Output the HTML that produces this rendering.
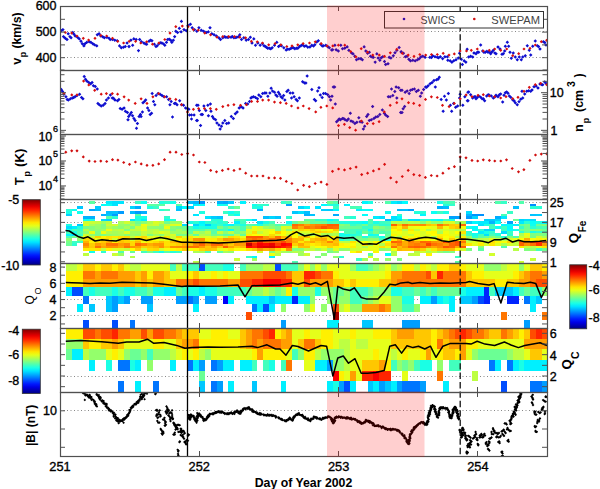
<!DOCTYPE html>
<html><head><meta charset="utf-8"><style>html,body{margin:0;padding:0;background:#fff;overflow:hidden}svg{display:block}</style></head>
<body><svg width="600" height="489" viewBox="0 0 600 489"><defs>
<clipPath id="c0"><rect x="60" y="6" width="487" height="64"/></clipPath>
<clipPath id="c1"><rect x="60" y="70" width="487" height="64"/></clipPath>
<clipPath id="c2"><rect x="60" y="134" width="487" height="65"/></clipPath>
<clipPath id="c3"><rect x="60" y="199" width="487" height="64"/></clipPath>
<clipPath id="c4"><rect x="60" y="263" width="487" height="65"/></clipPath>
<clipPath id="c5"><rect x="60" y="328" width="487" height="64"/></clipPath>
<clipPath id="c6"><rect x="60" y="392" width="487" height="64"/></clipPath>
<linearGradient id="jetg" x1="0" y1="0" x2="0" y2="1"><stop offset="0.00" stop-color="#800000"/><stop offset="0.05" stop-color="#b30000"/><stop offset="0.10" stop-color="#e50000"/><stop offset="0.15" stop-color="#ff1a00"/><stop offset="0.20" stop-color="#ff4c00"/><stop offset="0.25" stop-color="#ff8000"/><stop offset="0.30" stop-color="#ffb300"/><stop offset="0.35" stop-color="#ffe500"/><stop offset="0.40" stop-color="#e5ff1a"/><stop offset="0.45" stop-color="#b3ff4c"/><stop offset="0.50" stop-color="#80ff80"/><stop offset="0.55" stop-color="#4cffb3"/><stop offset="0.60" stop-color="#1affe5"/><stop offset="0.65" stop-color="#00e5ff"/><stop offset="0.70" stop-color="#00b3ff"/><stop offset="0.75" stop-color="#0080ff"/><stop offset="0.80" stop-color="#004cff"/><stop offset="0.85" stop-color="#001aff"/><stop offset="0.90" stop-color="#0000e5"/><stop offset="0.95" stop-color="#0000b3"/><stop offset="1.00" stop-color="#000080"/></linearGradient>
</defs>
<rect x="0" y="0" width="600" height="489" fill="#fff"/>
<line x1="60" y1="31.5" x2="547" y2="31.5" stroke="#888" stroke-width="1" stroke-dasharray="1 2.5"/>
<line x1="60" y1="57.5" x2="547" y2="57.5" stroke="#888" stroke-width="1" stroke-dasharray="1 2.5"/>
<line x1="60" y1="202.5" x2="547" y2="202.5" stroke="#888" stroke-width="1" stroke-dasharray="1 2.5"/>
<line x1="60" y1="222.5" x2="547" y2="222.5" stroke="#888" stroke-width="1" stroke-dasharray="1 2.5"/>
<line x1="60" y1="242.5" x2="547" y2="242.5" stroke="#888" stroke-width="1" stroke-dasharray="1 2.5"/>
<line x1="60" y1="267.5" x2="547" y2="267.5" stroke="#888" stroke-width="1" stroke-dasharray="1 2.5"/>
<line x1="60" y1="283.5" x2="547" y2="283.5" stroke="#888" stroke-width="1" stroke-dasharray="1 2.5"/>
<line x1="60" y1="299.5" x2="547" y2="299.5" stroke="#888" stroke-width="1" stroke-dasharray="1 2.5"/>
<line x1="60" y1="315.5" x2="547" y2="315.5" stroke="#888" stroke-width="1" stroke-dasharray="1 2.5"/>
<line x1="60" y1="333.5" x2="547" y2="333.5" stroke="#888" stroke-width="1" stroke-dasharray="1 2.5"/>
<line x1="60" y1="354.5" x2="547" y2="354.5" stroke="#888" stroke-width="1" stroke-dasharray="1 2.5"/>
<line x1="60" y1="376.5" x2="547" y2="376.5" stroke="#888" stroke-width="1" stroke-dasharray="1 2.5"/>
<line x1="60" y1="410.5" x2="547" y2="410.5" stroke="#888" stroke-width="1" stroke-dasharray="1 2.5"/>
<g shape-rendering="crispEdges">
<rect x="65.80" y="223.62" width="5.85" height="2.51" fill="#1cffe3"/>
<rect x="65.80" y="233.46" width="5.85" height="2.51" fill="#00f6ff"/>
<rect x="65.80" y="231.00" width="5.85" height="2.51" fill="#3fffc0"/>
<rect x="65.80" y="228.54" width="5.85" height="2.51" fill="#1affe5"/>
<rect x="65.80" y="226.08" width="5.85" height="2.51" fill="#00dcff"/>
<rect x="65.80" y="240.85" width="5.85" height="2.51" fill="#76ff89"/>
<rect x="65.80" y="238.38" width="5.85" height="2.51" fill="#8fff70"/>
<rect x="65.80" y="235.92" width="5.85" height="2.51" fill="#4affb5"/>
<rect x="65.80" y="243.31" width="5.85" height="2.51" fill="#6bff94"/>
<rect x="65.80" y="213.77" width="5.85" height="2.51" fill="#00d1ff"/>
<rect x="65.80" y="211.31" width="5.85" height="2.51" fill="#18ffe7"/>
<rect x="65.80" y="208.85" width="5.85" height="2.51" fill="#2affd5"/>
<rect x="71.60" y="233.46" width="5.85" height="2.51" fill="#00dfff"/>
<rect x="71.60" y="231.00" width="5.85" height="2.51" fill="#19ffe6"/>
<rect x="71.60" y="228.54" width="5.85" height="2.51" fill="#51ffae"/>
<rect x="71.60" y="226.08" width="5.85" height="2.51" fill="#00eeff"/>
<rect x="71.60" y="240.85" width="5.85" height="2.51" fill="#3dffc2"/>
<rect x="71.60" y="235.92" width="5.85" height="2.51" fill="#71ff8e"/>
<rect x="71.60" y="243.31" width="5.85" height="2.51" fill="#2cffd3"/>
<rect x="71.60" y="208.85" width="5.85" height="2.51" fill="#0cfff3"/>
<rect x="77.41" y="223.62" width="5.85" height="2.51" fill="#00cbff"/>
<rect x="77.41" y="233.46" width="5.85" height="2.51" fill="#3cffc3"/>
<rect x="77.41" y="231.00" width="5.85" height="2.51" fill="#53ffac"/>
<rect x="77.41" y="228.54" width="5.85" height="2.51" fill="#39ffc6"/>
<rect x="77.41" y="226.08" width="5.85" height="2.51" fill="#23ffdc"/>
<rect x="77.41" y="240.85" width="5.85" height="2.51" fill="#3dffc2"/>
<rect x="77.41" y="238.38" width="5.85" height="2.51" fill="#93ff6c"/>
<rect x="77.41" y="235.92" width="5.85" height="2.51" fill="#9fff60"/>
<rect x="77.41" y="211.31" width="5.85" height="2.51" fill="#11ffee"/>
<rect x="77.41" y="206.38" width="5.85" height="2.51" fill="#00c7ff"/>
<rect x="83.21" y="221.15" width="5.85" height="2.51" fill="#cfff30"/>
<rect x="83.21" y="233.46" width="5.85" height="2.51" fill="#d1ff2e"/>
<rect x="83.21" y="231.00" width="5.85" height="2.51" fill="#94ff6b"/>
<rect x="83.21" y="228.54" width="5.85" height="2.51" fill="#b6ff49"/>
<rect x="83.21" y="226.08" width="5.85" height="2.51" fill="#79ff86"/>
<rect x="83.21" y="223.62" width="5.85" height="2.51" fill="#dcff23"/>
<rect x="83.21" y="238.38" width="5.85" height="2.51" fill="#ffd500"/>
<rect x="83.21" y="235.92" width="5.85" height="2.51" fill="#f1ff0e"/>
<rect x="83.21" y="240.85" width="5.85" height="2.51" fill="#ffb100"/>
<rect x="83.21" y="245.77" width="5.85" height="2.51" fill="#ffa400"/>
<rect x="83.21" y="243.31" width="5.85" height="2.51" fill="#ff8700"/>
<rect x="83.21" y="248.23" width="5.85" height="2.51" fill="#ffed00"/>
<rect x="83.21" y="253.15" width="5.85" height="2.51" fill="#beff41"/>
<rect x="83.21" y="218.69" width="5.85" height="2.51" fill="#0efff1"/>
<rect x="83.21" y="216.23" width="5.85" height="2.51" fill="#00b3ff"/>
<rect x="89.02" y="221.15" width="5.85" height="2.51" fill="#c9ff36"/>
<rect x="89.02" y="233.46" width="5.85" height="2.51" fill="#95ff6a"/>
<rect x="89.02" y="231.00" width="5.85" height="2.51" fill="#ebff14"/>
<rect x="89.02" y="228.54" width="5.85" height="2.51" fill="#86ff79"/>
<rect x="89.02" y="226.08" width="5.85" height="2.51" fill="#81ff7e"/>
<rect x="89.02" y="223.62" width="5.85" height="2.51" fill="#acff53"/>
<rect x="89.02" y="238.38" width="5.85" height="2.51" fill="#ffd700"/>
<rect x="89.02" y="235.92" width="5.85" height="2.51" fill="#ccff33"/>
<rect x="89.02" y="240.85" width="5.85" height="2.51" fill="#fff100"/>
<rect x="89.02" y="245.77" width="5.85" height="2.51" fill="#ffcb00"/>
<rect x="89.02" y="243.31" width="5.85" height="2.51" fill="#ffcf00"/>
<rect x="89.02" y="248.23" width="5.85" height="2.51" fill="#ffea00"/>
<rect x="89.02" y="250.69" width="5.85" height="2.51" fill="#15ffea"/>
<rect x="89.02" y="218.69" width="5.85" height="2.51" fill="#22ffdd"/>
<rect x="89.02" y="216.23" width="5.85" height="2.51" fill="#00b0ff"/>
<rect x="89.02" y="208.85" width="5.85" height="2.51" fill="#00a4ff"/>
<rect x="89.02" y="201.46" width="5.85" height="2.51" fill="#5effa1"/>
<rect x="94.82" y="221.15" width="5.85" height="2.51" fill="#c0ff3f"/>
<rect x="94.82" y="233.46" width="5.85" height="2.51" fill="#76ff89"/>
<rect x="94.82" y="231.00" width="5.85" height="2.51" fill="#7dff82"/>
<rect x="94.82" y="228.54" width="5.85" height="2.51" fill="#8bff74"/>
<rect x="94.82" y="226.08" width="5.85" height="2.51" fill="#94ff6b"/>
<rect x="94.82" y="223.62" width="5.85" height="2.51" fill="#9cff63"/>
<rect x="94.82" y="238.38" width="5.85" height="2.51" fill="#ecff13"/>
<rect x="94.82" y="235.92" width="5.85" height="2.51" fill="#ffd300"/>
<rect x="94.82" y="240.85" width="5.85" height="2.51" fill="#ffdb00"/>
<rect x="94.82" y="245.77" width="5.85" height="2.51" fill="#ff7100"/>
<rect x="94.82" y="243.31" width="5.85" height="2.51" fill="#ff9c00"/>
<rect x="94.82" y="248.23" width="5.85" height="2.51" fill="#ffe700"/>
<rect x="94.82" y="208.85" width="5.85" height="2.51" fill="#00bbff"/>
<rect x="94.82" y="206.38" width="5.85" height="2.51" fill="#00cbff"/>
<rect x="100.62" y="221.15" width="5.85" height="2.51" fill="#a1ff5e"/>
<rect x="100.62" y="233.46" width="5.85" height="2.51" fill="#7dff82"/>
<rect x="100.62" y="231.00" width="5.85" height="2.51" fill="#edff12"/>
<rect x="100.62" y="228.54" width="5.85" height="2.51" fill="#9cff63"/>
<rect x="100.62" y="226.08" width="5.85" height="2.51" fill="#82ff7d"/>
<rect x="100.62" y="223.62" width="5.85" height="2.51" fill="#7eff81"/>
<rect x="100.62" y="238.38" width="5.85" height="2.51" fill="#ffe400"/>
<rect x="100.62" y="235.92" width="5.85" height="2.51" fill="#fff500"/>
<rect x="100.62" y="240.85" width="5.85" height="2.51" fill="#ffca00"/>
<rect x="100.62" y="245.77" width="5.85" height="2.51" fill="#ffa600"/>
<rect x="100.62" y="243.31" width="5.85" height="2.51" fill="#ffb400"/>
<rect x="100.62" y="248.23" width="5.85" height="2.51" fill="#c3ff3c"/>
<rect x="100.62" y="250.69" width="5.85" height="2.51" fill="#2effd1"/>
<rect x="100.62" y="218.69" width="5.85" height="2.51" fill="#00d8ff"/>
<rect x="100.62" y="213.77" width="5.85" height="2.51" fill="#00b2ff"/>
<rect x="100.62" y="203.92" width="5.85" height="2.51" fill="#05fffa"/>
<rect x="106.43" y="221.15" width="5.85" height="2.51" fill="#b9ff46"/>
<rect x="106.43" y="233.46" width="5.85" height="2.51" fill="#92ff6d"/>
<rect x="106.43" y="231.00" width="5.85" height="2.51" fill="#b1ff4e"/>
<rect x="106.43" y="228.54" width="5.85" height="2.51" fill="#ebff14"/>
<rect x="106.43" y="226.08" width="5.85" height="2.51" fill="#b0ff4f"/>
<rect x="106.43" y="223.62" width="5.85" height="2.51" fill="#cdff32"/>
<rect x="106.43" y="238.38" width="5.85" height="2.51" fill="#ffe200"/>
<rect x="106.43" y="235.92" width="5.85" height="2.51" fill="#ffe400"/>
<rect x="106.43" y="240.85" width="5.85" height="2.51" fill="#ffaf00"/>
<rect x="106.43" y="245.77" width="5.85" height="2.51" fill="#ff9200"/>
<rect x="106.43" y="243.31" width="5.85" height="2.51" fill="#ff7500"/>
<rect x="106.43" y="248.23" width="5.85" height="2.51" fill="#fff600"/>
<rect x="106.43" y="218.69" width="5.85" height="2.51" fill="#00d0ff"/>
<rect x="106.43" y="216.23" width="5.85" height="2.51" fill="#59ffa6"/>
<rect x="106.43" y="213.77" width="5.85" height="2.51" fill="#00c7ff"/>
<rect x="106.43" y="211.31" width="5.85" height="2.51" fill="#00beff"/>
<rect x="106.43" y="203.92" width="5.85" height="2.51" fill="#0bfff4"/>
<rect x="106.43" y="201.46" width="5.85" height="2.51" fill="#00eeff"/>
<rect x="112.23" y="233.46" width="5.85" height="2.51" fill="#9cff63"/>
<rect x="112.23" y="231.00" width="5.85" height="2.51" fill="#a5ff5a"/>
<rect x="112.23" y="228.54" width="5.85" height="2.51" fill="#b9ff46"/>
<rect x="112.23" y="226.08" width="5.85" height="2.51" fill="#9aff65"/>
<rect x="112.23" y="223.62" width="5.85" height="2.51" fill="#d0ff2f"/>
<rect x="112.23" y="238.38" width="5.85" height="2.51" fill="#caff35"/>
<rect x="112.23" y="235.92" width="5.85" height="2.51" fill="#ffeb00"/>
<rect x="112.23" y="240.85" width="5.85" height="2.51" fill="#ffef00"/>
<rect x="112.23" y="245.77" width="5.85" height="2.51" fill="#ff9200"/>
<rect x="112.23" y="243.31" width="5.85" height="2.51" fill="#ff7100"/>
<rect x="112.23" y="248.23" width="5.85" height="2.51" fill="#dcff23"/>
<rect x="112.23" y="253.15" width="5.85" height="2.51" fill="#c9ff36"/>
<rect x="112.23" y="216.23" width="5.85" height="2.51" fill="#2dffd2"/>
<rect x="112.23" y="213.77" width="5.85" height="2.51" fill="#009bff"/>
<rect x="112.23" y="211.31" width="5.85" height="2.51" fill="#00c0ff"/>
<rect x="112.23" y="203.92" width="5.85" height="2.51" fill="#00e5ff"/>
<rect x="112.23" y="201.46" width="5.85" height="2.51" fill="#00e1ff"/>
<rect x="118.04" y="221.15" width="5.85" height="2.51" fill="#aaff55"/>
<rect x="118.04" y="233.46" width="5.85" height="2.51" fill="#a4ff5b"/>
<rect x="118.04" y="231.00" width="5.85" height="2.51" fill="#aeff51"/>
<rect x="118.04" y="228.54" width="5.85" height="2.51" fill="#c1ff3e"/>
<rect x="118.04" y="226.08" width="5.85" height="2.51" fill="#8bff74"/>
<rect x="118.04" y="223.62" width="5.85" height="2.51" fill="#97ff68"/>
<rect x="118.04" y="238.38" width="5.85" height="2.51" fill="#ffcc00"/>
<rect x="118.04" y="235.92" width="5.85" height="2.51" fill="#ffde00"/>
<rect x="118.04" y="240.85" width="5.85" height="2.51" fill="#ffc200"/>
<rect x="118.04" y="245.77" width="5.85" height="2.51" fill="#ffa800"/>
<rect x="118.04" y="243.31" width="5.85" height="2.51" fill="#ff9b00"/>
<rect x="118.04" y="248.23" width="5.85" height="2.51" fill="#daff25"/>
<rect x="118.04" y="250.69" width="5.85" height="2.51" fill="#52ffad"/>
<rect x="118.04" y="253.15" width="5.85" height="2.51" fill="#9bff64"/>
<rect x="118.04" y="211.31" width="5.85" height="2.51" fill="#009cff"/>
<rect x="118.04" y="201.46" width="5.85" height="2.51" fill="#00e4ff"/>
<rect x="123.84" y="221.15" width="5.85" height="2.51" fill="#ceff31"/>
<rect x="123.84" y="233.46" width="5.85" height="2.51" fill="#86ff79"/>
<rect x="123.84" y="231.00" width="5.85" height="2.51" fill="#daff25"/>
<rect x="123.84" y="228.54" width="5.85" height="2.51" fill="#7bff84"/>
<rect x="123.84" y="226.08" width="5.85" height="2.51" fill="#a7ff58"/>
<rect x="123.84" y="223.62" width="5.85" height="2.51" fill="#91ff6e"/>
<rect x="123.84" y="238.38" width="5.85" height="2.51" fill="#ffda00"/>
<rect x="123.84" y="235.92" width="5.85" height="2.51" fill="#ffd500"/>
<rect x="123.84" y="240.85" width="5.85" height="2.51" fill="#ffd100"/>
<rect x="123.84" y="245.77" width="5.85" height="2.51" fill="#ff7700"/>
<rect x="123.84" y="243.31" width="5.85" height="2.51" fill="#ff8900"/>
<rect x="123.84" y="248.23" width="5.85" height="2.51" fill="#c4ff3b"/>
<rect x="129.64" y="221.15" width="5.85" height="2.51" fill="#9bff64"/>
<rect x="129.64" y="233.46" width="5.85" height="2.51" fill="#9fff60"/>
<rect x="129.64" y="231.00" width="5.85" height="2.51" fill="#a1ff5e"/>
<rect x="129.64" y="228.54" width="5.85" height="2.51" fill="#c2ff3d"/>
<rect x="129.64" y="226.08" width="5.85" height="2.51" fill="#7eff81"/>
<rect x="129.64" y="223.62" width="5.85" height="2.51" fill="#b4ff4b"/>
<rect x="129.64" y="238.38" width="5.85" height="2.51" fill="#d4ff2b"/>
<rect x="129.64" y="235.92" width="5.85" height="2.51" fill="#c4ff3b"/>
<rect x="129.64" y="240.85" width="5.85" height="2.51" fill="#ffdc00"/>
<rect x="129.64" y="245.77" width="5.85" height="2.51" fill="#ff9600"/>
<rect x="129.64" y="243.31" width="5.85" height="2.51" fill="#ffd900"/>
<rect x="129.64" y="248.23" width="5.85" height="2.51" fill="#ffff00"/>
<rect x="129.64" y="250.69" width="5.85" height="2.51" fill="#64ff9b"/>
<rect x="129.64" y="218.69" width="5.85" height="2.51" fill="#00e9ff"/>
<rect x="129.64" y="211.31" width="5.85" height="2.51" fill="#00b9ff"/>
<rect x="129.64" y="206.38" width="5.85" height="2.51" fill="#00d3ff"/>
<rect x="129.64" y="255.62" width="5.85" height="2.51" fill="#b6ff49"/>
<rect x="135.45" y="221.15" width="5.85" height="2.51" fill="#6aff95"/>
<rect x="135.45" y="233.46" width="5.85" height="2.51" fill="#8fff70"/>
<rect x="135.45" y="231.00" width="5.85" height="2.51" fill="#a0ff5f"/>
<rect x="135.45" y="228.54" width="5.85" height="2.51" fill="#c2ff3d"/>
<rect x="135.45" y="226.08" width="5.85" height="2.51" fill="#ccff33"/>
<rect x="135.45" y="223.62" width="5.85" height="2.51" fill="#89ff76"/>
<rect x="135.45" y="238.38" width="5.85" height="2.51" fill="#ffdf00"/>
<rect x="135.45" y="235.92" width="5.85" height="2.51" fill="#ffee00"/>
<rect x="135.45" y="240.85" width="5.85" height="2.51" fill="#ffb900"/>
<rect x="135.45" y="245.77" width="5.85" height="2.51" fill="#ffa400"/>
<rect x="135.45" y="243.31" width="5.85" height="2.51" fill="#ff6f00"/>
<rect x="135.45" y="248.23" width="5.85" height="2.51" fill="#ffce00"/>
<rect x="135.45" y="218.69" width="5.85" height="2.51" fill="#1fffe0"/>
<rect x="135.45" y="216.23" width="5.85" height="2.51" fill="#20ffdf"/>
<rect x="135.45" y="213.77" width="5.85" height="2.51" fill="#59ffa6"/>
<rect x="135.45" y="211.31" width="5.85" height="2.51" fill="#0099ff"/>
<rect x="135.45" y="206.38" width="5.85" height="2.51" fill="#00adff"/>
<rect x="135.45" y="201.46" width="5.85" height="2.51" fill="#35ffca"/>
<rect x="141.25" y="221.15" width="5.85" height="2.51" fill="#8cff73"/>
<rect x="141.25" y="233.46" width="5.85" height="2.51" fill="#c0ff3f"/>
<rect x="141.25" y="231.00" width="5.85" height="2.51" fill="#c4ff3b"/>
<rect x="141.25" y="228.54" width="5.85" height="2.51" fill="#e7ff18"/>
<rect x="141.25" y="226.08" width="5.85" height="2.51" fill="#e1ff1e"/>
<rect x="141.25" y="223.62" width="5.85" height="2.51" fill="#efff10"/>
<rect x="141.25" y="238.38" width="5.85" height="2.51" fill="#ffe200"/>
<rect x="141.25" y="235.92" width="5.85" height="2.51" fill="#ffd500"/>
<rect x="141.25" y="240.85" width="5.85" height="2.51" fill="#f0ff0f"/>
<rect x="141.25" y="245.77" width="5.85" height="2.51" fill="#ffd000"/>
<rect x="141.25" y="243.31" width="5.85" height="2.51" fill="#ff8200"/>
<rect x="141.25" y="248.23" width="5.85" height="2.51" fill="#cdff32"/>
<rect x="141.25" y="250.69" width="5.85" height="2.51" fill="#43ffbc"/>
<rect x="141.25" y="218.69" width="5.85" height="2.51" fill="#00f0ff"/>
<rect x="141.25" y="216.23" width="5.85" height="2.51" fill="#17ffe8"/>
<rect x="141.25" y="211.31" width="5.85" height="2.51" fill="#00b1ff"/>
<rect x="141.25" y="201.46" width="5.85" height="2.51" fill="#0cfff3"/>
<rect x="147.06" y="221.15" width="5.85" height="2.51" fill="#b2ff4d"/>
<rect x="147.06" y="233.46" width="5.85" height="2.51" fill="#82ff7d"/>
<rect x="147.06" y="231.00" width="5.85" height="2.51" fill="#b5ff4a"/>
<rect x="147.06" y="228.54" width="5.85" height="2.51" fill="#b4ff4b"/>
<rect x="147.06" y="226.08" width="5.85" height="2.51" fill="#93ff6c"/>
<rect x="147.06" y="223.62" width="5.85" height="2.51" fill="#c4ff3b"/>
<rect x="147.06" y="238.38" width="5.85" height="2.51" fill="#ffe500"/>
<rect x="147.06" y="235.92" width="5.85" height="2.51" fill="#dcff23"/>
<rect x="147.06" y="240.85" width="5.85" height="2.51" fill="#ffea00"/>
<rect x="147.06" y="245.77" width="5.85" height="2.51" fill="#ffc500"/>
<rect x="147.06" y="243.31" width="5.85" height="2.51" fill="#ffad00"/>
<rect x="147.06" y="248.23" width="5.85" height="2.51" fill="#ffdd00"/>
<rect x="147.06" y="250.69" width="5.85" height="2.51" fill="#72ff8d"/>
<rect x="147.06" y="206.38" width="5.85" height="2.51" fill="#20ffdf"/>
<rect x="147.06" y="203.92" width="5.85" height="2.51" fill="#61ff9e"/>
<rect x="152.86" y="221.15" width="5.85" height="2.51" fill="#daff25"/>
<rect x="152.86" y="233.46" width="5.85" height="2.51" fill="#a5ff5a"/>
<rect x="152.86" y="231.00" width="5.85" height="2.51" fill="#c7ff38"/>
<rect x="152.86" y="228.54" width="5.85" height="2.51" fill="#bcff43"/>
<rect x="152.86" y="226.08" width="5.85" height="2.51" fill="#8dff72"/>
<rect x="152.86" y="223.62" width="5.85" height="2.51" fill="#cfff30"/>
<rect x="152.86" y="238.38" width="5.85" height="2.51" fill="#f8ff07"/>
<rect x="152.86" y="235.92" width="5.85" height="2.51" fill="#eaff15"/>
<rect x="152.86" y="240.85" width="5.85" height="2.51" fill="#ffdb00"/>
<rect x="152.86" y="245.77" width="5.85" height="2.51" fill="#ffb600"/>
<rect x="152.86" y="243.31" width="5.85" height="2.51" fill="#ff9c00"/>
<rect x="152.86" y="248.23" width="5.85" height="2.51" fill="#ffd700"/>
<rect x="152.86" y="250.69" width="5.85" height="2.51" fill="#3dffc2"/>
<rect x="152.86" y="206.38" width="5.85" height="2.51" fill="#39ffc6"/>
<rect x="152.86" y="203.92" width="5.85" height="2.51" fill="#5affa5"/>
<rect x="158.66" y="221.15" width="5.85" height="2.51" fill="#c2ff3d"/>
<rect x="158.66" y="233.46" width="5.85" height="2.51" fill="#8eff71"/>
<rect x="158.66" y="231.00" width="5.85" height="2.51" fill="#e2ff1d"/>
<rect x="158.66" y="228.54" width="5.85" height="2.51" fill="#9bff64"/>
<rect x="158.66" y="226.08" width="5.85" height="2.51" fill="#87ff78"/>
<rect x="158.66" y="223.62" width="5.85" height="2.51" fill="#96ff69"/>
<rect x="158.66" y="238.38" width="5.85" height="2.51" fill="#e1ff1e"/>
<rect x="158.66" y="235.92" width="5.85" height="2.51" fill="#d6ff29"/>
<rect x="158.66" y="240.85" width="5.85" height="2.51" fill="#ffc100"/>
<rect x="158.66" y="245.77" width="5.85" height="2.51" fill="#ff9100"/>
<rect x="158.66" y="243.31" width="5.85" height="2.51" fill="#ff9600"/>
<rect x="158.66" y="248.23" width="5.85" height="2.51" fill="#d4ff2b"/>
<rect x="158.66" y="250.69" width="5.85" height="2.51" fill="#16ffe9"/>
<rect x="158.66" y="208.85" width="5.85" height="2.51" fill="#2affd5"/>
<rect x="158.66" y="203.92" width="5.85" height="2.51" fill="#5fffa0"/>
<rect x="158.66" y="201.46" width="5.85" height="2.51" fill="#1effe1"/>
<rect x="164.47" y="221.15" width="5.85" height="2.51" fill="#70ff8f"/>
<rect x="164.47" y="233.46" width="5.85" height="2.51" fill="#c5ff3a"/>
<rect x="164.47" y="231.00" width="5.85" height="2.51" fill="#ceff31"/>
<rect x="164.47" y="228.54" width="5.85" height="2.51" fill="#acff53"/>
<rect x="164.47" y="226.08" width="5.85" height="2.51" fill="#ebff14"/>
<rect x="164.47" y="223.62" width="5.85" height="2.51" fill="#c3ff3c"/>
<rect x="164.47" y="238.38" width="5.85" height="2.51" fill="#e9ff16"/>
<rect x="164.47" y="235.92" width="5.85" height="2.51" fill="#ffe500"/>
<rect x="164.47" y="240.85" width="5.85" height="2.51" fill="#ffe100"/>
<rect x="164.47" y="245.77" width="5.85" height="2.51" fill="#ffca00"/>
<rect x="164.47" y="243.31" width="5.85" height="2.51" fill="#ffe300"/>
<rect x="164.47" y="248.23" width="5.85" height="2.51" fill="#f4ff0b"/>
<rect x="164.47" y="250.69" width="5.85" height="2.51" fill="#57ffa8"/>
<rect x="164.47" y="218.69" width="5.85" height="2.51" fill="#0ffff0"/>
<rect x="164.47" y="216.23" width="5.85" height="2.51" fill="#32ffcd"/>
<rect x="164.47" y="208.85" width="5.85" height="2.51" fill="#49ffb6"/>
<rect x="164.47" y="201.46" width="5.85" height="2.51" fill="#2bffd4"/>
<rect x="170.27" y="221.15" width="5.85" height="2.51" fill="#9dff62"/>
<rect x="170.27" y="233.46" width="5.85" height="2.51" fill="#d7ff28"/>
<rect x="170.27" y="231.00" width="5.85" height="2.51" fill="#9dff62"/>
<rect x="170.27" y="228.54" width="5.85" height="2.51" fill="#7bff84"/>
<rect x="170.27" y="226.08" width="5.85" height="2.51" fill="#88ff77"/>
<rect x="170.27" y="223.62" width="5.85" height="2.51" fill="#ddff22"/>
<rect x="170.27" y="238.38" width="5.85" height="2.51" fill="#caff35"/>
<rect x="170.27" y="235.92" width="5.85" height="2.51" fill="#cbff34"/>
<rect x="170.27" y="240.85" width="5.85" height="2.51" fill="#ffbb00"/>
<rect x="170.27" y="245.77" width="5.85" height="2.51" fill="#ff9000"/>
<rect x="170.27" y="243.31" width="5.85" height="2.51" fill="#ffdb00"/>
<rect x="170.27" y="248.23" width="5.85" height="2.51" fill="#fff800"/>
<rect x="170.27" y="250.69" width="5.85" height="2.51" fill="#28ffd7"/>
<rect x="170.27" y="218.69" width="5.85" height="2.51" fill="#23ffdc"/>
<rect x="170.27" y="201.46" width="5.85" height="2.51" fill="#14ffeb"/>
<rect x="176.08" y="221.15" width="5.85" height="2.51" fill="#a1ff5e"/>
<rect x="176.08" y="233.46" width="5.85" height="2.51" fill="#76ff89"/>
<rect x="176.08" y="231.00" width="5.85" height="2.51" fill="#9cff63"/>
<rect x="176.08" y="228.54" width="5.85" height="2.51" fill="#a1ff5e"/>
<rect x="176.08" y="226.08" width="5.85" height="2.51" fill="#7aff85"/>
<rect x="176.08" y="223.62" width="5.85" height="2.51" fill="#e2ff1d"/>
<rect x="176.08" y="238.38" width="5.85" height="2.51" fill="#fffa00"/>
<rect x="176.08" y="235.92" width="5.85" height="2.51" fill="#ffd000"/>
<rect x="176.08" y="240.85" width="5.85" height="2.51" fill="#ffa200"/>
<rect x="176.08" y="245.77" width="5.85" height="2.51" fill="#ff8d00"/>
<rect x="176.08" y="243.31" width="5.85" height="2.51" fill="#ffd100"/>
<rect x="176.08" y="248.23" width="5.85" height="2.51" fill="#fff000"/>
<rect x="176.08" y="250.69" width="5.85" height="2.51" fill="#3fffc0"/>
<rect x="176.08" y="208.85" width="5.85" height="2.51" fill="#00c1ff"/>
<rect x="176.08" y="206.38" width="5.85" height="2.51" fill="#00d4ff"/>
<rect x="176.08" y="203.92" width="5.85" height="2.51" fill="#56ffa9"/>
<rect x="181.88" y="223.62" width="5.85" height="2.51" fill="#00deff"/>
<rect x="181.88" y="228.54" width="5.85" height="2.51" fill="#7cff83"/>
<rect x="181.88" y="226.08" width="5.85" height="2.51" fill="#72ff8d"/>
<rect x="181.88" y="233.46" width="5.85" height="2.51" fill="#77ff88"/>
<rect x="181.88" y="231.00" width="5.85" height="2.51" fill="#a8ff57"/>
<rect x="181.88" y="235.92" width="5.85" height="2.51" fill="#d5ff2a"/>
<rect x="181.88" y="240.85" width="5.85" height="2.51" fill="#ffe800"/>
<rect x="181.88" y="238.38" width="5.85" height="2.51" fill="#ffe500"/>
<rect x="181.88" y="245.77" width="5.85" height="2.51" fill="#ff9000"/>
<rect x="181.88" y="243.31" width="5.85" height="2.51" fill="#ffb100"/>
<rect x="181.88" y="248.23" width="5.85" height="2.51" fill="#ffc900"/>
<rect x="181.88" y="206.38" width="5.85" height="2.51" fill="#00fdff"/>
<rect x="187.68" y="221.15" width="5.85" height="2.51" fill="#18ffe7"/>
<rect x="187.68" y="228.54" width="5.85" height="2.51" fill="#4cffb3"/>
<rect x="187.68" y="226.08" width="5.85" height="2.51" fill="#46ffb9"/>
<rect x="187.68" y="233.46" width="5.85" height="2.51" fill="#a1ff5e"/>
<rect x="187.68" y="231.00" width="5.85" height="2.51" fill="#5dffa2"/>
<rect x="187.68" y="235.92" width="5.85" height="2.51" fill="#ffe600"/>
<rect x="187.68" y="240.85" width="5.85" height="2.51" fill="#ffee00"/>
<rect x="187.68" y="238.38" width="5.85" height="2.51" fill="#ffd600"/>
<rect x="187.68" y="245.77" width="5.85" height="2.51" fill="#ff7100"/>
<rect x="187.68" y="243.31" width="5.85" height="2.51" fill="#ffbf00"/>
<rect x="187.68" y="248.23" width="5.85" height="2.51" fill="#f5ff0a"/>
<rect x="187.68" y="206.38" width="5.85" height="2.51" fill="#00d5ff"/>
<rect x="187.68" y="201.46" width="5.85" height="2.51" fill="#00c3ff"/>
<rect x="193.49" y="221.15" width="5.85" height="2.51" fill="#2affd5"/>
<rect x="193.49" y="223.62" width="5.85" height="2.51" fill="#00d5ff"/>
<rect x="193.49" y="228.54" width="5.85" height="2.51" fill="#54ffab"/>
<rect x="193.49" y="226.08" width="5.85" height="2.51" fill="#11ffee"/>
<rect x="193.49" y="233.46" width="5.85" height="2.51" fill="#5cffa3"/>
<rect x="193.49" y="231.00" width="5.85" height="2.51" fill="#b9ff46"/>
<rect x="193.49" y="235.92" width="5.85" height="2.51" fill="#e4ff1b"/>
<rect x="193.49" y="240.85" width="5.85" height="2.51" fill="#ffe300"/>
<rect x="193.49" y="238.38" width="5.85" height="2.51" fill="#ff9400"/>
<rect x="193.49" y="245.77" width="5.85" height="2.51" fill="#ff7300"/>
<rect x="193.49" y="243.31" width="5.85" height="2.51" fill="#ff8b00"/>
<rect x="193.49" y="248.23" width="5.85" height="2.51" fill="#fff800"/>
<rect x="193.49" y="250.69" width="5.85" height="2.51" fill="#a9ff56"/>
<rect x="193.49" y="213.77" width="5.85" height="2.51" fill="#00e8ff"/>
<rect x="193.49" y="203.92" width="5.85" height="2.51" fill="#00f3ff"/>
<rect x="193.49" y="201.46" width="5.85" height="2.51" fill="#00b7ff"/>
<rect x="193.49" y="260.54" width="5.85" height="2.51" fill="#bcff43"/>
<rect x="199.29" y="221.15" width="5.85" height="2.51" fill="#00f9ff"/>
<rect x="199.29" y="223.62" width="5.85" height="2.51" fill="#03fffc"/>
<rect x="199.29" y="228.54" width="5.85" height="2.51" fill="#51ffae"/>
<rect x="199.29" y="226.08" width="5.85" height="2.51" fill="#23ffdc"/>
<rect x="199.29" y="233.46" width="5.85" height="2.51" fill="#b5ff4a"/>
<rect x="199.29" y="231.00" width="5.85" height="2.51" fill="#9dff62"/>
<rect x="199.29" y="235.92" width="5.85" height="2.51" fill="#d3ff2c"/>
<rect x="199.29" y="240.85" width="5.85" height="2.51" fill="#ffc000"/>
<rect x="199.29" y="238.38" width="5.85" height="2.51" fill="#ff9100"/>
<rect x="199.29" y="245.77" width="5.85" height="2.51" fill="#ff9c00"/>
<rect x="199.29" y="243.31" width="5.85" height="2.51" fill="#ff6400"/>
<rect x="199.29" y="248.23" width="5.85" height="2.51" fill="#ffd400"/>
<rect x="199.29" y="250.69" width="5.85" height="2.51" fill="#a9ff56"/>
<rect x="199.29" y="211.31" width="5.85" height="2.51" fill="#1dffe2"/>
<rect x="199.29" y="203.92" width="5.85" height="2.51" fill="#05fffa"/>
<rect x="199.29" y="201.46" width="5.85" height="2.51" fill="#0095ff"/>
<rect x="205.10" y="221.15" width="5.85" height="2.51" fill="#2dffd2"/>
<rect x="205.10" y="223.62" width="5.85" height="2.51" fill="#00caff"/>
<rect x="205.10" y="228.54" width="5.85" height="2.51" fill="#7dff82"/>
<rect x="205.10" y="226.08" width="5.85" height="2.51" fill="#13ffec"/>
<rect x="205.10" y="233.46" width="5.85" height="2.51" fill="#a7ff58"/>
<rect x="205.10" y="231.00" width="5.85" height="2.51" fill="#beff41"/>
<rect x="205.10" y="235.92" width="5.85" height="2.51" fill="#e2ff1d"/>
<rect x="205.10" y="240.85" width="5.85" height="2.51" fill="#fffb00"/>
<rect x="205.10" y="238.38" width="5.85" height="2.51" fill="#ffee00"/>
<rect x="205.10" y="245.77" width="5.85" height="2.51" fill="#ffc800"/>
<rect x="205.10" y="243.31" width="5.85" height="2.51" fill="#ffa000"/>
<rect x="205.10" y="248.23" width="5.85" height="2.51" fill="#ffc300"/>
<rect x="205.10" y="250.69" width="5.85" height="2.51" fill="#4fffb0"/>
<rect x="205.10" y="216.23" width="5.85" height="2.51" fill="#00e5ff"/>
<rect x="210.90" y="221.15" width="5.85" height="2.51" fill="#36ffc9"/>
<rect x="210.90" y="223.62" width="5.85" height="2.51" fill="#14ffeb"/>
<rect x="210.90" y="228.54" width="5.85" height="2.51" fill="#5dffa2"/>
<rect x="210.90" y="226.08" width="5.85" height="2.51" fill="#1cffe3"/>
<rect x="210.90" y="233.46" width="5.85" height="2.51" fill="#73ff8c"/>
<rect x="210.90" y="231.00" width="5.85" height="2.51" fill="#59ffa6"/>
<rect x="210.90" y="235.92" width="5.85" height="2.51" fill="#cbff34"/>
<rect x="210.90" y="240.85" width="5.85" height="2.51" fill="#ffd300"/>
<rect x="210.90" y="238.38" width="5.85" height="2.51" fill="#ffec00"/>
<rect x="210.90" y="245.77" width="5.85" height="2.51" fill="#ffa000"/>
<rect x="210.90" y="243.31" width="5.85" height="2.51" fill="#ff6c00"/>
<rect x="210.90" y="248.23" width="5.85" height="2.51" fill="#ffcc00"/>
<rect x="210.90" y="218.69" width="5.85" height="2.51" fill="#26ffd9"/>
<rect x="210.90" y="216.23" width="5.85" height="2.51" fill="#00cdff"/>
<rect x="216.70" y="221.15" width="5.85" height="2.51" fill="#24ffdb"/>
<rect x="216.70" y="223.62" width="5.85" height="2.51" fill="#38ffc7"/>
<rect x="216.70" y="228.54" width="5.85" height="2.51" fill="#39ffc6"/>
<rect x="216.70" y="226.08" width="5.85" height="2.51" fill="#7dff82"/>
<rect x="216.70" y="233.46" width="5.85" height="2.51" fill="#78ff87"/>
<rect x="216.70" y="231.00" width="5.85" height="2.51" fill="#c4ff3b"/>
<rect x="216.70" y="235.92" width="5.85" height="2.51" fill="#eeff11"/>
<rect x="216.70" y="240.85" width="5.85" height="2.51" fill="#ffd500"/>
<rect x="216.70" y="238.38" width="5.85" height="2.51" fill="#ffcb00"/>
<rect x="216.70" y="245.77" width="5.85" height="2.51" fill="#ffc700"/>
<rect x="216.70" y="243.31" width="5.85" height="2.51" fill="#ff6d00"/>
<rect x="216.70" y="248.23" width="5.85" height="2.51" fill="#e7ff18"/>
<rect x="216.70" y="250.69" width="5.85" height="2.51" fill="#59ffa6"/>
<rect x="216.70" y="218.69" width="5.85" height="2.51" fill="#2dffd2"/>
<rect x="216.70" y="216.23" width="5.85" height="2.51" fill="#00c3ff"/>
<rect x="216.70" y="203.92" width="5.85" height="2.51" fill="#0dfff2"/>
<rect x="216.70" y="201.46" width="5.85" height="2.51" fill="#00b1ff"/>
<rect x="222.51" y="221.15" width="5.85" height="2.51" fill="#3dffc2"/>
<rect x="222.51" y="223.62" width="5.85" height="2.51" fill="#0efff1"/>
<rect x="222.51" y="228.54" width="5.85" height="2.51" fill="#44ffbb"/>
<rect x="222.51" y="226.08" width="5.85" height="2.51" fill="#51ffae"/>
<rect x="222.51" y="233.46" width="5.85" height="2.51" fill="#5affa5"/>
<rect x="222.51" y="231.00" width="5.85" height="2.51" fill="#8cff73"/>
<rect x="222.51" y="235.92" width="5.85" height="2.51" fill="#bdff42"/>
<rect x="222.51" y="240.85" width="5.85" height="2.51" fill="#ffd500"/>
<rect x="222.51" y="238.38" width="5.85" height="2.51" fill="#ff9500"/>
<rect x="222.51" y="245.77" width="5.85" height="2.51" fill="#ff5a00"/>
<rect x="222.51" y="243.31" width="5.85" height="2.51" fill="#ffa700"/>
<rect x="222.51" y="248.23" width="5.85" height="2.51" fill="#f0ff0f"/>
<rect x="222.51" y="250.69" width="5.85" height="2.51" fill="#a4ff5b"/>
<rect x="222.51" y="211.31" width="5.85" height="2.51" fill="#39ffc6"/>
<rect x="222.51" y="203.92" width="5.85" height="2.51" fill="#14ffeb"/>
<rect x="222.51" y="201.46" width="5.85" height="2.51" fill="#00a8ff"/>
<rect x="228.31" y="223.62" width="5.85" height="2.51" fill="#00f7ff"/>
<rect x="228.31" y="228.54" width="5.85" height="2.51" fill="#05fffa"/>
<rect x="228.31" y="226.08" width="5.85" height="2.51" fill="#7dff82"/>
<rect x="228.31" y="233.46" width="5.85" height="2.51" fill="#5fffa0"/>
<rect x="228.31" y="231.00" width="5.85" height="2.51" fill="#bcff43"/>
<rect x="228.31" y="235.92" width="5.85" height="2.51" fill="#ffdc00"/>
<rect x="228.31" y="240.85" width="5.85" height="2.51" fill="#ffca00"/>
<rect x="228.31" y="238.38" width="5.85" height="2.51" fill="#ff9e00"/>
<rect x="228.31" y="245.77" width="5.85" height="2.51" fill="#ffa400"/>
<rect x="228.31" y="243.31" width="5.85" height="2.51" fill="#ffcb00"/>
<rect x="228.31" y="248.23" width="5.85" height="2.51" fill="#ffe800"/>
<rect x="228.31" y="250.69" width="5.85" height="2.51" fill="#94ff6b"/>
<rect x="228.31" y="213.77" width="5.85" height="2.51" fill="#3cffc3"/>
<rect x="228.31" y="211.31" width="5.85" height="2.51" fill="#0efff1"/>
<rect x="228.31" y="206.38" width="5.85" height="2.51" fill="#3cffc3"/>
<rect x="228.31" y="201.46" width="5.85" height="2.51" fill="#00c8ff"/>
<rect x="234.12" y="221.15" width="5.85" height="2.51" fill="#00f3ff"/>
<rect x="234.12" y="223.62" width="5.85" height="2.51" fill="#32ffcd"/>
<rect x="234.12" y="228.54" width="5.85" height="2.51" fill="#70ff8f"/>
<rect x="234.12" y="226.08" width="5.85" height="2.51" fill="#70ff8f"/>
<rect x="234.12" y="233.46" width="5.85" height="2.51" fill="#b7ff48"/>
<rect x="234.12" y="231.00" width="5.85" height="2.51" fill="#76ff89"/>
<rect x="234.12" y="235.92" width="5.85" height="2.51" fill="#ffe500"/>
<rect x="234.12" y="240.85" width="5.85" height="2.51" fill="#ffbb00"/>
<rect x="234.12" y="238.38" width="5.85" height="2.51" fill="#ffc100"/>
<rect x="234.12" y="245.77" width="5.85" height="2.51" fill="#ffcb00"/>
<rect x="234.12" y="243.31" width="5.85" height="2.51" fill="#ff9900"/>
<rect x="234.12" y="248.23" width="5.85" height="2.51" fill="#fbff04"/>
<rect x="234.12" y="218.69" width="5.85" height="2.51" fill="#46ffb9"/>
<rect x="234.12" y="213.77" width="5.85" height="2.51" fill="#08fff7"/>
<rect x="234.12" y="211.31" width="5.85" height="2.51" fill="#31ffce"/>
<rect x="234.12" y="206.38" width="5.85" height="2.51" fill="#6cff93"/>
<rect x="234.12" y="258.08" width="5.85" height="2.51" fill="#cbff34"/>
<rect x="239.92" y="221.15" width="5.85" height="2.51" fill="#3effc1"/>
<rect x="239.92" y="223.62" width="5.85" height="2.51" fill="#1cffe3"/>
<rect x="239.92" y="228.54" width="5.85" height="2.51" fill="#46ffb9"/>
<rect x="239.92" y="226.08" width="5.85" height="2.51" fill="#48ffb7"/>
<rect x="239.92" y="233.46" width="5.85" height="2.51" fill="#65ff9a"/>
<rect x="239.92" y="231.00" width="5.85" height="2.51" fill="#94ff6b"/>
<rect x="239.92" y="235.92" width="5.85" height="2.51" fill="#e7ff18"/>
<rect x="239.92" y="240.85" width="5.85" height="2.51" fill="#ff9600"/>
<rect x="239.92" y="238.38" width="5.85" height="2.51" fill="#ffdf00"/>
<rect x="239.92" y="245.77" width="5.85" height="2.51" fill="#ffba00"/>
<rect x="239.92" y="243.31" width="5.85" height="2.51" fill="#ff9900"/>
<rect x="239.92" y="248.23" width="5.85" height="2.51" fill="#fdff02"/>
<rect x="239.92" y="218.69" width="5.85" height="2.51" fill="#4bffb4"/>
<rect x="239.92" y="201.46" width="5.85" height="2.51" fill="#00f2ff"/>
<rect x="245.72" y="223.62" width="5.85" height="2.51" fill="#54ffab"/>
<rect x="245.72" y="228.54" width="5.85" height="2.51" fill="#e6ff19"/>
<rect x="245.72" y="226.08" width="5.85" height="2.51" fill="#96ff69"/>
<rect x="245.72" y="233.46" width="5.85" height="2.51" fill="#fff300"/>
<rect x="245.72" y="231.00" width="5.85" height="2.51" fill="#d9ff26"/>
<rect x="245.72" y="238.38" width="5.85" height="2.51" fill="#ff7b00"/>
<rect x="245.72" y="235.92" width="5.85" height="2.51" fill="#ff5800"/>
<rect x="245.72" y="240.85" width="5.85" height="2.51" fill="#ff4600"/>
<rect x="245.72" y="245.77" width="5.85" height="2.51" fill="#ff0400"/>
<rect x="245.72" y="243.31" width="5.85" height="2.51" fill="#c80000"/>
<rect x="245.72" y="248.23" width="5.85" height="2.51" fill="#ffdf00"/>
<rect x="245.72" y="255.62" width="5.85" height="2.51" fill="#35ffca"/>
<rect x="245.72" y="218.69" width="5.85" height="2.51" fill="#17ffe8"/>
<rect x="251.53" y="223.62" width="5.85" height="2.51" fill="#47ffb8"/>
<rect x="251.53" y="228.54" width="5.85" height="2.51" fill="#ecff13"/>
<rect x="251.53" y="226.08" width="5.85" height="2.51" fill="#efff10"/>
<rect x="251.53" y="233.46" width="5.85" height="2.51" fill="#fcff03"/>
<rect x="251.53" y="231.00" width="5.85" height="2.51" fill="#ffdf00"/>
<rect x="251.53" y="238.38" width="5.85" height="2.51" fill="#ff6500"/>
<rect x="251.53" y="235.92" width="5.85" height="2.51" fill="#ff5700"/>
<rect x="251.53" y="240.85" width="5.85" height="2.51" fill="#ff6b00"/>
<rect x="251.53" y="245.77" width="5.85" height="2.51" fill="#ff1e00"/>
<rect x="251.53" y="243.31" width="5.85" height="2.51" fill="#ff2c00"/>
<rect x="251.53" y="248.23" width="5.85" height="2.51" fill="#ffc600"/>
<rect x="251.53" y="255.62" width="5.85" height="2.51" fill="#00f9ff"/>
<rect x="251.53" y="218.69" width="5.85" height="2.51" fill="#00ddff"/>
<rect x="251.53" y="206.38" width="5.85" height="2.51" fill="#25ffda"/>
<rect x="251.53" y="203.92" width="5.85" height="2.51" fill="#11ffee"/>
<rect x="251.53" y="258.08" width="5.85" height="2.51" fill="#a5ff5a"/>
<rect x="257.33" y="221.15" width="5.85" height="2.51" fill="#00e6ff"/>
<rect x="257.33" y="223.62" width="5.85" height="2.51" fill="#23ffdc"/>
<rect x="257.33" y="228.54" width="5.85" height="2.51" fill="#e7ff18"/>
<rect x="257.33" y="226.08" width="5.85" height="2.51" fill="#d5ff2a"/>
<rect x="257.33" y="233.46" width="5.85" height="2.51" fill="#f9ff06"/>
<rect x="257.33" y="231.00" width="5.85" height="2.51" fill="#c2ff3d"/>
<rect x="257.33" y="238.38" width="5.85" height="2.51" fill="#ff7a00"/>
<rect x="257.33" y="235.92" width="5.85" height="2.51" fill="#ff5600"/>
<rect x="257.33" y="240.85" width="5.85" height="2.51" fill="#ff2900"/>
<rect x="257.33" y="245.77" width="5.85" height="2.51" fill="#ec0000"/>
<rect x="257.33" y="243.31" width="5.85" height="2.51" fill="#f80000"/>
<rect x="257.33" y="248.23" width="5.85" height="2.51" fill="#ff9300"/>
<rect x="257.33" y="250.69" width="5.85" height="2.51" fill="#d8ff27"/>
<rect x="257.33" y="208.85" width="5.85" height="2.51" fill="#00adff"/>
<rect x="257.33" y="206.38" width="5.85" height="2.51" fill="#14ffeb"/>
<rect x="257.33" y="203.92" width="5.85" height="2.51" fill="#34ffcb"/>
<rect x="263.14" y="221.15" width="5.85" height="2.51" fill="#1cffe3"/>
<rect x="263.14" y="223.62" width="5.85" height="2.51" fill="#59ffa6"/>
<rect x="263.14" y="228.54" width="5.85" height="2.51" fill="#e1ff1e"/>
<rect x="263.14" y="226.08" width="5.85" height="2.51" fill="#a3ff5c"/>
<rect x="263.14" y="233.46" width="5.85" height="2.51" fill="#e1ff1e"/>
<rect x="263.14" y="231.00" width="5.85" height="2.51" fill="#e4ff1b"/>
<rect x="263.14" y="238.38" width="5.85" height="2.51" fill="#ff8f00"/>
<rect x="263.14" y="235.92" width="5.85" height="2.51" fill="#ff9600"/>
<rect x="263.14" y="240.85" width="5.85" height="2.51" fill="#ff6d00"/>
<rect x="263.14" y="245.77" width="5.85" height="2.51" fill="#de0000"/>
<rect x="263.14" y="243.31" width="5.85" height="2.51" fill="#ff0700"/>
<rect x="263.14" y="248.23" width="5.85" height="2.51" fill="#ffb400"/>
<rect x="263.14" y="216.23" width="5.85" height="2.51" fill="#00c0ff"/>
<rect x="263.14" y="203.92" width="5.85" height="2.51" fill="#33ffcc"/>
<rect x="268.94" y="221.15" width="5.85" height="2.51" fill="#41ffbe"/>
<rect x="268.94" y="223.62" width="5.85" height="2.51" fill="#74ff8b"/>
<rect x="268.94" y="228.54" width="5.85" height="2.51" fill="#e9ff16"/>
<rect x="268.94" y="226.08" width="5.85" height="2.51" fill="#8eff71"/>
<rect x="268.94" y="233.46" width="5.85" height="2.51" fill="#ffda00"/>
<rect x="268.94" y="231.00" width="5.85" height="2.51" fill="#faff05"/>
<rect x="268.94" y="238.38" width="5.85" height="2.51" fill="#ff6f00"/>
<rect x="268.94" y="235.92" width="5.85" height="2.51" fill="#ffbe00"/>
<rect x="268.94" y="240.85" width="5.85" height="2.51" fill="#ff5c00"/>
<rect x="268.94" y="245.77" width="5.85" height="2.51" fill="#d80000"/>
<rect x="268.94" y="243.31" width="5.85" height="2.51" fill="#ee0000"/>
<rect x="268.94" y="248.23" width="5.85" height="2.51" fill="#ffa300"/>
<rect x="268.94" y="250.69" width="5.85" height="2.51" fill="#7eff81"/>
<rect x="268.94" y="253.15" width="5.85" height="2.51" fill="#eeff11"/>
<rect x="268.94" y="255.62" width="5.85" height="2.51" fill="#00eeff"/>
<rect x="268.94" y="216.23" width="5.85" height="2.51" fill="#00d6ff"/>
<rect x="274.74" y="223.62" width="5.85" height="2.51" fill="#4bffb4"/>
<rect x="274.74" y="228.54" width="5.85" height="2.51" fill="#80ff7f"/>
<rect x="274.74" y="226.08" width="5.85" height="2.51" fill="#7bff84"/>
<rect x="274.74" y="233.46" width="5.85" height="2.51" fill="#deff21"/>
<rect x="274.74" y="231.00" width="5.85" height="2.51" fill="#ffcd00"/>
<rect x="274.74" y="238.38" width="5.85" height="2.51" fill="#ff6b00"/>
<rect x="274.74" y="235.92" width="5.85" height="2.51" fill="#ff6d00"/>
<rect x="274.74" y="240.85" width="5.85" height="2.51" fill="#ff6500"/>
<rect x="274.74" y="245.77" width="5.85" height="2.51" fill="#ff0900"/>
<rect x="274.74" y="243.31" width="5.85" height="2.51" fill="#ff3a00"/>
<rect x="274.74" y="248.23" width="5.85" height="2.51" fill="#ffcf00"/>
<rect x="274.74" y="250.69" width="5.85" height="2.51" fill="#ccff33"/>
<rect x="274.74" y="253.15" width="5.85" height="2.51" fill="#baff45"/>
<rect x="274.74" y="216.23" width="5.85" height="2.51" fill="#00c6ff"/>
<rect x="280.55" y="223.62" width="5.85" height="2.51" fill="#55ffaa"/>
<rect x="280.55" y="228.54" width="5.85" height="2.51" fill="#d8ff27"/>
<rect x="280.55" y="226.08" width="5.85" height="2.51" fill="#dbff24"/>
<rect x="280.55" y="233.46" width="5.85" height="2.51" fill="#f7ff08"/>
<rect x="280.55" y="231.00" width="5.85" height="2.51" fill="#fffc00"/>
<rect x="280.55" y="238.38" width="5.85" height="2.51" fill="#ffc200"/>
<rect x="280.55" y="235.92" width="5.85" height="2.51" fill="#ffb500"/>
<rect x="280.55" y="240.85" width="5.85" height="2.51" fill="#ff4800"/>
<rect x="280.55" y="245.77" width="5.85" height="2.51" fill="#ff1d00"/>
<rect x="280.55" y="243.31" width="5.85" height="2.51" fill="#ff0300"/>
<rect x="280.55" y="248.23" width="5.85" height="2.51" fill="#fff900"/>
<rect x="280.55" y="250.69" width="5.85" height="2.51" fill="#a5ff5a"/>
<rect x="280.55" y="201.46" width="5.85" height="2.51" fill="#34ffcb"/>
<rect x="286.35" y="221.15" width="5.85" height="2.51" fill="#0afff5"/>
<rect x="286.35" y="223.62" width="5.85" height="2.51" fill="#57ffa8"/>
<rect x="286.35" y="228.54" width="5.85" height="2.51" fill="#8cff73"/>
<rect x="286.35" y="226.08" width="5.85" height="2.51" fill="#d0ff2f"/>
<rect x="286.35" y="233.46" width="5.85" height="2.51" fill="#c7ff38"/>
<rect x="286.35" y="231.00" width="5.85" height="2.51" fill="#e7ff18"/>
<rect x="286.35" y="238.38" width="5.85" height="2.51" fill="#ff8100"/>
<rect x="286.35" y="235.92" width="5.85" height="2.51" fill="#ffb100"/>
<rect x="286.35" y="240.85" width="5.85" height="2.51" fill="#ff7a00"/>
<rect x="286.35" y="245.77" width="5.85" height="2.51" fill="#ff3700"/>
<rect x="286.35" y="243.31" width="5.85" height="2.51" fill="#ff1200"/>
<rect x="286.35" y="248.23" width="5.85" height="2.51" fill="#ff9100"/>
<rect x="286.35" y="250.69" width="5.85" height="2.51" fill="#93ff6c"/>
<rect x="286.35" y="216.23" width="5.85" height="2.51" fill="#32ffcd"/>
<rect x="286.35" y="203.92" width="5.85" height="2.51" fill="#00a5ff"/>
<rect x="286.35" y="201.46" width="5.85" height="2.51" fill="#4fffb0"/>
<rect x="292.16" y="221.15" width="5.85" height="2.51" fill="#61ff9e"/>
<rect x="292.16" y="226.08" width="5.85" height="2.51" fill="#ff8100"/>
<rect x="292.16" y="223.62" width="5.85" height="2.51" fill="#ff6a00"/>
<rect x="292.16" y="231.00" width="5.85" height="2.51" fill="#ffdc00"/>
<rect x="292.16" y="228.54" width="5.85" height="2.51" fill="#d1ff2e"/>
<rect x="292.16" y="233.46" width="5.85" height="2.51" fill="#fffb00"/>
<rect x="292.16" y="238.38" width="5.85" height="2.51" fill="#ffb200"/>
<rect x="292.16" y="235.92" width="5.85" height="2.51" fill="#f9ff06"/>
<rect x="292.16" y="243.31" width="5.85" height="2.51" fill="#ffd000"/>
<rect x="292.16" y="240.85" width="5.85" height="2.51" fill="#ffab00"/>
<rect x="292.16" y="245.77" width="5.85" height="2.51" fill="#e2ff1d"/>
<rect x="292.16" y="248.23" width="5.85" height="2.51" fill="#81ff7e"/>
<rect x="292.16" y="250.69" width="5.85" height="2.51" fill="#b4ff4b"/>
<rect x="292.16" y="211.31" width="5.85" height="2.51" fill="#00c9ff"/>
<rect x="292.16" y="260.54" width="5.85" height="2.51" fill="#49ffb6"/>
<rect x="297.96" y="221.15" width="5.85" height="2.51" fill="#8bff74"/>
<rect x="297.96" y="226.08" width="5.85" height="2.51" fill="#ffac00"/>
<rect x="297.96" y="223.62" width="5.85" height="2.51" fill="#ff7e00"/>
<rect x="297.96" y="231.00" width="5.85" height="2.51" fill="#daff25"/>
<rect x="297.96" y="228.54" width="5.85" height="2.51" fill="#ffd400"/>
<rect x="297.96" y="233.46" width="5.85" height="2.51" fill="#a5ff5a"/>
<rect x="297.96" y="238.38" width="5.85" height="2.51" fill="#ffb600"/>
<rect x="297.96" y="235.92" width="5.85" height="2.51" fill="#ffc800"/>
<rect x="297.96" y="243.31" width="5.85" height="2.51" fill="#ffa700"/>
<rect x="297.96" y="240.85" width="5.85" height="2.51" fill="#ffe700"/>
<rect x="297.96" y="245.77" width="5.85" height="2.51" fill="#ffc300"/>
<rect x="297.96" y="248.23" width="5.85" height="2.51" fill="#88ff77"/>
<rect x="297.96" y="250.69" width="5.85" height="2.51" fill="#a9ff56"/>
<rect x="297.96" y="253.15" width="5.85" height="2.51" fill="#9fff60"/>
<rect x="297.96" y="211.31" width="5.85" height="2.51" fill="#00deff"/>
<rect x="297.96" y="206.38" width="5.85" height="2.51" fill="#00d9ff"/>
<rect x="303.76" y="218.69" width="5.85" height="2.51" fill="#64ff9b"/>
<rect x="303.76" y="221.15" width="5.85" height="2.51" fill="#8fff70"/>
<rect x="303.76" y="226.08" width="5.85" height="2.51" fill="#ff7600"/>
<rect x="303.76" y="223.62" width="5.85" height="2.51" fill="#ffa500"/>
<rect x="303.76" y="231.00" width="5.85" height="2.51" fill="#e0ff1f"/>
<rect x="303.76" y="228.54" width="5.85" height="2.51" fill="#ffe500"/>
<rect x="303.76" y="233.46" width="5.85" height="2.51" fill="#c0ff3f"/>
<rect x="303.76" y="238.38" width="5.85" height="2.51" fill="#e9ff16"/>
<rect x="303.76" y="235.92" width="5.85" height="2.51" fill="#ffbe00"/>
<rect x="303.76" y="243.31" width="5.85" height="2.51" fill="#ffda00"/>
<rect x="303.76" y="240.85" width="5.85" height="2.51" fill="#ffbe00"/>
<rect x="303.76" y="245.77" width="5.85" height="2.51" fill="#ffbf00"/>
<rect x="303.76" y="248.23" width="5.85" height="2.51" fill="#bbff44"/>
<rect x="303.76" y="253.15" width="5.85" height="2.51" fill="#ceff31"/>
<rect x="303.76" y="213.77" width="5.85" height="2.51" fill="#00afff"/>
<rect x="303.76" y="211.31" width="5.85" height="2.51" fill="#00bfff"/>
<rect x="303.76" y="206.38" width="5.85" height="2.51" fill="#00f6ff"/>
<rect x="309.57" y="218.69" width="5.85" height="2.51" fill="#66ff99"/>
<rect x="309.57" y="221.15" width="5.85" height="2.51" fill="#63ff9c"/>
<rect x="309.57" y="226.08" width="5.85" height="2.51" fill="#ff8600"/>
<rect x="309.57" y="223.62" width="5.85" height="2.51" fill="#ff9200"/>
<rect x="309.57" y="231.00" width="5.85" height="2.51" fill="#ffe600"/>
<rect x="309.57" y="228.54" width="5.85" height="2.51" fill="#ffcd00"/>
<rect x="309.57" y="233.46" width="5.85" height="2.51" fill="#a7ff58"/>
<rect x="309.57" y="238.38" width="5.85" height="2.51" fill="#ffc700"/>
<rect x="309.57" y="235.92" width="5.85" height="2.51" fill="#ffff00"/>
<rect x="309.57" y="243.31" width="5.85" height="2.51" fill="#ffef00"/>
<rect x="309.57" y="240.85" width="5.85" height="2.51" fill="#ffaa00"/>
<rect x="309.57" y="245.77" width="5.85" height="2.51" fill="#dcff23"/>
<rect x="309.57" y="248.23" width="5.85" height="2.51" fill="#caff35"/>
<rect x="309.57" y="213.77" width="5.85" height="2.51" fill="#00c4ff"/>
<rect x="315.37" y="218.69" width="5.85" height="2.51" fill="#33ffcc"/>
<rect x="315.37" y="221.15" width="5.85" height="2.51" fill="#6cff93"/>
<rect x="315.37" y="226.08" width="5.85" height="2.51" fill="#ff7000"/>
<rect x="315.37" y="223.62" width="5.85" height="2.51" fill="#ff8400"/>
<rect x="315.37" y="231.00" width="5.85" height="2.51" fill="#ffc800"/>
<rect x="315.37" y="228.54" width="5.85" height="2.51" fill="#ffe700"/>
<rect x="315.37" y="233.46" width="5.85" height="2.51" fill="#e6ff19"/>
<rect x="315.37" y="238.38" width="5.85" height="2.51" fill="#ffb500"/>
<rect x="315.37" y="235.92" width="5.85" height="2.51" fill="#ffdb00"/>
<rect x="315.37" y="243.31" width="5.85" height="2.51" fill="#ffe200"/>
<rect x="315.37" y="240.85" width="5.85" height="2.51" fill="#ffd200"/>
<rect x="315.37" y="245.77" width="5.85" height="2.51" fill="#feff01"/>
<rect x="315.37" y="248.23" width="5.85" height="2.51" fill="#9fff60"/>
<rect x="315.37" y="206.38" width="5.85" height="2.51" fill="#00e5ff"/>
<rect x="315.37" y="255.62" width="5.85" height="2.51" fill="#71ff8e"/>
<rect x="321.18" y="218.69" width="5.85" height="2.51" fill="#39ffc6"/>
<rect x="321.18" y="221.15" width="5.85" height="2.51" fill="#68ff97"/>
<rect x="321.18" y="226.08" width="5.85" height="2.51" fill="#ff5000"/>
<rect x="321.18" y="223.62" width="5.85" height="2.51" fill="#ff7c00"/>
<rect x="321.18" y="231.00" width="5.85" height="2.51" fill="#ffd800"/>
<rect x="321.18" y="228.54" width="5.85" height="2.51" fill="#e4ff1b"/>
<rect x="321.18" y="233.46" width="5.85" height="2.51" fill="#b0ff4f"/>
<rect x="321.18" y="238.38" width="5.85" height="2.51" fill="#ffa900"/>
<rect x="321.18" y="235.92" width="5.85" height="2.51" fill="#ffcf00"/>
<rect x="321.18" y="243.31" width="5.85" height="2.51" fill="#ffc700"/>
<rect x="321.18" y="240.85" width="5.85" height="2.51" fill="#ffbe00"/>
<rect x="321.18" y="245.77" width="5.85" height="2.51" fill="#f2ff0d"/>
<rect x="321.18" y="248.23" width="5.85" height="2.51" fill="#cdff32"/>
<rect x="321.18" y="253.15" width="5.85" height="2.51" fill="#8cff73"/>
<rect x="321.18" y="208.85" width="5.85" height="2.51" fill="#00ceff"/>
<rect x="321.18" y="203.92" width="5.85" height="2.51" fill="#00fbff"/>
<rect x="326.98" y="218.69" width="5.85" height="2.51" fill="#02fffd"/>
<rect x="326.98" y="221.15" width="5.85" height="2.51" fill="#44ffbb"/>
<rect x="326.98" y="226.08" width="5.85" height="2.51" fill="#ff6700"/>
<rect x="326.98" y="223.62" width="5.85" height="2.51" fill="#ff5c00"/>
<rect x="326.98" y="231.00" width="5.85" height="2.51" fill="#ffe400"/>
<rect x="326.98" y="228.54" width="5.85" height="2.51" fill="#fdff02"/>
<rect x="326.98" y="233.46" width="5.85" height="2.51" fill="#aaff55"/>
<rect x="326.98" y="238.38" width="5.85" height="2.51" fill="#ffe500"/>
<rect x="326.98" y="235.92" width="5.85" height="2.51" fill="#ffe500"/>
<rect x="326.98" y="243.31" width="5.85" height="2.51" fill="#ffca00"/>
<rect x="326.98" y="240.85" width="5.85" height="2.51" fill="#ff8500"/>
<rect x="326.98" y="245.77" width="5.85" height="2.51" fill="#ffd600"/>
<rect x="326.98" y="248.23" width="5.85" height="2.51" fill="#91ff6e"/>
<rect x="326.98" y="250.69" width="5.85" height="2.51" fill="#76ff89"/>
<rect x="326.98" y="208.85" width="5.85" height="2.51" fill="#00c9ff"/>
<rect x="326.98" y="203.92" width="5.85" height="2.51" fill="#21ffde"/>
<rect x="326.98" y="201.46" width="5.85" height="2.51" fill="#6fff90"/>
<rect x="332.78" y="218.69" width="5.85" height="2.51" fill="#1effe1"/>
<rect x="332.78" y="221.15" width="5.85" height="2.51" fill="#4dffb2"/>
<rect x="332.78" y="226.08" width="5.85" height="2.51" fill="#ff6f00"/>
<rect x="332.78" y="223.62" width="5.85" height="2.51" fill="#ff5f00"/>
<rect x="332.78" y="231.00" width="5.85" height="2.51" fill="#e0ff1f"/>
<rect x="332.78" y="228.54" width="5.85" height="2.51" fill="#ffc900"/>
<rect x="332.78" y="233.46" width="5.85" height="2.51" fill="#b1ff4e"/>
<rect x="332.78" y="238.38" width="5.85" height="2.51" fill="#ffb600"/>
<rect x="332.78" y="235.92" width="5.85" height="2.51" fill="#fff000"/>
<rect x="332.78" y="243.31" width="5.85" height="2.51" fill="#ffb900"/>
<rect x="332.78" y="240.85" width="5.85" height="2.51" fill="#ffc600"/>
<rect x="332.78" y="245.77" width="5.85" height="2.51" fill="#fff300"/>
<rect x="332.78" y="248.23" width="5.85" height="2.51" fill="#dbff24"/>
<rect x="332.78" y="250.69" width="5.85" height="2.51" fill="#90ff6f"/>
<rect x="332.78" y="213.77" width="5.85" height="2.51" fill="#00acff"/>
<rect x="332.78" y="208.85" width="5.85" height="2.51" fill="#00f9ff"/>
<rect x="332.78" y="206.38" width="5.85" height="2.51" fill="#40ffbf"/>
<rect x="332.78" y="203.92" width="5.85" height="2.51" fill="#1dffe2"/>
<rect x="332.78" y="201.46" width="5.85" height="2.51" fill="#52ffad"/>
<rect x="332.78" y="255.62" width="5.85" height="2.51" fill="#8cff73"/>
<rect x="338.59" y="221.15" width="5.85" height="2.51" fill="#23ffdc"/>
<rect x="338.59" y="226.08" width="5.85" height="2.51" fill="#73ff8c"/>
<rect x="338.59" y="223.62" width="5.85" height="2.51" fill="#8bff74"/>
<rect x="338.59" y="235.92" width="5.85" height="2.51" fill="#24ffdb"/>
<rect x="338.59" y="233.46" width="5.85" height="2.51" fill="#12ffed"/>
<rect x="338.59" y="228.54" width="5.85" height="2.51" fill="#4fffb0"/>
<rect x="338.59" y="238.38" width="5.85" height="2.51" fill="#26ffd9"/>
<rect x="338.59" y="245.77" width="5.85" height="2.51" fill="#fffc00"/>
<rect x="338.59" y="243.31" width="5.85" height="2.51" fill="#fff300"/>
<rect x="338.59" y="240.85" width="5.85" height="2.51" fill="#c4ff3b"/>
<rect x="338.59" y="248.23" width="5.85" height="2.51" fill="#91ff6e"/>
<rect x="338.59" y="255.62" width="5.85" height="2.51" fill="#29ffd6"/>
<rect x="344.39" y="221.15" width="5.85" height="2.51" fill="#1fffe0"/>
<rect x="344.39" y="226.08" width="5.85" height="2.51" fill="#70ff8f"/>
<rect x="344.39" y="223.62" width="5.85" height="2.51" fill="#7bff84"/>
<rect x="344.39" y="235.92" width="5.85" height="2.51" fill="#32ffcd"/>
<rect x="344.39" y="233.46" width="5.85" height="2.51" fill="#0ffff0"/>
<rect x="344.39" y="231.00" width="5.85" height="2.51" fill="#49ffb6"/>
<rect x="344.39" y="228.54" width="5.85" height="2.51" fill="#4fffb0"/>
<rect x="344.39" y="238.38" width="5.85" height="2.51" fill="#4affb5"/>
<rect x="344.39" y="245.77" width="5.85" height="2.51" fill="#fff900"/>
<rect x="344.39" y="243.31" width="5.85" height="2.51" fill="#f0ff0f"/>
<rect x="344.39" y="240.85" width="5.85" height="2.51" fill="#bbff44"/>
<rect x="344.39" y="248.23" width="5.85" height="2.51" fill="#97ff68"/>
<rect x="344.39" y="216.23" width="5.85" height="2.51" fill="#42ffbd"/>
<rect x="344.39" y="203.92" width="5.85" height="2.51" fill="#00f4ff"/>
<rect x="350.20" y="221.15" width="5.85" height="2.51" fill="#1dffe2"/>
<rect x="350.20" y="226.08" width="5.85" height="2.51" fill="#67ff98"/>
<rect x="350.20" y="223.62" width="5.85" height="2.51" fill="#3affc5"/>
<rect x="350.20" y="235.92" width="5.85" height="2.51" fill="#47ffb8"/>
<rect x="350.20" y="233.46" width="5.85" height="2.51" fill="#20ffdf"/>
<rect x="350.20" y="231.00" width="5.85" height="2.51" fill="#48ffb7"/>
<rect x="350.20" y="228.54" width="5.85" height="2.51" fill="#44ffbb"/>
<rect x="350.20" y="238.38" width="5.85" height="2.51" fill="#5fffa0"/>
<rect x="350.20" y="245.77" width="5.85" height="2.51" fill="#ffee00"/>
<rect x="350.20" y="243.31" width="5.85" height="2.51" fill="#fffc00"/>
<rect x="350.20" y="240.85" width="5.85" height="2.51" fill="#ffe300"/>
<rect x="350.20" y="248.23" width="5.85" height="2.51" fill="#cfff30"/>
<rect x="350.20" y="250.69" width="5.85" height="2.51" fill="#feff01"/>
<rect x="350.20" y="216.23" width="5.85" height="2.51" fill="#29ffd6"/>
<rect x="350.20" y="206.38" width="5.85" height="2.51" fill="#4affb5"/>
<rect x="356.00" y="221.15" width="5.85" height="2.51" fill="#15ffea"/>
<rect x="356.00" y="226.08" width="5.85" height="2.51" fill="#66ff99"/>
<rect x="356.00" y="223.62" width="5.85" height="2.51" fill="#50ffaf"/>
<rect x="356.00" y="235.92" width="5.85" height="2.51" fill="#70ff8f"/>
<rect x="356.00" y="233.46" width="5.85" height="2.51" fill="#30ffcf"/>
<rect x="356.00" y="231.00" width="5.85" height="2.51" fill="#29ffd6"/>
<rect x="356.00" y="228.54" width="5.85" height="2.51" fill="#3dffc2"/>
<rect x="356.00" y="238.38" width="5.85" height="2.51" fill="#79ff86"/>
<rect x="356.00" y="245.77" width="5.85" height="2.51" fill="#d5ff2a"/>
<rect x="356.00" y="243.31" width="5.85" height="2.51" fill="#c9ff36"/>
<rect x="356.00" y="240.85" width="5.85" height="2.51" fill="#e1ff1e"/>
<rect x="356.00" y="248.23" width="5.85" height="2.51" fill="#ccff33"/>
<rect x="356.00" y="250.69" width="5.85" height="2.51" fill="#ffdc00"/>
<rect x="356.00" y="208.85" width="5.85" height="2.51" fill="#00f4ff"/>
<rect x="356.00" y="206.38" width="5.85" height="2.51" fill="#48ffb7"/>
<rect x="356.00" y="258.08" width="5.85" height="2.51" fill="#36ffc9"/>
<rect x="361.80" y="221.15" width="5.85" height="2.51" fill="#02fffd"/>
<rect x="361.80" y="226.08" width="5.85" height="2.51" fill="#39ffc6"/>
<rect x="361.80" y="223.62" width="5.85" height="2.51" fill="#72ff8d"/>
<rect x="361.80" y="235.92" width="5.85" height="2.51" fill="#23ffdc"/>
<rect x="361.80" y="231.00" width="5.85" height="2.51" fill="#6fff90"/>
<rect x="361.80" y="228.54" width="5.85" height="2.51" fill="#50ffaf"/>
<rect x="361.80" y="238.38" width="5.85" height="2.51" fill="#74ff8b"/>
<rect x="361.80" y="245.77" width="5.85" height="2.51" fill="#aaff55"/>
<rect x="361.80" y="243.31" width="5.85" height="2.51" fill="#ffdf00"/>
<rect x="361.80" y="240.85" width="5.85" height="2.51" fill="#f3ff0c"/>
<rect x="361.80" y="248.23" width="5.85" height="2.51" fill="#ddff22"/>
<rect x="361.80" y="213.77" width="5.85" height="2.51" fill="#05fffa"/>
<rect x="361.80" y="208.85" width="5.85" height="2.51" fill="#09fff6"/>
<rect x="361.80" y="201.46" width="5.85" height="2.51" fill="#00f7ff"/>
<rect x="361.80" y="258.08" width="5.85" height="2.51" fill="#a4ff5b"/>
<rect x="367.61" y="221.15" width="5.85" height="2.51" fill="#51ffae"/>
<rect x="367.61" y="226.08" width="5.85" height="2.51" fill="#41ffbe"/>
<rect x="367.61" y="223.62" width="5.85" height="2.51" fill="#34ffcb"/>
<rect x="367.61" y="235.92" width="5.85" height="2.51" fill="#54ffab"/>
<rect x="367.61" y="233.46" width="5.85" height="2.51" fill="#07fff8"/>
<rect x="367.61" y="231.00" width="5.85" height="2.51" fill="#3effc1"/>
<rect x="367.61" y="228.54" width="5.85" height="2.51" fill="#07fff8"/>
<rect x="367.61" y="238.38" width="5.85" height="2.51" fill="#92ff6d"/>
<rect x="367.61" y="245.77" width="5.85" height="2.51" fill="#ebff14"/>
<rect x="367.61" y="243.31" width="5.85" height="2.51" fill="#acff53"/>
<rect x="367.61" y="240.85" width="5.85" height="2.51" fill="#d4ff2b"/>
<rect x="367.61" y="248.23" width="5.85" height="2.51" fill="#e4ff1b"/>
<rect x="367.61" y="253.15" width="5.85" height="2.51" fill="#5cffa3"/>
<rect x="367.61" y="218.69" width="5.85" height="2.51" fill="#4fffb0"/>
<rect x="367.61" y="208.85" width="5.85" height="2.51" fill="#03fffc"/>
<rect x="367.61" y="201.46" width="5.85" height="2.51" fill="#1affe5"/>
<rect x="367.61" y="255.62" width="5.85" height="2.51" fill="#dbff24"/>
<rect x="373.41" y="221.15" width="5.85" height="2.51" fill="#18ffe7"/>
<rect x="373.41" y="226.08" width="5.85" height="2.51" fill="#93ff6c"/>
<rect x="373.41" y="223.62" width="5.85" height="2.51" fill="#4cffb3"/>
<rect x="373.41" y="235.92" width="5.85" height="2.51" fill="#45ffba"/>
<rect x="373.41" y="233.46" width="5.85" height="2.51" fill="#17ffe8"/>
<rect x="373.41" y="231.00" width="5.85" height="2.51" fill="#78ff87"/>
<rect x="373.41" y="228.54" width="5.85" height="2.51" fill="#6cff93"/>
<rect x="373.41" y="238.38" width="5.85" height="2.51" fill="#8eff71"/>
<rect x="373.41" y="245.77" width="5.85" height="2.51" fill="#e2ff1d"/>
<rect x="373.41" y="243.31" width="5.85" height="2.51" fill="#faff05"/>
<rect x="373.41" y="240.85" width="5.85" height="2.51" fill="#fffa00"/>
<rect x="373.41" y="248.23" width="5.85" height="2.51" fill="#ebff14"/>
<rect x="373.41" y="250.69" width="5.85" height="2.51" fill="#fff900"/>
<rect x="373.41" y="216.23" width="5.85" height="2.51" fill="#00edff"/>
<rect x="373.41" y="258.08" width="5.85" height="2.51" fill="#b7ff48"/>
<rect x="379.22" y="221.15" width="5.85" height="2.51" fill="#39ffc6"/>
<rect x="379.22" y="226.08" width="5.85" height="2.51" fill="#81ff7e"/>
<rect x="379.22" y="223.62" width="5.85" height="2.51" fill="#2fffd0"/>
<rect x="379.22" y="235.92" width="5.85" height="2.51" fill="#14ffeb"/>
<rect x="379.22" y="231.00" width="5.85" height="2.51" fill="#4dffb2"/>
<rect x="379.22" y="228.54" width="5.85" height="2.51" fill="#68ff97"/>
<rect x="379.22" y="238.38" width="5.85" height="2.51" fill="#43ffbc"/>
<rect x="379.22" y="245.77" width="5.85" height="2.51" fill="#ffe000"/>
<rect x="379.22" y="243.31" width="5.85" height="2.51" fill="#afff50"/>
<rect x="379.22" y="240.85" width="5.85" height="2.51" fill="#faff05"/>
<rect x="379.22" y="248.23" width="5.85" height="2.51" fill="#8bff74"/>
<rect x="379.22" y="216.23" width="5.85" height="2.51" fill="#00e0ff"/>
<rect x="385.02" y="221.15" width="5.85" height="2.51" fill="#47ffb8"/>
<rect x="385.02" y="226.08" width="5.85" height="2.51" fill="#65ff9a"/>
<rect x="385.02" y="223.62" width="5.85" height="2.51" fill="#30ffcf"/>
<rect x="385.02" y="235.92" width="5.85" height="2.51" fill="#77ff88"/>
<rect x="385.02" y="233.46" width="5.85" height="2.51" fill="#67ff98"/>
<rect x="385.02" y="231.00" width="5.85" height="2.51" fill="#56ffa9"/>
<rect x="385.02" y="228.54" width="5.85" height="2.51" fill="#72ff8d"/>
<rect x="385.02" y="238.38" width="5.85" height="2.51" fill="#2cffd3"/>
<rect x="385.02" y="245.77" width="5.85" height="2.51" fill="#ebff14"/>
<rect x="385.02" y="243.31" width="5.85" height="2.51" fill="#ffe000"/>
<rect x="385.02" y="240.85" width="5.85" height="2.51" fill="#fff800"/>
<rect x="385.02" y="248.23" width="5.85" height="2.51" fill="#97ff68"/>
<rect x="385.02" y="253.15" width="5.85" height="2.51" fill="#00ffff"/>
<rect x="385.02" y="218.69" width="5.85" height="2.51" fill="#00bdff"/>
<rect x="385.02" y="211.31" width="5.85" height="2.51" fill="#0ffff0"/>
<rect x="385.02" y="201.46" width="5.85" height="2.51" fill="#51ffae"/>
<rect x="385.02" y="258.08" width="5.85" height="2.51" fill="#95ff6a"/>
<rect x="390.82" y="218.69" width="5.85" height="2.51" fill="#00e6ff"/>
<rect x="390.82" y="221.15" width="5.85" height="2.51" fill="#baff45"/>
<rect x="390.82" y="223.62" width="5.85" height="2.51" fill="#ff6400"/>
<rect x="390.82" y="226.08" width="5.85" height="2.51" fill="#ffde00"/>
<rect x="390.82" y="235.92" width="5.85" height="2.51" fill="#cdff32"/>
<rect x="390.82" y="233.46" width="5.85" height="2.51" fill="#fff500"/>
<rect x="390.82" y="231.00" width="5.85" height="2.51" fill="#ecff13"/>
<rect x="390.82" y="228.54" width="5.85" height="2.51" fill="#ffff00"/>
<rect x="390.82" y="238.38" width="5.85" height="2.51" fill="#ffdf00"/>
<rect x="390.82" y="243.31" width="5.85" height="2.51" fill="#ffac00"/>
<rect x="390.82" y="240.85" width="5.85" height="2.51" fill="#ff5d00"/>
<rect x="390.82" y="245.77" width="5.85" height="2.51" fill="#ff7300"/>
<rect x="390.82" y="248.23" width="5.85" height="2.51" fill="#f3ff0c"/>
<rect x="390.82" y="250.69" width="5.85" height="2.51" fill="#b0ff4f"/>
<rect x="390.82" y="253.15" width="5.85" height="2.51" fill="#bcff43"/>
<rect x="390.82" y="216.23" width="5.85" height="2.51" fill="#00e0ff"/>
<rect x="390.82" y="201.46" width="5.85" height="2.51" fill="#00eeff"/>
<rect x="396.63" y="218.69" width="5.85" height="2.51" fill="#00deff"/>
<rect x="396.63" y="221.15" width="5.85" height="2.51" fill="#b1ff4e"/>
<rect x="396.63" y="223.62" width="5.85" height="2.51" fill="#ffc100"/>
<rect x="396.63" y="226.08" width="5.85" height="2.51" fill="#fff400"/>
<rect x="396.63" y="235.92" width="5.85" height="2.51" fill="#aeff51"/>
<rect x="396.63" y="233.46" width="5.85" height="2.51" fill="#e3ff1c"/>
<rect x="396.63" y="231.00" width="5.85" height="2.51" fill="#f6ff09"/>
<rect x="396.63" y="228.54" width="5.85" height="2.51" fill="#ffe800"/>
<rect x="396.63" y="238.38" width="5.85" height="2.51" fill="#ff9f00"/>
<rect x="396.63" y="243.31" width="5.85" height="2.51" fill="#ff8400"/>
<rect x="396.63" y="240.85" width="5.85" height="2.51" fill="#ff6d00"/>
<rect x="396.63" y="245.77" width="5.85" height="2.51" fill="#ffbe00"/>
<rect x="396.63" y="248.23" width="5.85" height="2.51" fill="#ffb600"/>
<rect x="396.63" y="216.23" width="5.85" height="2.51" fill="#00faff"/>
<rect x="396.63" y="213.77" width="5.85" height="2.51" fill="#2dffd2"/>
<rect x="396.63" y="208.85" width="5.85" height="2.51" fill="#00b7ff"/>
<rect x="396.63" y="201.46" width="5.85" height="2.51" fill="#00dcff"/>
<rect x="396.63" y="258.08" width="5.85" height="2.51" fill="#7cff83"/>
<rect x="402.43" y="218.69" width="5.85" height="2.51" fill="#54ffab"/>
<rect x="402.43" y="221.15" width="5.85" height="2.51" fill="#a5ff5a"/>
<rect x="402.43" y="223.62" width="5.85" height="2.51" fill="#ff7100"/>
<rect x="402.43" y="226.08" width="5.85" height="2.51" fill="#ffb400"/>
<rect x="402.43" y="235.92" width="5.85" height="2.51" fill="#fff100"/>
<rect x="402.43" y="233.46" width="5.85" height="2.51" fill="#dbff24"/>
<rect x="402.43" y="231.00" width="5.85" height="2.51" fill="#d8ff27"/>
<rect x="402.43" y="228.54" width="5.85" height="2.51" fill="#b1ff4e"/>
<rect x="402.43" y="238.38" width="5.85" height="2.51" fill="#fff800"/>
<rect x="402.43" y="243.31" width="5.85" height="2.51" fill="#ffab00"/>
<rect x="402.43" y="240.85" width="5.85" height="2.51" fill="#ffad00"/>
<rect x="402.43" y="245.77" width="5.85" height="2.51" fill="#ff9b00"/>
<rect x="402.43" y="248.23" width="5.85" height="2.51" fill="#ffc300"/>
<rect x="402.43" y="208.85" width="5.85" height="2.51" fill="#00bdff"/>
<rect x="402.43" y="201.46" width="5.85" height="2.51" fill="#00fcff"/>
<rect x="408.24" y="218.69" width="5.85" height="2.51" fill="#00e2ff"/>
<rect x="408.24" y="221.15" width="5.85" height="2.51" fill="#baff45"/>
<rect x="408.24" y="223.62" width="5.85" height="2.51" fill="#ff9300"/>
<rect x="408.24" y="226.08" width="5.85" height="2.51" fill="#e6ff19"/>
<rect x="408.24" y="235.92" width="5.85" height="2.51" fill="#eeff11"/>
<rect x="408.24" y="233.46" width="5.85" height="2.51" fill="#c4ff3b"/>
<rect x="408.24" y="231.00" width="5.85" height="2.51" fill="#f7ff08"/>
<rect x="408.24" y="228.54" width="5.85" height="2.51" fill="#ffea00"/>
<rect x="408.24" y="238.38" width="5.85" height="2.51" fill="#ffb300"/>
<rect x="408.24" y="243.31" width="5.85" height="2.51" fill="#ff8700"/>
<rect x="408.24" y="240.85" width="5.85" height="2.51" fill="#ff8100"/>
<rect x="408.24" y="245.77" width="5.85" height="2.51" fill="#ff6600"/>
<rect x="408.24" y="248.23" width="5.85" height="2.51" fill="#ffc500"/>
<rect x="408.24" y="253.15" width="5.85" height="2.51" fill="#bbff44"/>
<rect x="408.24" y="208.85" width="5.85" height="2.51" fill="#00a1ff"/>
<rect x="414.04" y="218.69" width="5.85" height="2.51" fill="#00dfff"/>
<rect x="414.04" y="221.15" width="5.85" height="2.51" fill="#b2ff4d"/>
<rect x="414.04" y="223.62" width="5.85" height="2.51" fill="#ff8f00"/>
<rect x="414.04" y="226.08" width="5.85" height="2.51" fill="#f0ff0f"/>
<rect x="414.04" y="235.92" width="5.85" height="2.51" fill="#fff600"/>
<rect x="414.04" y="233.46" width="5.85" height="2.51" fill="#f9ff06"/>
<rect x="414.04" y="231.00" width="5.85" height="2.51" fill="#ebff14"/>
<rect x="414.04" y="228.54" width="5.85" height="2.51" fill="#beff41"/>
<rect x="414.04" y="238.38" width="5.85" height="2.51" fill="#ffe100"/>
<rect x="414.04" y="243.31" width="5.85" height="2.51" fill="#ff7a00"/>
<rect x="414.04" y="240.85" width="5.85" height="2.51" fill="#ff9700"/>
<rect x="414.04" y="245.77" width="5.85" height="2.51" fill="#ff5c00"/>
<rect x="414.04" y="248.23" width="5.85" height="2.51" fill="#ffb400"/>
<rect x="414.04" y="250.69" width="5.85" height="2.51" fill="#b3ff4c"/>
<rect x="414.04" y="253.15" width="5.85" height="2.51" fill="#c5ff3a"/>
<rect x="414.04" y="211.31" width="5.85" height="2.51" fill="#24ffdb"/>
<rect x="419.84" y="218.69" width="5.85" height="2.51" fill="#29ffd6"/>
<rect x="419.84" y="221.15" width="5.85" height="2.51" fill="#89ff76"/>
<rect x="419.84" y="223.62" width="5.85" height="2.51" fill="#ff8a00"/>
<rect x="419.84" y="226.08" width="5.85" height="2.51" fill="#fdff02"/>
<rect x="419.84" y="235.92" width="5.85" height="2.51" fill="#daff25"/>
<rect x="419.84" y="233.46" width="5.85" height="2.51" fill="#dbff24"/>
<rect x="419.84" y="231.00" width="5.85" height="2.51" fill="#d8ff27"/>
<rect x="419.84" y="228.54" width="5.85" height="2.51" fill="#f6ff09"/>
<rect x="419.84" y="238.38" width="5.85" height="2.51" fill="#fff000"/>
<rect x="419.84" y="243.31" width="5.85" height="2.51" fill="#ff8a00"/>
<rect x="419.84" y="240.85" width="5.85" height="2.51" fill="#ff6700"/>
<rect x="419.84" y="245.77" width="5.85" height="2.51" fill="#ff6700"/>
<rect x="419.84" y="248.23" width="5.85" height="2.51" fill="#ffcf00"/>
<rect x="419.84" y="250.69" width="5.85" height="2.51" fill="#d0ff2f"/>
<rect x="419.84" y="213.77" width="5.85" height="2.51" fill="#00f6ff"/>
<rect x="419.84" y="211.31" width="5.85" height="2.51" fill="#27ffd8"/>
<rect x="425.65" y="218.69" width="5.85" height="2.51" fill="#28ffd7"/>
<rect x="425.65" y="221.15" width="5.85" height="2.51" fill="#b7ff48"/>
<rect x="425.65" y="223.62" width="5.85" height="2.51" fill="#ffc100"/>
<rect x="425.65" y="226.08" width="5.85" height="2.51" fill="#f5ff0a"/>
<rect x="425.65" y="235.92" width="5.85" height="2.51" fill="#e6ff19"/>
<rect x="425.65" y="233.46" width="5.85" height="2.51" fill="#e3ff1c"/>
<rect x="425.65" y="231.00" width="5.85" height="2.51" fill="#fcff03"/>
<rect x="425.65" y="228.54" width="5.85" height="2.51" fill="#abff54"/>
<rect x="425.65" y="238.38" width="5.85" height="2.51" fill="#fff700"/>
<rect x="425.65" y="243.31" width="5.85" height="2.51" fill="#ff3f00"/>
<rect x="425.65" y="240.85" width="5.85" height="2.51" fill="#ff6b00"/>
<rect x="425.65" y="245.77" width="5.85" height="2.51" fill="#ff8a00"/>
<rect x="425.65" y="248.23" width="5.85" height="2.51" fill="#d7ff28"/>
<rect x="425.65" y="250.69" width="5.85" height="2.51" fill="#aeff51"/>
<rect x="425.65" y="253.15" width="5.85" height="2.51" fill="#fff500"/>
<rect x="431.45" y="218.69" width="5.85" height="2.51" fill="#0cfff3"/>
<rect x="431.45" y="221.15" width="5.85" height="2.51" fill="#94ff6b"/>
<rect x="431.45" y="223.62" width="5.85" height="2.51" fill="#ffd000"/>
<rect x="431.45" y="226.08" width="5.85" height="2.51" fill="#e8ff17"/>
<rect x="431.45" y="235.92" width="5.85" height="2.51" fill="#a9ff56"/>
<rect x="431.45" y="233.46" width="5.85" height="2.51" fill="#feff01"/>
<rect x="431.45" y="231.00" width="5.85" height="2.51" fill="#fffa00"/>
<rect x="431.45" y="228.54" width="5.85" height="2.51" fill="#deff21"/>
<rect x="431.45" y="238.38" width="5.85" height="2.51" fill="#ebff14"/>
<rect x="431.45" y="243.31" width="5.85" height="2.51" fill="#ff7100"/>
<rect x="431.45" y="240.85" width="5.85" height="2.51" fill="#ff8f00"/>
<rect x="431.45" y="245.77" width="5.85" height="2.51" fill="#ffa500"/>
<rect x="431.45" y="248.23" width="5.85" height="2.51" fill="#ffe600"/>
<rect x="431.45" y="250.69" width="5.85" height="2.51" fill="#c7ff38"/>
<rect x="431.45" y="211.31" width="5.85" height="2.51" fill="#0afff5"/>
<rect x="437.26" y="218.69" width="5.85" height="2.51" fill="#00fbff"/>
<rect x="437.26" y="221.15" width="5.85" height="2.51" fill="#91ff6e"/>
<rect x="437.26" y="223.62" width="5.85" height="2.51" fill="#ff7400"/>
<rect x="437.26" y="226.08" width="5.85" height="2.51" fill="#ffb700"/>
<rect x="437.26" y="235.92" width="5.85" height="2.51" fill="#ffe700"/>
<rect x="437.26" y="233.46" width="5.85" height="2.51" fill="#fff300"/>
<rect x="437.26" y="231.00" width="5.85" height="2.51" fill="#a9ff56"/>
<rect x="437.26" y="228.54" width="5.85" height="2.51" fill="#beff41"/>
<rect x="437.26" y="238.38" width="5.85" height="2.51" fill="#ffac00"/>
<rect x="437.26" y="243.31" width="5.85" height="2.51" fill="#ff8000"/>
<rect x="437.26" y="240.85" width="5.85" height="2.51" fill="#ff9900"/>
<rect x="437.26" y="245.77" width="5.85" height="2.51" fill="#ff8c00"/>
<rect x="437.26" y="248.23" width="5.85" height="2.51" fill="#ffc000"/>
<rect x="437.26" y="250.69" width="5.85" height="2.51" fill="#91ff6e"/>
<rect x="437.26" y="211.31" width="5.85" height="2.51" fill="#3affc5"/>
<rect x="437.26" y="206.38" width="5.85" height="2.51" fill="#00b0ff"/>
<rect x="437.26" y="201.46" width="5.85" height="2.51" fill="#19ffe6"/>
<rect x="443.06" y="218.69" width="5.85" height="2.51" fill="#46ffb9"/>
<rect x="443.06" y="221.15" width="5.85" height="2.51" fill="#d3ff2c"/>
<rect x="443.06" y="223.62" width="5.85" height="2.51" fill="#ff9c00"/>
<rect x="443.06" y="226.08" width="5.85" height="2.51" fill="#f2ff0d"/>
<rect x="443.06" y="235.92" width="5.85" height="2.51" fill="#fcff03"/>
<rect x="443.06" y="233.46" width="5.85" height="2.51" fill="#fff800"/>
<rect x="443.06" y="231.00" width="5.85" height="2.51" fill="#f4ff0b"/>
<rect x="443.06" y="228.54" width="5.85" height="2.51" fill="#ddff22"/>
<rect x="443.06" y="238.38" width="5.85" height="2.51" fill="#f0ff0f"/>
<rect x="443.06" y="243.31" width="5.85" height="2.51" fill="#ff9b00"/>
<rect x="443.06" y="240.85" width="5.85" height="2.51" fill="#ff4100"/>
<rect x="443.06" y="245.77" width="5.85" height="2.51" fill="#ff5300"/>
<rect x="443.06" y="248.23" width="5.85" height="2.51" fill="#ffb500"/>
<rect x="443.06" y="250.69" width="5.85" height="2.51" fill="#79ff86"/>
<rect x="443.06" y="211.31" width="5.85" height="2.51" fill="#1affe5"/>
<rect x="443.06" y="206.38" width="5.85" height="2.51" fill="#00bdff"/>
<rect x="443.06" y="203.92" width="5.85" height="2.51" fill="#25ffda"/>
<rect x="443.06" y="201.46" width="5.85" height="2.51" fill="#46ffb9"/>
<rect x="448.86" y="218.69" width="5.85" height="2.51" fill="#22ffdd"/>
<rect x="448.86" y="221.15" width="5.85" height="2.51" fill="#d8ff27"/>
<rect x="448.86" y="223.62" width="5.85" height="2.51" fill="#ffca00"/>
<rect x="448.86" y="226.08" width="5.85" height="2.51" fill="#ffd600"/>
<rect x="448.86" y="235.92" width="5.85" height="2.51" fill="#fff300"/>
<rect x="448.86" y="233.46" width="5.85" height="2.51" fill="#e6ff19"/>
<rect x="448.86" y="231.00" width="5.85" height="2.51" fill="#ddff22"/>
<rect x="448.86" y="228.54" width="5.85" height="2.51" fill="#c5ff3a"/>
<rect x="448.86" y="238.38" width="5.85" height="2.51" fill="#ffcb00"/>
<rect x="448.86" y="243.31" width="5.85" height="2.51" fill="#ff6400"/>
<rect x="448.86" y="240.85" width="5.85" height="2.51" fill="#ff6d00"/>
<rect x="448.86" y="245.77" width="5.85" height="2.51" fill="#ff6900"/>
<rect x="448.86" y="248.23" width="5.85" height="2.51" fill="#ffb900"/>
<rect x="448.86" y="250.69" width="5.85" height="2.51" fill="#84ff7b"/>
<rect x="448.86" y="216.23" width="5.85" height="2.51" fill="#00a1ff"/>
<rect x="448.86" y="203.92" width="5.85" height="2.51" fill="#32ffcd"/>
<rect x="448.86" y="201.46" width="5.85" height="2.51" fill="#4bffb4"/>
<rect x="454.67" y="221.15" width="5.85" height="2.51" fill="#8eff71"/>
<rect x="454.67" y="223.62" width="5.85" height="2.51" fill="#ffd200"/>
<rect x="454.67" y="226.08" width="5.85" height="2.51" fill="#ffc300"/>
<rect x="454.67" y="235.92" width="5.85" height="2.51" fill="#acff53"/>
<rect x="454.67" y="233.46" width="5.85" height="2.51" fill="#dfff20"/>
<rect x="454.67" y="231.00" width="5.85" height="2.51" fill="#fdff02"/>
<rect x="454.67" y="228.54" width="5.85" height="2.51" fill="#b3ff4c"/>
<rect x="454.67" y="238.38" width="5.85" height="2.51" fill="#f9ff06"/>
<rect x="454.67" y="243.31" width="5.85" height="2.51" fill="#ff5600"/>
<rect x="454.67" y="240.85" width="5.85" height="2.51" fill="#ff4f00"/>
<rect x="454.67" y="245.77" width="5.85" height="2.51" fill="#ffa800"/>
<rect x="454.67" y="248.23" width="5.85" height="2.51" fill="#fffd00"/>
<rect x="454.67" y="255.62" width="5.85" height="2.51" fill="#3affc5"/>
<rect x="454.67" y="216.23" width="5.85" height="2.51" fill="#00a1ff"/>
<rect x="454.67" y="260.54" width="5.85" height="2.51" fill="#5affa5"/>
<rect x="460.47" y="221.15" width="5.85" height="2.51" fill="#adff52"/>
<rect x="460.47" y="223.62" width="5.85" height="2.51" fill="#ff6b00"/>
<rect x="460.47" y="226.08" width="5.85" height="2.51" fill="#f0ff0f"/>
<rect x="460.47" y="235.92" width="5.85" height="2.51" fill="#fff100"/>
<rect x="460.47" y="233.46" width="5.85" height="2.51" fill="#b4ff4b"/>
<rect x="460.47" y="231.00" width="5.85" height="2.51" fill="#ffe500"/>
<rect x="460.47" y="228.54" width="5.85" height="2.51" fill="#b3ff4c"/>
<rect x="460.47" y="238.38" width="5.85" height="2.51" fill="#ffb100"/>
<rect x="460.47" y="243.31" width="5.85" height="2.51" fill="#ffae00"/>
<rect x="460.47" y="240.85" width="5.85" height="2.51" fill="#ff7300"/>
<rect x="460.47" y="245.77" width="5.85" height="2.51" fill="#ff5f00"/>
<rect x="460.47" y="248.23" width="5.85" height="2.51" fill="#d7ff28"/>
<rect x="466.28" y="221.15" width="5.85" height="2.51" fill="#00cdff"/>
<rect x="466.28" y="233.46" width="5.85" height="2.51" fill="#3cffc3"/>
<rect x="466.28" y="231.00" width="5.85" height="2.51" fill="#2fffd0"/>
<rect x="466.28" y="226.08" width="5.85" height="2.51" fill="#16ffe9"/>
<rect x="466.28" y="235.92" width="5.85" height="2.51" fill="#91ff6e"/>
<rect x="466.28" y="238.38" width="5.85" height="2.51" fill="#a3ff5c"/>
<rect x="466.28" y="240.85" width="5.85" height="2.51" fill="#ccff33"/>
<rect x="466.28" y="243.31" width="5.85" height="2.51" fill="#ffe500"/>
<rect x="466.28" y="248.23" width="5.85" height="2.51" fill="#7dff82"/>
<rect x="466.28" y="216.23" width="5.85" height="2.51" fill="#009cff"/>
<rect x="466.28" y="213.77" width="5.85" height="2.51" fill="#00b6ff"/>
<rect x="466.28" y="211.31" width="5.85" height="2.51" fill="#00dfff"/>
<rect x="472.08" y="221.15" width="5.85" height="2.51" fill="#00f9ff"/>
<rect x="472.08" y="233.46" width="5.85" height="2.51" fill="#14ffeb"/>
<rect x="472.08" y="228.54" width="5.85" height="2.51" fill="#00fbff"/>
<rect x="472.08" y="226.08" width="5.85" height="2.51" fill="#00feff"/>
<rect x="472.08" y="235.92" width="5.85" height="2.51" fill="#2dffd2"/>
<rect x="472.08" y="238.38" width="5.85" height="2.51" fill="#98ff67"/>
<rect x="472.08" y="240.85" width="5.85" height="2.51" fill="#e6ff19"/>
<rect x="472.08" y="243.31" width="5.85" height="2.51" fill="#e4ff1b"/>
<rect x="472.08" y="216.23" width="5.85" height="2.51" fill="#00d5ff"/>
<rect x="472.08" y="213.77" width="5.85" height="2.51" fill="#0094ff"/>
<rect x="477.88" y="221.15" width="5.85" height="2.51" fill="#00ebff"/>
<rect x="477.88" y="233.46" width="5.85" height="2.51" fill="#48ffb7"/>
<rect x="477.88" y="231.00" width="5.85" height="2.51" fill="#00efff"/>
<rect x="477.88" y="228.54" width="5.85" height="2.51" fill="#2cffd3"/>
<rect x="477.88" y="223.62" width="5.85" height="2.51" fill="#00e2ff"/>
<rect x="477.88" y="235.92" width="5.85" height="2.51" fill="#5affa5"/>
<rect x="477.88" y="238.38" width="5.85" height="2.51" fill="#b3ff4c"/>
<rect x="477.88" y="240.85" width="5.85" height="2.51" fill="#f9ff06"/>
<rect x="477.88" y="243.31" width="5.85" height="2.51" fill="#ffea00"/>
<rect x="477.88" y="245.77" width="5.85" height="2.51" fill="#89ff76"/>
<rect x="477.88" y="248.23" width="5.85" height="2.51" fill="#5dffa2"/>
<rect x="477.88" y="213.77" width="5.85" height="2.51" fill="#0091ff"/>
<rect x="483.69" y="221.15" width="5.85" height="2.51" fill="#00ecff"/>
<rect x="483.69" y="233.46" width="5.85" height="2.51" fill="#00e0ff"/>
<rect x="483.69" y="231.00" width="5.85" height="2.51" fill="#16ffe9"/>
<rect x="483.69" y="228.54" width="5.85" height="2.51" fill="#00d5ff"/>
<rect x="483.69" y="223.62" width="5.85" height="2.51" fill="#1dffe2"/>
<rect x="483.69" y="235.92" width="5.85" height="2.51" fill="#67ff98"/>
<rect x="483.69" y="238.38" width="5.85" height="2.51" fill="#bfff40"/>
<rect x="483.69" y="240.85" width="5.85" height="2.51" fill="#dbff24"/>
<rect x="483.69" y="243.31" width="5.85" height="2.51" fill="#d5ff2a"/>
<rect x="483.69" y="218.69" width="5.85" height="2.51" fill="#00ceff"/>
<rect x="489.49" y="221.15" width="5.85" height="2.51" fill="#00b5ff"/>
<rect x="489.49" y="233.46" width="5.85" height="2.51" fill="#4affb5"/>
<rect x="489.49" y="231.00" width="5.85" height="2.51" fill="#32ffcd"/>
<rect x="489.49" y="228.54" width="5.85" height="2.51" fill="#00d2ff"/>
<rect x="489.49" y="226.08" width="5.85" height="2.51" fill="#43ffbc"/>
<rect x="489.49" y="223.62" width="5.85" height="2.51" fill="#3effc1"/>
<rect x="489.49" y="235.92" width="5.85" height="2.51" fill="#86ff79"/>
<rect x="489.49" y="238.38" width="5.85" height="2.51" fill="#e3ff1c"/>
<rect x="489.49" y="240.85" width="5.85" height="2.51" fill="#ffdd00"/>
<rect x="489.49" y="243.31" width="5.85" height="2.51" fill="#ffe700"/>
<rect x="489.49" y="218.69" width="5.85" height="2.51" fill="#00caff"/>
<rect x="489.49" y="253.15" width="5.85" height="2.51" fill="#d2ff2d"/>
<rect x="495.30" y="221.15" width="5.85" height="2.51" fill="#05fffa"/>
<rect x="495.30" y="233.46" width="5.85" height="2.51" fill="#2affd5"/>
<rect x="495.30" y="226.08" width="5.85" height="2.51" fill="#0cfff3"/>
<rect x="495.30" y="235.92" width="5.85" height="2.51" fill="#6bff94"/>
<rect x="495.30" y="238.38" width="5.85" height="2.51" fill="#beff41"/>
<rect x="495.30" y="240.85" width="5.85" height="2.51" fill="#fffb00"/>
<rect x="495.30" y="243.31" width="5.85" height="2.51" fill="#dfff20"/>
<rect x="495.30" y="218.69" width="5.85" height="2.51" fill="#00d6ff"/>
<rect x="495.30" y="216.23" width="5.85" height="2.51" fill="#00aeff"/>
<rect x="495.30" y="201.46" width="5.85" height="2.51" fill="#51ffae"/>
<rect x="501.10" y="231.00" width="5.85" height="2.51" fill="#00dbff"/>
<rect x="501.10" y="228.54" width="5.85" height="2.51" fill="#3bffc4"/>
<rect x="501.10" y="226.08" width="5.85" height="2.51" fill="#42ffbd"/>
<rect x="501.10" y="223.62" width="5.85" height="2.51" fill="#00fbff"/>
<rect x="501.10" y="235.92" width="5.85" height="2.51" fill="#31ffce"/>
<rect x="501.10" y="238.38" width="5.85" height="2.51" fill="#b8ff47"/>
<rect x="501.10" y="240.85" width="5.85" height="2.51" fill="#f6ff09"/>
<rect x="501.10" y="243.31" width="5.85" height="2.51" fill="#b0ff4f"/>
<rect x="501.10" y="245.77" width="5.85" height="2.51" fill="#50ffaf"/>
<rect x="501.10" y="216.23" width="5.85" height="2.51" fill="#00e6ff"/>
<rect x="501.10" y="213.77" width="5.85" height="2.51" fill="#47ffb8"/>
<rect x="501.10" y="201.46" width="5.85" height="2.51" fill="#37ffc8"/>
<rect x="506.90" y="221.15" width="5.85" height="2.51" fill="#00a4ff"/>
<rect x="506.90" y="233.46" width="5.85" height="2.51" fill="#30ffcf"/>
<rect x="506.90" y="231.00" width="5.85" height="2.51" fill="#3dffc2"/>
<rect x="506.90" y="228.54" width="5.85" height="2.51" fill="#01fffe"/>
<rect x="506.90" y="226.08" width="5.85" height="2.51" fill="#00fdff"/>
<rect x="506.90" y="223.62" width="5.85" height="2.51" fill="#09fff6"/>
<rect x="506.90" y="235.92" width="5.85" height="2.51" fill="#82ff7d"/>
<rect x="506.90" y="238.38" width="5.85" height="2.51" fill="#d1ff2e"/>
<rect x="506.90" y="240.85" width="5.85" height="2.51" fill="#ffd300"/>
<rect x="506.90" y="243.31" width="5.85" height="2.51" fill="#d6ff29"/>
<rect x="506.90" y="211.31" width="5.85" height="2.51" fill="#39ffc6"/>
<rect x="512.71" y="228.54" width="5.85" height="2.51" fill="#11ffee"/>
<rect x="512.71" y="223.62" width="5.85" height="2.51" fill="#00eeff"/>
<rect x="512.71" y="235.92" width="5.85" height="2.51" fill="#52ffad"/>
<rect x="512.71" y="238.38" width="5.85" height="2.51" fill="#ebff14"/>
<rect x="512.71" y="240.85" width="5.85" height="2.51" fill="#c3ff3c"/>
<rect x="512.71" y="243.31" width="5.85" height="2.51" fill="#c5ff3a"/>
<rect x="512.71" y="248.23" width="5.85" height="2.51" fill="#b8ff47"/>
<rect x="512.71" y="218.69" width="5.85" height="2.51" fill="#6aff95"/>
<rect x="512.71" y="206.38" width="5.85" height="2.51" fill="#00bfff"/>
<rect x="518.51" y="221.15" width="5.85" height="2.51" fill="#00eaff"/>
<rect x="518.51" y="231.00" width="5.85" height="2.51" fill="#26ffd9"/>
<rect x="518.51" y="228.54" width="5.85" height="2.51" fill="#6bff94"/>
<rect x="518.51" y="226.08" width="5.85" height="2.51" fill="#36ffc9"/>
<rect x="518.51" y="223.62" width="5.85" height="2.51" fill="#69ff96"/>
<rect x="518.51" y="235.92" width="5.85" height="2.51" fill="#cbff34"/>
<rect x="518.51" y="233.46" width="5.85" height="2.51" fill="#adff52"/>
<rect x="518.51" y="238.38" width="5.85" height="2.51" fill="#feff01"/>
<rect x="518.51" y="243.31" width="5.85" height="2.51" fill="#ff6100"/>
<rect x="518.51" y="240.85" width="5.85" height="2.51" fill="#ff5e00"/>
<rect x="518.51" y="245.77" width="5.85" height="2.51" fill="#ffed00"/>
<rect x="518.51" y="218.69" width="5.85" height="2.51" fill="#00d3ff"/>
<rect x="518.51" y="201.46" width="5.85" height="2.51" fill="#51ffae"/>
<rect x="518.51" y="260.54" width="5.85" height="2.51" fill="#ceff31"/>
<rect x="524.32" y="221.15" width="5.85" height="2.51" fill="#2affd5"/>
<rect x="524.32" y="231.00" width="5.85" height="2.51" fill="#64ff9b"/>
<rect x="524.32" y="228.54" width="5.85" height="2.51" fill="#76ff89"/>
<rect x="524.32" y="226.08" width="5.85" height="2.51" fill="#70ff8f"/>
<rect x="524.32" y="223.62" width="5.85" height="2.51" fill="#77ff88"/>
<rect x="524.32" y="235.92" width="5.85" height="2.51" fill="#deff21"/>
<rect x="524.32" y="233.46" width="5.85" height="2.51" fill="#e9ff16"/>
<rect x="524.32" y="238.38" width="5.85" height="2.51" fill="#ffaa00"/>
<rect x="524.32" y="243.31" width="5.85" height="2.51" fill="#ff9200"/>
<rect x="524.32" y="240.85" width="5.85" height="2.51" fill="#ff7d00"/>
<rect x="524.32" y="245.77" width="5.85" height="2.51" fill="#c4ff3b"/>
<rect x="524.32" y="248.23" width="5.85" height="2.51" fill="#82ff7d"/>
<rect x="524.32" y="218.69" width="5.85" height="2.51" fill="#00ddff"/>
<rect x="530.12" y="221.15" width="5.85" height="2.51" fill="#06fff9"/>
<rect x="530.12" y="231.00" width="5.85" height="2.51" fill="#15ffea"/>
<rect x="530.12" y="228.54" width="5.85" height="2.51" fill="#87ff78"/>
<rect x="530.12" y="226.08" width="5.85" height="2.51" fill="#2cffd3"/>
<rect x="530.12" y="223.62" width="5.85" height="2.51" fill="#11ffee"/>
<rect x="530.12" y="235.92" width="5.85" height="2.51" fill="#78ff87"/>
<rect x="530.12" y="233.46" width="5.85" height="2.51" fill="#7eff81"/>
<rect x="530.12" y="238.38" width="5.85" height="2.51" fill="#f6ff09"/>
<rect x="530.12" y="243.31" width="5.85" height="2.51" fill="#ff7000"/>
<rect x="530.12" y="240.85" width="5.85" height="2.51" fill="#ff3a00"/>
<rect x="530.12" y="245.77" width="5.85" height="2.51" fill="#b9ff46"/>
<rect x="530.12" y="248.23" width="5.85" height="2.51" fill="#95ff6a"/>
<rect x="530.12" y="218.69" width="5.85" height="2.51" fill="#00ddff"/>
<rect x="530.12" y="213.77" width="5.85" height="2.51" fill="#00c3ff"/>
<rect x="530.12" y="206.38" width="5.85" height="2.51" fill="#29ffd6"/>
<rect x="530.12" y="203.92" width="5.85" height="2.51" fill="#008dff"/>
<rect x="530.12" y="258.08" width="5.85" height="2.51" fill="#c7ff38"/>
<rect x="535.92" y="221.15" width="5.85" height="2.51" fill="#19ffe6"/>
<rect x="535.92" y="231.00" width="5.85" height="2.51" fill="#2effd1"/>
<rect x="535.92" y="228.54" width="5.85" height="2.51" fill="#85ff7a"/>
<rect x="535.92" y="226.08" width="5.85" height="2.51" fill="#43ffbc"/>
<rect x="535.92" y="223.62" width="5.85" height="2.51" fill="#70ff8f"/>
<rect x="535.92" y="235.92" width="5.85" height="2.51" fill="#ccff33"/>
<rect x="535.92" y="233.46" width="5.85" height="2.51" fill="#85ff7a"/>
<rect x="535.92" y="238.38" width="5.85" height="2.51" fill="#fff500"/>
<rect x="535.92" y="243.31" width="5.85" height="2.51" fill="#ff3300"/>
<rect x="535.92" y="240.85" width="5.85" height="2.51" fill="#ff2e00"/>
<rect x="535.92" y="245.77" width="5.85" height="2.51" fill="#e6ff19"/>
<rect x="535.92" y="248.23" width="5.85" height="2.51" fill="#43ffbc"/>
<rect x="535.92" y="213.77" width="5.85" height="2.51" fill="#00caff"/>
<rect x="535.92" y="206.38" width="5.85" height="2.51" fill="#2bffd4"/>
<rect x="541.73" y="221.15" width="5.32" height="2.51" fill="#00ecff"/>
<rect x="541.73" y="231.00" width="5.32" height="2.51" fill="#4bffb4"/>
<rect x="541.73" y="228.54" width="5.32" height="2.51" fill="#6cff93"/>
<rect x="541.73" y="226.08" width="5.32" height="2.51" fill="#4affb5"/>
<rect x="541.73" y="223.62" width="5.32" height="2.51" fill="#88ff77"/>
<rect x="541.73" y="235.92" width="5.32" height="2.51" fill="#adff52"/>
<rect x="541.73" y="233.46" width="5.32" height="2.51" fill="#7aff85"/>
<rect x="541.73" y="238.38" width="5.32" height="2.51" fill="#f4ff0b"/>
<rect x="541.73" y="243.31" width="5.32" height="2.51" fill="#ff9b00"/>
<rect x="541.73" y="240.85" width="5.32" height="2.51" fill="#ff4000"/>
<rect x="541.73" y="245.77" width="5.32" height="2.51" fill="#ffe600"/>
<rect x="541.73" y="248.23" width="5.32" height="2.51" fill="#71ff8e"/>
</g>
<polyline points="65.5,230.5 69.3,231.0 74.0,234.0 78.7,236.8 83.3,238.2 88.0,236.8 95.0,241.0 102.0,239.8 109.0,240.5 116.0,241.0 123.0,238.7 130.0,239.1 139.3,238.7 146.3,240.5 153.3,239.1 160.3,237.5 167.3,238.7 174.3,240.5 181.3,242.2 188.3,242.2 195.3,242.6 206.7,242.5 218.3,243.0 230.0,242.5 241.7,241.8 253.3,241.1 265.0,240.7 276.7,240.2 284.8,239.5 290.7,234.8 296.5,231.8 304.7,236.0 314.0,234.1 321.0,236.5 328.0,235.5 333.8,239.5 337.0,237.2 344.0,238.3 353.3,237.6 362.7,244.2 369.7,243.7 376.7,244.2 383.7,240.2 390.7,237.2 400.0,238.3 409.3,240.7 418.7,238.3 425.7,237.2 435.0,238.3 442.0,240.7 449.0,241.8 456.0,240.2 460.0,239.0 467.5,239.3 475.0,240.2 482.5,241.2 488.5,242.7 494.5,239.7 500.5,239.7 505.7,238.2 512.5,242.0 518.5,240.2 524.5,241.7 532.0,241.7 539.5,241.2 546.2,240.5" fill="none" stroke="#000" stroke-width="1.5" stroke-linejoin="round"/>
<g shape-rendering="crispEdges">
<rect x="65.80" y="263.00" width="5.85" height="8.18" fill="#bdff42"/>
<rect x="65.80" y="271.12" width="5.85" height="8.18" fill="#fff000"/>
<rect x="65.80" y="279.25" width="5.85" height="8.18" fill="#fff000"/>
<rect x="65.80" y="287.38" width="5.85" height="8.18" fill="#00f0ff"/>
<rect x="71.60" y="263.00" width="5.85" height="8.18" fill="#bdff42"/>
<rect x="71.60" y="271.12" width="5.85" height="8.18" fill="#fff000"/>
<rect x="71.60" y="279.25" width="5.85" height="8.18" fill="#fff000"/>
<rect x="71.60" y="287.38" width="5.85" height="8.18" fill="#004dff"/>
<rect x="77.41" y="263.00" width="5.85" height="8.18" fill="#e5ff1a"/>
<rect x="77.41" y="271.12" width="5.85" height="8.18" fill="#fff000"/>
<rect x="77.41" y="279.25" width="5.85" height="8.18" fill="#fff000"/>
<rect x="77.41" y="287.38" width="5.85" height="8.18" fill="#004dff"/>
<rect x="77.41" y="303.62" width="5.85" height="8.18" fill="#00f0ff"/>
<rect x="83.21" y="263.00" width="5.85" height="8.18" fill="#ffc700"/>
<rect x="83.21" y="271.12" width="5.85" height="8.18" fill="#ff7500"/>
<rect x="83.21" y="279.25" width="5.85" height="8.18" fill="#ff9e00"/>
<rect x="83.21" y="287.38" width="5.85" height="8.18" fill="#42ffbd"/>
<rect x="83.21" y="295.50" width="5.85" height="8.18" fill="#0075ff"/>
<rect x="83.21" y="319.88" width="5.85" height="8.18" fill="#004dff"/>
<rect x="89.02" y="263.00" width="5.85" height="8.18" fill="#ffc700"/>
<rect x="89.02" y="271.12" width="5.85" height="8.18" fill="#ff7500"/>
<rect x="89.02" y="279.25" width="5.85" height="8.18" fill="#ff9e00"/>
<rect x="89.02" y="287.38" width="5.85" height="8.18" fill="#1affe5"/>
<rect x="89.02" y="303.62" width="5.85" height="8.18" fill="#00c7ff"/>
<rect x="94.82" y="263.00" width="5.85" height="8.18" fill="#fff000"/>
<rect x="94.82" y="271.12" width="5.85" height="8.18" fill="#ff9e00"/>
<rect x="94.82" y="279.25" width="5.85" height="8.18" fill="#ff9e00"/>
<rect x="94.82" y="287.38" width="5.85" height="8.18" fill="#42ffbd"/>
<rect x="100.62" y="263.00" width="5.85" height="8.18" fill="#ffc700"/>
<rect x="100.62" y="271.12" width="5.85" height="8.18" fill="#ff7500"/>
<rect x="100.62" y="279.25" width="5.85" height="8.18" fill="#ff9e00"/>
<rect x="100.62" y="287.38" width="5.85" height="8.18" fill="#42ffbd"/>
<rect x="106.43" y="263.00" width="5.85" height="8.18" fill="#ffc700"/>
<rect x="106.43" y="271.12" width="5.85" height="8.18" fill="#ff7500"/>
<rect x="106.43" y="279.25" width="5.85" height="8.18" fill="#ff9e00"/>
<rect x="106.43" y="287.38" width="5.85" height="8.18" fill="#42ffbd"/>
<rect x="106.43" y="295.50" width="5.85" height="8.18" fill="#00c7ff"/>
<rect x="106.43" y="303.62" width="5.85" height="8.18" fill="#00c7ff"/>
<rect x="112.23" y="263.00" width="5.85" height="8.18" fill="#fff000"/>
<rect x="112.23" y="271.12" width="5.85" height="8.18" fill="#ff7500"/>
<rect x="112.23" y="279.25" width="5.85" height="8.18" fill="#ff9e00"/>
<rect x="112.23" y="287.38" width="5.85" height="8.18" fill="#1affe5"/>
<rect x="112.23" y="295.50" width="5.85" height="8.18" fill="#009eff"/>
<rect x="112.23" y="303.62" width="5.85" height="8.18" fill="#009eff"/>
<rect x="112.23" y="319.88" width="5.85" height="8.18" fill="#004dff"/>
<rect x="118.04" y="263.00" width="5.85" height="8.18" fill="#ffc700"/>
<rect x="118.04" y="271.12" width="5.85" height="8.18" fill="#ff9e00"/>
<rect x="118.04" y="279.25" width="5.85" height="8.18" fill="#ff9e00"/>
<rect x="118.04" y="287.38" width="5.85" height="8.18" fill="#42ffbd"/>
<rect x="118.04" y="295.50" width="5.85" height="8.18" fill="#00c7ff"/>
<rect x="123.84" y="263.00" width="5.85" height="8.18" fill="#e5ff1a"/>
<rect x="123.84" y="271.12" width="5.85" height="8.18" fill="#ff9e00"/>
<rect x="123.84" y="279.25" width="5.85" height="8.18" fill="#ff9e00"/>
<rect x="123.84" y="287.38" width="5.85" height="8.18" fill="#1affe5"/>
<rect x="123.84" y="295.50" width="5.85" height="8.18" fill="#009eff"/>
<rect x="129.64" y="263.00" width="5.85" height="8.18" fill="#bdff42"/>
<rect x="129.64" y="271.12" width="5.85" height="8.18" fill="#ff9e00"/>
<rect x="129.64" y="279.25" width="5.85" height="8.18" fill="#ff9e00"/>
<rect x="129.64" y="287.38" width="5.85" height="8.18" fill="#1affe5"/>
<rect x="129.64" y="319.88" width="5.85" height="8.18" fill="#0075ff"/>
<rect x="135.45" y="263.00" width="5.85" height="8.18" fill="#bdff42"/>
<rect x="135.45" y="271.12" width="5.85" height="8.18" fill="#ffc700"/>
<rect x="135.45" y="279.25" width="5.85" height="8.18" fill="#ffc700"/>
<rect x="135.45" y="287.38" width="5.85" height="8.18" fill="#42ffbd"/>
<rect x="141.25" y="263.00" width="5.85" height="8.18" fill="#e5ff1a"/>
<rect x="141.25" y="271.12" width="5.85" height="8.18" fill="#ff9e00"/>
<rect x="141.25" y="279.25" width="5.85" height="8.18" fill="#ff9e00"/>
<rect x="141.25" y="287.38" width="5.85" height="8.18" fill="#42ffbd"/>
<rect x="141.25" y="295.50" width="5.85" height="8.18" fill="#009eff"/>
<rect x="147.06" y="263.00" width="5.85" height="8.18" fill="#e5ff1a"/>
<rect x="147.06" y="271.12" width="5.85" height="8.18" fill="#fff000"/>
<rect x="147.06" y="279.25" width="5.85" height="8.18" fill="#ffc700"/>
<rect x="147.06" y="287.38" width="5.85" height="8.18" fill="#6bff94"/>
<rect x="147.06" y="295.50" width="5.85" height="8.18" fill="#009eff"/>
<rect x="147.06" y="303.62" width="5.85" height="8.18" fill="#00c7ff"/>
<rect x="152.86" y="263.00" width="5.85" height="8.18" fill="#e5ff1a"/>
<rect x="152.86" y="271.12" width="5.85" height="8.18" fill="#ff9e00"/>
<rect x="152.86" y="279.25" width="5.85" height="8.18" fill="#ff9e00"/>
<rect x="152.86" y="287.38" width="5.85" height="8.18" fill="#1affe5"/>
<rect x="158.66" y="263.00" width="5.85" height="8.18" fill="#e5ff1a"/>
<rect x="158.66" y="271.12" width="5.85" height="8.18" fill="#ff9e00"/>
<rect x="158.66" y="279.25" width="5.85" height="8.18" fill="#ff9e00"/>
<rect x="158.66" y="287.38" width="5.85" height="8.18" fill="#1affe5"/>
<rect x="164.47" y="263.00" width="5.85" height="8.18" fill="#e5ff1a"/>
<rect x="164.47" y="271.12" width="5.85" height="8.18" fill="#ffc700"/>
<rect x="164.47" y="279.25" width="5.85" height="8.18" fill="#ffc700"/>
<rect x="164.47" y="287.38" width="5.85" height="8.18" fill="#00f0ff"/>
<rect x="170.27" y="263.00" width="5.85" height="8.18" fill="#42ffbd"/>
<rect x="170.27" y="271.12" width="5.85" height="8.18" fill="#e5ff1a"/>
<rect x="170.27" y="279.25" width="5.85" height="8.18" fill="#ffc700"/>
<rect x="170.27" y="287.38" width="5.85" height="8.18" fill="#00f0ff"/>
<rect x="176.08" y="263.00" width="5.85" height="8.18" fill="#bdff42"/>
<rect x="176.08" y="271.12" width="5.85" height="8.18" fill="#e5ff1a"/>
<rect x="176.08" y="279.25" width="5.85" height="8.18" fill="#ff7500"/>
<rect x="176.08" y="287.38" width="5.85" height="8.18" fill="#6bff94"/>
<rect x="176.08" y="295.50" width="5.85" height="8.18" fill="#009eff"/>
<rect x="181.88" y="263.00" width="5.85" height="8.18" fill="#42ffbd"/>
<rect x="181.88" y="271.12" width="5.85" height="8.18" fill="#e5ff1a"/>
<rect x="181.88" y="279.25" width="5.85" height="8.18" fill="#ff7500"/>
<rect x="181.88" y="287.38" width="5.85" height="8.18" fill="#42ffbd"/>
<rect x="181.88" y="295.50" width="5.85" height="8.18" fill="#009eff"/>
<rect x="187.68" y="263.00" width="5.85" height="8.18" fill="#42ffbd"/>
<rect x="187.68" y="271.12" width="5.85" height="8.18" fill="#fff000"/>
<rect x="187.68" y="279.25" width="5.85" height="8.18" fill="#ff7500"/>
<rect x="187.68" y="287.38" width="5.85" height="8.18" fill="#1affe5"/>
<rect x="187.68" y="295.50" width="5.85" height="8.18" fill="#0075ff"/>
<rect x="193.49" y="263.00" width="5.85" height="8.18" fill="#42ffbd"/>
<rect x="193.49" y="271.12" width="5.85" height="8.18" fill="#ffc700"/>
<rect x="193.49" y="279.25" width="5.85" height="8.18" fill="#ff4c00"/>
<rect x="193.49" y="287.38" width="5.85" height="8.18" fill="#1affe5"/>
<rect x="193.49" y="295.50" width="5.85" height="8.18" fill="#009eff"/>
<rect x="193.49" y="303.62" width="5.85" height="8.18" fill="#00f0ff"/>
<rect x="199.29" y="263.00" width="5.85" height="8.18" fill="#004dff"/>
<rect x="199.29" y="271.12" width="5.85" height="8.18" fill="#e5ff1a"/>
<rect x="199.29" y="279.25" width="5.85" height="8.18" fill="#ff7500"/>
<rect x="199.29" y="287.38" width="5.85" height="8.18" fill="#00f0ff"/>
<rect x="205.10" y="263.00" width="5.85" height="8.18" fill="#42ffbd"/>
<rect x="205.10" y="271.12" width="5.85" height="8.18" fill="#e5ff1a"/>
<rect x="205.10" y="279.25" width="5.85" height="8.18" fill="#ff7500"/>
<rect x="205.10" y="287.38" width="5.85" height="8.18" fill="#1affe5"/>
<rect x="205.10" y="295.50" width="5.85" height="8.18" fill="#009eff"/>
<rect x="210.90" y="263.00" width="5.85" height="8.18" fill="#42ffbd"/>
<rect x="210.90" y="271.12" width="5.85" height="8.18" fill="#fff000"/>
<rect x="210.90" y="279.25" width="5.85" height="8.18" fill="#ff7500"/>
<rect x="210.90" y="287.38" width="5.85" height="8.18" fill="#1affe5"/>
<rect x="210.90" y="295.50" width="5.85" height="8.18" fill="#009eff"/>
<rect x="216.70" y="263.00" width="5.85" height="8.18" fill="#42ffbd"/>
<rect x="216.70" y="271.12" width="5.85" height="8.18" fill="#e5ff1a"/>
<rect x="216.70" y="279.25" width="5.85" height="8.18" fill="#ff7500"/>
<rect x="216.70" y="287.38" width="5.85" height="8.18" fill="#42ffbd"/>
<rect x="222.51" y="263.00" width="5.85" height="8.18" fill="#1affe5"/>
<rect x="222.51" y="271.12" width="5.85" height="8.18" fill="#fff000"/>
<rect x="222.51" y="279.25" width="5.85" height="8.18" fill="#ff7500"/>
<rect x="222.51" y="287.38" width="5.85" height="8.18" fill="#42ffbd"/>
<rect x="222.51" y="295.50" width="5.85" height="8.18" fill="#0000fa"/>
<rect x="228.31" y="263.00" width="5.85" height="8.18" fill="#1affe5"/>
<rect x="228.31" y="271.12" width="5.85" height="8.18" fill="#e5ff1a"/>
<rect x="228.31" y="279.25" width="5.85" height="8.18" fill="#ff9e00"/>
<rect x="228.31" y="287.38" width="5.85" height="8.18" fill="#42ffbd"/>
<rect x="228.31" y="295.50" width="5.85" height="8.18" fill="#00f0ff"/>
<rect x="234.12" y="271.12" width="5.85" height="8.18" fill="#e5ff1a"/>
<rect x="234.12" y="279.25" width="5.85" height="8.18" fill="#ff9e00"/>
<rect x="234.12" y="287.38" width="5.85" height="8.18" fill="#42ffbd"/>
<rect x="239.92" y="263.00" width="5.85" height="8.18" fill="#42ffbd"/>
<rect x="239.92" y="271.12" width="5.85" height="8.18" fill="#ff7500"/>
<rect x="239.92" y="279.25" width="5.85" height="8.18" fill="#ff4c00"/>
<rect x="239.92" y="287.38" width="5.85" height="8.18" fill="#42ffbd"/>
<rect x="245.72" y="263.00" width="5.85" height="8.18" fill="#94ff6b"/>
<rect x="245.72" y="271.12" width="5.85" height="8.18" fill="#ff7500"/>
<rect x="245.72" y="279.25" width="5.85" height="8.18" fill="#ff4c00"/>
<rect x="245.72" y="287.38" width="5.85" height="8.18" fill="#6bff94"/>
<rect x="245.72" y="295.50" width="5.85" height="8.18" fill="#00f0ff"/>
<rect x="245.72" y="311.75" width="5.85" height="8.18" fill="#ff4c00"/>
<rect x="251.53" y="263.00" width="5.85" height="8.18" fill="#94ff6b"/>
<rect x="251.53" y="271.12" width="5.85" height="8.18" fill="#ff7500"/>
<rect x="251.53" y="279.25" width="5.85" height="8.18" fill="#ff2400"/>
<rect x="251.53" y="287.38" width="5.85" height="8.18" fill="#94ff6b"/>
<rect x="251.53" y="295.50" width="5.85" height="8.18" fill="#00f0ff"/>
<rect x="251.53" y="303.62" width="5.85" height="8.18" fill="#0075ff"/>
<rect x="257.33" y="263.00" width="5.85" height="8.18" fill="#94ff6b"/>
<rect x="257.33" y="271.12" width="5.85" height="8.18" fill="#ff7500"/>
<rect x="257.33" y="279.25" width="5.85" height="8.18" fill="#ff2400"/>
<rect x="257.33" y="287.38" width="5.85" height="8.18" fill="#94ff6b"/>
<rect x="257.33" y="295.50" width="5.85" height="8.18" fill="#00f0ff"/>
<rect x="257.33" y="303.62" width="5.85" height="8.18" fill="#00f0ff"/>
<rect x="263.14" y="263.00" width="5.85" height="8.18" fill="#bdff42"/>
<rect x="263.14" y="271.12" width="5.85" height="8.18" fill="#ff4c00"/>
<rect x="263.14" y="279.25" width="5.85" height="8.18" fill="#fa0000"/>
<rect x="263.14" y="287.38" width="5.85" height="8.18" fill="#bdff42"/>
<rect x="263.14" y="295.50" width="5.85" height="8.18" fill="#00f0ff"/>
<rect x="263.14" y="303.62" width="5.85" height="8.18" fill="#004dff"/>
<rect x="268.94" y="263.00" width="5.85" height="8.18" fill="#bdff42"/>
<rect x="268.94" y="271.12" width="5.85" height="8.18" fill="#ff4c00"/>
<rect x="268.94" y="279.25" width="5.85" height="8.18" fill="#fa0000"/>
<rect x="268.94" y="287.38" width="5.85" height="8.18" fill="#94ff6b"/>
<rect x="268.94" y="295.50" width="5.85" height="8.18" fill="#00c7ff"/>
<rect x="268.94" y="303.62" width="5.85" height="8.18" fill="#00f0ff"/>
<rect x="274.74" y="263.00" width="5.85" height="8.18" fill="#004dff"/>
<rect x="274.74" y="271.12" width="5.85" height="8.18" fill="#ff4c00"/>
<rect x="274.74" y="279.25" width="5.85" height="8.18" fill="#fa0000"/>
<rect x="274.74" y="287.38" width="5.85" height="8.18" fill="#6bff94"/>
<rect x="274.74" y="295.50" width="5.85" height="8.18" fill="#00f0ff"/>
<rect x="280.55" y="263.00" width="5.85" height="8.18" fill="#42ffbd"/>
<rect x="280.55" y="271.12" width="5.85" height="8.18" fill="#ff4c00"/>
<rect x="280.55" y="279.25" width="5.85" height="8.18" fill="#ff2400"/>
<rect x="280.55" y="287.38" width="5.85" height="8.18" fill="#94ff6b"/>
<rect x="280.55" y="295.50" width="5.85" height="8.18" fill="#00f0ff"/>
<rect x="280.55" y="303.62" width="5.85" height="8.18" fill="#94ff6b"/>
<rect x="280.55" y="319.88" width="5.85" height="8.18" fill="#009eff"/>
<rect x="286.35" y="263.00" width="5.85" height="8.18" fill="#42ffbd"/>
<rect x="286.35" y="271.12" width="5.85" height="8.18" fill="#ff7500"/>
<rect x="286.35" y="279.25" width="5.85" height="8.18" fill="#ff2400"/>
<rect x="286.35" y="287.38" width="5.85" height="8.18" fill="#fff000"/>
<rect x="286.35" y="295.50" width="5.85" height="8.18" fill="#00f0ff"/>
<rect x="292.16" y="263.00" width="5.85" height="8.18" fill="#42ffbd"/>
<rect x="292.16" y="271.12" width="5.85" height="8.18" fill="#ffc700"/>
<rect x="292.16" y="279.25" width="5.85" height="8.18" fill="#ffc700"/>
<rect x="292.16" y="287.38" width="5.85" height="8.18" fill="#1affe5"/>
<rect x="292.16" y="295.50" width="5.85" height="8.18" fill="#0024ff"/>
<rect x="297.96" y="263.00" width="5.85" height="8.18" fill="#94ff6b"/>
<rect x="297.96" y="271.12" width="5.85" height="8.18" fill="#ffc700"/>
<rect x="297.96" y="279.25" width="5.85" height="8.18" fill="#ffc700"/>
<rect x="297.96" y="287.38" width="5.85" height="8.18" fill="#94ff6b"/>
<rect x="297.96" y="295.50" width="5.85" height="8.18" fill="#00f0ff"/>
<rect x="303.76" y="263.00" width="5.85" height="8.18" fill="#e5ff1a"/>
<rect x="303.76" y="271.12" width="5.85" height="8.18" fill="#ff2400"/>
<rect x="303.76" y="279.25" width="5.85" height="8.18" fill="#ff4c00"/>
<rect x="303.76" y="287.38" width="5.85" height="8.18" fill="#94ff6b"/>
<rect x="303.76" y="295.50" width="5.85" height="8.18" fill="#00f0ff"/>
<rect x="303.76" y="303.62" width="5.85" height="8.18" fill="#94ff6b"/>
<rect x="309.57" y="263.00" width="5.85" height="8.18" fill="#94ff6b"/>
<rect x="309.57" y="271.12" width="5.85" height="8.18" fill="#ff2400"/>
<rect x="309.57" y="279.25" width="5.85" height="8.18" fill="#ff9e00"/>
<rect x="309.57" y="287.38" width="5.85" height="8.18" fill="#94ff6b"/>
<rect x="309.57" y="295.50" width="5.85" height="8.18" fill="#94ff6b"/>
<rect x="309.57" y="303.62" width="5.85" height="8.18" fill="#e5ff1a"/>
<rect x="315.37" y="263.00" width="5.85" height="8.18" fill="#e5ff1a"/>
<rect x="315.37" y="271.12" width="5.85" height="8.18" fill="#ff4c00"/>
<rect x="315.37" y="279.25" width="5.85" height="8.18" fill="#ff9e00"/>
<rect x="315.37" y="287.38" width="5.85" height="8.18" fill="#1affe5"/>
<rect x="321.18" y="263.00" width="5.85" height="8.18" fill="#94ff6b"/>
<rect x="321.18" y="271.12" width="5.85" height="8.18" fill="#ff7500"/>
<rect x="321.18" y="279.25" width="5.85" height="8.18" fill="#ff9e00"/>
<rect x="321.18" y="287.38" width="5.85" height="8.18" fill="#94ff6b"/>
<rect x="321.18" y="303.62" width="5.85" height="8.18" fill="#94ff6b"/>
<rect x="326.98" y="263.00" width="5.85" height="8.18" fill="#e5ff1a"/>
<rect x="326.98" y="271.12" width="5.85" height="8.18" fill="#ff7500"/>
<rect x="326.98" y="279.25" width="5.85" height="8.18" fill="#ff9e00"/>
<rect x="326.98" y="287.38" width="5.85" height="8.18" fill="#94ff6b"/>
<rect x="326.98" y="295.50" width="5.85" height="8.18" fill="#94ff6b"/>
<rect x="326.98" y="319.88" width="5.85" height="8.18" fill="#00f0ff"/>
<rect x="332.78" y="263.00" width="5.85" height="8.18" fill="#e5ff1a"/>
<rect x="332.78" y="271.12" width="5.85" height="8.18" fill="#fff000"/>
<rect x="332.78" y="279.25" width="5.85" height="8.18" fill="#ffc700"/>
<rect x="332.78" y="287.38" width="5.85" height="8.18" fill="#6bff94"/>
<rect x="332.78" y="295.50" width="5.85" height="8.18" fill="#6bff94"/>
<rect x="332.78" y="303.62" width="5.85" height="8.18" fill="#ff4c00"/>
<rect x="332.78" y="311.75" width="5.85" height="8.18" fill="#a80000"/>
<rect x="332.78" y="319.88" width="5.85" height="8.18" fill="#00f0ff"/>
<rect x="338.59" y="263.00" width="5.85" height="8.18" fill="#e5ff1a"/>
<rect x="338.59" y="271.12" width="5.85" height="8.18" fill="#e5ff1a"/>
<rect x="338.59" y="279.25" width="5.85" height="8.18" fill="#ffc700"/>
<rect x="338.59" y="287.38" width="5.85" height="8.18" fill="#6bff94"/>
<rect x="338.59" y="295.50" width="5.85" height="8.18" fill="#94ff6b"/>
<rect x="338.59" y="303.62" width="5.85" height="8.18" fill="#bdff42"/>
<rect x="344.39" y="263.00" width="5.85" height="8.18" fill="#e5ff1a"/>
<rect x="344.39" y="271.12" width="5.85" height="8.18" fill="#e5ff1a"/>
<rect x="344.39" y="279.25" width="5.85" height="8.18" fill="#fff000"/>
<rect x="344.39" y="287.38" width="5.85" height="8.18" fill="#94ff6b"/>
<rect x="344.39" y="295.50" width="5.85" height="8.18" fill="#94ff6b"/>
<rect x="344.39" y="303.62" width="5.85" height="8.18" fill="#e5ff1a"/>
<rect x="350.20" y="263.00" width="5.85" height="8.18" fill="#94ff6b"/>
<rect x="350.20" y="271.12" width="5.85" height="8.18" fill="#e5ff1a"/>
<rect x="350.20" y="279.25" width="5.85" height="8.18" fill="#ffc700"/>
<rect x="350.20" y="287.38" width="5.85" height="8.18" fill="#42ffbd"/>
<rect x="350.20" y="295.50" width="5.85" height="8.18" fill="#42ffbd"/>
<rect x="350.20" y="303.62" width="5.85" height="8.18" fill="#94ff6b"/>
<rect x="356.00" y="263.00" width="5.85" height="8.18" fill="#42ffbd"/>
<rect x="356.00" y="271.12" width="5.85" height="8.18" fill="#e5ff1a"/>
<rect x="356.00" y="279.25" width="5.85" height="8.18" fill="#fff000"/>
<rect x="356.00" y="287.38" width="5.85" height="8.18" fill="#42ffbd"/>
<rect x="356.00" y="295.50" width="5.85" height="8.18" fill="#42ffbd"/>
<rect x="356.00" y="303.62" width="5.85" height="8.18" fill="#94ff6b"/>
<rect x="361.80" y="263.00" width="5.85" height="8.18" fill="#42ffbd"/>
<rect x="361.80" y="271.12" width="5.85" height="8.18" fill="#e5ff1a"/>
<rect x="361.80" y="279.25" width="5.85" height="8.18" fill="#fff000"/>
<rect x="361.80" y="287.38" width="5.85" height="8.18" fill="#42ffbd"/>
<rect x="361.80" y="295.50" width="5.85" height="8.18" fill="#6bff94"/>
<rect x="361.80" y="303.62" width="5.85" height="8.18" fill="#ff9e00"/>
<rect x="361.80" y="319.88" width="5.85" height="8.18" fill="#00c7ff"/>
<rect x="367.61" y="263.00" width="5.85" height="8.18" fill="#6bff94"/>
<rect x="367.61" y="271.12" width="5.85" height="8.18" fill="#e5ff1a"/>
<rect x="367.61" y="279.25" width="5.85" height="8.18" fill="#fff000"/>
<rect x="367.61" y="287.38" width="5.85" height="8.18" fill="#6bff94"/>
<rect x="367.61" y="295.50" width="5.85" height="8.18" fill="#94ff6b"/>
<rect x="367.61" y="303.62" width="5.85" height="8.18" fill="#ff9e00"/>
<rect x="367.61" y="319.88" width="5.85" height="8.18" fill="#00c7ff"/>
<rect x="373.41" y="263.00" width="5.85" height="8.18" fill="#94ff6b"/>
<rect x="373.41" y="271.12" width="5.85" height="8.18" fill="#e5ff1a"/>
<rect x="373.41" y="279.25" width="5.85" height="8.18" fill="#fff000"/>
<rect x="373.41" y="287.38" width="5.85" height="8.18" fill="#94ff6b"/>
<rect x="373.41" y="295.50" width="5.85" height="8.18" fill="#bdff42"/>
<rect x="373.41" y="303.62" width="5.85" height="8.18" fill="#ff9e00"/>
<rect x="379.22" y="263.00" width="5.85" height="8.18" fill="#bdff42"/>
<rect x="379.22" y="271.12" width="5.85" height="8.18" fill="#e5ff1a"/>
<rect x="379.22" y="279.25" width="5.85" height="8.18" fill="#ffc700"/>
<rect x="379.22" y="287.38" width="5.85" height="8.18" fill="#94ff6b"/>
<rect x="379.22" y="295.50" width="5.85" height="8.18" fill="#e5ff1a"/>
<rect x="379.22" y="303.62" width="5.85" height="8.18" fill="#ff7500"/>
<rect x="385.02" y="263.00" width="5.85" height="8.18" fill="#e5ff1a"/>
<rect x="385.02" y="271.12" width="5.85" height="8.18" fill="#fff000"/>
<rect x="385.02" y="279.25" width="5.85" height="8.18" fill="#ffc700"/>
<rect x="385.02" y="287.38" width="5.85" height="8.18" fill="#94ff6b"/>
<rect x="385.02" y="295.50" width="5.85" height="8.18" fill="#e5ff1a"/>
<rect x="385.02" y="303.62" width="5.85" height="8.18" fill="#ff9e00"/>
<rect x="390.82" y="263.00" width="5.85" height="8.18" fill="#94ff6b"/>
<rect x="390.82" y="271.12" width="5.85" height="8.18" fill="#ff9e00"/>
<rect x="390.82" y="279.25" width="5.85" height="8.18" fill="#ff9e00"/>
<rect x="390.82" y="287.38" width="5.85" height="8.18" fill="#1affe5"/>
<rect x="390.82" y="295.50" width="5.85" height="8.18" fill="#94ff6b"/>
<rect x="390.82" y="303.62" width="5.85" height="8.18" fill="#94ff6b"/>
<rect x="396.63" y="263.00" width="5.85" height="8.18" fill="#bdff42"/>
<rect x="396.63" y="271.12" width="5.85" height="8.18" fill="#ff9e00"/>
<rect x="396.63" y="279.25" width="5.85" height="8.18" fill="#ff7500"/>
<rect x="396.63" y="287.38" width="5.85" height="8.18" fill="#1affe5"/>
<rect x="396.63" y="295.50" width="5.85" height="8.18" fill="#94ff6b"/>
<rect x="396.63" y="303.62" width="5.85" height="8.18" fill="#94ff6b"/>
<rect x="402.43" y="263.00" width="5.85" height="8.18" fill="#fff000"/>
<rect x="402.43" y="271.12" width="5.85" height="8.18" fill="#ff7500"/>
<rect x="402.43" y="279.25" width="5.85" height="8.18" fill="#ff7500"/>
<rect x="402.43" y="287.38" width="5.85" height="8.18" fill="#42ffbd"/>
<rect x="402.43" y="295.50" width="5.85" height="8.18" fill="#1affe5"/>
<rect x="402.43" y="303.62" width="5.85" height="8.18" fill="#42ffbd"/>
<rect x="402.43" y="319.88" width="5.85" height="8.18" fill="#009eff"/>
<rect x="408.24" y="263.00" width="5.85" height="8.18" fill="#fff000"/>
<rect x="408.24" y="271.12" width="5.85" height="8.18" fill="#ff7500"/>
<rect x="408.24" y="279.25" width="5.85" height="8.18" fill="#ff7500"/>
<rect x="408.24" y="287.38" width="5.85" height="8.18" fill="#42ffbd"/>
<rect x="408.24" y="295.50" width="5.85" height="8.18" fill="#1affe5"/>
<rect x="408.24" y="303.62" width="5.85" height="8.18" fill="#42ffbd"/>
<rect x="408.24" y="319.88" width="5.85" height="8.18" fill="#009eff"/>
<rect x="414.04" y="263.00" width="5.85" height="8.18" fill="#bdff42"/>
<rect x="414.04" y="271.12" width="5.85" height="8.18" fill="#ff7500"/>
<rect x="414.04" y="279.25" width="5.85" height="8.18" fill="#ff7500"/>
<rect x="414.04" y="287.38" width="5.85" height="8.18" fill="#6bff94"/>
<rect x="414.04" y="303.62" width="5.85" height="8.18" fill="#94ff6b"/>
<rect x="414.04" y="319.88" width="5.85" height="8.18" fill="#009eff"/>
<rect x="419.84" y="263.00" width="5.85" height="8.18" fill="#fff000"/>
<rect x="419.84" y="271.12" width="5.85" height="8.18" fill="#ff7500"/>
<rect x="419.84" y="279.25" width="5.85" height="8.18" fill="#ff7500"/>
<rect x="419.84" y="287.38" width="5.85" height="8.18" fill="#42ffbd"/>
<rect x="419.84" y="295.50" width="5.85" height="8.18" fill="#00f0ff"/>
<rect x="425.65" y="263.00" width="5.85" height="8.18" fill="#e5ff1a"/>
<rect x="425.65" y="271.12" width="5.85" height="8.18" fill="#ff4c00"/>
<rect x="425.65" y="279.25" width="5.85" height="8.18" fill="#ff7500"/>
<rect x="425.65" y="287.38" width="5.85" height="8.18" fill="#6bff94"/>
<rect x="425.65" y="295.50" width="5.85" height="8.18" fill="#00f0ff"/>
<rect x="431.45" y="263.00" width="5.85" height="8.18" fill="#bdff42"/>
<rect x="431.45" y="271.12" width="5.85" height="8.18" fill="#ffc700"/>
<rect x="431.45" y="279.25" width="5.85" height="8.18" fill="#ff7500"/>
<rect x="431.45" y="287.38" width="5.85" height="8.18" fill="#42ffbd"/>
<rect x="431.45" y="295.50" width="5.85" height="8.18" fill="#009eff"/>
<rect x="437.26" y="263.00" width="5.85" height="8.18" fill="#fff000"/>
<rect x="437.26" y="271.12" width="5.85" height="8.18" fill="#ff2400"/>
<rect x="437.26" y="279.25" width="5.85" height="8.18" fill="#ff7500"/>
<rect x="437.26" y="287.38" width="5.85" height="8.18" fill="#6bff94"/>
<rect x="437.26" y="295.50" width="5.85" height="8.18" fill="#00f0ff"/>
<rect x="443.06" y="263.00" width="5.85" height="8.18" fill="#fff000"/>
<rect x="443.06" y="271.12" width="5.85" height="8.18" fill="#ff7500"/>
<rect x="443.06" y="279.25" width="5.85" height="8.18" fill="#ff7500"/>
<rect x="443.06" y="287.38" width="5.85" height="8.18" fill="#6bff94"/>
<rect x="443.06" y="295.50" width="5.85" height="8.18" fill="#1affe5"/>
<rect x="448.86" y="263.00" width="5.85" height="8.18" fill="#ffc700"/>
<rect x="448.86" y="271.12" width="5.85" height="8.18" fill="#ff7500"/>
<rect x="448.86" y="279.25" width="5.85" height="8.18" fill="#ff7500"/>
<rect x="448.86" y="287.38" width="5.85" height="8.18" fill="#6bff94"/>
<rect x="448.86" y="295.50" width="5.85" height="8.18" fill="#00f0ff"/>
<rect x="448.86" y="303.62" width="5.85" height="8.18" fill="#00f0ff"/>
<rect x="454.67" y="263.00" width="5.85" height="8.18" fill="#ffc700"/>
<rect x="454.67" y="271.12" width="5.85" height="8.18" fill="#ff7500"/>
<rect x="454.67" y="279.25" width="5.85" height="8.18" fill="#ff7500"/>
<rect x="454.67" y="287.38" width="5.85" height="8.18" fill="#6bff94"/>
<rect x="460.47" y="263.00" width="5.85" height="8.18" fill="#fff000"/>
<rect x="460.47" y="271.12" width="5.85" height="8.18" fill="#ff7500"/>
<rect x="460.47" y="279.25" width="5.85" height="8.18" fill="#ff7500"/>
<rect x="460.47" y="287.38" width="5.85" height="8.18" fill="#1affe5"/>
<rect x="460.47" y="295.50" width="5.85" height="8.18" fill="#00c7ff"/>
<rect x="466.28" y="263.00" width="5.85" height="8.18" fill="#e5ff1a"/>
<rect x="466.28" y="271.12" width="5.85" height="8.18" fill="#ffc700"/>
<rect x="466.28" y="279.25" width="5.85" height="8.18" fill="#ffc700"/>
<rect x="466.28" y="287.38" width="5.85" height="8.18" fill="#00f0ff"/>
<rect x="466.28" y="295.50" width="5.85" height="8.18" fill="#00c7ff"/>
<rect x="472.08" y="263.00" width="5.85" height="8.18" fill="#e5ff1a"/>
<rect x="472.08" y="271.12" width="5.85" height="8.18" fill="#fff000"/>
<rect x="472.08" y="279.25" width="5.85" height="8.18" fill="#ffc700"/>
<rect x="472.08" y="287.38" width="5.85" height="8.18" fill="#00f0ff"/>
<rect x="472.08" y="295.50" width="5.85" height="8.18" fill="#009eff"/>
<rect x="477.88" y="263.00" width="5.85" height="8.18" fill="#e5ff1a"/>
<rect x="477.88" y="271.12" width="5.85" height="8.18" fill="#fff000"/>
<rect x="477.88" y="279.25" width="5.85" height="8.18" fill="#ffc700"/>
<rect x="477.88" y="287.38" width="5.85" height="8.18" fill="#00f0ff"/>
<rect x="477.88" y="295.50" width="5.85" height="8.18" fill="#004dff"/>
<rect x="483.69" y="263.00" width="5.85" height="8.18" fill="#94ff6b"/>
<rect x="483.69" y="271.12" width="5.85" height="8.18" fill="#e5ff1a"/>
<rect x="483.69" y="279.25" width="5.85" height="8.18" fill="#ffc700"/>
<rect x="483.69" y="287.38" width="5.85" height="8.18" fill="#0024ff"/>
<rect x="483.69" y="295.50" width="5.85" height="8.18" fill="#0024ff"/>
<rect x="489.49" y="263.00" width="5.85" height="8.18" fill="#94ff6b"/>
<rect x="489.49" y="271.12" width="5.85" height="8.18" fill="#e5ff1a"/>
<rect x="489.49" y="279.25" width="5.85" height="8.18" fill="#ffc700"/>
<rect x="489.49" y="287.38" width="5.85" height="8.18" fill="#42ffbd"/>
<rect x="495.30" y="263.00" width="5.85" height="8.18" fill="#94ff6b"/>
<rect x="495.30" y="271.12" width="5.85" height="8.18" fill="#e5ff1a"/>
<rect x="495.30" y="279.25" width="5.85" height="8.18" fill="#fff000"/>
<rect x="495.30" y="287.38" width="5.85" height="8.18" fill="#00c7ff"/>
<rect x="501.10" y="263.00" width="5.85" height="8.18" fill="#bdff42"/>
<rect x="501.10" y="271.12" width="5.85" height="8.18" fill="#e5ff1a"/>
<rect x="501.10" y="279.25" width="5.85" height="8.18" fill="#fff000"/>
<rect x="501.10" y="287.38" width="5.85" height="8.18" fill="#00c7ff"/>
<rect x="501.10" y="311.75" width="5.85" height="8.18" fill="#ff7500"/>
<rect x="506.90" y="263.00" width="5.85" height="8.18" fill="#e5ff1a"/>
<rect x="506.90" y="271.12" width="5.85" height="8.18" fill="#e5ff1a"/>
<rect x="506.90" y="279.25" width="5.85" height="8.18" fill="#ffc700"/>
<rect x="506.90" y="287.38" width="5.85" height="8.18" fill="#00c7ff"/>
<rect x="506.90" y="295.50" width="5.85" height="8.18" fill="#0024ff"/>
<rect x="512.71" y="263.00" width="5.85" height="8.18" fill="#e5ff1a"/>
<rect x="512.71" y="271.12" width="5.85" height="8.18" fill="#fff000"/>
<rect x="512.71" y="279.25" width="5.85" height="8.18" fill="#ffc700"/>
<rect x="512.71" y="287.38" width="5.85" height="8.18" fill="#00f0ff"/>
<rect x="512.71" y="295.50" width="5.85" height="8.18" fill="#0024ff"/>
<rect x="518.51" y="263.00" width="5.85" height="8.18" fill="#94ff6b"/>
<rect x="518.51" y="271.12" width="5.85" height="8.18" fill="#ffc700"/>
<rect x="518.51" y="279.25" width="5.85" height="8.18" fill="#ff9e00"/>
<rect x="518.51" y="287.38" width="5.85" height="8.18" fill="#42ffbd"/>
<rect x="524.32" y="263.00" width="5.85" height="8.18" fill="#e5ff1a"/>
<rect x="524.32" y="271.12" width="5.85" height="8.18" fill="#ff9e00"/>
<rect x="524.32" y="279.25" width="5.85" height="8.18" fill="#ff9e00"/>
<rect x="524.32" y="287.38" width="5.85" height="8.18" fill="#6bff94"/>
<rect x="524.32" y="295.50" width="5.85" height="8.18" fill="#0075ff"/>
<rect x="524.32" y="319.88" width="5.85" height="8.18" fill="#009eff"/>
<rect x="530.12" y="263.00" width="5.85" height="8.18" fill="#ffc700"/>
<rect x="530.12" y="271.12" width="5.85" height="8.18" fill="#ff7500"/>
<rect x="530.12" y="279.25" width="5.85" height="8.18" fill="#ff7500"/>
<rect x="530.12" y="287.38" width="5.85" height="8.18" fill="#42ffbd"/>
<rect x="530.12" y="295.50" width="5.85" height="8.18" fill="#00f0ff"/>
<rect x="530.12" y="303.62" width="5.85" height="8.18" fill="#00f0ff"/>
<rect x="535.92" y="263.00" width="5.85" height="8.18" fill="#ffc700"/>
<rect x="535.92" y="271.12" width="5.85" height="8.18" fill="#ff7500"/>
<rect x="535.92" y="279.25" width="5.85" height="8.18" fill="#ff4c00"/>
<rect x="535.92" y="287.38" width="5.85" height="8.18" fill="#42ffbd"/>
<rect x="535.92" y="295.50" width="5.85" height="8.18" fill="#00c7ff"/>
<rect x="541.73" y="263.00" width="5.32" height="8.18" fill="#fff000"/>
<rect x="541.73" y="271.12" width="5.32" height="8.18" fill="#ff9e00"/>
<rect x="541.73" y="279.25" width="5.32" height="8.18" fill="#ff4c00"/>
<rect x="541.73" y="287.38" width="5.32" height="8.18" fill="#94ff6b"/>
<rect x="541.73" y="311.75" width="5.32" height="8.18" fill="#ff7500"/>
</g>
<polyline points="65.8,282.4 72.0,282.7 80.0,283.0 90.0,283.5 100.0,283.0 110.0,283.3 122.0,282.2 152.0,282.9 163.8,284.3 181.9,286.4 187.0,286.0 200.0,286.2 220.0,286.0 238.0,285.0 245.0,296.8 252.0,285.7 280.0,285.0 292.0,283.0 298.0,284.2 304.0,282.5 310.0,284.2 315.5,282.8 321.0,285.0 327.4,281.4 334.3,319.0 337.8,286.3 343.3,289.0 350.0,290.5 354.3,287.8 361.2,297.5 366.0,298.9 378.0,298.9 384.2,292.0 389.8,284.3 395.3,285.0 401.0,282.9 408.0,282.2 412.0,283.5 420.0,282.5 430.0,283.6 440.0,283.0 450.0,283.3 466.0,282.5 469.6,281.5 478.0,283.6 489.0,285.0 494.0,283.6 500.9,303.0 507.2,282.2 514.0,282.9 524.0,283.6 530.3,282.2 535.8,283.6 541.4,297.5 547.0,286.3" fill="none" stroke="#000" stroke-width="1.5" stroke-linejoin="round"/>
<g shape-rendering="crispEdges">
<rect x="65.80" y="328.00" width="5.85" height="10.72" fill="#fff000"/>
<rect x="65.80" y="338.67" width="5.85" height="10.72" fill="#94ff6b"/>
<rect x="65.80" y="349.33" width="5.85" height="10.72" fill="#6bff94"/>
<rect x="71.60" y="328.00" width="5.85" height="10.72" fill="#fff000"/>
<rect x="71.60" y="338.67" width="5.85" height="10.72" fill="#94ff6b"/>
<rect x="71.60" y="349.33" width="5.85" height="10.72" fill="#00f0ff"/>
<rect x="77.41" y="328.00" width="5.85" height="10.72" fill="#fff000"/>
<rect x="77.41" y="338.67" width="5.85" height="10.72" fill="#94ff6b"/>
<rect x="77.41" y="349.33" width="5.85" height="10.72" fill="#00f0ff"/>
<rect x="83.21" y="328.00" width="5.85" height="10.72" fill="#ff4c00"/>
<rect x="83.21" y="338.67" width="5.85" height="10.72" fill="#ffc700"/>
<rect x="83.21" y="349.33" width="5.85" height="10.72" fill="#bdff42"/>
<rect x="89.02" y="328.00" width="5.85" height="10.72" fill="#ff4c00"/>
<rect x="89.02" y="338.67" width="5.85" height="10.72" fill="#fff000"/>
<rect x="89.02" y="349.33" width="5.85" height="10.72" fill="#94ff6b"/>
<rect x="89.02" y="360.00" width="5.85" height="10.72" fill="#00f0ff"/>
<rect x="94.82" y="328.00" width="5.85" height="10.72" fill="#ff7500"/>
<rect x="94.82" y="338.67" width="5.85" height="10.72" fill="#fff000"/>
<rect x="94.82" y="349.33" width="5.85" height="10.72" fill="#94ff6b"/>
<rect x="100.62" y="328.00" width="5.85" height="10.72" fill="#ff4c00"/>
<rect x="100.62" y="338.67" width="5.85" height="10.72" fill="#ffc700"/>
<rect x="100.62" y="349.33" width="5.85" height="10.72" fill="#94ff6b"/>
<rect x="106.43" y="328.00" width="5.85" height="10.72" fill="#ff4c00"/>
<rect x="106.43" y="338.67" width="5.85" height="10.72" fill="#ffc700"/>
<rect x="106.43" y="349.33" width="5.85" height="10.72" fill="#e5ff1a"/>
<rect x="106.43" y="360.00" width="5.85" height="10.72" fill="#1affe5"/>
<rect x="112.23" y="328.00" width="5.85" height="10.72" fill="#ff2400"/>
<rect x="112.23" y="338.67" width="5.85" height="10.72" fill="#ff9e00"/>
<rect x="112.23" y="349.33" width="5.85" height="10.72" fill="#fff000"/>
<rect x="118.04" y="328.00" width="5.85" height="10.72" fill="#ff7500"/>
<rect x="118.04" y="338.67" width="5.85" height="10.72" fill="#ffc700"/>
<rect x="118.04" y="349.33" width="5.85" height="10.72" fill="#e5ff1a"/>
<rect x="118.04" y="360.00" width="5.85" height="10.72" fill="#0075ff"/>
<rect x="118.04" y="381.33" width="5.85" height="10.72" fill="#0075ff"/>
<rect x="123.84" y="328.00" width="5.85" height="10.72" fill="#ff7500"/>
<rect x="123.84" y="338.67" width="5.85" height="10.72" fill="#e5ff1a"/>
<rect x="123.84" y="349.33" width="5.85" height="10.72" fill="#94ff6b"/>
<rect x="123.84" y="360.00" width="5.85" height="10.72" fill="#0075ff"/>
<rect x="129.64" y="328.00" width="5.85" height="10.72" fill="#ff9e00"/>
<rect x="129.64" y="338.67" width="5.85" height="10.72" fill="#e5ff1a"/>
<rect x="129.64" y="349.33" width="5.85" height="10.72" fill="#6bff94"/>
<rect x="129.64" y="360.00" width="5.85" height="10.72" fill="#1affe5"/>
<rect x="135.45" y="328.00" width="5.85" height="10.72" fill="#ff9e00"/>
<rect x="135.45" y="338.67" width="5.85" height="10.72" fill="#e5ff1a"/>
<rect x="135.45" y="349.33" width="5.85" height="10.72" fill="#6bff94"/>
<rect x="135.45" y="360.00" width="5.85" height="10.72" fill="#00f0ff"/>
<rect x="135.45" y="381.33" width="5.85" height="10.72" fill="#00f0ff"/>
<rect x="141.25" y="328.00" width="5.85" height="10.72" fill="#ff4c00"/>
<rect x="141.25" y="338.67" width="5.85" height="10.72" fill="#e5ff1a"/>
<rect x="141.25" y="349.33" width="5.85" height="10.72" fill="#94ff6b"/>
<rect x="147.06" y="328.00" width="5.85" height="10.72" fill="#ff9e00"/>
<rect x="147.06" y="338.67" width="5.85" height="10.72" fill="#e5ff1a"/>
<rect x="147.06" y="349.33" width="5.85" height="10.72" fill="#42ffbd"/>
<rect x="147.06" y="360.00" width="5.85" height="10.72" fill="#94ff6b"/>
<rect x="152.86" y="328.00" width="5.85" height="10.72" fill="#ff4c00"/>
<rect x="152.86" y="338.67" width="5.85" height="10.72" fill="#fff000"/>
<rect x="152.86" y="349.33" width="5.85" height="10.72" fill="#94ff6b"/>
<rect x="152.86" y="381.33" width="5.85" height="10.72" fill="#0075ff"/>
<rect x="158.66" y="328.00" width="5.85" height="10.72" fill="#ff4c00"/>
<rect x="158.66" y="338.67" width="5.85" height="10.72" fill="#fff000"/>
<rect x="158.66" y="349.33" width="5.85" height="10.72" fill="#94ff6b"/>
<rect x="164.47" y="328.00" width="5.85" height="10.72" fill="#ff7500"/>
<rect x="164.47" y="338.67" width="5.85" height="10.72" fill="#e5ff1a"/>
<rect x="164.47" y="349.33" width="5.85" height="10.72" fill="#94ff6b"/>
<rect x="170.27" y="328.00" width="5.85" height="10.72" fill="#ff7500"/>
<rect x="170.27" y="338.67" width="5.85" height="10.72" fill="#e5ff1a"/>
<rect x="170.27" y="349.33" width="5.85" height="10.72" fill="#bdff42"/>
<rect x="170.27" y="360.00" width="5.85" height="10.72" fill="#00f0ff"/>
<rect x="176.08" y="328.00" width="5.85" height="10.72" fill="#ff9e00"/>
<rect x="176.08" y="338.67" width="5.85" height="10.72" fill="#ffc700"/>
<rect x="176.08" y="349.33" width="5.85" height="10.72" fill="#e5ff1a"/>
<rect x="181.88" y="328.00" width="5.85" height="10.72" fill="#ffc700"/>
<rect x="181.88" y="338.67" width="5.85" height="10.72" fill="#ff9e00"/>
<rect x="181.88" y="349.33" width="5.85" height="10.72" fill="#fff000"/>
<rect x="187.68" y="328.00" width="5.85" height="10.72" fill="#ffc700"/>
<rect x="187.68" y="338.67" width="5.85" height="10.72" fill="#ff9e00"/>
<rect x="187.68" y="349.33" width="5.85" height="10.72" fill="#e5ff1a"/>
<rect x="187.68" y="360.00" width="5.85" height="10.72" fill="#0075ff"/>
<rect x="193.49" y="328.00" width="5.85" height="10.72" fill="#ffc700"/>
<rect x="193.49" y="338.67" width="5.85" height="10.72" fill="#ff7500"/>
<rect x="193.49" y="349.33" width="5.85" height="10.72" fill="#fff000"/>
<rect x="193.49" y="360.00" width="5.85" height="10.72" fill="#00f0ff"/>
<rect x="199.29" y="328.00" width="5.85" height="10.72" fill="#e5ff1a"/>
<rect x="199.29" y="338.67" width="5.85" height="10.72" fill="#fff000"/>
<rect x="199.29" y="349.33" width="5.85" height="10.72" fill="#bdff42"/>
<rect x="199.29" y="360.00" width="5.85" height="10.72" fill="#009eff"/>
<rect x="199.29" y="370.67" width="5.85" height="10.72" fill="#6bff94"/>
<rect x="199.29" y="381.33" width="5.85" height="10.72" fill="#00c7ff"/>
<rect x="205.10" y="328.00" width="5.85" height="10.72" fill="#e5ff1a"/>
<rect x="205.10" y="338.67" width="5.85" height="10.72" fill="#fff000"/>
<rect x="205.10" y="349.33" width="5.85" height="10.72" fill="#94ff6b"/>
<rect x="210.90" y="328.00" width="5.85" height="10.72" fill="#fff000"/>
<rect x="210.90" y="338.67" width="5.85" height="10.72" fill="#fff000"/>
<rect x="210.90" y="349.33" width="5.85" height="10.72" fill="#e5ff1a"/>
<rect x="210.90" y="360.00" width="5.85" height="10.72" fill="#0075ff"/>
<rect x="210.90" y="381.33" width="5.85" height="10.72" fill="#0075ff"/>
<rect x="216.70" y="328.00" width="5.85" height="10.72" fill="#fff000"/>
<rect x="216.70" y="338.67" width="5.85" height="10.72" fill="#fff000"/>
<rect x="216.70" y="349.33" width="5.85" height="10.72" fill="#e5ff1a"/>
<rect x="216.70" y="360.00" width="5.85" height="10.72" fill="#009eff"/>
<rect x="216.70" y="381.33" width="5.85" height="10.72" fill="#009eff"/>
<rect x="222.51" y="328.00" width="5.85" height="10.72" fill="#fff000"/>
<rect x="222.51" y="338.67" width="5.85" height="10.72" fill="#fff000"/>
<rect x="222.51" y="349.33" width="5.85" height="10.72" fill="#e5ff1a"/>
<rect x="222.51" y="360.00" width="5.85" height="10.72" fill="#00f0ff"/>
<rect x="228.31" y="328.00" width="5.85" height="10.72" fill="#e5ff1a"/>
<rect x="228.31" y="338.67" width="5.85" height="10.72" fill="#fff000"/>
<rect x="228.31" y="349.33" width="5.85" height="10.72" fill="#e5ff1a"/>
<rect x="228.31" y="360.00" width="5.85" height="10.72" fill="#00f0ff"/>
<rect x="228.31" y="381.33" width="5.85" height="10.72" fill="#00f0ff"/>
<rect x="234.12" y="328.00" width="5.85" height="10.72" fill="#e5ff1a"/>
<rect x="234.12" y="338.67" width="5.85" height="10.72" fill="#fff000"/>
<rect x="234.12" y="349.33" width="5.85" height="10.72" fill="#e5ff1a"/>
<rect x="239.92" y="328.00" width="5.85" height="10.72" fill="#ffc700"/>
<rect x="239.92" y="338.67" width="5.85" height="10.72" fill="#ffc700"/>
<rect x="239.92" y="349.33" width="5.85" height="10.72" fill="#e5ff1a"/>
<rect x="239.92" y="360.00" width="5.85" height="10.72" fill="#00f0ff"/>
<rect x="245.72" y="328.00" width="5.85" height="10.72" fill="#ff9e00"/>
<rect x="245.72" y="338.67" width="5.85" height="10.72" fill="#ff9e00"/>
<rect x="245.72" y="349.33" width="5.85" height="10.72" fill="#e5ff1a"/>
<rect x="245.72" y="360.00" width="5.85" height="10.72" fill="#00f0ff"/>
<rect x="251.53" y="328.00" width="5.85" height="10.72" fill="#ff7500"/>
<rect x="251.53" y="338.67" width="5.85" height="10.72" fill="#ff7500"/>
<rect x="251.53" y="349.33" width="5.85" height="10.72" fill="#fff000"/>
<rect x="251.53" y="360.00" width="5.85" height="10.72" fill="#42ffbd"/>
<rect x="251.53" y="381.33" width="5.85" height="10.72" fill="#00c7ff"/>
<rect x="257.33" y="328.00" width="5.85" height="10.72" fill="#ff7500"/>
<rect x="257.33" y="338.67" width="5.85" height="10.72" fill="#ff9e00"/>
<rect x="257.33" y="349.33" width="5.85" height="10.72" fill="#ff9e00"/>
<rect x="263.14" y="328.00" width="5.85" height="10.72" fill="#ff4c00"/>
<rect x="263.14" y="338.67" width="5.85" height="10.72" fill="#ff7500"/>
<rect x="263.14" y="349.33" width="5.85" height="10.72" fill="#fff000"/>
<rect x="263.14" y="360.00" width="5.85" height="10.72" fill="#42ffbd"/>
<rect x="268.94" y="328.00" width="5.85" height="10.72" fill="#ff2400"/>
<rect x="268.94" y="338.67" width="5.85" height="10.72" fill="#ff7500"/>
<rect x="268.94" y="349.33" width="5.85" height="10.72" fill="#fff000"/>
<rect x="268.94" y="360.00" width="5.85" height="10.72" fill="#1affe5"/>
<rect x="274.74" y="328.00" width="5.85" height="10.72" fill="#fff000"/>
<rect x="274.74" y="338.67" width="5.85" height="10.72" fill="#ff7500"/>
<rect x="274.74" y="349.33" width="5.85" height="10.72" fill="#fff000"/>
<rect x="280.55" y="328.00" width="5.85" height="10.72" fill="#ffc700"/>
<rect x="280.55" y="338.67" width="5.85" height="10.72" fill="#ff9e00"/>
<rect x="280.55" y="349.33" width="5.85" height="10.72" fill="#fff000"/>
<rect x="280.55" y="360.00" width="5.85" height="10.72" fill="#42ffbd"/>
<rect x="280.55" y="381.33" width="5.85" height="10.72" fill="#00f0ff"/>
<rect x="286.35" y="328.00" width="5.85" height="10.72" fill="#ff9e00"/>
<rect x="286.35" y="338.67" width="5.85" height="10.72" fill="#ff9e00"/>
<rect x="286.35" y="349.33" width="5.85" height="10.72" fill="#e5ff1a"/>
<rect x="286.35" y="360.00" width="5.85" height="10.72" fill="#ff7500"/>
<rect x="292.16" y="328.00" width="5.85" height="10.72" fill="#e5ff1a"/>
<rect x="292.16" y="338.67" width="5.85" height="10.72" fill="#e5ff1a"/>
<rect x="292.16" y="349.33" width="5.85" height="10.72" fill="#42ffbd"/>
<rect x="297.96" y="328.00" width="5.85" height="10.72" fill="#e5ff1a"/>
<rect x="297.96" y="338.67" width="5.85" height="10.72" fill="#ffc700"/>
<rect x="297.96" y="349.33" width="5.85" height="10.72" fill="#94ff6b"/>
<rect x="303.76" y="328.00" width="5.85" height="10.72" fill="#fff000"/>
<rect x="303.76" y="338.67" width="5.85" height="10.72" fill="#ff7500"/>
<rect x="303.76" y="349.33" width="5.85" height="10.72" fill="#fff000"/>
<rect x="303.76" y="360.00" width="5.85" height="10.72" fill="#e5ff1a"/>
<rect x="309.57" y="328.00" width="5.85" height="10.72" fill="#e5ff1a"/>
<rect x="309.57" y="338.67" width="5.85" height="10.72" fill="#ff7500"/>
<rect x="309.57" y="349.33" width="5.85" height="10.72" fill="#fff000"/>
<rect x="309.57" y="360.00" width="5.85" height="10.72" fill="#e5ff1a"/>
<rect x="315.37" y="328.00" width="5.85" height="10.72" fill="#e5ff1a"/>
<rect x="315.37" y="338.67" width="5.85" height="10.72" fill="#ffc700"/>
<rect x="315.37" y="349.33" width="5.85" height="10.72" fill="#bdff42"/>
<rect x="315.37" y="360.00" width="5.85" height="10.72" fill="#00f0ff"/>
<rect x="321.18" y="328.00" width="5.85" height="10.72" fill="#fff000"/>
<rect x="321.18" y="338.67" width="5.85" height="10.72" fill="#fff000"/>
<rect x="321.18" y="349.33" width="5.85" height="10.72" fill="#94ff6b"/>
<rect x="321.18" y="360.00" width="5.85" height="10.72" fill="#00f0ff"/>
<rect x="326.98" y="328.00" width="5.85" height="10.72" fill="#fff000"/>
<rect x="326.98" y="338.67" width="5.85" height="10.72" fill="#fff000"/>
<rect x="326.98" y="349.33" width="5.85" height="10.72" fill="#94ff6b"/>
<rect x="326.98" y="360.00" width="5.85" height="10.72" fill="#009eff"/>
<rect x="326.98" y="381.33" width="5.85" height="10.72" fill="#00f0ff"/>
<rect x="332.78" y="328.00" width="5.85" height="10.72" fill="#e5ff1a"/>
<rect x="332.78" y="338.67" width="5.85" height="10.72" fill="#e5ff1a"/>
<rect x="332.78" y="349.33" width="5.85" height="10.72" fill="#94ff6b"/>
<rect x="332.78" y="360.00" width="5.85" height="10.72" fill="#94ff6b"/>
<rect x="332.78" y="370.67" width="5.85" height="10.72" fill="#fa0000"/>
<rect x="332.78" y="381.33" width="5.85" height="10.72" fill="#1affe5"/>
<rect x="338.59" y="328.00" width="5.85" height="10.72" fill="#e5ff1a"/>
<rect x="338.59" y="338.67" width="5.85" height="10.72" fill="#bdff42"/>
<rect x="338.59" y="349.33" width="5.85" height="10.72" fill="#94ff6b"/>
<rect x="338.59" y="360.00" width="5.85" height="10.72" fill="#94ff6b"/>
<rect x="338.59" y="370.67" width="5.85" height="10.72" fill="#fff000"/>
<rect x="338.59" y="381.33" width="5.85" height="10.72" fill="#009eff"/>
<rect x="344.39" y="328.00" width="5.85" height="10.72" fill="#e5ff1a"/>
<rect x="344.39" y="338.67" width="5.85" height="10.72" fill="#bdff42"/>
<rect x="344.39" y="349.33" width="5.85" height="10.72" fill="#bdff42"/>
<rect x="344.39" y="360.00" width="5.85" height="10.72" fill="#bdff42"/>
<rect x="344.39" y="370.67" width="5.85" height="10.72" fill="#e5ff1a"/>
<rect x="344.39" y="381.33" width="5.85" height="10.72" fill="#004dff"/>
<rect x="350.20" y="328.00" width="5.85" height="10.72" fill="#fff000"/>
<rect x="350.20" y="338.67" width="5.85" height="10.72" fill="#e5ff1a"/>
<rect x="350.20" y="349.33" width="5.85" height="10.72" fill="#e5ff1a"/>
<rect x="350.20" y="360.00" width="5.85" height="10.72" fill="#e5ff1a"/>
<rect x="350.20" y="370.67" width="5.85" height="10.72" fill="#ff9e00"/>
<rect x="350.20" y="381.33" width="5.85" height="10.72" fill="#00f0ff"/>
<rect x="356.00" y="328.00" width="5.85" height="10.72" fill="#e5ff1a"/>
<rect x="356.00" y="338.67" width="5.85" height="10.72" fill="#bdff42"/>
<rect x="356.00" y="349.33" width="5.85" height="10.72" fill="#e5ff1a"/>
<rect x="356.00" y="360.00" width="5.85" height="10.72" fill="#e5ff1a"/>
<rect x="356.00" y="370.67" width="5.85" height="10.72" fill="#e5ff1a"/>
<rect x="361.80" y="328.00" width="5.85" height="10.72" fill="#e5ff1a"/>
<rect x="361.80" y="338.67" width="5.85" height="10.72" fill="#bdff42"/>
<rect x="361.80" y="349.33" width="5.85" height="10.72" fill="#e5ff1a"/>
<rect x="361.80" y="360.00" width="5.85" height="10.72" fill="#ffc700"/>
<rect x="361.80" y="370.67" width="5.85" height="10.72" fill="#ff2400"/>
<rect x="367.61" y="328.00" width="5.85" height="10.72" fill="#e5ff1a"/>
<rect x="367.61" y="338.67" width="5.85" height="10.72" fill="#e5ff1a"/>
<rect x="367.61" y="349.33" width="5.85" height="10.72" fill="#e5ff1a"/>
<rect x="367.61" y="360.00" width="5.85" height="10.72" fill="#ffc700"/>
<rect x="367.61" y="370.67" width="5.85" height="10.72" fill="#ff2400"/>
<rect x="367.61" y="381.33" width="5.85" height="10.72" fill="#00c7ff"/>
<rect x="373.41" y="328.00" width="5.85" height="10.72" fill="#fff000"/>
<rect x="373.41" y="338.67" width="5.85" height="10.72" fill="#e5ff1a"/>
<rect x="373.41" y="349.33" width="5.85" height="10.72" fill="#fff000"/>
<rect x="373.41" y="360.00" width="5.85" height="10.72" fill="#ffc700"/>
<rect x="373.41" y="370.67" width="5.85" height="10.72" fill="#fa0000"/>
<rect x="373.41" y="381.33" width="5.85" height="10.72" fill="#00f0ff"/>
<rect x="379.22" y="328.00" width="5.85" height="10.72" fill="#fff000"/>
<rect x="379.22" y="338.67" width="5.85" height="10.72" fill="#e5ff1a"/>
<rect x="379.22" y="349.33" width="5.85" height="10.72" fill="#e5ff1a"/>
<rect x="379.22" y="360.00" width="5.85" height="10.72" fill="#ff9e00"/>
<rect x="379.22" y="370.67" width="5.85" height="10.72" fill="#ff2400"/>
<rect x="379.22" y="381.33" width="5.85" height="10.72" fill="#009eff"/>
<rect x="385.02" y="328.00" width="5.85" height="10.72" fill="#fff000"/>
<rect x="385.02" y="338.67" width="5.85" height="10.72" fill="#e5ff1a"/>
<rect x="385.02" y="349.33" width="5.85" height="10.72" fill="#e5ff1a"/>
<rect x="385.02" y="360.00" width="5.85" height="10.72" fill="#fff000"/>
<rect x="385.02" y="370.67" width="5.85" height="10.72" fill="#ff2400"/>
<rect x="385.02" y="381.33" width="5.85" height="10.72" fill="#00c7ff"/>
<rect x="390.82" y="328.00" width="5.85" height="10.72" fill="#ffc700"/>
<rect x="390.82" y="338.67" width="5.85" height="10.72" fill="#ffc700"/>
<rect x="390.82" y="349.33" width="5.85" height="10.72" fill="#bdff42"/>
<rect x="390.82" y="360.00" width="5.85" height="10.72" fill="#42ffbd"/>
<rect x="390.82" y="381.33" width="5.85" height="10.72" fill="#00f0ff"/>
<rect x="396.63" y="328.00" width="5.85" height="10.72" fill="#ff9e00"/>
<rect x="396.63" y="338.67" width="5.85" height="10.72" fill="#ffc700"/>
<rect x="396.63" y="349.33" width="5.85" height="10.72" fill="#e5ff1a"/>
<rect x="396.63" y="360.00" width="5.85" height="10.72" fill="#94ff6b"/>
<rect x="396.63" y="381.33" width="5.85" height="10.72" fill="#009eff"/>
<rect x="402.43" y="328.00" width="5.85" height="10.72" fill="#ff9e00"/>
<rect x="402.43" y="338.67" width="5.85" height="10.72" fill="#ffc700"/>
<rect x="402.43" y="349.33" width="5.85" height="10.72" fill="#fff000"/>
<rect x="402.43" y="360.00" width="5.85" height="10.72" fill="#6bff94"/>
<rect x="402.43" y="370.67" width="5.85" height="10.72" fill="#e5ff1a"/>
<rect x="402.43" y="381.33" width="5.85" height="10.72" fill="#0075ff"/>
<rect x="408.24" y="328.00" width="5.85" height="10.72" fill="#ff9e00"/>
<rect x="408.24" y="338.67" width="5.85" height="10.72" fill="#ffc700"/>
<rect x="408.24" y="349.33" width="5.85" height="10.72" fill="#e5ff1a"/>
<rect x="408.24" y="360.00" width="5.85" height="10.72" fill="#94ff6b"/>
<rect x="408.24" y="381.33" width="5.85" height="10.72" fill="#0075ff"/>
<rect x="414.04" y="328.00" width="5.85" height="10.72" fill="#ffc700"/>
<rect x="414.04" y="338.67" width="5.85" height="10.72" fill="#ffc700"/>
<rect x="414.04" y="349.33" width="5.85" height="10.72" fill="#e5ff1a"/>
<rect x="414.04" y="360.00" width="5.85" height="10.72" fill="#42ffbd"/>
<rect x="414.04" y="381.33" width="5.85" height="10.72" fill="#0075ff"/>
<rect x="419.84" y="328.00" width="5.85" height="10.72" fill="#ffc700"/>
<rect x="419.84" y="338.67" width="5.85" height="10.72" fill="#ffc700"/>
<rect x="419.84" y="349.33" width="5.85" height="10.72" fill="#fff000"/>
<rect x="419.84" y="360.00" width="5.85" height="10.72" fill="#1affe5"/>
<rect x="419.84" y="381.33" width="5.85" height="10.72" fill="#009eff"/>
<rect x="425.65" y="328.00" width="5.85" height="10.72" fill="#ffc700"/>
<rect x="425.65" y="338.67" width="5.85" height="10.72" fill="#ffc700"/>
<rect x="425.65" y="349.33" width="5.85" height="10.72" fill="#ff9e00"/>
<rect x="425.65" y="360.00" width="5.85" height="10.72" fill="#1affe5"/>
<rect x="431.45" y="328.00" width="5.85" height="10.72" fill="#fff000"/>
<rect x="431.45" y="338.67" width="5.85" height="10.72" fill="#fff000"/>
<rect x="431.45" y="349.33" width="5.85" height="10.72" fill="#e5ff1a"/>
<rect x="437.26" y="328.00" width="5.85" height="10.72" fill="#ffc700"/>
<rect x="437.26" y="338.67" width="5.85" height="10.72" fill="#ff7500"/>
<rect x="437.26" y="349.33" width="5.85" height="10.72" fill="#fff000"/>
<rect x="437.26" y="360.00" width="5.85" height="10.72" fill="#94ff6b"/>
<rect x="437.26" y="370.67" width="5.85" height="10.72" fill="#ff7500"/>
<rect x="443.06" y="328.00" width="5.85" height="10.72" fill="#ff9e00"/>
<rect x="443.06" y="338.67" width="5.85" height="10.72" fill="#ffc700"/>
<rect x="443.06" y="349.33" width="5.85" height="10.72" fill="#ffc700"/>
<rect x="443.06" y="381.33" width="5.85" height="10.72" fill="#00f0ff"/>
<rect x="448.86" y="328.00" width="5.85" height="10.72" fill="#ff7500"/>
<rect x="448.86" y="338.67" width="5.85" height="10.72" fill="#ff9e00"/>
<rect x="448.86" y="349.33" width="5.85" height="10.72" fill="#ffc700"/>
<rect x="448.86" y="360.00" width="5.85" height="10.72" fill="#42ffbd"/>
<rect x="454.67" y="328.00" width="5.85" height="10.72" fill="#ff4c00"/>
<rect x="454.67" y="338.67" width="5.85" height="10.72" fill="#ff9e00"/>
<rect x="454.67" y="349.33" width="5.85" height="10.72" fill="#fff000"/>
<rect x="454.67" y="360.00" width="5.85" height="10.72" fill="#42ffbd"/>
<rect x="460.47" y="328.00" width="5.85" height="10.72" fill="#ff2400"/>
<rect x="460.47" y="338.67" width="5.85" height="10.72" fill="#ff9e00"/>
<rect x="460.47" y="349.33" width="5.85" height="10.72" fill="#ff9e00"/>
<rect x="466.28" y="328.00" width="5.85" height="10.72" fill="#ff4c00"/>
<rect x="466.28" y="338.67" width="5.85" height="10.72" fill="#fff000"/>
<rect x="466.28" y="349.33" width="5.85" height="10.72" fill="#e5ff1a"/>
<rect x="472.08" y="328.00" width="5.85" height="10.72" fill="#ff7500"/>
<rect x="472.08" y="338.67" width="5.85" height="10.72" fill="#fff000"/>
<rect x="472.08" y="349.33" width="5.85" height="10.72" fill="#94ff6b"/>
<rect x="472.08" y="370.67" width="5.85" height="10.72" fill="#bdff42"/>
<rect x="477.88" y="328.00" width="5.85" height="10.72" fill="#ff7500"/>
<rect x="477.88" y="338.67" width="5.85" height="10.72" fill="#e5ff1a"/>
<rect x="477.88" y="349.33" width="5.85" height="10.72" fill="#6bff94"/>
<rect x="483.69" y="328.00" width="5.85" height="10.72" fill="#ff9e00"/>
<rect x="483.69" y="338.67" width="5.85" height="10.72" fill="#e5ff1a"/>
<rect x="483.69" y="349.33" width="5.85" height="10.72" fill="#6bff94"/>
<rect x="489.49" y="328.00" width="5.85" height="10.72" fill="#ffc700"/>
<rect x="489.49" y="338.67" width="5.85" height="10.72" fill="#e5ff1a"/>
<rect x="489.49" y="349.33" width="5.85" height="10.72" fill="#6bff94"/>
<rect x="489.49" y="360.00" width="5.85" height="10.72" fill="#0075ff"/>
<rect x="495.30" y="328.00" width="5.85" height="10.72" fill="#ffc700"/>
<rect x="495.30" y="338.67" width="5.85" height="10.72" fill="#e5ff1a"/>
<rect x="495.30" y="349.33" width="5.85" height="10.72" fill="#6bff94"/>
<rect x="495.30" y="360.00" width="5.85" height="10.72" fill="#00f0ff"/>
<rect x="501.10" y="328.00" width="5.85" height="10.72" fill="#ff7500"/>
<rect x="501.10" y="338.67" width="5.85" height="10.72" fill="#e5ff1a"/>
<rect x="501.10" y="349.33" width="5.85" height="10.72" fill="#6bff94"/>
<rect x="501.10" y="381.33" width="5.85" height="10.72" fill="#004dff"/>
<rect x="506.90" y="328.00" width="5.85" height="10.72" fill="#ff9e00"/>
<rect x="506.90" y="338.67" width="5.85" height="10.72" fill="#e5ff1a"/>
<rect x="506.90" y="349.33" width="5.85" height="10.72" fill="#94ff6b"/>
<rect x="506.90" y="360.00" width="5.85" height="10.72" fill="#0075ff"/>
<rect x="512.71" y="328.00" width="5.85" height="10.72" fill="#ffc700"/>
<rect x="512.71" y="338.67" width="5.85" height="10.72" fill="#e5ff1a"/>
<rect x="512.71" y="349.33" width="5.85" height="10.72" fill="#bdff42"/>
<rect x="512.71" y="360.00" width="5.85" height="10.72" fill="#00f0ff"/>
<rect x="518.51" y="328.00" width="5.85" height="10.72" fill="#fff000"/>
<rect x="518.51" y="338.67" width="5.85" height="10.72" fill="#e5ff1a"/>
<rect x="518.51" y="349.33" width="5.85" height="10.72" fill="#bdff42"/>
<rect x="518.51" y="360.00" width="5.85" height="10.72" fill="#1affe5"/>
<rect x="524.32" y="328.00" width="5.85" height="10.72" fill="#ffc700"/>
<rect x="524.32" y="338.67" width="5.85" height="10.72" fill="#ff9e00"/>
<rect x="524.32" y="349.33" width="5.85" height="10.72" fill="#e5ff1a"/>
<rect x="524.32" y="360.00" width="5.85" height="10.72" fill="#00f0ff"/>
<rect x="530.12" y="328.00" width="5.85" height="10.72" fill="#ff4c00"/>
<rect x="530.12" y="338.67" width="5.85" height="10.72" fill="#ff9e00"/>
<rect x="530.12" y="349.33" width="5.85" height="10.72" fill="#ffc700"/>
<rect x="530.12" y="360.00" width="5.85" height="10.72" fill="#00f0ff"/>
<rect x="530.12" y="381.33" width="5.85" height="10.72" fill="#0075ff"/>
<rect x="535.92" y="328.00" width="5.85" height="10.72" fill="#ff2400"/>
<rect x="535.92" y="338.67" width="5.85" height="10.72" fill="#ff9e00"/>
<rect x="535.92" y="349.33" width="5.85" height="10.72" fill="#ffc700"/>
<rect x="535.92" y="360.00" width="5.85" height="10.72" fill="#00f0ff"/>
<rect x="535.92" y="381.33" width="5.85" height="10.72" fill="#0075ff"/>
<rect x="541.73" y="328.00" width="5.32" height="10.72" fill="#ff4c00"/>
<rect x="541.73" y="338.67" width="5.32" height="10.72" fill="#ff9e00"/>
<rect x="541.73" y="349.33" width="5.32" height="10.72" fill="#e5ff1a"/>
<rect x="541.73" y="360.00" width="5.32" height="10.72" fill="#00f0ff"/>
<rect x="541.73" y="381.33" width="5.32" height="10.72" fill="#009eff"/>
</g>
<polyline points="65.8,341.3 80.8,340.4 101.7,341.7 118.3,343.3 126.7,342.0 139.0,342.0 147.5,339.2 153.8,343.3 164.0,342.5 176.7,345.4 185.0,348.3 192.0,347.6 208.0,346.9 220.0,347.2 238.0,346.9 252.0,346.2 257.5,347.6 267.0,344.8 275.6,349.0 280.0,349.0 286.0,355.2 292.3,345.5 298.0,346.5 308.5,351.0 321.0,345.5 326.6,346.2 332.9,376.1 337.8,358.0 343.3,356.0 348.5,363.2 355.0,358.7 361.2,373.3 367.5,373.3 375.8,372.6 384.2,370.5 389.8,346.2 395.3,344.8 401.6,353.1 407.0,345.8 413.0,347.6 418.5,346.2 424.8,349.0 430.4,346.2 436.0,357.3 442.9,346.2 450.5,343.4 466.0,343.4 471.0,344.1 477.2,341.3 485.0,344.1 494.6,345.5 504.4,342.0 511.0,345.0 518.4,347.6 524.7,345.5 535.8,343.4 540.0,342.7 547.0,345.5" fill="none" stroke="#000" stroke-width="1.5" stroke-linejoin="round"/>
<path d="M59.5 30.8L61.2 29.1L63.0 30.8L61.2 32.5ZM61.1 29.6L62.9 27.9L64.7 29.6L62.9 31.4ZM61.8 36.6L63.5 34.9L65.2 36.6L63.5 38.4ZM63.5 38.3L65.3 36.5L67.0 38.3L65.3 40.0ZM65.2 39.5L67.0 37.8L68.8 39.5L67.0 41.2ZM66.5 33.7L68.2 32.0L70.0 33.7L68.2 35.5ZM68.2 36.6L69.9 34.9L71.7 36.6L69.9 38.4ZM69.3 37.8L71.1 36.0L72.8 37.8L71.1 39.5ZM71.0 32.5L72.8 30.8L74.5 32.5L72.8 34.2ZM72.2 34.3L74.0 32.5L75.8 34.3L74.0 36.0ZM73.5 36.0L75.2 34.2L77.0 36.0L75.2 37.8ZM75.8 37.2L77.5 35.5L79.2 37.2L77.5 39.0ZM77.5 38.9L79.3 37.1L81.0 38.9L79.3 40.6ZM79.2 41.3L81.0 39.5L82.8 41.3L81.0 43.0ZM82.2 45.9L83.9 44.1L85.7 45.9L83.9 47.6ZM83.3 43.6L85.1 41.9L86.8 43.6L85.1 45.4ZM85.0 42.4L86.8 40.6L88.5 42.4L86.8 44.1ZM87.5 41.8L89.2 40.0L91.0 41.8L89.2 43.5ZM89.2 42.4L90.9 40.6L92.7 42.4L90.9 44.1ZM91.0 43.6L92.7 41.9L94.5 43.6L92.7 45.4ZM92.7 44.8L94.4 43.0L96.2 44.8L94.4 46.5ZM95.0 45.9L96.8 44.1L98.5 45.9L96.8 47.6ZM95.5 34.8L97.3 33.0L99.0 34.8L97.3 36.5ZM97.3 33.7L99.1 32.0L100.8 33.7L99.1 35.5ZM99.0 36.0L100.8 34.2L102.5 36.0L100.8 37.8ZM100.8 36.6L102.6 34.9L104.3 36.6L102.6 38.4ZM102.5 37.8L104.3 36.0L106.0 37.8L104.3 39.5ZM105.0 37.2L106.7 35.5L108.5 37.2L106.7 39.0ZM107.2 38.3L109.0 36.5L110.8 38.3L109.0 40.0ZM108.5 39.5L110.2 37.8L112.0 39.5L110.2 41.2ZM110.8 39.5L112.5 37.8L114.2 39.5L112.5 41.2ZM113.0 40.1L114.8 38.4L116.5 40.1L114.8 41.9ZM115.5 40.7L117.2 39.0L119.0 40.7L117.2 42.5ZM117.8 45.9L119.5 44.1L121.2 45.9L119.5 47.6ZM119.5 47.7L121.3 46.0L123.0 47.7L121.3 49.5ZM121.8 47.1L123.6 45.4L125.3 47.1L123.6 48.9ZM123.5 46.5L125.3 44.8L127.0 46.5L125.3 48.2ZM125.3 43.0L127.1 41.2L128.8 43.0L127.1 44.8ZM127.1 46.5L128.8 44.8L130.6 46.5L128.8 48.2ZM127.4 46.5L129.2 44.8L130.9 46.5L129.2 48.2ZM129.2 40.1L130.9 38.4L132.7 40.1L130.9 41.9ZM130.9 45.3L132.7 43.5L134.4 45.3L132.7 47.0ZM132.1 38.9L133.8 37.1L135.6 38.9L133.8 40.6ZM134.4 39.5L136.2 37.8L137.9 39.5L136.2 41.2ZM136.8 50.6L138.5 48.9L140.2 50.6L138.5 52.4ZM137.9 39.5L139.7 37.8L141.4 39.5L139.7 41.2ZM139.7 41.8L141.4 40.0L143.2 41.8L141.4 43.5ZM142.1 43.0L143.8 41.2L145.6 43.0L143.8 44.8ZM144.9 44.2L146.7 42.5L148.4 44.2L146.7 46.0ZM147.2 41.3L149.0 39.5L150.8 41.3L149.0 43.0ZM150.2 40.7L151.9 39.0L153.7 40.7L151.9 42.5ZM152.6 44.2L154.3 42.5L156.1 44.2L154.3 46.0ZM154.2 46.5L156.0 44.8L157.8 46.5L156.0 48.2ZM157.2 43.6L158.9 41.9L160.7 43.6L158.9 45.4ZM160.1 43.0L161.8 41.2L163.6 43.0L161.8 44.8ZM163.1 45.3L164.8 43.5L166.6 45.3L164.8 47.0ZM165.9 39.5L167.7 37.8L169.4 39.5L167.7 41.2ZM168.8 40.1L170.6 38.4L172.3 40.1L170.6 41.9ZM170.1 42.4L171.8 40.6L173.6 42.4L171.8 44.1ZM172.9 36.6L174.7 34.9L176.4 36.6L174.7 38.4ZM174.1 31.3L175.8 29.6L177.6 31.3L175.8 33.0ZM175.8 32.5L177.6 30.8L179.3 32.5L177.6 34.2ZM177.6 28.4L179.3 26.6L181.1 28.4L179.3 30.1ZM179.3 31.9L181.1 30.1L182.8 31.9L181.1 33.6ZM179.7 21.4L181.4 19.6L183.2 21.4L181.4 23.1ZM182.2 29.6L184.0 27.9L185.8 29.6L184.0 31.4ZM184.6 30.8L186.3 29.1L188.1 30.8L186.3 32.5ZM186.3 25.5L188.1 23.8L189.8 25.5L188.1 27.2ZM188.7 24.3L190.4 22.6L192.2 24.3L190.4 26.1ZM190.4 27.8L192.2 26.1L193.9 27.8L192.2 29.6ZM192.8 29.6L194.5 27.9L196.2 29.6L194.5 31.4ZM195.1 31.3L196.8 29.6L198.6 31.3L196.8 33.0ZM197.2 27.8L198.9 26.1L200.7 27.8L198.9 29.6ZM199.6 30.2L201.3 28.4L203.1 30.2L201.3 31.9ZM201.8 31.3L203.6 29.6L205.3 31.3L203.6 33.0ZM204.8 32.5L206.5 30.8L208.2 32.5L206.5 34.2ZM206.6 31.9L208.3 30.1L210.1 31.9L208.3 33.6ZM208.2 27.8L210.0 26.1L211.8 27.8L210.0 29.6ZM210.1 33.7L211.8 32.0L213.6 33.7L211.8 35.5ZM212.3 34.8L214.1 33.0L215.8 34.8L214.1 36.5ZM214.7 36.0L216.4 34.2L218.2 36.0L216.4 37.8ZM217.1 37.8L218.8 36.0L220.6 37.8L218.8 39.5ZM218.8 39.5L220.5 37.8L222.2 39.5L220.5 41.2ZM221.1 37.8L222.8 36.0L224.6 37.8L222.8 39.5ZM224.1 37.2L225.8 35.5L227.6 37.2L225.8 39.0ZM226.9 37.2L228.7 35.5L230.4 37.2L228.7 39.0ZM229.2 37.2L231.0 35.5L232.8 37.2L231.0 39.0ZM232.2 37.8L233.9 36.0L235.7 37.8L233.9 39.5ZM235.1 37.2L236.8 35.5L238.6 37.2L236.8 39.0ZM238.1 34.8L239.8 33.0L241.6 34.8L239.8 36.5ZM239.8 39.5L241.5 37.8L243.2 39.5L241.5 41.2ZM242.1 37.8L243.8 36.0L245.6 37.8L243.8 39.5ZM244.4 40.1L246.2 38.4L247.9 40.1L246.2 41.9ZM246.8 39.5L248.5 37.8L250.2 39.5L248.5 41.2ZM248.6 37.2L250.3 35.5L252.1 37.2L250.3 39.0ZM250.2 43.0L252.0 41.2L253.8 43.0L252.0 44.8ZM252.1 38.9L253.8 37.1L255.6 38.9L253.8 40.6ZM253.8 45.3L255.5 43.5L257.2 45.3L255.5 47.0ZM256.1 43.0L257.8 41.2L259.6 43.0L257.8 44.8ZM258.4 45.3L260.2 43.5L261.9 45.3L260.2 47.0ZM260.8 43.6L262.5 41.9L264.2 43.6L262.5 45.4ZM263.6 46.5L265.4 44.8L267.1 46.5L265.4 48.2ZM264.6 47.1L266.3 45.4L268.1 47.1L266.3 48.9ZM267.6 48.3L269.3 46.5L271.1 48.3L269.3 50.0ZM270.4 47.7L272.2 46.0L273.9 47.7L272.2 49.5ZM272.8 45.3L274.5 43.5L276.2 45.3L274.5 47.0ZM275.1 42.4L276.8 40.6L278.6 42.4L276.8 44.1ZM276.9 46.5L278.6 44.8L280.4 46.5L278.6 48.2ZM279.8 45.9L281.5 44.1L283.2 45.9L281.5 47.6ZM282.1 47.7L283.8 46.0L285.6 47.7L283.8 49.5ZM284.4 50.0L286.2 48.2L287.9 50.0L286.2 51.8ZM287.4 49.4L289.1 47.6L290.9 49.4L289.1 51.1ZM290.2 47.7L292.0 46.0L293.8 47.7L292.0 49.5ZM293.1 48.8L294.9 47.0L296.6 48.8L294.9 50.5ZM296.1 48.3L297.8 46.5L299.6 48.3L297.8 50.0ZM297.9 46.5L299.6 44.8L301.4 46.5L299.6 48.2ZM300.8 44.8L302.5 43.0L304.2 44.8L302.5 46.5ZM304.2 45.9L306.0 44.1L307.8 45.9L306.0 47.6ZM306.1 47.1L307.8 45.4L309.6 47.1L307.8 48.9ZM310.1 45.3L311.8 43.5L313.6 45.3L311.8 47.0ZM313.1 44.8L314.8 43.0L316.6 44.8L314.8 46.5ZM316.6 40.7L318.3 39.0L320.1 40.7L318.3 42.5ZM318.9 44.2L320.6 42.5L322.4 44.2L320.6 46.0ZM321.8 45.9L323.5 44.1L325.2 45.9L323.5 47.6ZM324.1 45.3L325.8 43.5L327.6 45.3L325.8 47.0ZM327.6 47.7L329.3 46.0L331.1 47.7L329.3 49.5ZM329.9 50.0L331.7 48.2L333.4 50.0L331.7 51.8ZM330.9 49.8L332.6 48.0L334.4 49.8L332.6 51.5ZM333.1 45.2L334.9 43.5L336.6 45.2L334.9 47.0ZM334.4 49.8L336.1 48.0L337.9 49.8L336.1 51.5ZM336.6 51.0L338.4 49.2L340.1 51.0L338.4 52.8ZM339.1 45.2L340.8 43.5L342.6 45.2L340.8 47.0ZM340.8 48.7L342.5 47.0L344.2 48.7L342.5 50.5ZM343.1 48.1L344.8 46.4L346.6 48.1L344.8 49.9ZM345.4 46.9L347.2 45.1L348.9 46.9L347.2 48.6ZM347.1 50.4L348.9 48.6L350.6 50.4L348.9 52.1ZM349.6 52.8L351.3 51.0L353.1 52.8L351.3 54.5ZM351.2 53.9L353.0 52.1L354.8 53.9L353.0 55.6ZM353.1 56.3L354.8 54.5L356.6 56.3L354.8 58.0ZM354.8 59.8L356.5 58.0L358.2 59.8L356.5 61.5ZM357.1 58.6L358.8 56.9L360.6 58.6L358.8 60.4ZM360.6 59.8L362.3 58.0L364.1 59.8L362.3 61.5ZM362.4 46.9L364.1 45.1L365.9 46.9L364.1 48.6ZM364.1 51.0L365.8 49.2L367.6 51.0L365.8 52.8ZM365.9 53.3L367.6 51.5L369.4 53.3L367.6 55.0ZM367.6 52.2L369.3 50.5L371.1 52.2L369.3 54.0ZM368.8 56.3L370.5 54.5L372.2 56.3L370.5 58.0ZM371.6 57.4L373.4 55.6L375.1 57.4L373.4 59.1ZM373.4 62.1L375.2 60.4L376.9 62.1L375.2 63.9ZM375.1 53.9L376.9 52.1L378.6 53.9L376.9 55.6ZM376.4 58.0L378.1 56.2L379.9 58.0L378.1 59.8ZM378.1 60.3L379.8 58.5L381.6 60.3L379.8 62.0ZM381.1 56.8L382.8 55.0L384.6 56.8L382.8 58.5ZM382.8 61.5L384.5 59.8L386.2 61.5L384.5 63.2ZM383.9 64.4L385.7 62.7L387.4 64.4L385.7 66.2ZM386.2 63.8L388.0 62.0L389.8 63.8L388.0 65.5ZM387.4 57.4L389.2 55.6L390.9 57.4L389.2 59.1ZM389.1 58.0L390.9 56.2L392.6 58.0L390.9 59.8ZM391.6 55.7L393.3 54.0L395.1 55.7L393.3 57.5ZM393.2 52.8L395.0 51.0L396.8 52.8L395.0 54.5ZM395.1 50.4L396.8 48.6L398.6 50.4L396.8 52.1ZM397.4 47.5L399.1 45.8L400.9 47.5L399.1 49.2ZM399.4 51.6L401.2 49.9L402.9 51.6L401.2 53.4ZM399.6 52.2L401.4 50.5L403.1 52.2L401.4 54.0ZM401.8 53.3L403.5 51.5L405.2 53.3L403.5 55.0ZM403.6 56.8L405.3 55.0L407.1 56.8L405.3 58.5ZM405.2 56.3L407.0 54.5L408.8 56.3L407.0 58.0ZM407.1 59.2L408.8 57.5L410.6 59.2L408.8 61.0ZM408.8 60.9L410.5 59.1L412.2 60.9L410.5 62.6ZM411.1 60.3L412.8 58.5L414.6 60.3L412.8 62.0ZM413.4 60.9L415.2 59.1L416.9 60.9L415.2 62.6ZM415.8 59.8L417.5 58.0L419.2 59.8L417.5 61.5ZM417.6 58.6L419.3 56.9L421.1 58.6L419.3 60.4ZM419.2 56.8L421.0 55.0L422.8 56.8L421.0 58.5ZM421.1 56.3L422.8 54.5L424.6 56.3L422.8 58.0ZM423.4 57.4L425.1 55.6L426.9 57.4L425.1 59.1ZM428.1 57.4L429.8 55.6L431.6 57.4L429.8 59.1ZM430.9 55.7L432.7 54.0L434.4 55.7L432.7 57.5ZM433.2 56.8L435.0 55.0L436.8 56.8L435.0 58.5ZM435.6 57.4L437.3 55.6L439.1 57.4L437.3 59.1ZM438.6 56.8L440.3 55.0L442.1 56.8L440.3 58.5ZM440.9 58.6L442.6 56.9L444.4 58.6L442.6 60.4ZM443.1 56.8L444.9 55.0L446.6 56.8L444.9 58.5ZM445.6 56.8L447.3 55.0L449.1 56.8L447.3 58.5ZM446.1 60.3L447.8 58.5L449.6 60.3L447.8 62.0ZM448.4 60.9L450.2 59.1L451.9 60.9L450.2 62.6ZM450.1 62.1L451.9 60.4L453.6 62.1L451.9 63.9ZM451.9 60.9L453.7 59.1L455.4 60.9L453.7 62.6ZM454.2 59.8L456.0 58.0L457.8 59.8L456.0 61.5ZM456.6 58.0L458.3 56.2L460.1 58.0L458.3 59.8ZM457.8 53.3L459.5 51.5L461.2 53.3L459.5 55.0ZM459.6 59.2L461.3 57.5L463.1 59.2L461.3 61.0ZM460.6 64.4L462.4 62.7L464.1 64.4L462.4 66.2ZM462.4 60.9L464.2 59.1L465.9 60.9L464.2 62.6ZM464.1 62.1L465.9 60.4L467.6 62.1L465.9 63.9ZM465.4 49.3L467.1 47.5L468.9 49.3L467.1 51.0ZM466.9 57.0L468.7 55.2L470.4 57.0L468.7 58.8ZM468.9 56.3L470.7 54.5L472.4 56.3L470.7 58.0ZM470.9 57.0L472.7 55.2L474.4 57.0L472.7 58.8ZM472.2 53.0L474.0 51.2L475.8 53.0L474.0 54.8ZM474.2 53.7L476.0 52.0L477.8 53.7L476.0 55.5ZM476.9 52.3L478.7 50.5L480.4 52.3L478.7 54.0ZM478.9 45.0L480.7 43.2L482.4 45.0L480.7 46.8ZM480.9 51.0L482.7 49.2L484.4 51.0L482.7 52.8ZM483.6 52.3L485.3 50.5L487.1 52.3L485.3 54.0ZM486.2 52.3L488.0 50.5L489.8 52.3L488.0 54.0ZM488.9 53.7L490.7 52.0L492.4 53.7L490.7 55.5ZM491.6 50.3L493.3 48.5L495.1 50.3L493.3 52.0ZM494.2 53.7L496.0 52.0L497.8 53.7L496.0 55.5ZM496.2 47.0L498.0 45.2L499.8 47.0L498.0 48.8ZM498.2 49.0L500.0 47.2L501.8 49.0L500.0 50.8ZM500.2 54.3L502.0 52.5L503.8 54.3L502.0 56.0ZM502.9 51.0L504.7 49.2L506.4 51.0L504.7 52.8ZM503.6 46.3L505.3 44.5L507.1 46.3L505.3 48.0ZM505.6 42.3L507.3 40.5L509.1 42.3L507.3 44.0ZM506.9 46.3L508.7 44.5L510.4 46.3L508.7 48.0ZM508.2 52.3L510.0 50.5L511.8 52.3L510.0 54.0ZM509.6 58.3L511.3 56.5L513.0 58.3L511.3 60.0ZM511.5 53.0L513.3 51.2L515.0 53.0L513.3 54.8ZM513.5 57.0L515.3 55.2L517.0 57.0L515.3 58.8ZM515.5 59.7L517.3 58.0L519.0 59.7L517.3 61.5ZM517.5 57.0L519.3 55.2L521.0 57.0L519.3 58.8ZM519.5 59.7L521.3 58.0L523.0 59.7L521.3 61.5ZM521.0 57.0L522.7 55.2L524.5 57.0L522.7 58.8ZM523.5 55.7L525.3 54.0L527.0 55.7L525.3 57.5ZM525.5 45.7L527.3 44.0L529.0 45.7L527.3 47.5ZM527.5 50.3L529.3 48.5L531.0 50.3L529.3 52.0ZM529.0 55.0L530.7 53.2L532.5 55.0L530.7 56.8ZM531.0 46.3L532.7 44.5L534.5 46.3L532.7 48.0ZM533.5 41.0L535.3 39.2L537.0 41.0L535.3 42.8ZM535.5 45.7L537.3 44.0L539.0 45.7L537.3 47.5ZM538.2 49.0L540.0 47.2L541.8 49.0L540.0 50.8ZM541.5 41.7L543.3 40.0L545.0 41.7L543.3 43.5ZM544.2 45.0L546.0 43.2L547.8 45.0L546.0 46.8ZM80.5 43.7L82.3 41.9L84.0 43.7L82.3 45.4ZM143.4 43.8L145.2 42.1L146.9 43.8L145.2 45.6ZM148.8 40.1L150.5 38.4L152.3 40.1L150.5 41.9ZM155.4 45.7L157.2 44.0L158.9 45.7L157.2 47.5ZM158.5 42.8L160.2 41.0L162.0 42.8L160.2 44.5ZM161.8 44.1L163.6 42.3L165.3 44.1L163.6 45.8ZM164.7 42.4L166.5 40.6L168.2 42.4L166.5 44.1ZM167.5 39.1L169.2 37.4L171.0 39.1L169.2 40.9ZM171.6 40.2L173.3 38.5L175.1 40.2L173.3 42.0ZM203.3 32.4L205.1 30.6L206.8 32.4L205.1 34.1ZM222.7 36.6L224.4 34.9L226.2 36.6L224.4 38.4ZM225.7 37.4L227.4 35.6L229.2 37.4L227.4 39.1ZM230.6 36.6L232.3 34.8L234.1 36.6L232.3 38.3ZM233.8 37.4L235.6 35.7L237.3 37.4L235.6 39.2ZM236.7 36.8L238.4 35.0L240.2 36.8L238.4 38.5ZM262.3 45.9L264.1 44.1L265.8 45.9L264.1 47.6ZM266.0 48.3L267.7 46.6L269.5 48.3L267.7 50.1ZM269.0 48.9L270.7 47.1L272.5 48.9L270.7 50.6ZM278.5 45.4L280.3 43.6L282.0 45.4L280.3 47.1ZM285.7 49.1L287.4 47.4L289.2 49.1L287.4 50.9ZM289.1 48.4L290.8 46.7L292.6 48.4L290.8 50.2ZM291.8 47.9L293.5 46.1L295.3 47.9L293.5 49.6ZM294.6 48.3L296.4 46.6L298.1 48.3L296.4 50.1ZM299.2 45.8L301.0 44.1L302.7 45.8L301.0 47.6ZM302.6 46.2L304.3 44.4L306.1 46.2L304.3 47.9ZM308.2 47.1L309.9 45.3L311.7 47.1L309.9 48.8ZM311.8 46.0L313.5 44.3L315.3 46.0L313.5 47.8ZM314.9 42.1L316.7 40.3L318.4 42.1L316.7 43.8ZM320.5 46.0L322.3 44.2L324.0 46.0L322.3 47.7ZM326.0 46.6L327.8 44.9L329.5 46.6L327.8 48.4ZM358.9 58.6L360.7 56.9L362.4 58.6L360.7 60.4ZM370.4 57.0L372.1 55.2L373.9 57.0L372.1 58.7ZM379.4 57.7L381.2 55.9L382.9 57.7L381.2 59.4ZM429.7 57.5L431.5 55.8L433.2 57.5L431.5 59.3ZM436.8 57.7L438.6 56.0L440.3 57.7L438.6 59.5ZM475.5 52.3L477.3 50.6L479.0 52.3L477.3 54.1ZM482.1 52.2L483.9 50.4L485.6 52.2L483.9 53.9ZM485.1 51.4L486.9 49.6L488.6 51.4L486.9 53.1ZM487.7 52.1L489.4 50.3L491.2 52.1L489.4 53.8ZM490.4 51.7L492.1 49.9L493.9 51.7L492.1 53.4ZM493.1 53.0L494.9 51.2L496.6 53.0L494.9 54.7ZM501.6 53.6L503.4 51.9L505.1 53.6L503.4 55.4ZM536.8 46.5L538.5 44.8L540.3 46.5L538.5 48.3ZM543.0 42.4L544.7 40.7L546.5 42.4L544.7 44.2Z" fill="#1010d0" clip-path="url(#c0)"/>
<path d="M63.7 32.5L65.3 30.9L66.9 32.5L65.3 34.1ZM70.1 33.1L71.7 31.5L73.3 33.1L71.7 34.7ZM75.3 36.0L76.9 34.4L78.5 36.0L76.9 37.6ZM81.7 38.3L83.3 36.7L84.9 38.3L83.3 39.9ZM87.0 40.1L88.6 38.5L90.2 40.1L88.6 41.7ZM93.4 38.3L95.0 36.7L96.6 38.3L95.0 39.9ZM99.2 35.4L100.8 33.8L102.4 35.4L100.8 37.0ZM105.1 36.0L106.7 34.4L108.3 36.0L106.7 37.6ZM110.9 38.3L112.5 36.7L114.1 38.3L112.5 39.9ZM116.2 41.3L117.8 39.7L119.4 41.3L117.8 42.9ZM122.0 43.0L123.6 41.4L125.2 43.0L123.6 44.6ZM127.6 41.3L129.2 39.7L130.8 41.3L129.2 42.9ZM134.0 41.3L135.6 39.7L137.2 41.3L135.6 42.9ZM139.2 43.0L140.8 41.4L142.4 43.0L140.8 44.6ZM145.1 41.8L146.7 40.2L148.3 41.8L146.7 43.4ZM150.9 44.2L152.5 42.6L154.1 44.2L152.5 45.8ZM157.3 43.0L158.9 41.4L160.5 43.0L158.9 44.6ZM163.2 39.5L164.8 37.9L166.4 39.5L164.8 41.1ZM168.4 33.1L170.0 31.5L171.6 33.1L170.0 34.7ZM174.2 26.7L175.8 25.1L177.4 26.7L175.8 28.3ZM180.7 26.1L182.3 24.5L183.9 26.1L182.3 27.7ZM186.5 26.7L188.1 25.1L189.7 26.7L188.1 28.3ZM191.7 29.6L193.3 28.0L194.9 29.6L193.3 31.2ZM196.7 30.2L198.3 28.6L199.9 30.2L198.3 31.8ZM203.2 33.1L204.8 31.5L206.4 33.1L204.8 34.7ZM209.0 34.8L210.6 33.2L212.2 34.8L210.6 36.4ZM215.4 37.2L217.0 35.6L218.6 37.2L217.0 38.8ZM221.2 36.6L222.8 35.0L224.4 36.6L222.8 38.2ZM227.1 36.6L228.7 35.0L230.3 36.6L228.7 38.2ZM232.9 36.6L234.5 35.0L236.1 36.6L234.5 38.2ZM238.2 37.2L239.8 35.6L241.4 37.2L239.8 38.8ZM244.0 37.8L245.6 36.2L247.2 37.8L245.6 39.4ZM249.8 41.3L251.4 39.7L253.0 41.3L251.4 42.9ZM255.7 41.8L257.3 40.2L258.9 41.8L257.3 43.4ZM260.9 43.0L262.5 41.4L264.1 43.0L262.5 44.6ZM267.1 44.8L268.7 43.2L270.3 44.8L268.7 46.4ZM273.5 43.6L275.1 42.0L276.7 43.6L275.1 45.2ZM279.3 44.8L280.9 43.2L282.5 44.8L280.9 46.4ZM285.2 46.5L286.8 44.9L288.4 46.5L286.8 48.1ZM290.4 45.9L292.0 44.3L293.6 45.9L292.0 47.5ZM296.2 44.8L297.8 43.2L299.4 44.8L297.8 46.4ZM301.5 43.6L303.1 42.0L304.7 43.6L303.1 45.2ZM307.9 43.0L309.5 41.4L311.1 43.0L309.5 44.6ZM313.7 41.8L315.3 40.2L316.9 41.8L315.3 43.4ZM319.6 43.6L321.2 42.0L322.8 43.6L321.2 45.2ZM325.4 45.9L327.0 44.3L328.6 45.9L327.0 47.5ZM331.2 45.9L332.8 44.3L334.4 45.9L332.8 47.5ZM336.8 45.2L338.4 43.6L340.0 45.2L338.4 46.8ZM343.2 45.2L344.8 43.6L346.4 45.2L344.8 46.8ZM349.1 51.6L350.7 50.0L352.3 51.6L350.7 53.2ZM354.3 56.8L355.9 55.2L357.5 56.8L355.9 58.4ZM359.6 48.7L361.2 47.1L362.8 48.7L361.2 50.3ZM366.0 52.2L367.6 50.6L369.2 52.2L367.6 53.8ZM371.2 55.1L372.8 53.5L374.4 55.1L372.8 56.7ZM377.7 55.1L379.3 53.5L380.9 55.1L379.3 56.7ZM382.9 56.3L384.5 54.7L386.1 56.3L384.5 57.9ZM388.7 52.8L390.3 51.2L391.9 52.8L390.3 54.4ZM395.2 49.3L396.8 47.7L398.4 49.3L396.8 50.9ZM400.7 53.3L402.3 51.7L403.9 53.3L402.3 54.9ZM406.6 55.1L408.2 53.5L409.8 55.1L408.2 56.7ZM412.4 56.3L414.0 54.7L415.6 56.3L414.0 57.9ZM418.2 54.5L419.8 52.9L421.4 54.5L419.8 56.1ZM424.1 55.1L425.7 53.5L427.3 55.1L425.7 56.7ZM429.9 54.5L431.5 52.9L433.1 54.5L431.5 56.1ZM435.7 54.5L437.3 52.9L438.9 54.5L437.3 56.1ZM441.6 53.3L443.2 51.7L444.8 53.3L443.2 54.9ZM447.4 55.1L449.0 53.5L450.6 55.1L449.0 56.7ZM452.7 53.9L454.3 52.3L455.9 53.9L454.3 55.5ZM458.5 51.0L460.1 49.4L461.7 51.0L460.1 52.6ZM464.9 51.0L466.5 49.4L468.1 51.0L466.5 52.6ZM469.7 50.3L471.3 48.7L472.9 50.3L471.3 51.9ZM475.7 49.0L477.3 47.4L478.9 49.0L477.3 50.6ZM481.7 51.0L483.3 49.4L484.9 51.0L483.3 52.6ZM487.7 50.3L489.3 48.7L490.9 50.3L489.3 51.9ZM493.1 49.0L494.7 47.4L496.3 49.0L494.7 50.6ZM499.1 50.3L500.7 48.7L502.3 50.3L500.7 51.9ZM505.1 49.0L506.7 47.4L508.3 49.0L506.7 50.6ZM511.1 55.7L512.7 54.1L514.3 55.7L512.7 57.3ZM517.1 53.7L518.7 52.1L520.3 53.7L518.7 55.3ZM522.4 49.0L524.0 47.4L525.6 49.0L524.0 50.6ZM528.4 48.3L530.0 46.7L531.6 48.3L530.0 49.9ZM533.7 45.0L535.3 43.4L536.9 45.0L535.3 46.6ZM539.7 41.7L541.3 40.1L542.9 41.7L541.3 43.3ZM545.1 40.3L546.7 38.7L548.3 40.3L546.7 41.9Z" fill="#d81010" clip-path="url(#c0)"/>
<path d="M59.5 89.6L61.3 87.8L63.0 89.6L61.3 91.3ZM60.9 91.6L62.6 89.8L64.3 91.6L62.6 93.3ZM62.1 94.2L63.9 92.5L65.7 94.2L63.9 96.0ZM64.2 96.8L65.9 95.0L67.7 96.8L65.9 98.5ZM65.5 99.4L67.2 97.7L69.0 99.4L67.2 101.2ZM66.8 100.1L68.5 98.3L70.2 100.1L68.5 101.8ZM68.8 98.8L70.5 97.0L72.2 98.8L70.5 100.5ZM70.7 98.1L72.4 96.3L74.2 98.1L72.4 99.8ZM72.0 97.5L73.7 95.8L75.5 97.5L73.7 99.2ZM73.2 96.8L75.0 95.0L76.8 96.8L75.0 98.5ZM75.2 95.5L77.0 93.8L78.8 95.5L77.0 97.2ZM77.8 94.2L79.6 92.5L81.3 94.2L79.6 96.0ZM79.8 97.5L81.6 95.8L83.3 97.5L81.6 99.2ZM81.2 98.8L82.9 97.0L84.7 98.8L82.9 100.5ZM82.5 76.5L84.2 74.8L86.0 76.5L84.2 78.2ZM83.8 79.2L85.5 77.5L87.2 79.2L85.5 81.0ZM85.0 81.1L86.8 79.3L88.5 81.1L86.8 82.8ZM87.0 82.4L88.8 80.7L90.5 82.4L88.8 84.2ZM89.0 83.7L90.7 82.0L92.5 83.7L90.7 85.5ZM90.3 82.4L92.1 80.7L93.8 82.4L92.1 84.2ZM91.7 85.7L93.4 84.0L95.2 85.7L93.4 87.5ZM93.5 86.4L95.3 84.7L97.0 86.4L95.3 88.2ZM95.5 89.0L97.3 87.2L99.0 89.0L97.3 90.8ZM96.2 103.4L97.9 101.7L99.7 103.4L97.9 105.2ZM97.5 104.7L99.3 103.0L101.0 104.7L99.3 106.5ZM99.5 106.0L101.2 104.2L103.0 106.0L101.2 107.8ZM101.5 105.3L103.2 103.5L105.0 105.3L103.2 107.0ZM103.3 103.4L105.1 101.7L106.8 103.4L105.1 105.2ZM104.7 100.1L106.4 98.3L108.2 100.1L106.4 101.8ZM106.7 98.1L108.4 96.3L110.2 98.1L108.4 99.8ZM108.7 94.9L110.4 93.2L112.2 94.9L110.4 96.7ZM110.5 98.1L112.3 96.3L114.0 98.1L112.3 99.8ZM113.2 100.1L115.0 98.3L116.8 100.1L115.0 101.8ZM115.8 100.7L117.6 99.0L119.3 100.7L117.6 102.5ZM117.2 99.4L118.9 97.7L120.7 99.4L118.9 101.2ZM118.5 108.6L120.2 106.8L122.0 108.6L120.2 110.3ZM120.3 109.3L122.1 107.5L123.8 109.3L122.1 111.0ZM122.3 107.9L124.1 106.2L125.8 107.9L124.1 109.7ZM123.7 111.2L125.4 109.5L127.2 111.2L125.4 113.0ZM125.7 112.5L127.4 110.8L129.2 112.5L127.4 114.2ZM126.2 119.7L128.0 118.0L129.8 119.7L128.0 121.5ZM126.9 116.4L128.7 114.7L130.4 116.4L128.7 118.2ZM128.2 114.5L130.0 112.8L131.8 114.5L130.0 116.2ZM129.6 112.5L131.3 110.8L133.1 112.5L131.3 114.2ZM130.8 115.8L132.6 114.0L134.3 115.8L132.6 117.5ZM132.2 118.4L133.9 116.7L135.7 118.4L133.9 120.2ZM133.4 120.4L135.2 118.7L136.9 120.4L135.2 122.2ZM134.8 128.2L136.5 126.4L138.2 128.2L136.5 129.9ZM135.7 123.6L137.4 121.8L139.2 123.6L137.4 125.3ZM137.3 116.4L139.1 114.7L140.8 116.4L139.1 118.2ZM138.7 114.5L140.4 112.8L142.2 114.5L140.4 116.2ZM139.3 116.4L141.1 114.7L142.8 116.4L141.1 118.2ZM140.7 111.9L142.4 110.2L144.2 111.9L142.4 113.7ZM141.2 102.7L143.0 101.0L144.8 102.7L143.0 104.5ZM142.7 101.4L144.4 99.7L146.2 101.4L144.4 103.2ZM143.9 100.1L145.7 98.3L147.4 100.1L145.7 101.8ZM145.8 107.9L147.6 106.2L149.3 107.9L147.6 109.7ZM147.2 110.6L148.9 108.8L150.7 110.6L148.9 112.3ZM148.4 114.5L150.2 112.8L151.9 114.5L150.2 116.2ZM149.8 113.2L151.6 111.5L153.3 113.2L151.6 115.0ZM150.4 93.6L152.2 91.8L153.9 93.6L152.2 95.3ZM151.8 101.4L153.5 99.7L155.2 101.4L153.5 103.2ZM153.1 104.7L154.8 103.0L156.6 104.7L154.8 106.5ZM154.3 95.5L156.1 93.8L157.8 95.5L156.1 97.2ZM156.3 93.6L158.1 91.8L159.8 93.6L158.1 95.3ZM158.3 94.2L160.1 92.5L161.8 94.2L160.1 96.0ZM160.2 95.5L162.0 93.8L163.8 95.5L162.0 97.2ZM162.2 96.8L164.0 95.0L165.8 96.8L164.0 98.5ZM164.8 96.8L166.6 95.0L168.3 96.8L166.6 98.5ZM166.8 99.4L168.6 97.7L170.3 99.4L168.6 101.2ZM168.2 104.7L169.9 103.0L171.7 104.7L169.9 106.5ZM169.4 101.4L171.2 99.7L172.9 101.4L171.2 103.2ZM170.8 117.1L172.5 115.3L174.2 117.1L172.5 118.8ZM172.7 103.4L174.4 101.7L176.2 103.4L174.4 105.2ZM175.3 104.7L177.1 103.0L178.8 104.7L177.1 106.5ZM177.9 100.7L179.7 99.0L181.4 100.7L179.7 102.5ZM179.8 104.7L181.6 103.0L183.3 104.7L181.6 106.5ZM181.8 105.3L183.6 103.5L185.3 105.3L183.6 107.0ZM183.8 107.9L185.6 106.2L187.3 107.9L185.6 109.7ZM185.8 108.6L187.5 106.8L189.2 108.6L187.5 110.3ZM187.1 109.3L188.8 107.5L190.6 109.3L188.8 111.0ZM187.8 115.1L189.5 113.3L191.2 115.1L189.5 116.8ZM189.8 115.1L191.5 113.3L193.2 115.1L191.5 116.8ZM189.8 119.1L191.5 117.3L193.2 119.1L191.5 120.8ZM192.3 115.1L194.1 113.3L195.8 115.1L194.1 116.8ZM194.9 105.3L196.7 103.5L198.4 105.3L196.7 107.0ZM194.9 120.4L196.7 118.7L198.4 120.4L196.7 122.2ZM195.6 120.4L197.3 118.7L199.1 120.4L197.3 122.2ZM196.2 105.3L198.0 103.5L199.8 105.3L198.0 107.0ZM197.6 110.6L199.3 108.8L201.1 110.6L199.3 112.3ZM198.8 125.6L200.6 123.8L202.3 125.6L200.6 127.3ZM199.4 114.5L201.2 112.8L202.9 114.5L201.2 116.2ZM200.8 114.5L202.5 112.8L204.2 114.5L202.5 116.2ZM202.2 106.0L203.9 104.2L205.7 106.0L203.9 107.8ZM204.1 110.6L205.8 108.8L207.6 110.6L205.8 112.3ZM206.1 105.3L207.8 103.5L209.6 105.3L207.8 107.0ZM206.7 115.8L208.4 114.0L210.2 115.8L208.4 117.5ZM208.7 104.0L210.4 102.2L212.2 104.0L210.4 105.8ZM209.2 111.2L211.0 109.5L212.8 111.2L211.0 113.0ZM210.7 116.4L212.4 114.7L214.2 116.4L212.4 118.2ZM211.9 118.4L213.7 116.7L215.4 118.4L213.7 120.2ZM213.8 119.7L215.6 118.0L217.3 119.7L215.6 121.5ZM215.2 123.0L216.9 121.2L218.7 123.0L216.9 124.8ZM217.2 125.0L218.9 123.2L220.7 125.0L218.9 126.8ZM218.4 128.9L220.2 127.2L221.9 128.9L220.2 130.7ZM219.8 126.3L221.5 124.5L223.2 126.3L221.5 128.1ZM221.1 123.0L222.8 121.2L224.6 123.0L222.8 124.8ZM223.1 120.4L224.8 118.7L226.6 120.4L224.8 122.2ZM224.9 123.6L226.7 121.8L228.4 123.6L226.7 125.3ZM226.9 123.0L228.7 121.2L230.4 123.0L228.7 124.8ZM229.6 116.4L231.3 114.7L233.1 116.4L231.3 118.2ZM231.6 118.4L233.3 116.7L235.1 118.4L233.3 120.2ZM233.6 113.8L235.3 112.0L237.1 113.8L235.3 115.5ZM235.4 111.9L237.2 110.2L238.9 111.9L237.2 113.7ZM237.4 107.9L239.2 106.2L240.9 107.9L239.2 109.7ZM239.3 106.6L241.1 104.8L242.8 106.6L241.1 108.3ZM241.3 107.9L243.1 106.2L244.8 107.9L243.1 109.7ZM243.9 103.4L245.7 101.7L247.4 103.4L245.7 105.2ZM245.9 104.0L247.7 102.2L249.4 104.0L247.7 105.8ZM247.8 101.4L249.6 99.7L251.3 101.4L249.6 103.2ZM249.2 98.1L250.9 96.3L252.7 98.1L250.9 99.8ZM251.8 96.8L253.6 95.0L255.3 96.8L253.6 98.5ZM253.8 97.5L255.5 95.8L257.2 97.5L255.5 99.2ZM255.8 98.8L257.5 97.0L259.2 98.8L257.5 100.5ZM257.1 94.9L258.8 93.2L260.6 94.9L258.8 96.7ZM259.1 96.8L260.8 95.0L262.6 96.8L260.8 98.5ZM260.9 93.6L262.7 91.8L264.4 93.6L262.7 95.3ZM262.9 92.9L264.7 91.2L266.4 92.9L264.7 94.7ZM264.2 92.9L266.0 91.2L267.8 92.9L266.0 94.7ZM266.1 96.2L267.9 94.5L269.6 96.2L267.9 98.0ZM268.1 92.9L269.9 91.2L271.6 92.9L269.9 94.7ZM269.4 88.3L271.2 86.5L272.9 88.3L271.2 90.0ZM270.8 90.9L272.5 89.2L274.2 90.9L272.5 92.7ZM272.8 92.2L274.5 90.5L276.2 92.2L274.5 94.0ZM274.1 94.9L275.8 93.2L277.6 94.9L275.8 96.7ZM275.4 96.2L277.1 94.5L278.9 96.2L277.1 98.0ZM276.6 92.2L278.4 90.5L280.1 92.2L278.4 94.0ZM277.9 94.2L279.7 92.5L281.4 94.2L279.7 96.0ZM279.2 96.8L281.0 95.0L282.8 96.8L281.0 98.5ZM280.6 98.1L282.3 96.3L284.1 98.1L282.3 99.8ZM281.9 95.5L283.6 93.8L285.4 95.5L283.6 97.2ZM283.1 100.1L284.9 98.3L286.6 100.1L284.9 101.8ZM285.1 91.6L286.9 89.8L288.6 91.6L286.9 93.3ZM286.4 90.3L288.2 88.5L289.9 90.3L288.2 92.0ZM288.4 92.9L290.2 91.2L291.9 92.9L290.2 94.7ZM289.8 98.1L291.5 96.3L293.2 98.1L291.5 99.8ZM291.1 92.9L292.8 91.2L294.6 92.9L292.8 94.7ZM292.4 96.8L294.1 95.0L295.9 96.8L294.1 98.5ZM294.4 99.4L296.1 97.7L297.9 99.4L296.1 101.2ZM295.6 100.7L297.4 99.0L299.1 100.7L297.4 102.5ZM297.6 98.1L299.3 96.3L301.1 98.1L299.3 99.8ZM300.9 81.8L302.6 80.0L304.4 81.8L302.6 83.5ZM304.1 83.1L305.9 81.3L307.6 83.1L305.9 84.8ZM305.4 75.9L307.2 74.2L308.9 75.9L307.2 77.7ZM310.1 89.6L311.8 87.8L313.6 89.6L311.8 91.3ZM312.6 99.4L314.4 97.7L316.1 99.4L314.4 101.2ZM313.9 100.7L315.7 99.0L317.4 100.7L315.7 102.5ZM315.9 90.9L317.6 89.2L319.4 90.9L317.6 92.7ZM317.2 87.7L319.0 86.0L320.8 87.7L319.0 89.5ZM318.6 94.9L320.3 93.2L322.1 94.9L320.3 96.7ZM320.4 97.5L322.2 95.8L323.9 97.5L322.2 99.2ZM321.8 93.6L323.5 91.8L325.2 93.6L323.5 95.3ZM323.8 93.6L325.5 91.8L327.2 93.6L325.5 95.3ZM327.6 96.8L329.4 95.0L331.1 96.8L329.4 98.5ZM328.9 100.1L330.7 98.3L332.4 100.1L330.7 101.8ZM330.2 96.2L332.0 94.5L333.8 96.2L332.0 98.0ZM331.6 87.0L333.3 85.2L335.1 87.0L333.3 88.8ZM332.9 87.0L334.6 85.2L336.4 87.0L334.6 88.8ZM333.6 104.0L335.3 102.2L337.1 104.0L335.3 105.8ZM334.9 121.7L336.6 120.0L338.4 121.7L336.6 123.5ZM336.1 120.4L337.9 118.7L339.6 120.4L337.9 122.2ZM337.4 119.1L339.2 117.3L340.9 119.1L339.2 120.8ZM338.8 119.7L340.5 118.0L342.2 119.7L340.5 121.5ZM340.8 118.4L342.5 116.7L344.2 118.4L342.5 120.2ZM343.4 119.7L345.1 118.0L346.9 119.7L345.1 121.5ZM345.2 120.4L347.0 118.7L348.8 120.4L347.0 122.2ZM346.6 119.1L348.4 117.3L350.1 119.1L348.4 120.8ZM348.6 113.2L350.3 111.5L352.1 113.2L350.3 115.0ZM349.2 121.0L351.0 119.2L352.8 121.0L351.0 122.8ZM351.1 121.7L352.9 120.0L354.6 121.7L352.9 123.5ZM353.1 123.6L354.9 121.8L356.6 123.6L354.9 125.3ZM355.1 122.3L356.9 120.5L358.6 122.3L356.9 124.0ZM357.1 117.8L358.8 116.0L360.6 117.8L358.8 119.5ZM358.4 121.7L360.1 120.0L361.9 121.7L360.1 123.5ZM360.4 122.3L362.1 120.5L363.9 122.3L362.1 124.0ZM361.6 128.9L363.4 127.2L365.1 128.9L363.4 130.7ZM362.9 126.3L364.7 124.5L366.4 126.3L364.7 128.1ZM364.9 116.4L366.7 114.7L368.4 116.4L366.7 118.2ZM366.2 114.5L368.0 112.8L369.8 114.5L368.0 116.2ZM367.6 120.4L369.3 118.7L371.1 120.4L369.3 122.2ZM369.6 119.7L371.3 118.0L373.1 119.7L371.3 121.5ZM370.9 106.6L372.6 104.8L374.4 106.6L372.6 108.3ZM372.1 118.4L373.9 116.7L375.6 118.4L373.9 120.2ZM374.1 117.1L375.8 115.3L377.6 117.1L375.8 118.8ZM376.1 116.4L377.8 114.7L379.6 116.4L377.8 118.2ZM378.1 114.5L379.8 112.8L381.6 114.5L379.8 116.2ZM380.6 109.9L382.4 108.2L384.1 109.9L382.4 111.7ZM382.6 113.2L384.3 111.5L386.1 113.2L384.3 115.0ZM383.9 115.1L385.6 113.3L387.4 115.1L385.6 116.8ZM385.9 116.4L387.6 114.7L389.4 116.4L387.6 118.2ZM386.6 96.8L388.3 95.0L390.1 96.8L388.3 98.5ZM388.4 96.8L390.2 95.0L391.9 96.8L390.2 98.5ZM389.8 89.0L391.5 87.2L393.2 89.0L391.5 90.8ZM391.1 95.5L392.8 93.8L394.6 95.5L392.8 97.2ZM393.1 91.6L394.8 89.8L396.6 91.6L394.8 93.3ZM394.4 87.0L396.1 85.2L397.9 87.0L396.1 88.8ZM395.1 98.1L396.8 96.3L398.6 98.1L396.8 99.8ZM396.9 87.7L398.7 86.0L400.4 87.7L398.7 89.5ZM398.9 90.3L400.7 88.5L402.4 90.3L400.7 92.0ZM398.9 112.5L400.7 110.8L402.4 112.5L400.7 114.2ZM400.2 90.3L402.0 88.5L403.8 90.3L402.0 92.0ZM400.2 112.5L402.0 110.8L403.8 112.5L402.0 114.2ZM402.9 106.6L404.6 104.8L406.4 106.6L404.6 108.3ZM403.4 92.2L405.2 90.5L406.9 92.2L405.2 94.0ZM405.4 90.9L407.2 89.2L408.9 90.9L407.2 92.7ZM407.4 93.6L409.2 91.8L410.9 93.6L409.2 95.3ZM408.8 90.3L410.5 88.5L412.2 90.3L410.5 92.0ZM410.6 89.6L412.4 87.8L414.1 89.6L412.4 91.3ZM412.6 89.0L414.4 87.2L416.1 89.0L414.4 90.8ZM414.6 91.6L416.4 89.8L418.1 91.6L416.4 93.3ZM416.6 90.3L418.3 88.5L420.1 90.3L418.3 92.0ZM418.6 96.2L420.3 94.5L422.1 96.2L420.3 98.0ZM419.9 92.9L421.6 91.2L423.4 92.9L421.6 94.7ZM421.9 89.6L423.6 87.8L425.4 89.6L423.6 91.3ZM423.8 87.0L425.5 85.2L427.2 87.0L425.5 88.8ZM426.4 85.7L428.1 84.0L429.9 85.7L428.1 87.5ZM428.4 83.7L430.1 82.0L431.9 83.7L430.1 85.5ZM430.4 82.4L432.1 80.7L433.9 82.4L432.1 84.2ZM432.2 80.5L434.0 78.8L435.8 80.5L434.0 82.2ZM433.6 87.0L435.3 85.2L437.1 87.0L435.3 88.8ZM434.9 79.8L436.6 78.0L438.4 79.8L436.6 81.5ZM437.6 77.2L439.3 75.5L441.1 77.2L439.3 79.0ZM439.4 99.4L441.2 97.7L442.9 99.4L441.2 101.2ZM441.4 111.2L443.2 109.5L444.9 111.2L443.2 113.0ZM442.8 96.2L444.5 94.5L446.2 96.2L444.5 98.0ZM444.6 100.1L446.4 98.3L448.1 100.1L446.4 101.8ZM446.6 93.6L448.4 91.8L450.1 93.6L448.4 95.3ZM448.6 105.3L450.4 103.5L452.1 105.3L450.4 107.0ZM449.9 111.2L451.7 109.5L453.4 111.2L451.7 113.0ZM451.9 103.4L453.6 101.7L455.4 103.4L453.6 105.2ZM453.9 107.3L455.6 105.5L457.4 107.3L455.6 109.0ZM455.9 106.0L457.6 104.2L459.4 106.0L457.6 107.8ZM457.8 98.1L459.5 96.3L461.2 98.1L459.5 99.8ZM458.4 94.2L460.2 92.5L461.9 94.2L460.2 96.0ZM461.1 105.3L462.8 103.5L464.6 105.3L462.8 107.0ZM463.1 96.8L464.8 95.0L466.6 96.8L464.8 98.5ZM465.6 100.7L467.4 99.0L469.1 100.7L467.4 102.5ZM466.2 92.2L468.0 90.5L469.8 92.2L468.0 94.0ZM466.2 100.7L468.0 99.0L469.8 100.7L468.0 102.5ZM466.9 92.0L468.7 90.2L470.4 92.0L468.7 93.8ZM468.9 94.7L470.7 93.0L472.4 94.7L470.7 96.5ZM470.9 98.0L472.7 96.2L474.4 98.0L472.7 99.8ZM473.6 96.7L475.3 95.0L477.1 96.7L475.3 98.5ZM474.2 98.7L476.0 97.0L477.8 98.7L476.0 100.5ZM476.9 96.0L478.7 94.2L480.4 96.0L478.7 97.8ZM478.9 97.3L480.7 95.5L482.4 97.3L480.7 99.0ZM481.6 98.7L483.3 97.0L485.1 98.7L483.3 100.5ZM482.9 100.7L484.7 99.0L486.4 100.7L484.7 102.5ZM484.9 96.0L486.7 94.2L488.4 96.0L486.7 97.8ZM487.6 95.3L489.3 93.5L491.1 95.3L489.3 97.0ZM489.6 96.0L491.3 94.2L493.1 96.0L491.3 97.8ZM491.6 98.0L493.3 96.2L495.1 98.0L493.3 99.8ZM494.2 95.3L496.0 93.5L497.8 95.3L496.0 97.0ZM496.2 96.7L498.0 95.0L499.8 96.7L498.0 98.5ZM498.9 94.0L500.7 92.2L502.4 94.0L500.7 95.8ZM500.9 102.0L502.7 100.2L504.4 102.0L502.7 103.8ZM502.2 95.3L504.0 93.5L505.8 95.3L504.0 97.0ZM504.9 92.0L506.7 90.2L508.4 92.0L506.7 93.8ZM506.2 93.3L508.0 91.5L509.8 93.3L508.0 95.0ZM507.6 96.0L509.3 94.2L511.1 96.0L509.3 97.8ZM508.9 97.3L510.7 95.5L512.5 97.3L510.7 99.0ZM512.2 100.7L514.0 99.0L515.8 100.7L514.0 102.5ZM513.5 102.7L515.3 101.0L517.0 102.7L515.3 104.5ZM515.5 104.7L517.3 103.0L519.0 104.7L517.3 106.5ZM519.0 99.3L520.7 97.5L522.5 99.3L520.7 101.0ZM520.2 91.3L522.0 89.5L523.8 91.3L522.0 93.0ZM521.0 98.0L522.7 96.2L524.5 98.0L522.7 99.8ZM523.0 94.0L524.7 92.2L526.5 94.0L524.7 95.8ZM525.0 91.3L526.7 89.5L528.5 91.3L526.7 93.0ZM527.0 90.7L528.7 89.0L530.5 90.7L528.7 92.5ZM529.0 91.3L530.7 89.5L532.5 91.3L530.7 93.0ZM530.2 90.0L532.0 88.2L533.8 90.0L532.0 91.8ZM532.2 86.7L534.0 85.0L535.8 86.7L534.0 88.5ZM534.2 86.0L536.0 84.2L537.8 86.0L536.0 87.8ZM536.2 88.0L538.0 86.2L539.8 88.0L538.0 89.8ZM538.2 84.0L540.0 82.2L541.8 84.0L540.0 85.8ZM541.0 84.7L542.7 83.0L544.5 84.7L542.7 86.5ZM543.0 82.0L544.7 80.2L546.5 82.0L544.7 83.8ZM544.2 83.3L546.0 81.5L547.8 83.3L546.0 85.0ZM111.7 98.3L113.5 96.6L115.2 98.3L113.5 100.1ZM173.9 103.4L175.7 101.6L177.4 103.4L175.7 105.1ZM250.2 97.3L252.0 95.5L253.7 97.3L252.0 99.0ZM302.8 83.1L304.5 81.3L306.3 83.1L304.5 84.8ZM325.9 94.6L327.6 92.9L329.4 94.6L327.6 96.4ZM342.1 118.6L343.8 116.9L345.6 118.6L343.8 120.4ZM401.4 108.8L403.1 107.0L404.9 108.8L403.1 110.5ZM424.9 87.2L426.6 85.5L428.4 87.2L426.6 89.0ZM436.4 79.1L438.1 77.4L439.9 79.1L438.1 80.9ZM472.4 96.7L474.2 95.0L475.9 96.7L474.2 98.5ZM475.5 97.6L477.2 95.9L479.0 97.6L477.2 99.4ZM480.4 98.7L482.1 97.0L483.9 98.7L482.1 100.5ZM486.5 94.8L488.2 93.1L490.0 94.8L488.2 96.6ZM493.0 97.0L494.7 95.2L496.5 97.0L494.7 98.7ZM497.6 94.7L499.4 93.0L501.1 94.7L499.4 96.5ZM503.6 92.8L505.3 91.1L507.1 92.8L505.3 94.6ZM510.9 99.7L512.6 98.0L514.4 99.7L512.6 101.5ZM517.3 101.6L519.0 99.9L520.8 101.6L519.0 103.4ZM539.8 84.5L541.6 82.7L543.3 84.5L541.6 86.2Z" fill="#1010d0" clip-path="url(#c1)"/>
<path d="M62.3 93.6L63.9 92.0L65.5 93.6L63.9 95.2ZM70.2 94.9L71.8 93.3L73.4 94.9L71.8 96.5ZM75.4 94.9L77.0 93.3L78.6 94.9L77.0 96.5ZM82.0 81.1L83.6 79.5L85.2 81.1L83.6 82.7ZM87.2 85.0L88.8 83.4L90.4 85.0L88.8 86.6ZM93.1 90.3L94.7 88.7L96.3 90.3L94.7 91.9ZM99.6 94.2L101.2 92.6L102.8 94.2L101.2 95.8ZM104.8 93.6L106.4 92.0L108.0 93.6L106.4 95.2ZM110.7 93.6L112.3 92.0L113.9 93.6L112.3 95.2ZM116.0 94.2L117.6 92.6L119.2 94.2L117.6 95.8ZM122.5 96.8L124.1 95.2L125.7 96.8L124.1 98.4ZM127.1 100.1L128.7 98.5L130.3 100.1L128.7 101.7ZM133.6 103.4L135.2 101.8L136.8 103.4L135.2 105.0ZM139.5 98.8L141.1 97.2L142.7 98.8L141.1 100.4ZM145.4 103.4L147.0 101.8L148.6 103.4L147.0 105.0ZM151.3 96.8L152.9 95.2L154.5 96.8L152.9 98.4ZM157.1 93.6L158.7 92.0L160.3 93.6L158.7 95.2ZM163.0 96.8L164.6 95.2L166.2 96.8L164.6 98.4ZM168.3 98.8L169.9 97.2L171.5 98.8L169.9 100.4ZM174.2 99.4L175.8 97.8L177.4 99.4L175.8 101.0ZM180.0 104.7L181.6 103.1L183.2 104.7L181.6 106.3ZM185.9 111.9L187.5 110.3L189.1 111.9L187.5 113.5ZM191.8 109.3L193.4 107.7L195.0 109.3L193.4 110.9ZM197.0 108.6L198.6 107.0L200.2 108.6L198.6 110.2ZM202.9 108.6L204.5 107.0L206.1 108.6L204.5 110.2ZM208.8 108.6L210.4 107.0L212.0 108.6L210.4 110.2ZM214.7 109.3L216.3 107.7L217.9 109.3L216.3 110.9ZM221.2 106.6L222.8 105.0L224.4 106.6L222.8 108.2ZM226.5 105.3L228.1 103.7L229.7 105.3L228.1 106.9ZM232.3 104.7L233.9 103.1L235.5 104.7L233.9 106.3ZM238.9 105.3L240.5 103.7L242.1 105.3L240.5 106.9ZM244.8 104.7L246.4 103.1L248.0 104.7L246.4 106.3ZM250.0 101.4L251.6 99.8L253.2 101.4L251.6 103.0ZM255.9 101.4L257.5 99.8L259.1 101.4L257.5 103.0ZM261.1 100.1L262.7 98.5L264.3 100.1L262.7 101.7ZM267.0 100.1L268.6 98.5L270.2 100.1L268.6 101.7ZM272.9 102.1L274.5 100.5L276.1 102.1L274.5 103.7ZM278.8 102.7L280.4 101.1L282.0 102.7L280.4 104.3ZM284.6 103.4L286.2 101.8L287.8 103.4L286.2 105.0ZM289.9 106.0L291.5 104.4L293.1 106.0L291.5 107.6ZM296.4 107.9L298.0 106.3L299.6 107.9L298.0 109.5ZM301.7 106.0L303.3 104.4L304.9 106.0L303.3 107.6ZM307.5 108.6L309.1 107.0L310.7 108.6L309.1 110.2ZM314.1 111.9L315.7 110.3L317.3 111.9L315.7 113.5ZM319.3 107.3L320.9 105.7L322.5 107.3L320.9 108.9ZM325.2 106.0L326.8 104.4L328.4 106.0L326.8 107.6ZM331.1 107.9L332.7 106.3L334.3 107.9L332.7 109.5ZM336.9 125.6L338.5 124.0L340.1 125.6L338.5 127.2ZM342.8 124.3L344.4 122.7L346.0 124.3L344.4 125.9ZM348.1 127.6L349.7 126.0L351.3 127.6L349.7 129.2ZM354.0 130.2L355.6 128.6L357.2 130.2L355.6 131.8ZM359.8 121.0L361.4 119.4L363.0 121.0L361.4 122.6ZM365.7 123.6L367.3 122.0L368.9 123.6L367.3 125.2ZM371.6 123.6L373.2 122.0L374.8 123.6L373.2 125.2ZM377.5 121.7L379.1 120.1L380.7 121.7L379.1 123.3ZM382.7 111.9L384.3 110.3L385.9 111.9L384.3 113.5ZM388.6 105.3L390.2 103.7L391.8 105.3L390.2 106.9ZM395.2 102.7L396.8 101.1L398.4 102.7L396.8 104.3ZM400.4 98.8L402.0 97.2L403.6 98.8L402.0 100.4ZM406.9 102.7L408.5 101.1L410.1 102.7L408.5 104.3ZM412.1 103.4L413.7 101.8L415.3 103.4L413.7 105.0ZM418.0 105.3L419.6 103.7L421.2 105.3L419.6 106.9ZM423.9 99.4L425.5 97.8L427.1 99.4L425.5 101.0ZM429.8 96.8L431.4 95.2L433.0 96.8L431.4 98.4ZM435.7 97.5L437.3 95.9L438.9 97.5L437.3 99.1ZM440.9 105.3L442.5 103.7L444.1 105.3L442.5 106.9ZM447.5 106.6L449.1 105.0L450.7 106.6L449.1 108.2ZM452.7 103.4L454.3 101.8L455.9 103.4L454.3 105.0ZM458.6 98.8L460.2 97.2L461.8 98.8L460.2 100.4ZM464.5 94.9L466.1 93.3L467.7 94.9L466.1 96.5ZM470.4 96.7L472.0 95.1L473.6 96.7L472.0 98.3ZM476.4 95.3L478.0 93.7L479.6 95.3L478.0 96.9ZM481.7 94.7L483.3 93.1L484.9 94.7L483.3 96.3ZM487.7 96.0L489.3 94.4L490.9 96.0L489.3 97.6ZM493.1 96.7L494.7 95.1L496.3 96.7L494.7 98.3ZM499.1 98.0L500.7 96.4L502.3 98.0L500.7 99.6ZM504.4 96.7L506.0 95.1L507.6 96.7L506.0 98.3ZM511.1 98.7L512.7 97.1L514.3 98.7L512.7 100.3ZM516.4 97.3L518.0 95.7L519.6 97.3L518.0 98.9ZM522.4 91.3L524.0 89.7L525.6 91.3L524.0 92.9ZM527.7 87.3L529.3 85.7L530.9 87.3L529.3 88.9ZM533.7 84.7L535.3 83.1L536.9 84.7L535.3 86.3ZM539.1 83.3L540.7 81.7L542.3 83.3L540.7 84.9ZM545.1 84.7L546.7 83.1L548.3 84.7L546.7 86.3Z" fill="#d81010" clip-path="url(#c1)"/>
<path d="M64.2 152.2L65.8 150.6L67.4 152.2L65.8 153.8ZM70.1 150.8L71.7 149.2L73.3 150.8L71.7 152.4ZM75.4 150.8L77.0 149.2L78.6 150.8L77.0 152.4ZM81.7 156.9L83.3 155.3L84.9 156.9L83.3 158.5ZM87.6 161.1L89.2 159.5L90.8 161.1L89.2 162.7ZM93.4 161.5L95.0 159.9L96.6 161.5L95.0 163.1ZM99.2 161.1L100.8 159.5L102.4 161.1L100.8 162.7ZM105.1 161.5L106.7 159.9L108.3 161.5L106.7 163.1ZM110.9 159.7L112.5 158.1L114.1 159.7L112.5 161.3ZM116.3 160.1L117.9 158.5L119.5 160.1L117.9 161.7ZM122.1 162.5L123.7 160.9L125.3 162.5L123.7 164.1ZM127.9 164.3L129.5 162.7L131.1 164.3L129.5 165.9ZM133.8 162.0L135.4 160.4L137.0 162.0L135.4 163.6ZM139.6 163.9L141.2 162.3L142.8 163.9L141.2 165.5ZM145.4 165.3L147.0 163.7L148.6 165.3L147.0 166.9ZM151.3 165.3L152.9 163.7L154.5 165.3L152.9 166.9ZM157.1 163.9L158.7 162.3L160.3 163.9L158.7 165.5ZM162.9 159.7L164.5 158.1L166.1 159.7L164.5 161.3ZM168.5 152.2L170.1 150.6L171.7 152.2L170.1 153.8ZM174.4 152.2L176.0 150.6L177.6 152.2L176.0 153.8ZM180.2 154.5L181.8 152.9L183.4 154.5L181.8 156.1ZM186.0 153.6L187.6 152.0L189.2 153.6L187.6 155.2ZM191.9 155.0L193.5 153.4L195.1 155.0L193.5 156.6ZM197.7 162.0L199.3 160.4L200.9 162.0L199.3 163.6ZM203.3 162.5L204.9 160.9L206.5 162.5L204.9 164.1ZM209.1 170.4L210.7 168.8L212.3 170.4L210.7 172.0ZM214.9 171.8L216.5 170.2L218.1 171.8L216.5 173.4ZM220.8 170.4L222.4 168.8L224.0 170.4L222.4 172.0ZM226.6 169.0L228.2 167.4L229.8 169.0L228.2 170.6ZM232.4 170.4L234.0 168.8L235.6 170.4L234.0 172.0ZM238.3 169.0L239.9 167.4L241.5 169.0L239.9 170.6ZM244.1 173.2L245.7 171.6L247.3 173.2L245.7 174.8ZM249.9 176.0L251.5 174.4L253.1 176.0L251.5 177.6ZM255.5 176.0L257.1 174.4L258.7 176.0L257.1 177.6ZM261.4 176.0L263.0 174.4L264.6 176.0L263.0 177.6ZM267.2 177.9L268.8 176.3L270.4 177.9L268.8 179.5ZM273.0 177.9L274.6 176.3L276.2 177.9L274.6 179.5ZM278.9 178.3L280.5 176.7L282.1 178.3L280.5 179.9ZM284.7 181.4L286.3 179.8L287.9 181.4L286.3 183.0ZM290.3 183.5L291.9 181.9L293.5 183.5L291.9 185.1ZM296.1 190.0L297.7 188.4L299.3 190.0L297.7 191.6ZM302.0 185.3L303.6 183.7L305.2 185.3L303.6 186.9ZM307.8 186.7L309.4 185.1L311.0 186.7L309.4 188.3ZM313.6 183.5L315.2 181.9L316.8 183.5L315.2 185.1ZM319.5 182.1L321.1 180.5L322.7 182.1L321.1 183.7ZM325.3 184.4L326.9 182.8L328.5 184.4L326.9 186.0ZM330.9 171.3L332.5 169.7L334.1 171.3L332.5 172.9ZM337.0 169.0L338.6 167.4L340.2 169.0L338.6 170.6ZM342.9 169.9L344.5 168.3L346.1 169.9L344.5 171.5ZM348.7 168.5L350.3 166.9L351.9 168.5L350.3 170.1ZM354.5 167.1L356.1 165.5L357.7 167.1L356.1 168.7ZM360.1 174.6L361.7 173.0L363.3 174.6L361.7 176.2ZM366.0 173.2L367.6 171.6L369.2 173.2L367.6 174.8ZM371.8 170.9L373.4 169.3L375.0 170.9L373.4 172.5ZM377.4 169.0L379.0 167.4L380.6 169.0L379.0 170.6ZM383.0 164.3L384.6 162.7L386.2 164.3L384.6 165.9ZM389.1 177.9L390.7 176.3L392.3 177.9L390.7 179.5ZM394.9 182.1L396.5 180.5L398.1 182.1L396.5 183.7ZM400.7 176.5L402.3 174.9L403.9 176.5L402.3 178.1ZM406.6 170.4L408.2 168.8L409.8 170.4L408.2 172.0ZM412.2 174.6L413.8 173.0L415.4 174.6L413.8 176.2ZM418.0 175.5L419.6 173.9L421.2 175.5L419.6 177.1ZM423.8 177.4L425.4 175.8L427.0 177.4L425.4 179.0ZM429.7 175.5L431.3 173.9L432.9 175.5L431.3 177.1ZM435.5 176.0L437.1 174.4L438.7 176.0L437.1 177.6ZM441.3 173.2L442.9 171.6L444.5 173.2L442.9 174.8ZM447.2 168.5L448.8 166.9L450.4 168.5L448.8 170.1ZM452.8 166.7L454.4 165.1L456.0 166.7L454.4 168.3ZM458.6 156.9L460.2 155.3L461.8 156.9L460.2 158.5ZM464.4 157.8L466.0 156.2L467.6 157.8L466.0 159.4ZM470.4 160.4L472.0 158.8L473.6 160.4L472.0 162.0ZM476.1 161.0L477.7 159.4L479.3 161.0L477.7 162.6ZM481.7 159.8L483.3 158.2L484.9 159.8L483.3 161.4ZM487.8 160.4L489.4 158.8L491.0 160.4L489.4 162.0ZM493.2 161.0L494.8 159.4L496.4 161.0L494.8 162.6ZM499.2 161.0L500.8 159.4L502.4 161.0L500.8 162.6ZM504.9 159.8L506.5 158.2L508.1 159.8L506.5 161.4ZM510.6 168.5L512.2 166.9L513.8 168.5L512.2 170.1ZM516.9 171.8L518.5 170.2L520.1 171.8L518.5 173.4ZM522.3 169.7L523.9 168.1L525.5 169.7L523.9 171.3ZM528.3 160.4L529.9 158.8L531.5 160.4L529.9 162.0ZM533.9 155.0L535.5 153.4L537.1 155.0L535.5 156.6ZM539.7 154.1L541.3 152.5L542.9 154.1L541.3 155.7ZM545.1 153.8L546.7 152.2L548.3 153.8L546.7 155.4Z" fill="#d01010" clip-path="url(#c2)"/>
<path d="M95.4 394.1L96.7 392.8L98.0 394.1L96.7 395.4ZM96.1 394.9L97.4 393.6L98.7 394.9L97.4 396.2ZM96.3 395.2L97.6 393.9L98.9 395.2L97.6 396.5ZM95.3 394.8L96.6 393.5L97.9 394.8L96.6 396.1ZM97.3 395.5L98.6 394.2L99.9 395.5L98.6 396.8ZM97.6 395.0L98.9 393.7L100.2 395.0L98.9 396.3ZM97.1 395.6L98.4 394.3L99.7 395.6L98.4 396.9ZM97.6 396.6L98.9 395.3L100.2 396.6L98.9 397.9ZM96.9 396.3L98.2 395.0L99.5 396.3L98.2 397.6ZM97.7 398.0L99.0 396.7L100.3 398.0L99.0 399.3ZM98.9 397.0L100.2 395.7L101.5 397.0L100.2 398.3ZM99.3 397.3L100.6 396.0L101.9 397.3L100.6 398.6ZM99.3 397.7L100.6 396.4L101.9 397.7L100.6 399.0ZM98.5 399.4L99.8 398.1L101.1 399.4L99.8 400.7ZM99.2 398.6L100.5 397.3L101.8 398.6L100.5 399.9ZM101.0 400.2L102.3 398.9L103.6 400.2L102.3 401.5ZM100.0 400.8L101.3 399.5L102.6 400.8L101.3 402.1ZM100.8 400.6L102.1 399.3L103.4 400.6L102.1 401.9ZM100.5 401.5L101.8 400.2L103.1 401.5L101.8 402.8ZM101.7 401.9L103.0 400.6L104.3 401.9L103.0 403.2ZM102.4 401.1L103.7 399.8L105.0 401.1L103.7 402.4ZM101.8 401.3L103.1 400.0L104.4 401.3L103.1 402.6ZM101.7 401.5L103.0 400.2L104.3 401.5L103.0 402.8ZM102.3 402.8L103.6 401.5L104.9 402.8L103.6 404.1ZM102.1 403.4L103.4 402.1L104.7 403.4L103.4 404.7ZM103.0 403.1L104.3 401.8L105.6 403.1L104.3 404.4ZM104.2 403.8L105.5 402.5L106.8 403.8L105.5 405.1ZM103.6 404.2L104.9 402.9L106.2 404.2L104.9 405.5ZM104.7 403.8L106.0 402.5L107.3 403.8L106.0 405.1ZM105.5 404.1L106.8 402.8L108.1 404.1L106.8 405.4ZM105.4 406.0L106.7 404.7L108.0 406.0L106.7 407.3ZM104.4 406.3L105.7 405.0L107.0 406.3L105.7 407.6ZM105.3 406.3L106.6 405.0L107.9 406.3L106.6 407.6ZM105.0 405.7L106.3 404.4L107.6 405.7L106.3 407.0ZM105.6 407.8L106.9 406.5L108.2 407.8L106.9 409.1ZM106.0 407.8L107.3 406.5L108.6 407.8L107.3 409.1ZM107.6 408.5L108.9 407.2L110.2 408.5L108.9 409.8ZM106.9 407.8L108.2 406.5L109.5 407.8L108.2 409.1ZM107.5 409.0L108.8 407.7L110.1 409.0L108.8 410.3ZM107.2 409.3L108.5 408.0L109.8 409.3L108.5 410.6ZM108.7 409.8L110.0 408.5L111.3 409.8L110.0 411.1ZM107.7 410.4L109.0 409.1L110.3 410.4L109.0 411.7ZM108.2 409.6L109.5 408.3L110.8 409.6L109.5 410.9ZM109.5 411.0L110.8 409.7L112.1 411.0L110.8 412.3ZM109.4 411.4L110.7 410.1L112.0 411.4L110.7 412.7ZM110.1 410.6L111.4 409.3L112.7 410.6L111.4 411.9ZM110.0 410.7L111.3 409.4L112.6 410.7L111.3 412.0ZM110.0 411.0L111.3 409.7L112.6 411.0L111.3 412.3ZM111.4 412.9L112.7 411.6L114.0 412.9L112.7 414.2ZM110.8 411.5L112.1 410.2L113.4 411.5L112.1 412.8ZM112.7 412.8L114.0 411.5L115.3 412.8L114.0 414.1ZM112.0 412.6L113.3 411.3L114.6 412.6L113.3 413.9ZM112.7 414.0L114.0 412.7L115.3 414.0L114.0 415.3ZM112.7 413.7L114.0 412.4L115.3 413.7L114.0 415.0ZM112.3 415.0L113.6 413.7L114.9 415.0L113.6 416.3ZM112.5 414.7L113.8 413.4L115.1 414.7L113.8 416.0ZM114.2 414.5L115.5 413.2L116.8 414.5L115.5 415.8ZM114.3 416.4L115.6 415.1L116.9 416.4L115.6 417.7ZM114.4 416.5L115.7 415.2L117.0 416.5L115.7 417.8ZM113.8 416.3L115.1 415.0L116.4 416.3L115.1 417.6ZM114.1 417.5L115.4 416.2L116.7 417.5L115.4 418.8ZM114.7 417.2L116.0 415.9L117.3 417.2L116.0 418.5ZM116.2 418.3L117.5 417.0L118.8 418.3L117.5 419.6ZM116.5 418.1L117.8 416.8L119.1 418.1L117.8 419.4ZM115.9 419.0L117.2 417.7L118.5 419.0L117.2 420.3ZM116.2 418.6L117.5 417.3L118.8 418.6L117.5 419.9ZM116.5 418.7L117.8 417.4L119.1 418.7L117.8 420.0ZM117.0 420.5L118.3 419.2L119.6 420.5L118.3 421.8ZM118.5 420.1L119.8 418.8L121.1 420.1L119.8 421.4ZM118.2 419.9L119.5 418.6L120.8 419.9L119.5 421.2ZM118.0 420.1L119.3 418.8L120.6 420.1L119.3 421.4ZM119.7 421.0L121.0 419.7L122.3 421.0L121.0 422.3ZM119.5 420.7L120.8 419.4L122.1 420.7L120.8 422.0ZM120.7 420.4L122.0 419.1L123.3 420.4L122.0 421.7ZM121.0 420.3L122.3 419.0L123.6 420.3L122.3 421.6ZM121.0 420.0L122.3 418.7L123.6 420.0L122.3 421.3ZM121.3 419.5L122.6 418.2L123.9 419.5L122.6 420.8ZM122.6 419.5L123.9 418.2L125.2 419.5L123.9 420.8ZM122.2 419.6L123.5 418.3L124.8 419.6L123.5 420.9ZM123.3 418.6L124.6 417.3L125.9 418.6L124.6 419.9ZM122.6 418.2L123.9 416.9L125.2 418.2L123.9 419.5ZM123.5 418.1L124.8 416.8L126.1 418.1L124.8 419.4ZM124.3 418.0L125.6 416.7L126.9 418.0L125.6 419.3ZM125.1 417.6L126.4 416.3L127.7 417.6L126.4 418.9ZM124.8 416.9L126.1 415.6L127.4 416.9L126.1 418.2ZM125.8 416.8L127.1 415.5L128.4 416.8L127.1 418.1ZM125.3 416.4L126.6 415.1L127.9 416.4L126.6 417.7ZM126.5 415.7L127.8 414.4L129.1 415.7L127.8 417.0ZM127.0 415.7L128.3 414.4L129.6 415.7L128.3 417.0ZM126.4 414.5L127.7 413.2L129.0 414.5L127.7 415.8ZM126.0 414.7L127.3 413.4L128.6 414.7L127.3 416.0ZM127.7 413.6L129.0 412.3L130.3 413.6L129.0 414.9ZM127.5 413.6L128.8 412.3L130.1 413.6L128.8 414.9ZM127.9 412.2L129.2 410.9L130.5 412.2L129.2 413.5ZM128.2 412.5L129.5 411.2L130.8 412.5L129.5 413.8ZM128.3 411.7L129.6 410.4L130.9 411.7L129.6 413.0ZM128.5 411.9L129.8 410.6L131.1 411.9L129.8 413.2ZM128.7 411.4L130.0 410.1L131.3 411.4L130.0 412.7ZM128.0 410.0L129.3 408.7L130.6 410.0L129.3 411.3ZM129.0 410.4L130.3 409.1L131.6 410.4L130.3 411.7ZM128.9 410.1L130.2 408.8L131.5 410.1L130.2 411.4ZM130.0 408.5L131.3 407.2L132.6 408.5L131.3 409.8ZM130.0 408.4L131.3 407.1L132.6 408.4L131.3 409.7ZM129.5 407.8L130.8 406.5L132.1 407.8L130.8 409.1ZM130.3 407.5L131.6 406.2L132.9 407.5L131.6 408.8ZM130.4 406.8L131.7 405.5L133.0 406.8L131.7 408.1ZM131.2 407.0L132.5 405.7L133.8 407.0L132.5 408.3ZM131.8 407.0L133.1 405.7L134.4 407.0L133.1 408.3ZM131.4 407.1L132.7 405.8L134.0 407.1L132.7 408.4ZM131.3 405.8L132.6 404.5L133.9 405.8L132.6 407.1ZM132.2 405.5L133.5 404.2L134.8 405.5L133.5 406.8ZM132.3 405.8L133.6 404.5L134.9 405.8L133.6 407.1ZM133.1 404.0L134.4 402.7L135.7 404.0L134.4 405.3ZM133.9 403.8L135.2 402.5L136.5 403.8L135.2 405.1ZM134.2 403.8L135.5 402.5L136.8 403.8L135.5 405.1ZM134.6 404.6L135.9 403.3L137.2 404.6L135.9 405.9ZM135.4 403.2L136.7 401.9L138.0 403.2L136.7 404.5ZM135.8 403.2L137.1 401.9L138.4 403.2L137.1 404.5ZM135.4 402.0L136.7 400.7L138.0 402.0L136.7 403.3ZM136.1 402.3L137.4 401.0L138.7 402.3L137.4 403.6ZM137.2 402.7L138.5 401.4L139.8 402.7L138.5 404.0ZM136.9 401.2L138.2 399.9L139.5 401.2L138.2 402.5ZM137.8 400.2L139.1 398.9L140.4 400.2L139.1 401.5ZM136.8 400.8L138.1 399.5L139.4 400.8L138.1 402.1ZM138.0 399.7L139.3 398.4L140.6 399.7L139.3 401.0ZM138.4 400.7L139.7 399.4L141.0 400.7L139.7 402.0ZM138.4 399.5L139.7 398.2L141.0 399.5L139.7 400.8ZM138.5 398.9L139.8 397.6L141.1 398.9L139.8 400.2ZM140.2 398.7L141.5 397.4L142.8 398.7L141.5 400.0ZM140.5 399.3L141.8 398.0L143.1 399.3L141.8 400.6ZM140.2 397.7L141.5 396.4L142.8 397.7L141.5 399.0ZM141.3 397.8L142.6 396.5L143.9 397.8L142.6 399.1ZM140.6 397.1L141.9 395.8L143.2 397.1L141.9 398.4ZM142.0 397.0L143.3 395.7L144.6 397.0L143.3 398.3ZM141.0 396.5L142.3 395.2L143.6 396.5L142.3 397.8ZM141.0 396.3L142.3 395.0L143.6 396.3L142.3 397.6ZM141.9 395.3L143.2 394.0L144.5 395.3L143.2 396.6ZM142.9 395.8L144.2 394.5L145.5 395.8L144.2 397.1ZM141.8 394.9L143.1 393.6L144.4 394.9L143.1 396.2ZM142.6 395.2L143.9 393.9L145.2 395.2L143.9 396.5ZM143.8 393.5L145.1 392.2L146.4 393.5L145.1 394.8ZM143.2 392.9L144.5 391.6L145.8 392.9L144.5 394.2ZM144.8 392.7L146.1 391.4L147.4 392.7L146.1 394.0ZM144.4 392.7L145.7 391.4L147.0 392.7L145.7 394.0ZM144.8 392.5L146.1 391.2L147.4 392.5L146.1 393.8ZM145.3 391.2L146.6 389.9L147.9 391.2L146.6 392.5ZM145.2 391.5L146.5 390.2L147.8 391.5L146.5 392.8Z" fill="#000" clip-path="url(#c6)"/>
<path d="M81.8 392.1L83.1 390.8L84.4 392.1L83.1 393.4ZM81.8 392.4L83.1 391.1L84.4 392.4L83.1 393.7ZM81.8 393.2L83.1 391.9L84.4 393.2L83.1 394.5ZM82.6 393.1L83.9 391.8L85.2 393.1L83.9 394.4ZM83.7 393.9L85.0 392.6L86.3 393.9L85.0 395.2ZM82.7 393.5L84.0 392.2L85.3 393.5L84.0 394.8ZM84.1 395.2L85.4 393.9L86.7 395.2L85.4 396.5ZM85.6 394.6L86.9 393.3L88.2 394.6L86.9 395.9ZM84.1 395.4L85.4 394.1L86.7 395.4L85.4 396.7ZM85.5 395.2L86.8 393.9L88.1 395.2L86.8 396.5ZM86.7 395.5L88.0 394.2L89.3 395.5L88.0 396.8ZM86.7 396.4L88.0 395.1L89.3 396.4L88.0 397.7ZM86.9 395.5L88.2 394.2L89.5 395.5L88.2 396.8ZM88.3 395.4L89.6 394.1L90.9 395.4L89.6 396.7ZM87.5 397.1L88.8 395.8L90.1 397.1L88.8 398.4ZM87.5 397.4L88.8 396.1L90.1 397.4L88.8 398.7ZM89.3 396.8L90.6 395.5L91.9 396.8L90.6 398.1ZM88.8 397.8L90.1 396.5L91.4 397.8L90.1 399.1ZM89.7 397.5L91.0 396.2L92.3 397.5L91.0 398.8Z" fill="#000" clip-path="url(#c6)"/>
<path d="M88.5 394.9L89.7 393.6L91.0 394.9L89.7 396.1ZM88.2 396.2L89.5 394.9L90.7 396.2L89.5 397.4ZM88.7 396.4L90.0 395.1L91.2 396.4L90.0 397.6ZM88.6 397.4L89.9 396.2L91.1 397.4L89.9 398.7ZM90.3 397.1L91.6 395.8L92.8 397.1L91.6 398.3ZM89.8 399.0L91.0 397.7L92.3 399.0L91.0 400.2ZM91.3 399.3L92.5 398.0L93.8 399.3L92.5 400.5ZM90.3 400.0L91.6 398.7L92.8 400.0L91.6 401.2ZM92.5 401.0L93.7 399.8L95.0 401.0L93.7 402.3ZM92.4 399.9L93.6 398.7L94.9 399.9L93.6 401.2ZM93.1 400.8L94.3 399.5L95.6 400.8L94.3 402.0ZM93.2 402.7L94.4 401.4L95.7 402.7L94.4 403.9ZM93.7 401.8L95.0 400.5L96.2 401.8L95.0 403.0ZM93.4 403.8L94.6 402.5L95.9 403.8L94.6 405.0ZM93.5 403.9L94.8 402.6L96.0 403.9L94.8 405.1ZM94.4 403.8L95.6 402.5L96.9 403.8L95.6 405.0ZM95.2 404.3L96.4 403.0L97.7 404.3L96.4 405.5ZM94.6 405.6L95.9 404.3L97.1 405.6L95.9 406.8ZM95.8 406.5L97.0 405.2L98.2 406.5L97.0 407.8Z" fill="#000" clip-path="url(#c6)"/>
<path d="M112.4 416.6L113.6 415.4L114.9 416.6L113.6 417.9ZM113.8 418.4L115.1 417.2L116.3 418.4L115.1 419.7ZM114.9 417.6L116.1 416.4L117.4 417.6L116.1 418.9ZM114.4 418.4L115.7 417.2L116.9 418.4L115.7 419.7ZM115.2 419.2L116.5 418.0L117.7 419.2L116.5 420.5ZM116.3 419.4L117.6 418.2L118.8 419.4L117.6 420.7ZM115.0 420.5L116.2 419.3L117.5 420.5L116.2 421.8ZM115.6 420.8L116.9 419.6L118.1 420.8L116.9 422.1ZM116.8 421.8L118.0 420.6L119.3 421.8L118.0 423.1ZM117.5 421.3L118.7 420.1L120.0 421.3L118.7 422.6ZM117.5 421.3L118.7 420.1L120.0 421.3L118.7 422.6ZM118.1 421.8L119.3 420.6L120.6 421.8L119.3 423.1ZM119.2 420.7L120.4 419.4L121.7 420.7L120.4 421.9ZM119.2 421.2L120.5 420.0L121.7 421.2L120.5 422.5ZM120.8 420.5L122.1 419.3L123.3 420.5L122.1 421.8ZM121.3 421.1L122.6 419.9L123.8 421.1L122.6 422.4ZM120.7 420.8L121.9 419.6L123.2 420.8L121.9 422.1ZM121.3 419.4L122.5 418.2L123.8 419.4L122.5 420.7ZM122.9 419.3L124.1 418.1L125.4 419.3L124.1 420.6ZM123.2 419.5L124.5 418.2L125.8 419.5L124.5 420.8Z" fill="#000" clip-path="url(#c6)"/>
<path d="M139.6 397.0L140.8 395.8L142.0 397.0L140.8 398.2ZM138.9 397.1L140.1 395.9L141.3 397.1L140.1 398.3ZM138.9 396.5L140.1 395.3L141.3 396.5L140.1 397.7ZM139.4 394.8L140.6 393.6L141.8 394.8L140.6 396.0ZM141.7 395.4L142.9 394.2L144.1 395.4L142.9 396.6ZM140.7 393.7L141.9 392.5L143.1 393.7L141.9 394.9ZM142.7 394.3L143.9 393.1L145.1 394.3L143.9 395.5ZM142.9 392.7L144.1 391.5L145.3 392.7L144.1 393.9ZM143.0 392.5L144.2 391.3L145.4 392.5L144.2 393.7ZM142.8 391.8L144.0 390.6L145.2 391.8L144.0 393.0ZM143.8 391.5L145.0 390.3L146.2 391.5L145.0 392.7Z" fill="#000" clip-path="url(#c6)"/>
<path d="M83.5 399.9L84.8 398.6L86.1 399.9L84.8 401.2ZM117.4 423.3L118.7 422.0L120.0 423.3L118.7 424.6ZM122.3 422.7L123.6 421.4L124.9 422.7L123.6 424.0ZM143.3 399.2L144.6 397.9L145.9 399.2L144.6 400.5ZM145.7 393.7L147.0 392.4L148.3 393.7L147.0 395.0ZM94.6 404.8L95.9 403.5L97.2 404.8L95.9 406.1ZM95.2 406.0L96.5 404.7L97.8 406.0L96.5 407.3Z" fill="#000" clip-path="url(#c6)"/>
<path d="M154.0 394.2L155.4 392.8L156.8 394.2L155.4 395.6ZM154.7 410.2L156.1 408.8L157.5 410.2L156.1 411.6ZM155.4 414.4L156.8 413.0L158.2 414.4L156.8 415.8ZM156.1 417.8L157.5 416.4L158.9 417.8L157.5 419.2ZM156.8 422.7L158.2 421.3L159.6 422.7L158.2 424.1ZM157.5 412.3L158.9 410.9L160.3 412.3L158.9 413.7ZM158.9 416.4L160.3 415.0L161.7 416.4L160.3 417.8ZM160.3 430.4L161.7 429.0L163.1 430.4L161.7 431.8ZM161.0 434.5L162.4 433.1L163.8 434.5L162.4 435.9ZM161.7 431.7L163.1 430.3L164.5 431.7L163.1 433.1ZM163.1 417.8L164.5 416.4L165.9 417.8L164.5 419.2ZM163.8 421.3L165.2 419.9L166.6 421.3L165.2 422.7ZM164.5 424.8L165.9 423.4L167.3 424.8L165.9 426.2ZM165.2 413.7L166.6 412.3L168.0 413.7L166.6 415.1ZM165.9 408.1L167.3 406.7L168.7 408.1L167.3 409.5ZM167.3 410.9L168.7 409.5L170.1 410.9L168.7 412.3ZM168.0 416.4L169.4 415.0L170.8 416.4L169.4 417.8ZM168.6 419.2L170.0 417.8L171.4 419.2L170.0 420.6ZM169.3 412.3L170.7 410.9L172.1 412.3L170.7 413.7ZM170.7 415.0L172.1 413.6L173.5 415.0L172.1 416.4ZM171.4 419.2L172.8 417.8L174.2 419.2L172.8 420.6ZM172.1 434.5L173.5 433.1L174.9 434.5L173.5 435.9ZM172.8 424.8L174.2 423.4L175.6 424.8L174.2 426.2ZM174.2 426.2L175.6 424.8L177.0 426.2L175.6 427.6ZM175.6 427.6L177.0 426.2L178.4 427.6L177.0 429.0ZM176.3 429.0L177.7 427.6L179.1 429.0L177.7 430.4ZM177.0 424.8L178.4 423.4L179.8 424.8L178.4 426.2ZM178.4 431.7L179.8 430.3L181.2 431.7L179.8 433.1ZM178.4 441.5L179.8 440.1L181.2 441.5L179.8 442.9ZM179.8 429.0L181.2 427.6L182.6 429.0L181.2 430.4ZM180.5 435.9L181.9 434.5L183.3 435.9L181.9 437.3ZM181.2 431.7L182.6 430.3L184.0 431.7L182.6 433.1ZM182.6 438.7L184.0 437.3L185.4 438.7L184.0 440.1ZM183.3 433.1L184.7 431.7L186.1 433.1L184.7 434.5ZM184.0 442.9L185.4 441.5L186.8 442.9L185.4 444.3ZM184.7 444.3L186.1 442.9L187.5 444.3L186.1 445.7ZM185.3 440.1L186.7 438.7L188.1 440.1L186.7 441.5ZM186.7 434.5L188.1 433.1L189.5 434.5L188.1 435.9ZM176.3 449.8L177.7 448.4L179.1 449.8L177.7 451.2ZM177.0 455.4L178.4 454.0L179.8 455.4L178.4 456.8ZM154.3 393.6L155.7 392.2L157.1 393.6L155.7 395.0ZM153.7 392.7L155.1 391.3L156.5 392.7L155.1 394.1ZM155.7 410.8L157.1 409.4L158.5 410.8L157.1 412.2ZM155.6 409.9L157.0 408.5L158.4 409.9L157.0 411.3ZM156.5 414.5L157.9 413.1L159.3 414.5L157.9 415.9ZM155.7 414.7L157.1 413.3L158.5 414.7L157.1 416.1ZM156.8 417.4L158.2 416.0L159.6 417.4L158.2 418.8ZM154.9 415.9L156.3 414.5L157.7 415.9L156.3 417.3ZM155.9 420.9L157.3 419.5L158.7 420.9L157.3 422.3ZM158.0 422.6L159.4 421.2L160.8 422.6L159.4 424.0ZM158.3 410.3L159.7 408.9L161.1 410.3L159.7 411.7ZM157.4 413.9L158.8 412.5L160.2 413.9L158.8 415.3ZM159.3 416.1L160.7 414.7L162.1 416.1L160.7 417.5ZM158.8 414.8L160.2 413.4L161.6 414.8L160.2 416.2ZM159.3 429.0L160.7 427.6L162.1 429.0L160.7 430.4ZM159.9 429.9L161.3 428.5L162.7 429.9L161.3 431.3ZM162.1 433.1L163.5 431.7L164.9 433.1L163.5 434.5ZM160.3 433.6L161.7 432.2L163.1 433.6L161.7 435.0ZM160.7 430.8L162.1 429.4L163.5 430.8L162.1 432.2ZM160.9 431.6L162.3 430.2L163.7 431.6L162.3 433.0ZM161.7 419.5L163.1 418.1L164.5 419.5L163.1 420.9ZM162.7 419.6L164.1 418.2L165.5 419.6L164.1 421.0ZM164.4 422.0L165.8 420.6L167.2 422.0L165.8 423.4ZM163.7 423.1L165.1 421.7L166.5 423.1L165.1 424.5ZM163.4 425.5L164.8 424.1L166.2 425.5L164.8 426.9ZM163.9 425.5L165.3 424.1L166.7 425.5L165.3 426.9ZM165.9 412.4L167.3 411.0L168.7 412.4L167.3 413.8ZM164.3 411.8L165.7 410.4L167.1 411.8L165.7 413.2ZM165.1 406.4L166.5 405.0L167.9 406.4L166.5 407.8ZM165.6 410.0L167.0 408.6L168.4 410.0L167.0 411.4ZM166.9 410.1L168.3 408.7L169.7 410.1L168.3 411.5ZM167.2 410.0L168.6 408.6L170.0 410.0L168.6 411.4ZM168.7 417.3L170.1 415.9L171.5 417.3L170.1 418.7ZM167.0 415.4L168.4 414.0L169.8 415.4L168.4 416.8ZM169.1 421.0L170.5 419.6L171.9 421.0L170.5 422.4ZM169.0 418.9L170.4 417.5L171.8 418.9L170.4 420.3ZM170.7 410.3L172.1 408.9L173.5 410.3L172.1 411.7ZM168.0 413.4L169.4 412.0L170.8 413.4L169.4 414.8ZM170.4 413.2L171.8 411.8L173.2 413.2L171.8 414.6ZM170.8 417.0L172.2 415.6L173.6 417.0L172.2 418.4ZM171.5 418.6L172.9 417.2L174.3 418.6L172.9 420.0ZM170.2 417.5L171.6 416.1L173.0 417.5L171.6 418.9ZM173.3 434.5L174.7 433.1L176.1 434.5L174.7 435.9ZM173.4 432.7L174.8 431.3L176.2 432.7L174.8 434.1ZM172.0 423.0L173.4 421.6L174.8 423.0L173.4 424.4ZM172.5 423.0L173.9 421.6L175.3 423.0L173.9 424.4ZM173.5 425.8L174.9 424.4L176.3 425.8L174.9 427.2ZM173.6 424.4L175.0 423.0L176.4 424.4L175.0 425.8ZM174.2 429.5L175.6 428.1L177.0 429.5L175.6 430.9ZM174.6 427.6L176.0 426.2L177.4 427.6L176.0 429.0ZM176.0 429.1L177.4 427.7L178.8 429.1L177.4 430.5ZM175.1 428.3L176.5 426.9L177.9 428.3L176.5 429.7ZM175.8 425.0L177.2 423.6L178.6 425.0L177.2 426.4ZM178.3 425.2L179.7 423.8L181.1 425.2L179.7 426.6ZM179.5 430.6L180.9 429.2L182.3 430.6L180.9 432.0ZM177.0 431.9L178.4 430.5L179.8 431.9L178.4 433.3ZM178.4 441.8L179.8 440.4L181.2 441.8L179.8 443.2ZM178.0 442.0L179.4 440.6L180.8 442.0L179.4 443.4ZM180.5 430.7L181.9 429.3L183.3 430.7L181.9 432.1ZM179.2 428.8L180.6 427.4L182.0 428.8L180.6 430.2ZM181.5 434.8L182.9 433.4L184.3 434.8L182.9 436.2ZM179.3 435.1L180.7 433.7L182.1 435.1L180.7 436.5ZM180.0 432.8L181.4 431.4L182.8 432.8L181.4 434.2ZM182.2 431.0L183.6 429.6L185.0 431.0L183.6 432.4ZM181.5 437.0L182.9 435.6L184.3 437.0L182.9 438.4ZM181.8 437.0L183.2 435.6L184.6 437.0L183.2 438.4ZM183.1 433.4L184.5 432.0L185.9 433.4L184.5 434.8ZM182.5 431.3L183.9 429.9L185.3 431.3L183.9 432.7ZM184.6 441.1L186.0 439.7L187.4 441.1L186.0 442.5ZM183.1 442.0L184.5 440.6L185.9 442.0L184.5 443.4ZM184.3 442.7L185.7 441.3L187.1 442.7L185.7 444.1ZM184.5 443.6L185.9 442.2L187.3 443.6L185.9 445.0ZM186.1 440.3L187.5 438.9L188.9 440.3L187.5 441.7ZM186.5 440.7L187.9 439.3L189.3 440.7L187.9 442.1ZM187.5 434.8L188.9 433.4L190.3 434.8L188.9 436.2ZM186.5 435.8L187.9 434.4L189.3 435.8L187.9 437.2ZM176.8 451.6L178.2 450.2L179.6 451.6L178.2 453.0ZM177.0 450.6L178.4 449.2L179.8 450.6L178.4 452.0ZM176.3 456.6L177.7 455.2L179.1 456.6L177.7 458.0ZM176.6 453.9L178.0 452.5L179.4 453.9L178.0 455.3Z" fill="#000" clip-path="url(#c6)"/>
<path d="M459.4 431.3L460.8 429.9L462.2 431.3L460.8 432.7ZM460.7 435.2L462.1 433.8L463.5 435.2L462.1 436.6ZM462.1 430.0L463.5 428.6L464.9 430.0L463.5 431.4ZM463.4 433.9L464.8 432.5L466.2 433.9L464.8 435.3ZM465.3 440.4L466.7 439.0L468.1 440.4L466.7 441.8ZM466.0 445.7L467.4 444.3L468.8 445.7L467.4 447.1ZM465.3 452.9L466.7 451.5L468.1 452.9L466.7 454.3ZM467.9 436.5L469.3 435.1L470.7 436.5L469.3 437.9ZM458.9 431.0L460.3 429.6L461.7 431.0L460.3 432.4ZM459.6 435.5L461.0 434.1L462.4 435.5L461.0 436.9ZM461.1 429.5L462.5 428.1L463.9 429.5L462.5 430.9ZM462.6 432.5L464.0 431.1L465.4 432.5L464.0 433.9ZM464.1 437.0L465.5 435.6L466.9 437.0L465.5 438.4ZM465.6 440.0L467.0 438.6L468.4 440.0L467.0 441.4ZM465.6 453.5L467.0 452.1L468.4 453.5L467.0 454.9ZM467.1 446.0L468.5 444.6L469.9 446.0L468.5 447.4ZM468.6 444.5L470.0 443.1L471.4 444.5L470.0 445.9ZM470.1 441.5L471.5 440.1L472.9 441.5L471.5 442.9ZM471.6 438.5L473.0 437.1L474.4 438.5L473.0 439.9ZM473.1 435.5L474.5 434.1L475.9 435.5L474.5 436.9ZM474.6 434.0L476.0 432.6L477.4 434.0L476.0 435.4ZM476.1 440.0L477.5 438.6L478.9 440.0L477.5 441.4ZM476.9 444.5L478.3 443.1L479.7 444.5L478.3 445.9ZM478.4 435.5L479.8 434.1L481.2 435.5L479.8 436.9ZM479.9 434.0L481.3 432.6L482.7 434.0L481.3 435.4ZM481.4 437.0L482.8 435.6L484.2 437.0L482.8 438.4ZM483.6 435.5L485.0 434.1L486.4 435.5L485.0 436.9ZM484.4 443.0L485.8 441.6L487.2 443.0L485.8 444.4ZM485.9 446.0L487.3 444.6L488.7 446.0L487.3 447.4ZM486.6 449.0L488.0 447.6L489.4 449.0L488.0 450.4ZM487.4 441.5L488.8 440.1L490.2 441.5L488.8 442.9ZM488.9 438.5L490.3 437.1L491.7 438.5L490.3 439.9ZM490.4 434.0L491.8 432.6L493.2 434.0L491.8 435.4ZM491.9 429.5L493.3 428.1L494.7 429.5L493.3 430.9ZM493.4 432.5L494.8 431.1L496.2 432.5L494.8 433.9ZM494.9 437.0L496.3 435.6L497.7 437.0L496.3 438.4ZM496.4 434.0L497.8 432.6L499.2 434.0L497.8 435.4ZM497.9 441.5L499.3 440.1L500.7 441.5L499.3 442.9ZM498.6 437.0L500.0 435.6L501.4 437.0L500.0 438.4ZM500.1 452.0L501.5 450.6L502.9 452.0L501.5 453.4ZM500.1 456.5L501.5 455.1L502.9 456.5L501.5 457.9ZM500.9 431.0L502.3 429.6L503.7 431.0L502.3 432.4ZM502.4 435.5L503.8 434.1L505.2 435.5L503.8 436.9ZM503.9 432.5L505.3 431.1L506.7 432.5L505.3 433.9ZM504.6 423.5L506.0 422.1L507.4 423.5L506.0 424.9ZM506.1 428.0L507.5 426.6L508.9 428.0L507.5 429.4ZM506.9 440.0L508.3 438.6L509.7 440.0L508.3 441.4ZM508.4 431.0L509.8 429.6L511.2 431.0L509.8 432.4ZM509.9 423.5L511.3 422.1L512.7 423.5L511.3 424.9ZM511.4 415.3L512.8 413.9L514.2 415.3L512.8 416.7ZM512.9 413.0L514.3 411.6L515.7 413.0L514.3 414.4ZM514.4 408.5L515.8 407.1L517.2 408.5L515.8 409.9ZM515.9 405.5L517.3 404.1L518.7 405.5L517.3 406.9ZM517.4 401.0L518.8 399.6L520.2 401.0L518.8 402.4ZM518.1 396.5L519.5 395.1L520.9 396.5L519.5 397.9ZM519.6 392.8L521.0 391.4L522.4 392.8L521.0 394.2ZM530.1 396.5L531.5 395.1L532.9 396.5L531.5 397.9ZM531.6 399.5L533.0 398.1L534.4 399.5L533.0 400.9ZM530.9 403.3L532.3 401.9L533.7 403.3L532.3 404.7ZM533.1 411.5L534.5 410.1L535.9 411.5L534.5 412.9ZM533.9 414.5L535.3 413.1L536.7 414.5L535.3 415.9ZM534.6 426.5L536.0 425.1L537.4 426.5L536.0 427.9ZM535.4 431.8L536.8 430.4L538.2 431.8L536.8 433.2ZM536.1 421.3L537.5 419.9L538.9 421.3L537.5 422.7ZM537.6 420.5L539.0 419.1L540.4 420.5L539.0 421.9ZM538.4 413.0L539.8 411.6L541.2 413.0L539.8 414.4ZM540.6 410.0L542.0 408.6L543.4 410.0L542.0 411.4ZM542.1 407.0L543.5 405.6L544.9 407.0L543.5 408.4ZM542.9 401.0L544.3 399.6L545.7 401.0L544.3 402.4ZM543.6 413.0L545.0 411.6L546.4 413.0L545.0 414.4ZM544.4 396.5L545.8 395.1L547.2 396.5L545.8 397.9ZM458.1 430.0L459.5 428.6L460.9 430.0L459.5 431.4ZM458.7 432.0L460.1 430.6L461.5 432.0L460.1 433.4ZM460.1 433.5L461.5 432.1L462.9 433.5L461.5 434.9ZM461.5 435.4L462.9 434.0L464.3 435.4L462.9 436.8ZM460.7 428.2L462.1 426.8L463.5 428.2L462.1 429.6ZM461.0 429.4L462.4 428.0L463.8 429.4L462.4 430.8ZM464.5 435.7L465.9 434.3L467.3 435.7L465.9 437.1ZM463.7 432.8L465.1 431.4L466.5 432.8L465.1 434.2ZM465.1 439.8L466.5 438.4L467.9 439.8L466.5 441.2ZM464.8 438.4L466.2 437.0L467.6 438.4L466.2 439.8ZM466.3 447.0L467.7 445.6L469.1 447.0L467.7 448.4ZM466.7 444.1L468.1 442.7L469.5 444.1L468.1 445.5ZM465.4 451.6L466.8 450.2L468.2 451.6L466.8 453.0ZM465.9 452.7L467.3 451.3L468.7 452.7L467.3 454.1ZM469.2 437.7L470.6 436.3L472.0 437.7L470.6 439.1ZM466.8 435.8L468.2 434.4L469.6 435.8L468.2 437.2ZM460.1 430.8L461.5 429.4L462.9 430.8L461.5 432.2ZM458.7 430.8L460.1 429.4L461.5 430.8L460.1 432.2ZM460.4 437.2L461.8 435.8L463.2 437.2L461.8 438.6ZM459.7 437.4L461.1 436.0L462.5 437.4L461.1 438.8ZM461.4 427.9L462.8 426.5L464.2 427.9L462.8 429.3ZM462.0 429.2L463.4 427.8L464.8 429.2L463.4 430.6ZM461.3 434.4L462.7 433.0L464.1 434.4L462.7 435.8ZM461.2 432.8L462.6 431.4L464.0 432.8L462.6 434.2ZM464.0 438.5L465.4 437.1L466.8 438.5L465.4 439.9ZM463.8 435.9L465.2 434.5L466.6 435.9L465.2 437.3ZM464.9 438.8L466.3 437.4L467.7 438.8L466.3 440.2ZM465.8 439.4L467.2 438.0L468.6 439.4L467.2 440.8ZM466.4 452.5L467.8 451.1L469.2 452.5L467.8 453.9ZM465.2 452.5L466.6 451.1L468.0 452.5L466.6 453.9ZM468.5 447.4L469.9 446.0L471.3 447.4L469.9 448.8ZM468.1 446.5L469.5 445.1L470.9 446.5L469.5 447.9ZM468.3 443.1L469.7 441.7L471.1 443.1L469.7 444.5ZM469.6 444.5L471.0 443.1L472.4 444.5L471.0 445.9ZM468.7 440.2L470.1 438.8L471.5 440.2L470.1 441.6ZM468.9 442.4L470.3 441.0L471.7 442.4L470.3 443.8ZM472.8 437.3L474.2 435.9L475.6 437.3L474.2 438.7ZM472.5 437.8L473.9 436.4L475.3 437.8L473.9 439.2ZM473.6 437.0L475.0 435.6L476.4 437.0L475.0 438.4ZM473.5 436.7L474.9 435.3L476.3 436.7L474.9 438.1ZM474.2 432.0L475.6 430.6L477.0 432.0L475.6 433.4ZM474.6 434.3L476.0 432.9L477.4 434.3L476.0 435.7ZM475.2 439.6L476.6 438.2L478.0 439.6L476.6 441.0ZM475.6 438.1L477.0 436.7L478.4 438.1L477.0 439.5ZM476.3 444.0L477.7 442.6L479.1 444.0L477.7 445.4ZM476.8 445.3L478.2 443.9L479.6 445.3L478.2 446.7ZM478.1 437.4L479.5 436.0L480.9 437.4L479.5 438.8ZM479.3 437.2L480.7 435.8L482.1 437.2L480.7 438.6ZM480.5 434.7L481.9 433.3L483.3 434.7L481.9 436.1ZM480.0 435.2L481.4 433.8L482.8 435.2L481.4 436.6ZM481.0 437.4L482.4 436.0L483.8 437.4L482.4 438.8ZM481.9 437.1L483.3 435.7L484.7 437.1L483.3 438.5ZM483.0 433.8L484.4 432.4L485.8 433.8L484.4 435.2ZM482.4 434.9L483.8 433.5L485.2 434.9L483.8 436.3ZM484.6 444.0L486.0 442.6L487.4 444.0L486.0 445.4ZM485.0 442.2L486.4 440.8L487.8 442.2L486.4 443.6ZM487.2 445.1L488.6 443.7L490.0 445.1L488.6 446.5ZM486.5 444.3L487.9 442.9L489.3 444.3L487.9 445.7ZM487.4 449.7L488.8 448.3L490.2 449.7L488.8 451.1ZM488.0 450.6L489.4 449.2L490.8 450.6L489.4 452.0ZM488.0 442.9L489.4 441.5L490.8 442.9L489.4 444.3ZM488.1 441.9L489.5 440.5L490.9 441.9L489.5 443.3ZM488.0 438.6L489.4 437.2L490.8 438.6L489.4 440.0ZM490.1 437.5L491.5 436.1L492.9 437.5L491.5 438.9ZM491.8 434.2L493.2 432.8L494.6 434.2L493.2 435.6ZM490.1 432.0L491.5 430.6L492.9 432.0L491.5 433.4ZM491.6 428.2L493.0 426.8L494.4 428.2L493.0 429.6ZM492.4 431.1L493.8 429.7L495.2 431.1L493.8 432.5ZM494.6 433.0L496.0 431.6L497.4 433.0L496.0 434.4ZM493.1 430.9L494.5 429.5L495.9 430.9L494.5 432.3ZM495.5 437.2L496.9 435.8L498.3 437.2L496.9 438.6ZM495.5 436.5L496.9 435.1L498.3 436.5L496.9 437.9ZM497.6 432.9L499.0 431.5L500.4 432.9L499.0 434.3ZM495.8 433.1L497.2 431.7L498.6 433.1L497.2 434.5ZM498.3 443.1L499.7 441.7L501.1 443.1L499.7 444.5ZM496.9 442.0L498.3 440.6L499.7 442.0L498.3 443.4ZM499.4 435.9L500.8 434.5L502.2 435.9L500.8 437.3ZM497.3 437.3L498.7 435.9L500.1 437.3L498.7 438.7ZM501.1 453.5L502.5 452.1L503.9 453.5L502.5 454.9ZM500.8 451.7L502.2 450.3L503.6 451.7L502.2 453.1ZM499.9 456.6L501.3 455.2L502.7 456.6L501.3 458.0ZM501.3 455.7L502.7 454.3L504.1 455.7L502.7 457.1ZM500.2 431.4L501.6 430.0L503.0 431.4L501.6 432.8ZM502.3 429.7L503.7 428.3L505.1 429.7L503.7 431.1ZM501.0 434.0L502.4 432.6L503.8 434.0L502.4 435.4ZM502.6 435.9L504.0 434.5L505.4 435.9L504.0 437.3ZM503.0 431.3L504.4 429.9L505.8 431.3L504.4 432.7ZM504.2 433.1L505.6 431.7L507.0 433.1L505.6 434.5ZM505.2 424.4L506.6 423.0L508.0 424.4L506.6 425.8ZM503.3 423.4L504.7 422.0L506.1 423.4L504.7 424.8ZM507.1 429.8L508.5 428.4L509.9 429.8L508.5 431.2ZM505.6 429.4L507.0 428.0L508.4 429.4L507.0 430.8ZM507.3 441.7L508.7 440.3L510.1 441.7L508.7 443.1ZM506.1 440.8L507.5 439.4L508.9 440.8L507.5 442.2ZM509.4 430.9L510.8 429.5L512.2 430.9L510.8 432.3ZM507.2 429.8L508.6 428.4L510.0 429.8L508.6 431.2ZM508.9 421.9L510.3 420.5L511.7 421.9L510.3 423.3ZM508.9 424.0L510.3 422.6L511.7 424.0L510.3 425.4ZM510.2 416.3L511.6 414.9L513.0 416.3L511.6 417.7ZM512.1 416.6L513.5 415.2L514.9 416.6L513.5 418.0ZM513.8 413.9L515.2 412.5L516.6 413.9L515.2 415.3ZM514.2 414.8L515.6 413.4L517.0 414.8L515.6 416.2ZM514.8 410.4L516.2 409.0L517.6 410.4L516.2 411.8ZM513.2 406.9L514.6 405.5L516.0 406.9L514.6 408.3ZM514.6 404.3L516.0 402.9L517.4 404.3L516.0 405.7ZM515.5 405.3L516.9 403.9L518.3 405.3L516.9 406.7ZM517.9 402.0L519.3 400.6L520.7 402.0L519.3 403.4ZM516.2 400.6L517.6 399.2L519.0 400.6L517.6 402.0ZM518.2 396.0L519.6 394.6L521.0 396.0L519.6 397.4ZM517.0 396.9L518.4 395.5L519.8 396.9L518.4 398.3ZM519.2 393.5L520.6 392.1L522.0 393.5L520.6 394.9ZM519.6 394.7L521.0 393.3L522.4 394.7L521.0 396.1ZM531.4 394.8L532.8 393.4L534.2 394.8L532.8 396.2ZM530.9 397.4L532.3 396.0L533.7 397.4L532.3 398.8ZM531.0 398.0L532.4 396.6L533.8 398.0L532.4 399.4ZM531.5 398.9L532.9 397.5L534.3 398.9L532.9 400.3ZM531.6 405.0L533.0 403.6L534.4 405.0L533.0 406.4ZM530.5 402.5L531.9 401.1L533.3 402.5L531.9 403.9ZM533.1 412.3L534.5 410.9L535.9 412.3L534.5 413.7ZM534.0 411.8L535.4 410.4L536.8 411.8L535.4 413.2ZM533.3 413.8L534.7 412.4L536.1 413.8L534.7 415.2ZM534.9 414.6L536.3 413.2L537.7 414.6L536.3 416.0ZM533.3 426.2L534.7 424.8L536.1 426.2L534.7 427.6ZM533.8 427.2L535.2 425.8L536.6 427.2L535.2 428.6ZM534.1 430.9L535.5 429.5L536.9 430.9L535.5 432.3ZM534.2 431.7L535.6 430.3L537.0 431.7L535.6 433.1ZM537.6 421.5L539.0 420.1L540.4 421.5L539.0 422.9ZM535.8 423.0L537.2 421.6L538.6 423.0L537.2 424.4ZM536.4 419.9L537.8 418.5L539.2 419.9L537.8 421.3ZM538.5 418.5L539.9 417.1L541.3 418.5L539.9 419.9ZM539.2 412.4L540.6 411.0L542.0 412.4L540.6 413.8ZM536.9 412.0L538.3 410.6L539.7 412.0L538.3 413.4ZM540.5 409.5L541.9 408.1L543.3 409.5L541.9 410.9ZM540.7 408.2L542.1 406.8L543.5 408.2L542.1 409.6ZM541.3 408.9L542.7 407.5L544.1 408.9L542.7 410.3ZM541.9 406.9L543.3 405.5L544.7 406.9L543.3 408.3ZM541.7 400.1L543.1 398.7L544.5 400.1L543.1 401.5ZM544.3 401.7L545.7 400.3L547.1 401.7L545.7 403.1ZM543.6 411.2L545.0 409.8L546.4 411.2L545.0 412.6ZM543.3 414.1L544.7 412.7L546.1 414.1L544.7 415.5ZM544.2 396.9L545.6 395.5L547.0 396.9L545.6 398.3ZM545.6 397.1L547.0 395.7L548.4 397.1L547.0 398.5Z" fill="#000" clip-path="url(#c6)"/>
<path d="M508.7 420.4L510.0 419.1L511.2 420.4L510.0 421.6ZM508.2 420.8L509.4 419.6L510.7 420.8L509.4 422.1ZM509.0 420.4L510.3 419.1L511.5 420.4L510.3 421.6ZM509.9 419.9L511.2 418.6L512.4 419.9L511.2 421.1ZM509.6 419.4L510.8 418.2L512.1 419.4L510.8 420.7ZM510.4 418.7L511.7 417.4L512.9 418.7L511.7 419.9ZM509.9 418.0L511.1 416.7L512.4 418.0L511.1 419.2ZM510.5 417.7L511.8 416.4L513.0 417.7L511.8 418.9ZM511.6 416.0L512.9 414.8L514.1 416.0L512.9 417.3ZM511.1 415.5L512.4 414.3L513.6 415.5L512.4 416.8ZM511.5 415.0L512.8 413.8L514.0 415.0L512.8 416.3ZM512.0 414.2L513.3 413.0L514.5 414.2L513.3 415.5ZM511.6 414.1L512.8 412.9L514.1 414.1L512.8 415.4ZM511.7 413.4L513.0 412.2L514.2 413.4L513.0 414.7ZM513.1 413.6L514.4 412.3L515.6 413.6L514.4 414.8ZM512.4 411.8L513.6 410.5L514.9 411.8L513.6 413.0ZM513.5 412.5L514.8 411.3L516.0 412.5L514.8 413.8ZM513.4 410.8L514.7 409.6L515.9 410.8L514.7 412.1ZM513.2 411.4L514.4 410.1L515.7 411.4L514.4 412.6ZM514.4 409.5L515.7 408.3L516.9 409.5L515.7 410.8ZM513.6 409.5L514.9 408.3L516.1 409.5L514.9 410.8ZM514.0 409.4L515.2 408.2L516.5 409.4L515.2 410.7ZM514.4 408.9L515.6 407.6L516.9 408.9L515.6 410.1ZM514.3 407.9L515.5 406.7L516.8 407.9L515.5 409.2ZM515.7 407.6L516.9 406.4L518.2 407.6L516.9 408.9ZM514.7 406.2L515.9 405.0L517.2 406.2L515.9 407.5ZM515.7 406.0L516.9 404.8L518.2 406.0L516.9 407.3ZM515.5 405.6L516.8 404.3L518.0 405.6L516.8 406.8ZM516.0 405.7L517.3 404.4L518.5 405.7L517.3 406.9ZM515.8 404.6L517.1 403.3L518.3 404.6L517.1 405.8ZM516.1 403.9L517.3 402.7L518.6 403.9L517.3 405.2ZM517.0 402.8L518.2 401.5L519.5 402.8L518.2 404.0ZM516.8 403.0L518.1 401.8L519.3 403.0L518.1 404.3ZM516.4 402.5L517.6 401.3L518.9 402.5L517.6 403.8ZM517.2 401.6L518.5 400.3L519.7 401.6L518.5 402.8ZM517.7 401.4L519.0 400.2L520.2 401.4L519.0 402.7ZM517.1 400.4L518.3 399.2L519.6 400.4L518.3 401.7ZM517.2 399.7L518.5 398.4L519.7 399.7L518.5 400.9ZM517.8 398.5L519.1 397.3L520.3 398.5L519.1 399.8ZM517.9 398.6L519.2 397.3L520.4 398.6L519.2 399.8ZM518.6 398.6L519.9 397.4L521.1 398.6L519.9 399.9ZM518.4 397.5L519.6 396.2L520.9 397.5L519.6 398.7ZM519.0 397.5L520.3 396.2L521.5 397.5L520.3 398.7ZM519.5 396.9L520.8 395.7L522.0 396.9L520.8 398.2ZM518.8 395.2L520.0 393.9L521.3 395.2L520.0 396.4ZM519.8 394.5L521.1 393.2L522.3 394.5L521.1 395.7ZM519.3 394.8L520.6 393.5L521.8 394.8L520.6 396.0ZM519.6 393.7L520.9 392.5L522.1 393.7L520.9 395.0ZM520.3 393.0L521.6 391.8L522.8 393.0L521.6 394.3ZM520.0 393.1L521.2 391.9L522.5 393.1L521.2 394.4ZM519.6 391.9L520.8 390.6L522.1 391.9L520.8 393.1ZM520.2 391.5L521.5 390.2L522.8 391.5L521.5 392.8Z" fill="#000" clip-path="url(#c6)"/>
<path d="M187.5 415.1L188.8 413.8L190.1 415.1L188.8 416.4ZM187.1 415.4L188.4 414.1L189.7 415.4L188.4 416.7ZM186.9 415.3L188.2 414.0L189.5 415.3L188.2 416.6ZM187.4 415.9L188.7 414.6L190.0 415.9L188.7 417.2ZM188.6 416.6L189.9 415.3L191.2 416.6L189.9 417.9ZM187.5 417.9L188.8 416.6L190.1 417.9L188.8 419.2ZM188.3 417.5L189.6 416.2L190.9 417.5L189.6 418.8ZM188.5 418.6L189.8 417.3L191.1 418.6L189.8 419.9ZM187.9 419.1L189.2 417.8L190.5 419.1L189.2 420.4ZM187.7 419.0L189.0 417.7L190.3 419.0L189.0 420.3ZM188.8 419.8L190.1 418.5L191.4 419.8L190.1 421.1ZM189.0 418.9L190.3 417.6L191.6 418.9L190.3 420.2ZM187.8 418.2L189.1 416.9L190.4 418.2L189.1 419.5ZM189.0 418.7L190.3 417.4L191.6 418.7L190.3 420.0ZM187.9 417.3L189.2 416.0L190.5 417.3L189.2 418.6ZM189.4 417.7L190.7 416.4L192.0 417.7L190.7 419.0ZM189.6 416.4L190.9 415.1L192.2 416.4L190.9 417.7ZM189.2 416.1L190.5 414.8L191.8 416.1L190.5 417.4ZM189.6 416.5L190.9 415.2L192.2 416.5L190.9 417.8ZM189.5 415.4L190.8 414.1L192.1 415.4L190.8 416.7ZM190.2 414.8L191.5 413.5L192.8 414.8L191.5 416.1ZM188.9 415.3L190.2 414.0L191.5 415.3L190.2 416.6ZM189.3 414.5L190.6 413.2L191.9 414.5L190.6 415.8ZM190.4 415.8L191.7 414.5L193.0 415.8L191.7 417.1ZM191.5 416.2L192.8 414.9L194.1 416.2L192.8 417.5ZM190.5 416.4L191.8 415.1L193.1 416.4L191.8 417.7ZM192.3 415.8L193.6 414.5L194.9 415.8L193.6 417.1ZM192.4 416.4L193.7 415.1L195.0 416.4L193.7 417.7ZM192.0 416.4L193.3 415.1L194.6 416.4L193.3 417.7ZM193.0 417.6L194.3 416.3L195.6 417.6L194.3 418.9ZM193.6 417.9L194.9 416.6L196.2 417.9L194.9 419.2ZM192.6 417.9L193.9 416.6L195.2 417.9L193.9 419.2ZM193.1 419.6L194.4 418.3L195.7 419.6L194.4 420.9ZM193.3 418.5L194.6 417.2L195.9 418.5L194.6 419.8ZM193.8 419.0L195.1 417.7L196.4 419.0L195.1 420.3ZM194.1 420.3L195.4 419.0L196.7 420.3L195.4 421.6ZM194.8 420.0L196.1 418.7L197.4 420.0L196.1 421.3ZM194.1 421.1L195.4 419.8L196.7 421.1L195.4 422.4ZM195.3 421.4L196.6 420.1L197.9 421.4L196.6 422.7ZM195.3 422.7L196.6 421.4L197.9 422.7L196.6 424.0ZM194.7 421.1L196.0 419.8L197.3 421.1L196.0 422.4ZM195.3 421.1L196.6 419.8L197.9 421.1L196.6 422.4ZM196.1 420.7L197.4 419.4L198.7 420.7L197.4 422.0ZM195.8 420.0L197.1 418.7L198.4 420.0L197.1 421.3ZM196.1 420.3L197.4 419.0L198.7 420.3L197.4 421.6ZM195.3 418.6L196.6 417.3L197.9 418.6L196.6 419.9ZM195.3 418.5L196.6 417.2L197.9 418.5L196.6 419.8ZM196.5 417.9L197.8 416.6L199.1 417.9L197.8 419.2ZM196.1 418.1L197.4 416.8L198.7 418.1L197.4 419.4ZM196.8 416.7L198.1 415.4L199.4 416.7L198.1 418.0ZM196.5 416.6L197.8 415.3L199.1 416.6L197.8 417.9ZM195.5 416.7L196.8 415.4L198.1 416.7L196.8 418.0ZM196.8 416.1L198.1 414.8L199.4 416.1L198.1 417.4ZM195.5 416.3L196.8 415.0L198.1 416.3L196.8 417.6ZM196.2 415.3L197.5 414.0L198.8 415.3L197.5 416.6ZM196.8 414.2L198.1 412.9L199.4 414.2L198.1 415.5ZM196.4 413.9L197.7 412.6L199.0 413.9L197.7 415.2ZM195.9 413.0L197.2 411.7L198.5 413.0L197.2 414.3ZM197.4 413.8L198.7 412.5L200.0 413.8L198.7 415.1ZM198.1 413.5L199.4 412.2L200.7 413.5L199.4 414.8ZM197.5 413.9L198.8 412.6L200.1 413.9L198.8 415.2ZM199.0 415.2L200.3 413.9L201.6 415.2L200.3 416.5ZM199.4 415.0L200.7 413.7L202.0 415.0L200.7 416.3ZM198.3 415.3L199.6 414.0L200.9 415.3L199.6 416.6ZM198.8 415.0L200.1 413.7L201.4 415.0L200.1 416.3ZM199.7 415.8L201.0 414.5L202.3 415.8L201.0 417.1ZM199.2 416.6L200.5 415.3L201.8 416.6L200.5 417.9ZM200.9 417.8L202.2 416.5L203.5 417.8L202.2 419.1ZM200.4 416.7L201.7 415.4L203.0 416.7L201.7 418.0ZM201.3 417.1L202.6 415.8L203.9 417.1L202.6 418.4ZM201.1 417.5L202.4 416.2L203.7 417.5L202.4 418.8ZM202.2 418.7L203.5 417.4L204.8 418.7L203.5 420.0ZM201.6 418.6L202.9 417.3L204.2 418.6L202.9 419.9ZM202.0 420.2L203.3 418.9L204.6 420.2L203.3 421.5ZM202.1 419.3L203.4 418.0L204.7 419.3L203.4 420.6ZM202.5 420.9L203.8 419.6L205.1 420.9L203.8 422.2ZM202.6 420.8L203.9 419.5L205.2 420.8L203.9 422.1ZM203.9 420.0L205.2 418.7L206.5 420.0L205.2 421.3ZM204.2 420.1L205.5 418.8L206.8 420.1L205.5 421.4ZM203.4 419.0L204.7 417.7L206.0 419.0L204.7 420.3ZM205.2 419.4L206.5 418.1L207.8 419.4L206.5 420.7ZM204.8 419.9L206.1 418.6L207.4 419.9L206.1 421.2ZM205.3 418.8L206.6 417.5L207.9 418.8L206.6 420.1ZM205.1 418.8L206.4 417.5L207.7 418.8L206.4 420.1ZM205.4 417.9L206.7 416.6L208.0 417.9L206.7 419.2ZM206.5 417.8L207.8 416.5L209.1 417.8L207.8 419.1ZM205.8 416.7L207.1 415.4L208.4 416.7L207.1 418.0ZM207.0 417.2L208.3 415.9L209.6 417.2L208.3 418.5ZM206.3 417.2L207.6 415.9L208.9 417.2L207.6 418.5ZM206.7 415.4L208.0 414.1L209.3 415.4L208.0 416.7ZM206.9 415.5L208.2 414.2L209.5 415.5L208.2 416.8ZM208.1 415.9L209.4 414.6L210.7 415.9L209.4 417.2ZM207.6 415.2L208.9 413.9L210.2 415.2L208.9 416.5ZM207.8 414.6L209.1 413.3L210.4 414.6L209.1 415.9ZM208.4 413.8L209.7 412.5L211.0 413.8L209.7 415.1ZM208.3 414.1L209.6 412.8L210.9 414.1L209.6 415.4ZM208.9 414.1L210.2 412.8L211.5 414.1L210.2 415.4ZM209.8 413.9L211.1 412.6L212.4 413.9L211.1 415.2ZM210.8 413.7L212.1 412.4L213.4 413.7L212.1 415.0ZM211.7 414.4L213.0 413.1L214.3 414.4L213.0 415.7ZM211.1 413.4L212.4 412.1L213.7 413.4L212.4 414.7ZM212.6 413.1L213.9 411.8L215.2 413.1L213.9 414.4ZM212.3 413.3L213.6 412.0L214.9 413.3L213.6 414.6ZM213.7 412.6L215.0 411.3L216.3 412.6L215.0 413.9ZM213.5 413.5L214.8 412.2L216.1 413.5L214.8 414.8ZM214.1 412.0L215.4 410.7L216.7 412.0L215.4 413.3ZM214.9 412.3L216.2 411.0L217.5 412.3L216.2 413.6ZM215.2 412.7L216.5 411.4L217.8 412.7L216.5 414.0ZM214.8 412.8L216.1 411.5L217.4 412.8L216.1 414.1ZM215.7 411.7L217.0 410.4L218.3 411.7L217.0 413.0ZM216.2 412.0L217.5 410.7L218.8 412.0L217.5 413.3ZM216.7 412.2L218.0 410.9L219.3 412.2L218.0 413.5ZM217.3 411.4L218.6 410.1L219.9 411.4L218.6 412.7ZM217.2 411.2L218.5 409.9L219.8 411.2L218.5 412.5ZM218.2 412.5L219.5 411.2L220.8 412.5L219.5 413.8ZM218.7 411.2L220.0 409.9L221.3 411.2L220.0 412.5ZM218.6 412.0L219.9 410.7L221.2 412.0L219.9 413.3ZM218.4 411.5L219.7 410.2L221.0 411.5L219.7 412.8ZM220.3 412.6L221.6 411.3L222.9 412.6L221.6 413.9ZM219.5 412.6L220.8 411.3L222.1 412.6L220.8 413.9ZM220.7 411.8L222.0 410.5L223.3 411.8L222.0 413.1ZM221.1 411.7L222.4 410.4L223.7 411.7L222.4 413.0ZM220.8 411.6L222.1 410.3L223.4 411.6L222.1 412.9ZM221.9 412.8L223.2 411.5L224.5 412.8L223.2 414.1ZM222.5 412.8L223.8 411.5L225.1 412.8L223.8 414.1ZM222.4 412.7L223.7 411.4L225.0 412.7L223.7 414.0ZM223.3 413.0L224.6 411.7L225.9 413.0L224.6 414.3ZM223.5 413.9L224.8 412.6L226.1 413.9L224.8 415.2ZM223.6 414.0L224.9 412.7L226.2 414.0L224.9 415.3ZM223.4 413.5L224.7 412.2L226.0 413.5L224.7 414.8ZM225.1 413.5L226.4 412.2L227.7 413.5L226.4 414.8ZM224.2 413.5L225.5 412.2L226.8 413.5L225.5 414.8ZM225.9 413.8L227.2 412.5L228.5 413.8L227.2 415.1ZM225.7 414.2L227.0 412.9L228.3 414.2L227.0 415.5ZM226.7 414.0L228.0 412.7L229.3 414.0L228.0 415.3ZM226.7 413.1L228.0 411.8L229.3 413.1L228.0 414.4ZM227.6 414.1L228.9 412.8L230.2 414.1L228.9 415.4ZM227.7 414.0L229.0 412.7L230.3 414.0L229.0 415.3ZM228.1 413.6L229.4 412.3L230.7 413.6L229.4 414.9ZM228.9 413.2L230.2 411.9L231.5 413.2L230.2 414.5ZM227.9 413.5L229.2 412.2L230.5 413.5L229.2 414.8ZM230.0 412.4L231.3 411.1L232.6 412.4L231.3 413.7ZM228.9 412.8L230.2 411.5L231.5 412.8L230.2 414.1ZM229.4 413.0L230.7 411.7L232.0 413.0L230.7 414.3ZM229.9 412.8L231.2 411.5L232.5 412.8L231.2 414.1ZM230.2 413.3L231.5 412.0L232.8 413.3L231.5 414.6ZM231.2 414.0L232.5 412.7L233.8 414.0L232.5 415.3ZM231.8 413.1L233.1 411.8L234.4 413.1L233.1 414.4ZM233.1 414.0L234.4 412.7L235.7 414.0L234.4 415.3ZM233.0 412.5L234.3 411.2L235.6 412.5L234.3 413.8ZM232.9 412.6L234.2 411.3L235.5 412.6L234.2 413.9ZM233.2 411.5L234.5 410.2L235.8 411.5L234.5 412.8ZM233.6 412.5L234.9 411.2L236.2 412.5L234.9 413.8ZM234.4 412.3L235.7 411.0L237.0 412.3L235.7 413.6ZM234.7 411.8L236.0 410.5L237.3 411.8L236.0 413.1ZM235.4 411.7L236.7 410.4L238.0 411.7L236.7 413.0ZM235.6 410.5L236.9 409.2L238.2 410.5L236.9 411.8ZM235.7 410.6L237.0 409.3L238.3 410.6L237.0 411.9ZM236.4 411.0L237.7 409.7L239.0 411.0L237.7 412.3ZM236.0 410.5L237.3 409.2L238.6 410.5L237.3 411.8ZM236.1 410.9L237.4 409.6L238.7 410.9L237.4 412.2ZM237.0 412.1L238.3 410.8L239.6 412.1L238.3 413.4ZM236.5 412.1L237.8 410.8L239.1 412.1L237.8 413.4ZM238.0 412.1L239.3 410.8L240.6 412.1L239.3 413.4ZM237.0 412.9L238.3 411.6L239.6 412.9L238.3 414.2ZM237.8 412.4L239.1 411.1L240.4 412.4L239.1 413.7ZM238.0 412.5L239.3 411.2L240.6 412.5L239.3 413.8ZM238.1 413.6L239.4 412.3L240.7 413.6L239.4 414.9ZM238.3 412.5L239.6 411.2L240.9 412.5L239.6 413.8ZM239.3 413.7L240.6 412.4L241.9 413.7L240.6 415.0ZM240.0 412.3L241.3 411.0L242.6 412.3L241.3 413.6ZM240.4 411.4L241.7 410.1L243.0 411.4L241.7 412.7ZM239.4 410.9L240.7 409.6L242.0 410.9L240.7 412.2ZM239.5 411.6L240.8 410.3L242.1 411.6L240.8 412.9ZM240.9 411.0L242.2 409.7L243.5 411.0L242.2 412.3ZM241.2 410.5L242.5 409.2L243.8 410.5L242.5 411.8ZM241.7 410.4L243.0 409.1L244.3 410.4L243.0 411.7ZM241.3 409.3L242.6 408.0L243.9 409.3L242.6 410.6ZM241.4 409.4L242.7 408.1L244.0 409.4L242.7 410.7ZM242.3 408.6L243.6 407.3L244.9 408.6L243.6 409.9ZM241.7 409.2L243.0 407.9L244.3 409.2L243.0 410.5ZM241.8 408.8L243.1 407.5L244.4 408.8L243.1 410.1ZM242.5 409.0L243.8 407.7L245.1 409.0L243.8 410.3ZM243.6 408.0L244.9 406.7L246.2 408.0L244.9 409.3ZM244.3 408.5L245.6 407.2L246.9 408.5L245.6 409.8ZM244.1 409.3L245.4 408.0L246.7 409.3L245.4 410.6ZM245.4 408.4L246.7 407.1L248.0 408.4L246.7 409.7ZM245.7 408.1L247.0 406.8L248.3 408.1L247.0 409.4ZM245.9 407.8L247.2 406.5L248.5 407.8L247.2 409.1ZM246.6 409.0L247.9 407.7L249.2 409.0L247.9 410.3ZM247.1 407.4L248.4 406.1L249.7 407.4L248.4 408.7ZM247.4 407.9L248.7 406.6L250.0 407.9L248.7 409.2ZM247.8 407.2L249.1 405.9L250.4 407.2L249.1 408.5ZM247.9 408.1L249.2 406.8L250.5 408.1L249.2 409.4ZM247.9 408.8L249.2 407.5L250.5 408.8L249.2 410.1ZM248.5 408.5L249.8 407.2L251.1 408.5L249.8 409.8ZM248.6 408.9L249.9 407.6L251.2 408.9L249.9 410.2ZM250.4 409.2L251.7 407.9L253.0 409.2L251.7 410.5ZM249.4 409.7L250.7 408.4L252.0 409.7L250.7 411.0ZM251.2 409.6L252.5 408.3L253.8 409.6L252.5 410.9ZM250.5 410.0L251.8 408.7L253.1 410.0L251.8 411.3ZM251.5 410.7L252.8 409.4L254.1 410.7L252.8 412.0ZM251.0 411.6L252.3 410.3L253.6 411.6L252.3 412.9ZM251.8 411.5L253.1 410.2L254.4 411.5L253.1 412.8ZM252.4 412.0L253.7 410.7L255.0 412.0L253.7 413.3ZM252.1 411.1L253.4 409.8L254.7 411.1L253.4 412.4ZM252.9 411.4L254.2 410.1L255.5 411.4L254.2 412.7ZM254.2 412.0L255.5 410.7L256.8 412.0L255.5 413.3ZM253.9 412.2L255.2 410.9L256.5 412.2L255.2 413.5ZM255.1 412.5L256.4 411.2L257.7 412.5L256.4 413.8ZM254.9 412.9L256.2 411.6L257.5 412.9L256.2 414.2ZM255.5 412.7L256.8 411.4L258.1 412.7L256.8 414.0ZM255.6 412.4L256.9 411.1L258.2 412.4L256.9 413.7ZM256.1 413.9L257.4 412.6L258.7 413.9L257.4 415.2ZM256.3 413.3L257.6 412.0L258.9 413.3L257.6 414.6ZM257.2 413.9L258.5 412.6L259.8 413.9L258.5 415.2ZM256.9 413.7L258.2 412.4L259.5 413.7L258.2 415.0ZM258.4 413.1L259.7 411.8L261.0 413.1L259.7 414.4ZM257.8 414.5L259.1 413.2L260.4 414.5L259.1 415.8ZM259.6 413.4L260.9 412.1L262.2 413.4L260.9 414.7ZM258.7 414.5L260.0 413.2L261.3 414.5L260.0 415.8ZM259.5 414.7L260.8 413.4L262.1 414.7L260.8 416.0ZM259.6 414.4L260.9 413.1L262.2 414.4L260.9 415.7ZM260.3 414.2L261.6 412.9L262.9 414.2L261.6 415.5ZM261.7 414.5L263.0 413.2L264.3 414.5L263.0 415.8ZM262.4 415.1L263.7 413.8L265.0 415.1L263.7 416.4ZM262.5 415.1L263.8 413.8L265.1 415.1L263.8 416.4ZM262.2 414.5L263.5 413.2L264.8 414.5L263.5 415.8ZM262.9 414.7L264.2 413.4L265.5 414.7L264.2 416.0ZM263.0 415.2L264.3 413.9L265.6 415.2L264.3 416.5ZM264.0 415.1L265.3 413.8L266.6 415.1L265.3 416.4ZM265.4 415.5L266.7 414.2L268.0 415.5L266.7 416.8ZM264.9 415.4L266.2 414.1L267.5 415.4L266.2 416.7ZM266.4 414.3L267.7 413.0L269.0 414.3L267.7 415.6ZM266.5 415.5L267.8 414.2L269.1 415.5L267.8 416.8ZM266.5 414.8L267.8 413.5L269.1 414.8L267.8 416.1ZM266.4 415.1L267.7 413.8L269.0 415.1L267.7 416.4ZM268.2 415.1L269.5 413.8L270.8 415.1L269.5 416.4ZM267.5 415.5L268.8 414.2L270.1 415.5L268.8 416.8ZM268.3 415.5L269.6 414.2L270.9 415.5L269.6 416.8ZM268.7 414.9L270.0 413.6L271.3 414.9L270.0 416.2ZM268.5 415.8L269.8 414.5L271.1 415.8L269.8 417.1ZM270.0 414.9L271.3 413.6L272.6 414.9L271.3 416.2ZM270.2 415.4L271.5 414.1L272.8 415.4L271.5 416.7ZM270.6 416.0L271.9 414.7L273.2 416.0L271.9 417.3ZM271.6 415.0L272.9 413.7L274.2 415.0L272.9 416.3ZM271.3 415.5L272.6 414.2L273.9 415.5L272.6 416.8ZM271.4 416.0L272.7 414.7L274.0 416.0L272.7 417.3ZM271.7 415.5L273.0 414.2L274.3 415.5L273.0 416.8ZM272.5 415.8L273.8 414.5L275.1 415.8L273.8 417.1ZM272.5 415.5L273.8 414.2L275.1 415.5L273.8 416.8ZM274.5 416.6L275.8 415.3L277.1 416.6L275.8 417.9ZM273.7 416.3L275.0 415.0L276.3 416.3L275.0 417.6ZM273.8 415.9L275.1 414.6L276.4 415.9L275.1 417.2ZM274.5 417.6L275.8 416.3L277.1 417.6L275.8 418.9ZM275.1 416.6L276.4 415.3L277.7 416.6L276.4 417.9ZM275.1 416.5L276.4 415.2L277.7 416.5L276.4 417.8ZM277.1 417.8L278.4 416.5L279.7 417.8L278.4 419.1ZM277.4 418.2L278.7 416.9L280.0 418.2L278.7 419.5ZM277.5 417.4L278.8 416.1L280.1 417.4L278.8 418.7ZM276.9 417.7L278.2 416.4L279.5 417.7L278.2 419.0ZM277.1 417.7L278.4 416.4L279.7 417.7L278.4 419.0ZM278.7 418.5L280.0 417.2L281.3 418.5L280.0 419.8ZM277.9 418.4L279.2 417.1L280.5 418.4L279.2 419.7ZM279.7 419.5L281.0 418.2L282.3 419.5L281.0 420.8ZM279.9 419.5L281.2 418.2L282.5 419.5L281.2 420.8ZM280.6 419.4L281.9 418.1L283.2 419.4L281.9 420.7ZM280.2 419.6L281.5 418.3L282.8 419.6L281.5 420.9ZM280.4 418.9L281.7 417.6L283.0 418.9L281.7 420.2ZM280.8 419.8L282.1 418.5L283.4 419.8L282.1 421.1ZM280.9 419.4L282.2 418.1L283.5 419.4L282.2 420.7ZM281.6 420.1L282.9 418.8L284.2 420.1L282.9 421.4ZM283.3 420.4L284.6 419.1L285.9 420.4L284.6 421.7ZM283.5 421.0L284.8 419.7L286.1 421.0L284.8 422.3ZM283.6 420.4L284.9 419.1L286.2 420.4L284.9 421.7ZM283.8 420.5L285.1 419.2L286.4 420.5L285.1 421.8ZM284.7 421.5L286.0 420.2L287.3 421.5L286.0 422.8ZM285.4 420.7L286.7 419.4L288.0 420.7L286.7 422.0ZM284.8 420.4L286.1 419.1L287.4 420.4L286.1 421.7ZM285.9 420.4L287.2 419.1L288.5 420.4L287.2 421.7ZM285.2 420.2L286.5 418.9L287.8 420.2L286.5 421.5ZM285.9 419.7L287.2 418.4L288.5 419.7L287.2 421.0ZM287.0 420.0L288.3 418.7L289.6 420.0L288.3 421.3ZM286.7 419.9L288.0 418.6L289.3 419.9L288.0 421.2ZM286.9 419.9L288.2 418.6L289.5 419.9L288.2 421.2ZM287.1 419.0L288.4 417.7L289.7 419.0L288.4 420.3ZM288.4 418.9L289.7 417.6L291.0 418.9L289.7 420.2ZM288.3 418.8L289.6 417.5L290.9 418.8L289.6 420.1ZM288.9 418.1L290.2 416.8L291.5 418.1L290.2 419.4ZM288.3 417.6L289.6 416.3L290.9 417.6L289.6 418.9ZM289.4 418.6L290.7 417.3L292.0 418.6L290.7 419.9ZM289.1 419.3L290.4 418.0L291.7 419.3L290.4 420.6ZM289.9 419.2L291.2 417.9L292.5 419.2L291.2 420.5ZM290.5 420.2L291.8 418.9L293.1 420.2L291.8 421.5ZM290.5 420.0L291.8 418.7L293.1 420.0L291.8 421.3ZM291.4 420.6L292.7 419.3L294.0 420.6L292.7 421.9ZM291.1 419.5L292.4 418.2L293.7 419.5L292.4 420.8ZM291.6 419.7L292.9 418.4L294.2 419.7L292.9 421.0ZM292.2 418.4L293.5 417.1L294.8 418.4L293.5 419.7ZM292.1 418.8L293.4 417.5L294.7 418.8L293.4 420.1ZM291.9 417.6L293.2 416.3L294.5 417.6L293.2 418.9ZM293.4 417.0L294.7 415.7L296.0 417.0L294.7 418.3ZM292.9 417.1L294.2 415.8L295.5 417.1L294.2 418.4ZM292.4 416.6L293.7 415.3L295.0 416.6L293.7 417.9ZM292.9 416.4L294.2 415.1L295.5 416.4L294.2 417.7ZM294.4 415.5L295.7 414.2L297.0 415.5L295.7 416.8ZM293.8 416.3L295.1 415.0L296.4 416.3L295.1 417.6ZM294.6 414.8L295.9 413.5L297.2 414.8L295.9 416.1ZM294.3 415.0L295.6 413.7L296.9 415.0L295.6 416.3ZM295.8 415.0L297.1 413.7L298.4 415.0L297.1 416.3ZM295.1 414.8L296.4 413.5L297.7 414.8L296.4 416.1ZM295.9 413.9L297.2 412.6L298.5 413.9L297.2 415.2ZM296.6 414.6L297.9 413.3L299.2 414.6L297.9 415.9ZM296.6 414.0L297.9 412.7L299.2 414.0L297.9 415.3ZM297.5 414.5L298.8 413.2L300.1 414.5L298.8 415.8ZM297.6 413.1L298.9 411.8L300.2 413.1L298.9 414.4ZM297.9 414.4L299.2 413.1L300.5 414.4L299.2 415.7ZM298.0 414.6L299.3 413.3L300.6 414.6L299.3 415.9ZM298.5 414.7L299.8 413.4L301.1 414.7L299.8 416.0ZM299.3 415.0L300.6 413.7L301.9 415.0L300.6 416.3ZM300.3 415.3L301.6 414.0L302.9 415.3L301.6 416.6ZM300.3 415.4L301.6 414.1L302.9 415.4L301.6 416.7ZM299.9 415.5L301.2 414.2L302.5 415.5L301.2 416.8ZM301.0 414.8L302.3 413.5L303.6 414.8L302.3 416.1ZM301.6 415.4L302.9 414.1L304.2 415.4L302.9 416.7ZM301.5 416.2L302.8 414.9L304.1 416.2L302.8 417.5ZM302.2 416.9L303.5 415.6L304.8 416.9L303.5 418.2ZM302.2 417.4L303.5 416.1L304.8 417.4L303.5 418.7ZM302.5 417.1L303.8 415.8L305.1 417.1L303.8 418.4ZM303.8 416.9L305.1 415.6L306.4 416.9L305.1 418.2ZM303.7 418.3L305.0 417.0L306.3 418.3L305.0 419.6ZM303.0 418.3L304.3 417.0L305.6 418.3L304.3 419.6ZM304.4 418.1L305.7 416.8L307.0 418.1L305.7 419.4ZM305.0 418.8L306.3 417.5L307.6 418.8L306.3 420.1ZM304.3 418.4L305.6 417.1L306.9 418.4L305.6 419.7ZM305.5 419.0L306.8 417.7L308.1 419.0L306.8 420.3ZM306.5 419.4L307.8 418.1L309.1 419.4L307.8 420.7ZM306.7 418.3L308.0 417.0L309.3 418.3L308.0 419.6ZM306.5 420.0L307.8 418.7L309.1 420.0L307.8 421.3ZM307.8 419.9L309.1 418.6L310.4 419.9L309.1 421.2ZM307.1 420.2L308.4 418.9L309.7 420.2L308.4 421.5ZM307.9 420.2L309.2 418.9L310.5 420.2L309.2 421.5ZM308.5 420.7L309.8 419.4L311.1 420.7L309.8 422.0ZM309.1 421.1L310.4 419.8L311.7 421.1L310.4 422.4ZM309.1 420.0L310.4 418.7L311.7 420.0L310.4 421.3ZM309.7 419.9L311.0 418.6L312.3 419.9L311.0 421.2ZM309.1 420.3L310.4 419.0L311.7 420.3L310.4 421.6ZM309.9 419.3L311.2 418.0L312.5 419.3L311.2 420.6ZM309.8 418.5L311.1 417.2L312.4 418.5L311.1 419.8ZM311.7 418.4L313.0 417.1L314.3 418.4L313.0 419.7ZM311.0 419.1L312.3 417.8L313.6 419.1L312.3 420.4ZM311.3 418.6L312.6 417.3L313.9 418.6L312.6 419.9ZM312.3 418.7L313.6 417.4L314.9 418.7L313.6 420.0ZM312.5 417.5L313.8 416.2L315.1 417.5L313.8 418.8ZM312.5 417.3L313.8 416.0L315.1 417.3L313.8 418.6ZM312.5 416.6L313.8 415.3L315.1 416.6L313.8 417.9ZM313.1 416.7L314.4 415.4L315.7 416.7L314.4 418.0ZM314.6 418.0L315.9 416.7L317.2 418.0L315.9 419.3ZM314.3 417.0L315.6 415.7L316.9 417.0L315.6 418.3ZM314.6 417.8L315.9 416.5L317.2 417.8L315.9 419.1ZM315.3 417.2L316.6 415.9L317.9 417.2L316.6 418.5ZM315.8 417.6L317.1 416.3L318.4 417.6L317.1 418.9ZM315.6 418.7L316.9 417.4L318.2 418.7L316.9 420.0ZM315.9 418.4L317.2 417.1L318.5 418.4L317.2 419.7ZM317.5 418.7L318.8 417.4L320.1 418.7L318.8 420.0ZM318.1 418.6L319.4 417.3L320.7 418.6L319.4 419.9ZM318.6 418.3L319.9 417.0L321.2 418.3L319.9 419.6ZM319.0 419.2L320.3 417.9L321.6 419.2L320.3 420.5ZM317.9 419.1L319.2 417.8L320.5 419.1L319.2 420.4ZM320.0 419.7L321.3 418.4L322.6 419.7L321.3 421.0ZM320.0 419.7L321.3 418.4L322.6 419.7L321.3 421.0ZM319.2 418.7L320.5 417.4L321.8 418.7L320.5 420.0ZM320.5 419.6L321.8 418.3L323.1 419.6L321.8 420.9ZM321.7 418.1L323.0 416.8L324.3 418.1L323.0 419.4ZM322.3 418.7L323.6 417.4L324.9 418.7L323.6 420.0ZM321.5 417.7L322.8 416.4L324.1 417.7L322.8 419.0ZM322.2 418.3L323.5 417.0L324.8 418.3L323.5 419.6ZM322.7 417.8L324.0 416.5L325.3 417.8L324.0 419.1ZM324.0 417.9L325.3 416.6L326.6 417.9L325.3 419.2ZM323.4 418.3L324.7 417.0L326.0 418.3L324.7 419.6ZM323.7 417.6L325.0 416.3L326.3 417.6L325.0 418.9ZM324.0 417.2L325.3 415.9L326.6 417.2L325.3 418.5ZM325.9 417.7L327.2 416.4L328.5 417.7L327.2 419.0ZM325.6 417.7L326.9 416.4L328.2 417.7L326.9 419.0ZM326.3 417.4L327.6 416.1L328.9 417.4L327.6 418.7ZM326.3 416.7L327.6 415.4L328.9 416.7L327.6 418.0ZM326.2 416.5L327.5 415.2L328.8 416.5L327.5 417.8ZM327.3 416.3L328.6 415.0L329.9 416.3L328.6 417.6ZM328.2 416.7L329.5 415.4L330.8 416.7L329.5 418.0ZM327.9 417.0L329.2 415.7L330.5 417.0L329.2 418.3ZM328.7 417.1L330.0 415.8L331.3 417.1L330.0 418.4ZM329.7 417.8L331.0 416.5L332.3 417.8L331.0 419.1ZM328.8 417.4L330.1 416.1L331.4 417.4L330.1 418.7ZM330.6 418.5L331.9 417.2L333.2 418.5L331.9 419.8ZM330.0 419.1L331.3 417.8L332.6 419.1L331.3 420.4ZM329.8 419.8L331.1 418.5L332.4 419.8L331.1 421.1ZM331.5 419.9L332.8 418.6L334.1 419.9L332.8 421.2ZM330.2 419.9L331.5 418.6L332.8 419.9L331.5 421.2ZM331.7 420.7L333.0 419.4L334.3 420.7L333.0 422.0ZM330.8 420.5L332.1 419.2L333.4 420.5L332.1 421.8ZM330.7 421.5L332.0 420.2L333.3 421.5L332.0 422.8ZM331.1 421.8L332.4 420.5L333.7 421.8L332.4 423.1ZM332.5 423.0L333.8 421.7L335.1 423.0L333.8 424.3ZM332.0 423.3L333.3 422.0L334.6 423.3L333.3 424.6ZM331.6 423.1L332.9 421.8L334.2 423.1L332.9 424.4ZM333.0 421.9L334.3 420.6L335.6 421.9L334.3 423.2ZM333.2 421.2L334.5 419.9L335.8 421.2L334.5 422.5ZM333.5 420.8L334.8 419.5L336.1 420.8L334.8 422.1ZM333.6 421.3L334.9 420.0L336.2 421.3L334.9 422.6ZM333.8 420.7L335.1 419.4L336.4 420.7L335.1 422.0ZM332.5 419.5L333.8 418.2L335.1 419.5L333.8 420.8ZM333.7 420.2L335.0 418.9L336.3 420.2L335.0 421.5ZM333.9 418.3L335.2 417.0L336.5 418.3L335.2 419.6ZM333.5 418.4L334.8 417.1L336.1 418.4L334.8 419.7ZM333.4 417.8L334.7 416.5L336.0 417.8L334.7 419.1ZM334.2 417.6L335.5 416.3L336.8 417.6L335.5 418.9ZM333.9 417.3L335.2 416.0L336.5 417.3L335.2 418.6ZM335.3 417.2L336.6 415.9L337.9 417.2L336.6 418.5ZM335.4 417.7L336.7 416.4L338.0 417.7L336.7 419.0ZM334.6 417.6L335.9 416.3L337.2 417.6L335.9 418.9ZM335.2 416.5L336.5 415.2L337.8 416.5L336.5 417.8ZM336.8 417.4L338.1 416.1L339.4 417.4L338.1 418.7ZM337.0 417.0L338.3 415.7L339.6 417.0L338.3 418.3ZM337.7 416.9L339.0 415.6L340.3 416.9L339.0 418.2ZM337.2 416.5L338.5 415.2L339.8 416.5L338.5 417.8ZM337.6 416.2L338.9 414.9L340.2 416.2L338.9 417.5ZM339.5 417.8L340.8 416.5L342.1 417.8L340.8 419.1ZM338.9 416.9L340.2 415.6L341.5 416.9L340.2 418.2ZM339.2 417.6L340.5 416.3L341.8 417.6L340.5 418.9ZM340.1 416.7L341.4 415.4L342.7 416.7L341.4 418.0ZM341.2 418.0L342.5 416.7L343.8 418.0L342.5 419.3ZM340.2 417.3L341.5 416.0L342.8 417.3L341.5 418.6ZM341.0 417.7L342.3 416.4L343.6 417.7L342.3 419.0ZM341.6 417.2L342.9 415.9L344.2 417.2L342.9 418.5ZM342.0 417.8L343.3 416.5L344.6 417.8L343.3 419.1ZM342.8 417.6L344.1 416.3L345.4 417.6L344.1 418.9ZM343.6 417.7L344.9 416.4L346.2 417.7L344.9 419.0ZM344.5 417.7L345.8 416.4L347.1 417.7L345.8 419.0ZM344.7 418.6L346.0 417.3L347.3 418.6L346.0 419.9ZM344.8 418.0L346.1 416.7L347.4 418.0L346.1 419.3ZM345.6 418.3L346.9 417.0L348.2 418.3L346.9 419.6ZM345.0 417.8L346.3 416.5L347.6 417.8L346.3 419.1ZM345.4 417.2L346.7 415.9L348.0 417.2L346.7 418.5ZM346.7 417.8L348.0 416.5L349.3 417.8L348.0 419.1ZM346.5 417.3L347.8 416.0L349.1 417.3L347.8 418.6ZM346.5 418.5L347.8 417.2L349.1 418.5L347.8 419.8ZM347.5 418.1L348.8 416.8L350.1 418.1L348.8 419.4ZM348.5 418.9L349.8 417.6L351.1 418.9L349.8 420.2ZM349.0 417.8L350.3 416.5L351.6 417.8L350.3 419.1ZM350.0 417.9L351.3 416.6L352.6 417.9L351.3 419.2ZM349.7 418.8L351.0 417.5L352.3 418.8L351.0 420.1ZM349.7 419.3L351.0 418.0L352.3 419.3L351.0 420.6ZM350.7 419.1L352.0 417.8L353.3 419.1L352.0 420.4ZM350.4 419.4L351.7 418.1L353.0 419.4L351.7 420.7ZM351.1 419.2L352.4 417.9L353.7 419.2L352.4 420.5ZM352.3 418.8L353.6 417.5L354.9 418.8L353.6 420.1ZM351.9 418.9L353.2 417.6L354.5 418.9L353.2 420.2ZM353.6 419.5L354.9 418.2L356.2 419.5L354.9 420.8ZM353.2 419.5L354.5 418.2L355.8 419.5L354.5 420.8ZM354.0 419.1L355.3 417.8L356.6 419.1L355.3 420.4ZM353.4 419.0L354.7 417.7L356.0 419.0L354.7 420.3ZM354.7 420.1L356.0 418.8L357.3 420.1L356.0 421.4ZM355.8 420.3L357.1 419.0L358.4 420.3L357.1 421.6ZM356.0 421.2L357.3 419.9L358.6 421.2L357.3 422.5ZM355.8 420.4L357.1 419.1L358.4 420.4L357.1 421.7ZM356.1 420.6L357.4 419.3L358.7 420.6L357.4 421.9ZM357.0 421.1L358.3 419.8L359.6 421.1L358.3 422.4ZM356.4 422.0L357.7 420.7L359.0 422.0L357.7 423.3ZM357.5 421.9L358.8 420.6L360.1 421.9L358.8 423.2ZM357.9 421.9L359.2 420.6L360.5 421.9L359.2 423.2ZM358.4 421.3L359.7 420.0L361.0 421.3L359.7 422.6ZM358.1 422.6L359.4 421.3L360.7 422.6L359.4 423.9ZM358.8 421.8L360.1 420.5L361.4 421.8L360.1 423.1ZM360.1 423.1L361.4 421.8L362.7 423.1L361.4 424.4ZM360.4 422.8L361.7 421.5L363.0 422.8L361.7 424.1ZM359.7 423.6L361.0 422.3L362.3 423.6L361.0 424.9ZM360.3 423.7L361.6 422.4L362.9 423.7L361.6 425.0ZM361.5 423.3L362.8 422.0L364.1 423.3L362.8 424.6ZM360.7 423.6L362.0 422.3L363.3 423.6L362.0 424.9ZM362.4 423.3L363.7 422.0L365.0 423.3L363.7 424.6ZM363.1 422.4L364.4 421.1L365.7 422.4L364.4 423.7ZM363.0 422.5L364.3 421.2L365.6 422.5L364.3 423.8ZM363.1 421.9L364.4 420.6L365.7 421.9L364.4 423.2ZM362.8 422.1L364.1 420.8L365.4 422.1L364.1 423.4ZM363.8 422.4L365.1 421.1L366.4 422.4L365.1 423.7ZM364.2 421.4L365.5 420.1L366.8 421.4L365.5 422.7ZM364.6 421.4L365.9 420.1L367.2 421.4L365.9 422.7ZM364.5 420.5L365.8 419.2L367.1 420.5L365.8 421.8ZM365.4 420.4L366.7 419.1L368.0 420.4L366.7 421.7ZM364.6 419.7L365.9 418.4L367.2 419.7L365.9 421.0ZM365.6 420.9L366.9 419.6L368.2 420.9L366.9 422.2ZM366.5 420.8L367.8 419.5L369.1 420.8L367.8 422.1ZM367.2 420.8L368.5 419.5L369.8 420.8L368.5 422.1ZM366.8 421.7L368.1 420.4L369.4 421.7L368.1 423.0ZM367.8 421.4L369.1 420.1L370.4 421.4L369.1 422.7ZM368.5 421.0L369.8 419.7L371.1 421.0L369.8 422.3ZM368.3 422.7L369.6 421.4L370.9 422.7L369.6 424.0ZM369.3 421.8L370.6 420.5L371.9 421.8L370.6 423.1ZM369.6 422.6L370.9 421.3L372.2 422.6L370.9 423.9ZM370.2 422.5L371.5 421.2L372.8 422.5L371.5 423.8ZM370.2 423.3L371.5 422.0L372.8 423.3L371.5 424.6ZM371.2 423.0L372.5 421.7L373.8 423.0L372.5 424.3ZM370.6 422.9L371.9 421.6L373.2 422.9L371.9 424.2ZM371.5 423.1L372.8 421.8L374.1 423.1L372.8 424.4ZM372.2 423.4L373.5 422.1L374.8 423.4L373.5 424.7ZM371.5 425.1L372.8 423.8L374.1 425.1L372.8 426.4ZM372.4 425.0L373.7 423.7L375.0 425.0L373.7 426.3ZM372.6 424.4L373.9 423.1L375.2 424.4L373.9 425.7ZM373.1 425.9L374.4 424.6L375.7 425.9L374.4 427.2ZM373.2 426.0L374.5 424.7L375.8 426.0L374.5 427.3ZM374.8 425.7L376.1 424.4L377.4 425.7L376.1 427.0ZM374.2 425.9L375.5 424.6L376.8 425.9L375.5 427.2ZM375.8 425.8L377.1 424.5L378.4 425.8L377.1 427.1ZM375.1 425.9L376.4 424.6L377.7 425.9L376.4 427.2ZM376.8 426.0L378.1 424.7L379.4 426.0L378.1 427.3ZM375.9 425.4L377.2 424.1L378.5 425.4L377.2 426.7ZM377.2 425.2L378.5 423.9L379.8 425.2L378.5 426.5ZM376.6 425.9L377.9 424.6L379.2 425.9L377.9 427.2ZM377.5 426.2L378.8 424.9L380.1 426.2L378.8 427.5ZM377.6 426.5L378.9 425.2L380.2 426.5L378.9 427.8ZM379.1 426.2L380.4 424.9L381.7 426.2L380.4 427.5ZM379.4 426.8L380.7 425.5L382.0 426.8L380.7 428.1ZM380.2 427.0L381.5 425.7L382.8 427.0L381.5 428.3ZM380.4 427.2L381.7 425.9L383.0 427.2L381.7 428.5ZM381.2 426.6L382.5 425.3L383.8 426.6L382.5 427.9ZM380.4 428.1L381.7 426.8L383.0 428.1L381.7 429.4ZM382.1 426.8L383.4 425.5L384.7 426.8L383.4 428.1ZM382.7 428.0L384.0 426.7L385.3 428.0L384.0 429.3ZM383.1 428.3L384.4 427.0L385.7 428.3L384.4 429.6ZM382.7 427.5L384.0 426.2L385.3 427.5L384.0 428.8ZM383.8 428.6L385.1 427.3L386.4 428.6L385.1 429.9ZM383.8 428.0L385.1 426.7L386.4 428.0L385.1 429.3ZM384.0 429.3L385.3 428.0L386.6 429.3L385.3 430.6ZM384.7 428.2L386.0 426.9L387.3 428.2L386.0 429.5ZM386.0 429.7L387.3 428.4L388.6 429.7L387.3 431.0ZM385.1 428.5L386.4 427.2L387.7 428.5L386.4 429.8ZM386.5 429.0L387.8 427.7L389.1 429.0L387.8 430.3ZM386.5 429.7L387.8 428.4L389.1 429.7L387.8 431.0ZM386.6 429.7L387.9 428.4L389.2 429.7L387.9 431.0ZM387.0 429.0L388.3 427.7L389.6 429.0L388.3 430.3ZM388.0 429.4L389.3 428.1L390.6 429.4L389.3 430.7ZM389.0 428.9L390.3 427.6L391.6 428.9L390.3 430.2ZM389.5 429.1L390.8 427.8L392.1 429.1L390.8 430.4ZM389.0 428.8L390.3 427.5L391.6 428.8L390.3 430.1ZM389.4 430.3L390.7 429.0L392.0 430.3L390.7 431.6ZM389.9 430.1L391.2 428.8L392.5 430.1L391.2 431.4ZM391.4 429.8L392.7 428.5L394.0 429.8L392.7 431.1ZM390.6 429.4L391.9 428.1L393.2 429.4L391.9 430.7ZM391.0 429.1L392.3 427.8L393.6 429.1L392.3 430.4ZM391.7 428.9L393.0 427.6L394.3 428.9L393.0 430.2ZM392.8 429.6L394.1 428.3L395.4 429.6L394.1 430.9ZM392.6 429.3L393.9 428.0L395.2 429.3L393.9 430.6ZM392.8 429.2L394.1 427.9L395.4 429.2L394.1 430.5ZM393.8 429.2L395.1 427.9L396.4 429.2L395.1 430.5ZM394.4 429.6L395.7 428.3L397.0 429.6L395.7 430.9ZM395.3 429.8L396.6 428.5L397.9 429.8L396.6 431.1ZM395.9 431.0L397.2 429.7L398.5 431.0L397.2 432.3ZM396.5 429.9L397.8 428.6L399.1 429.9L397.8 431.2ZM397.0 430.4L398.3 429.1L399.6 430.4L398.3 431.7ZM397.4 430.5L398.7 429.2L400.0 430.5L398.7 431.8ZM397.1 430.5L398.4 429.2L399.7 430.5L398.4 431.8ZM397.9 430.9L399.2 429.6L400.5 430.9L399.2 432.2ZM398.5 431.8L399.8 430.5L401.1 431.8L399.8 433.1ZM398.1 430.9L399.4 429.6L400.7 430.9L399.4 432.2ZM398.2 431.9L399.5 430.6L400.8 431.9L399.5 433.2ZM398.7 432.5L400.0 431.2L401.3 432.5L400.0 433.8ZM398.5 432.5L399.8 431.2L401.1 432.5L399.8 433.8ZM400.3 433.7L401.6 432.4L402.9 433.7L401.6 435.0ZM400.3 433.6L401.6 432.3L402.9 433.6L401.6 434.9ZM400.4 434.4L401.7 433.1L403.0 434.4L401.7 435.7ZM401.1 433.8L402.4 432.5L403.7 433.8L402.4 435.1ZM400.9 435.0L402.2 433.7L403.5 435.0L402.2 436.3ZM401.3 434.7L402.6 433.4L403.9 434.7L402.6 436.0ZM401.2 435.2L402.5 433.9L403.8 435.2L402.5 436.5ZM401.9 436.0L403.2 434.7L404.5 436.0L403.2 437.3ZM403.0 436.4L404.3 435.1L405.6 436.4L404.3 437.7ZM403.2 435.2L404.5 433.9L405.8 435.2L404.5 436.5ZM402.0 436.1L403.3 434.8L404.6 436.1L403.3 437.4ZM403.5 436.9L404.8 435.6L406.1 436.9L404.8 438.2ZM402.8 436.5L404.1 435.2L405.4 436.5L404.1 437.8ZM403.1 436.9L404.4 435.6L405.7 436.9L404.4 438.2ZM403.2 438.3L404.5 437.0L405.8 438.3L404.5 439.6ZM403.5 437.8L404.8 436.5L406.1 437.8L404.8 439.1ZM404.5 438.1L405.8 436.8L407.1 438.1L405.8 439.4ZM405.2 439.4L406.5 438.1L407.8 439.4L406.5 440.7ZM405.4 439.9L406.7 438.6L408.0 439.9L406.7 441.2ZM405.4 439.5L406.7 438.2L408.0 439.5L406.7 440.8ZM405.1 440.1L406.4 438.8L407.7 440.1L406.4 441.4ZM405.2 441.4L406.5 440.1L407.8 441.4L406.5 442.7ZM405.5 441.6L406.8 440.3L408.1 441.6L406.8 442.9ZM406.0 440.8L407.3 439.5L408.6 440.8L407.3 442.1ZM405.5 442.1L406.8 440.8L408.1 442.1L406.8 443.4ZM406.7 441.9L408.0 440.6L409.3 441.9L408.0 443.2ZM406.0 442.6L407.3 441.3L408.6 442.6L407.3 443.9ZM406.5 443.0L407.8 441.7L409.1 443.0L407.8 444.3ZM407.5 443.8L408.8 442.5L410.1 443.8L408.8 445.1ZM406.6 443.7L407.9 442.4L409.2 443.7L407.9 445.0ZM407.2 443.8L408.5 442.5L409.8 443.8L408.5 445.1ZM407.1 443.2L408.4 441.9L409.7 443.2L408.4 444.5ZM407.7 444.1L409.0 442.8L410.3 444.1L409.0 445.4ZM408.2 443.2L409.5 441.9L410.8 443.2L409.5 444.5ZM407.4 442.7L408.7 441.4L410.0 442.7L408.7 444.0ZM407.8 441.6L409.1 440.3L410.4 441.6L409.1 442.9ZM407.8 441.6L409.1 440.3L410.4 441.6L409.1 442.9ZM407.4 441.1L408.7 439.8L410.0 441.1L408.7 442.4ZM408.5 441.0L409.8 439.7L411.1 441.0L409.8 442.3ZM407.8 439.8L409.1 438.5L410.4 439.8L409.1 441.1ZM408.4 439.9L409.7 438.6L411.0 439.9L409.7 441.2ZM407.9 439.3L409.2 438.0L410.5 439.3L409.2 440.6ZM408.2 439.1L409.5 437.8L410.8 439.1L409.5 440.4ZM409.1 438.2L410.4 436.9L411.7 438.2L410.4 439.5ZM408.6 438.1L409.9 436.8L411.2 438.1L409.9 439.4ZM408.9 437.1L410.2 435.8L411.5 437.1L410.2 438.4ZM408.3 437.8L409.6 436.5L410.9 437.8L409.6 439.1ZM408.2 436.9L409.5 435.6L410.8 436.9L409.5 438.2ZM408.5 436.1L409.8 434.8L411.1 436.1L409.8 437.4ZM408.9 435.2L410.2 433.9L411.5 435.2L410.2 436.5ZM408.5 436.0L409.8 434.7L411.1 436.0L409.8 437.3ZM408.5 434.2L409.8 432.9L411.1 434.2L409.8 435.5ZM409.8 434.1L411.1 432.8L412.4 434.1L411.1 435.4ZM409.1 434.4L410.4 433.1L411.7 434.4L410.4 435.7ZM410.6 433.0L411.9 431.7L413.2 433.0L411.9 434.3ZM410.3 432.9L411.6 431.6L412.9 432.9L411.6 434.2ZM410.9 432.8L412.2 431.5L413.5 432.8L412.2 434.1ZM410.9 432.4L412.2 431.1L413.5 432.4L412.2 433.7ZM409.8 431.6L411.1 430.3L412.4 431.6L411.1 432.9ZM410.9 430.7L412.2 429.4L413.5 430.7L412.2 432.0ZM410.1 431.7L411.4 430.4L412.7 431.7L411.4 433.0ZM411.7 430.7L413.0 429.4L414.3 430.7L413.0 432.0ZM410.4 430.3L411.7 429.0L413.0 430.3L411.7 431.6ZM412.3 430.1L413.6 428.8L414.9 430.1L413.6 431.4ZM412.1 429.2L413.4 427.9L414.7 429.2L413.4 430.5ZM412.3 429.7L413.6 428.4L414.9 429.7L413.6 431.0ZM412.4 427.9L413.7 426.6L415.0 427.9L413.7 429.2ZM412.1 429.1L413.4 427.8L414.7 429.1L413.4 430.4ZM413.4 428.7L414.7 427.4L416.0 428.7L414.7 430.0ZM412.8 427.0L414.1 425.7L415.4 427.0L414.1 428.3ZM414.0 427.2L415.3 425.9L416.6 427.2L415.3 428.5ZM414.0 426.5L415.3 425.2L416.6 426.5L415.3 427.8ZM414.8 427.1L416.1 425.8L417.4 427.1L416.1 428.4ZM415.1 426.2L416.4 424.9L417.7 426.2L416.4 427.5ZM415.0 425.8L416.3 424.5L417.6 425.8L416.3 427.1ZM415.3 425.4L416.6 424.1L417.9 425.4L416.6 426.7ZM415.6 426.1L416.9 424.8L418.2 426.1L416.9 427.4ZM416.5 424.4L417.8 423.1L419.1 424.4L417.8 425.7ZM416.6 425.2L417.9 423.9L419.2 425.2L417.9 426.5ZM416.4 425.1L417.7 423.8L419.0 425.1L417.7 426.4ZM417.8 423.4L419.1 422.1L420.4 423.4L419.1 424.7ZM417.7 423.7L419.0 422.4L420.3 423.7L419.0 425.0ZM417.8 423.7L419.1 422.4L420.4 423.7L419.1 425.0ZM418.8 423.6L420.1 422.3L421.4 423.6L420.1 424.9ZM419.3 422.6L420.6 421.3L421.9 422.6L420.6 423.9ZM419.5 422.6L420.8 421.3L422.1 422.6L420.8 423.9ZM419.0 423.2L420.3 421.9L421.6 423.2L420.3 424.5ZM420.2 422.1L421.5 420.8L422.8 422.1L421.5 423.4ZM421.2 422.4L422.5 421.1L423.8 422.4L422.5 423.7ZM421.4 423.1L422.7 421.8L424.0 423.1L422.7 424.4ZM421.3 422.2L422.6 420.9L423.9 422.2L422.6 423.5ZM422.0 422.1L423.3 420.8L424.6 422.1L423.3 423.4ZM422.3 423.5L423.6 422.2L424.9 423.5L423.6 424.8ZM422.9 422.7L424.2 421.4L425.5 422.7L424.2 424.0ZM423.2 423.6L424.5 422.3L425.8 423.6L424.5 424.9ZM423.0 424.0L424.3 422.7L425.6 424.0L424.3 425.3ZM423.3 424.5L424.6 423.2L425.9 424.5L424.6 425.8ZM423.7 424.9L425.0 423.6L426.3 424.9L425.0 426.2ZM423.9 424.1L425.2 422.8L426.5 424.1L425.2 425.4ZM424.2 423.7L425.5 422.4L426.8 423.7L425.5 425.0ZM425.5 424.9L426.8 423.6L428.1 424.9L426.8 426.2ZM425.1 423.3L426.4 422.0L427.7 423.3L426.4 424.6ZM426.2 424.0L427.5 422.7L428.8 424.0L427.5 425.3ZM425.4 422.8L426.7 421.5L428.0 422.8L426.7 424.1ZM426.2 422.2L427.5 420.9L428.8 422.2L427.5 423.5ZM425.8 422.2L427.1 420.9L428.4 422.2L427.1 423.5ZM425.7 421.3L427.0 420.0L428.3 421.3L427.0 422.6ZM426.6 421.1L427.9 419.8L429.2 421.1L427.9 422.4ZM427.2 421.8L428.5 420.5L429.8 421.8L428.5 423.1ZM426.9 420.2L428.2 418.9L429.5 420.2L428.2 421.5ZM427.1 419.8L428.4 418.5L429.7 419.8L428.4 421.1ZM427.4 419.5L428.7 418.2L430.0 419.5L428.7 420.8ZM427.2 419.6L428.5 418.3L429.8 419.6L428.5 420.9ZM427.3 419.2L428.6 417.9L429.9 419.2L428.6 420.5ZM426.7 417.7L428.0 416.4L429.3 417.7L428.0 419.0ZM426.9 418.6L428.2 417.3L429.5 418.6L428.2 419.9ZM426.4 417.0L427.7 415.7L429.0 417.0L427.7 418.3ZM426.9 416.8L428.2 415.5L429.5 416.8L428.2 418.1ZM428.0 415.9L429.3 414.6L430.6 415.9L429.3 417.2ZM426.7 415.2L428.0 413.9L429.3 415.2L428.0 416.5ZM427.2 416.0L428.5 414.7L429.8 416.0L428.5 417.3ZM427.5 415.4L428.8 414.1L430.1 415.4L428.8 416.7ZM427.7 414.5L429.0 413.2L430.3 414.5L429.0 415.8ZM427.7 413.5L429.0 412.2L430.3 413.5L429.0 414.8ZM428.7 414.2L430.0 412.9L431.3 414.2L430.0 415.5ZM427.4 412.9L428.7 411.6L430.0 412.9L428.7 414.2ZM428.6 413.0L429.9 411.7L431.2 413.0L429.9 414.3ZM428.7 412.9L430.0 411.6L431.3 412.9L430.0 414.2ZM427.8 412.6L429.1 411.3L430.4 412.6L429.1 413.9ZM428.0 411.0L429.3 409.7L430.6 411.0L429.3 412.3ZM429.0 411.7L430.3 410.4L431.6 411.7L430.3 413.0ZM428.4 410.5L429.7 409.2L431.0 410.5L429.7 411.8ZM429.2 410.0L430.5 408.7L431.8 410.0L430.5 411.3ZM428.9 410.7L430.2 409.4L431.5 410.7L430.2 412.0ZM428.5 410.2L429.8 408.9L431.1 410.2L429.8 411.5ZM429.9 409.8L431.2 408.5L432.5 409.8L431.2 411.1ZM429.0 408.1L430.3 406.8L431.6 408.1L430.3 409.4ZM429.5 407.6L430.8 406.3L432.1 407.6L430.8 408.9ZM430.5 407.8L431.8 406.5L433.1 407.8L431.8 409.1ZM430.5 407.3L431.8 406.0L433.1 407.3L431.8 408.6ZM430.1 407.6L431.4 406.3L432.7 407.6L431.4 408.9ZM429.6 405.9L430.9 404.6L432.2 405.9L430.9 407.2ZM431.0 406.1L432.3 404.8L433.6 406.1L432.3 407.4ZM431.0 406.4L432.3 405.1L433.6 406.4L432.3 407.7ZM431.2 405.3L432.5 404.0L433.8 405.3L432.5 406.6ZM431.5 405.4L432.8 404.1L434.1 405.4L432.8 406.7ZM431.0 405.3L432.3 404.0L433.6 405.3L432.3 406.6ZM432.6 405.9L433.9 404.6L435.2 405.9L433.9 407.2ZM431.5 406.4L432.8 405.1L434.1 406.4L432.8 407.7ZM433.5 406.6L434.8 405.3L436.1 406.6L434.8 407.9ZM432.8 406.8L434.1 405.5L435.4 406.8L434.1 408.1ZM433.2 407.5L434.5 406.2L435.8 407.5L434.5 408.8ZM433.0 408.5L434.3 407.2L435.6 408.5L434.3 409.8ZM433.8 408.8L435.1 407.5L436.4 408.8L435.1 410.1ZM433.7 409.1L435.0 407.8L436.3 409.1L435.0 410.4ZM432.9 409.2L434.2 407.9L435.5 409.2L434.2 410.5ZM433.1 409.2L434.4 407.9L435.7 409.2L434.4 410.5ZM434.4 409.7L435.7 408.4L437.0 409.7L435.7 411.0ZM434.3 411.2L435.6 409.9L436.9 411.2L435.6 412.5ZM433.7 410.3L435.0 409.0L436.3 410.3L435.0 411.6ZM433.5 411.8L434.8 410.5L436.1 411.8L434.8 413.1ZM434.5 411.8L435.8 410.5L437.1 411.8L435.8 413.1ZM434.5 411.9L435.8 410.6L437.1 411.9L435.8 413.2ZM434.8 413.4L436.1 412.1L437.4 413.4L436.1 414.7ZM435.1 413.5L436.4 412.2L437.7 413.5L436.4 414.8ZM435.0 413.0L436.3 411.7L437.6 413.0L436.3 414.3ZM434.6 414.1L435.9 412.8L437.2 414.1L435.9 415.4ZM434.4 414.0L435.7 412.7L437.0 414.0L435.7 415.3ZM436.1 415.4L437.4 414.1L438.7 415.4L437.4 416.7ZM435.6 415.9L436.9 414.6L438.2 415.9L436.9 417.2ZM436.3 416.2L437.6 414.9L438.9 416.2L437.6 417.5ZM435.7 416.3L437.0 415.0L438.3 416.3L437.0 417.6ZM436.8 417.7L438.1 416.4L439.4 417.7L438.1 419.0ZM435.6 417.0L436.9 415.7L438.2 417.0L436.9 418.3ZM436.7 415.8L438.0 414.5L439.3 415.8L438.0 417.1ZM437.0 415.2L438.3 413.9L439.6 415.2L438.3 416.5ZM437.3 415.3L438.6 414.0L439.9 415.3L438.6 416.6ZM437.2 414.0L438.5 412.7L439.8 414.0L438.5 415.3ZM438.0 415.1L439.3 413.8L440.6 415.1L439.3 416.4ZM437.9 413.5L439.2 412.2L440.5 413.5L439.2 414.8ZM437.9 412.8L439.2 411.5L440.5 412.8L439.2 414.1ZM437.8 412.7L439.1 411.4L440.4 412.7L439.1 414.0ZM437.8 412.2L439.1 410.9L440.4 412.2L439.1 413.5ZM437.2 412.0L438.5 410.7L439.8 412.0L438.5 413.3ZM437.6 411.1L438.9 409.8L440.2 411.1L438.9 412.4ZM437.9 410.6L439.2 409.3L440.5 410.6L439.2 411.9ZM437.5 411.6L438.8 410.3L440.1 411.6L438.8 412.9ZM437.7 411.0L439.0 409.7L440.3 411.0L439.0 412.3ZM438.4 409.3L439.7 408.0L441.0 409.3L439.7 410.6ZM438.6 409.5L439.9 408.2L441.2 409.5L439.9 410.8ZM438.1 409.1L439.4 407.8L440.7 409.1L439.4 410.4ZM438.1 408.2L439.4 406.9L440.7 408.2L439.4 409.5ZM439.4 408.7L440.7 407.4L442.0 408.7L440.7 410.0ZM438.7 407.5L440.0 406.2L441.3 407.5L440.0 408.8ZM440.5 407.4L441.8 406.1L443.1 407.4L441.8 408.7ZM439.6 407.3L440.9 406.0L442.2 407.3L440.9 408.6ZM441.4 407.4L442.7 406.1L444.0 407.4L442.7 408.7ZM441.6 408.4L442.9 407.1L444.2 408.4L442.9 409.7ZM442.1 407.2L443.4 405.9L444.7 407.2L443.4 408.5ZM442.4 407.5L443.7 406.2L445.0 407.5L443.7 408.8ZM442.9 408.2L444.2 406.9L445.5 408.2L444.2 409.5ZM444.3 408.4L445.6 407.1L446.9 408.4L445.6 409.7ZM444.0 408.8L445.3 407.5L446.6 408.8L445.3 410.1ZM444.5 407.9L445.8 406.6L447.1 407.9L445.8 409.2ZM445.3 408.2L446.6 406.9L447.9 408.2L446.6 409.5ZM445.0 408.5L446.3 407.2L447.6 408.5L446.3 409.8ZM445.9 408.1L447.2 406.8L448.5 408.1L447.2 409.4ZM446.2 409.8L447.5 408.5L448.8 409.8L447.5 411.1ZM446.6 409.2L447.9 407.9L449.2 409.2L447.9 410.5ZM446.6 410.2L447.9 408.9L449.2 410.2L447.9 411.5ZM446.9 410.2L448.2 408.9L449.5 410.2L448.2 411.5ZM447.2 410.4L448.5 409.1L449.8 410.4L448.5 411.7ZM447.5 411.1L448.8 409.8L450.1 411.1L448.8 412.4ZM447.7 411.5L449.0 410.2L450.3 411.5L449.0 412.8ZM447.7 411.7L449.0 410.4L450.3 411.7L449.0 413.0ZM447.6 412.6L448.9 411.3L450.2 412.6L448.9 413.9ZM447.0 412.4L448.3 411.1L449.6 412.4L448.3 413.7ZM447.9 414.0L449.2 412.7L450.5 414.0L449.2 415.3ZM448.6 414.6L449.9 413.3L451.2 414.6L449.9 415.9ZM448.8 415.2L450.1 413.9L451.4 415.2L450.1 416.5ZM447.9 414.3L449.2 413.0L450.5 414.3L449.2 415.6ZM448.0 415.9L449.3 414.6L450.6 415.9L449.3 417.2ZM448.2 415.5L449.5 414.2L450.8 415.5L449.5 416.8ZM448.3 417.0L449.6 415.7L450.9 417.0L449.6 418.3ZM448.6 416.3L449.9 415.0L451.2 416.3L449.9 417.6ZM449.5 417.6L450.8 416.3L452.1 417.6L450.8 418.9ZM448.7 417.9L450.0 416.6L451.3 417.9L450.0 419.2ZM449.8 418.3L451.1 417.0L452.4 418.3L451.1 419.6ZM449.9 418.3L451.2 417.0L452.5 418.3L451.2 419.6ZM450.5 417.9L451.8 416.6L453.1 417.9L451.8 419.2ZM449.8 416.1L451.1 414.8L452.4 416.1L451.1 417.4ZM450.2 415.6L451.5 414.3L452.8 415.6L451.5 416.9ZM450.6 416.0L451.9 414.7L453.2 416.0L451.9 417.3ZM450.9 416.1L452.2 414.8L453.5 416.1L452.2 417.4ZM451.0 415.4L452.3 414.1L453.6 415.4L452.3 416.7ZM450.5 415.1L451.8 413.8L453.1 415.1L451.8 416.4ZM451.1 413.8L452.4 412.5L453.7 413.8L452.4 415.1ZM451.7 413.8L453.0 412.5L454.3 413.8L453.0 415.1ZM451.2 412.8L452.5 411.5L453.8 412.8L452.5 414.1ZM451.9 412.9L453.2 411.6L454.5 412.9L453.2 414.2ZM451.8 413.1L453.1 411.8L454.4 413.1L453.1 414.4ZM451.6 412.2L452.9 410.9L454.2 412.2L452.9 413.5ZM451.6 411.2L452.9 409.9L454.2 411.2L452.9 412.5ZM452.4 411.9L453.7 410.6L455.0 411.9L453.7 413.2ZM451.2 409.9L452.5 408.6L453.8 409.9L452.5 411.2ZM452.1 409.6L453.4 408.3L454.7 409.6L453.4 410.9ZM452.2 409.6L453.5 408.3L454.8 409.6L453.5 410.9ZM452.1 409.9L453.4 408.6L454.7 409.9L453.4 411.2ZM452.8 409.7L454.1 408.4L455.4 409.7L454.1 411.0ZM452.3 408.4L453.6 407.1L454.9 408.4L453.6 409.7ZM453.2 408.6L454.5 407.3L455.8 408.6L454.5 409.9ZM453.0 407.2L454.3 405.9L455.6 407.2L454.3 408.5ZM453.1 407.4L454.4 406.1L455.7 407.4L454.4 408.7ZM454.2 407.1L455.5 405.8L456.8 407.1L455.5 408.4ZM454.2 407.0L455.5 405.7L456.8 407.0L455.5 408.3ZM453.6 406.8L454.9 405.5L456.2 406.8L454.9 408.1ZM454.5 407.6L455.8 406.3L457.1 407.6L455.8 408.9ZM453.9 407.2L455.2 405.9L456.5 407.2L455.2 408.5ZM454.7 407.8L456.0 406.5L457.3 407.8L456.0 409.1ZM454.0 408.1L455.3 406.8L456.6 408.1L455.3 409.4ZM454.9 409.2L456.2 407.9L457.5 409.2L456.2 410.5ZM455.5 409.6L456.8 408.3L458.1 409.6L456.8 410.9ZM454.9 410.5L456.2 409.2L457.5 410.5L456.2 411.8ZM454.5 410.5L455.8 409.2L457.1 410.5L455.8 411.8ZM456.1 410.4L457.4 409.1L458.7 410.4L457.4 411.7ZM454.8 410.5L456.1 409.2L457.4 410.5L456.1 411.8ZM454.8 412.0L456.1 410.7L457.4 412.0L456.1 413.3ZM455.6 412.6L456.9 411.3L458.2 412.6L456.9 413.9ZM456.4 411.7L457.7 410.4L459.0 411.7L457.7 413.0ZM455.6 412.5L456.9 411.2L458.2 412.5L456.9 413.8ZM455.6 412.6L456.9 411.3L458.2 412.6L456.9 413.9ZM455.7 413.5L457.0 412.2L458.3 413.5L457.0 414.8ZM456.2 414.3L457.5 413.0L458.8 414.3L457.5 415.6ZM457.2 414.0L458.5 412.7L459.8 414.0L458.5 415.3ZM455.9 415.8L457.2 414.5L458.5 415.8L457.2 417.1ZM456.2 415.6L457.5 414.3L458.8 415.6L457.5 416.9ZM456.4 416.7L457.7 415.4L459.0 416.7L457.7 418.0ZM457.6 416.5L458.9 415.2L460.2 416.5L458.9 417.8ZM456.2 416.6L457.5 415.3L458.8 416.6L457.5 417.9ZM457.4 417.4L458.7 416.1L460.0 417.4L458.7 418.7ZM456.8 417.6L458.1 416.3L459.4 417.6L458.1 418.9ZM456.5 418.0L457.8 416.7L459.1 418.0L457.8 419.3ZM457.9 418.4L459.2 417.1L460.5 418.4L459.2 419.7ZM457.4 418.5L458.7 417.2L460.0 418.5L458.7 419.8ZM457.6 419.5L458.9 418.2L460.2 419.5L458.9 420.8Z" fill="#000" clip-path="url(#c6)"/>
<line x1="187.5" y1="6" x2="187.5" y2="456" stroke="#000" stroke-width="1.3"/>
<line x1="460.2" y1="6" x2="460.2" y2="456" stroke="#111" stroke-width="1.3" stroke-dasharray="6.4 3"/>
<rect x="60.5" y="6.5" width="487" height="64" fill="none" stroke="#505050" stroke-width="1.2"/>
<line x1="199.5" y1="6" x2="199.5" y2="11" stroke="#505050"/>
<line x1="199.5" y1="70" x2="199.5" y2="65" stroke="#505050"/>
<line x1="338.5" y1="6" x2="338.5" y2="11" stroke="#505050"/>
<line x1="338.5" y1="70" x2="338.5" y2="65" stroke="#505050"/>
<line x1="477.5" y1="6" x2="477.5" y2="11" stroke="#505050"/>
<line x1="477.5" y1="70" x2="477.5" y2="65" stroke="#505050"/>
<rect x="60.5" y="70.5" width="487" height="64" fill="none" stroke="#505050" stroke-width="1.2"/>
<line x1="199.5" y1="70" x2="199.5" y2="75" stroke="#505050"/>
<line x1="199.5" y1="134" x2="199.5" y2="129" stroke="#505050"/>
<line x1="338.5" y1="70" x2="338.5" y2="75" stroke="#505050"/>
<line x1="338.5" y1="134" x2="338.5" y2="129" stroke="#505050"/>
<line x1="477.5" y1="70" x2="477.5" y2="75" stroke="#505050"/>
<line x1="477.5" y1="134" x2="477.5" y2="129" stroke="#505050"/>
<rect x="60.5" y="134.5" width="487" height="65" fill="none" stroke="#505050" stroke-width="1.2"/>
<line x1="199.5" y1="134" x2="199.5" y2="139" stroke="#505050"/>
<line x1="199.5" y1="199" x2="199.5" y2="194" stroke="#505050"/>
<line x1="338.5" y1="134" x2="338.5" y2="139" stroke="#505050"/>
<line x1="338.5" y1="199" x2="338.5" y2="194" stroke="#505050"/>
<line x1="477.5" y1="134" x2="477.5" y2="139" stroke="#505050"/>
<line x1="477.5" y1="199" x2="477.5" y2="194" stroke="#505050"/>
<rect x="60.5" y="199.5" width="487" height="64" fill="none" stroke="#505050" stroke-width="1.2"/>
<line x1="199.5" y1="199" x2="199.5" y2="204" stroke="#505050"/>
<line x1="199.5" y1="263" x2="199.5" y2="258" stroke="#505050"/>
<line x1="338.5" y1="199" x2="338.5" y2="204" stroke="#505050"/>
<line x1="338.5" y1="263" x2="338.5" y2="258" stroke="#505050"/>
<line x1="477.5" y1="199" x2="477.5" y2="204" stroke="#505050"/>
<line x1="477.5" y1="263" x2="477.5" y2="258" stroke="#505050"/>
<rect x="60.5" y="263.5" width="487" height="65" fill="none" stroke="#505050" stroke-width="1.2"/>
<line x1="199.5" y1="263" x2="199.5" y2="268" stroke="#505050"/>
<line x1="199.5" y1="328" x2="199.5" y2="323" stroke="#505050"/>
<line x1="338.5" y1="263" x2="338.5" y2="268" stroke="#505050"/>
<line x1="338.5" y1="328" x2="338.5" y2="323" stroke="#505050"/>
<line x1="477.5" y1="263" x2="477.5" y2="268" stroke="#505050"/>
<line x1="477.5" y1="328" x2="477.5" y2="323" stroke="#505050"/>
<rect x="60.5" y="328.5" width="487" height="64" fill="none" stroke="#505050" stroke-width="1.2"/>
<line x1="199.5" y1="328" x2="199.5" y2="333" stroke="#505050"/>
<line x1="199.5" y1="392" x2="199.5" y2="387" stroke="#505050"/>
<line x1="338.5" y1="328" x2="338.5" y2="333" stroke="#505050"/>
<line x1="338.5" y1="392" x2="338.5" y2="387" stroke="#505050"/>
<line x1="477.5" y1="328" x2="477.5" y2="333" stroke="#505050"/>
<line x1="477.5" y1="392" x2="477.5" y2="387" stroke="#505050"/>
<rect x="60.5" y="392.5" width="487" height="64" fill="none" stroke="#505050" stroke-width="1.2"/>
<line x1="199.5" y1="392" x2="199.5" y2="397" stroke="#505050"/>
<line x1="199.5" y1="456" x2="199.5" y2="451" stroke="#505050"/>
<line x1="338.5" y1="392" x2="338.5" y2="397" stroke="#505050"/>
<line x1="338.5" y1="456" x2="338.5" y2="451" stroke="#505050"/>
<line x1="477.5" y1="392" x2="477.5" y2="397" stroke="#505050"/>
<line x1="477.5" y1="456" x2="477.5" y2="451" stroke="#505050"/>
<line x1="60" y1="19.3" x2="65" y2="19.3" stroke="#505050"/>
<line x1="547" y1="19.3" x2="542" y2="19.3" stroke="#505050"/>
<line x1="60" y1="32.1" x2="65" y2="32.1" stroke="#505050"/>
<line x1="547" y1="32.1" x2="542" y2="32.1" stroke="#505050"/>
<line x1="60" y1="44.9" x2="65" y2="44.9" stroke="#505050"/>
<line x1="547" y1="44.9" x2="542" y2="44.9" stroke="#505050"/>
<line x1="60" y1="57.7" x2="65" y2="57.7" stroke="#505050"/>
<line x1="547" y1="57.7" x2="542" y2="57.7" stroke="#505050"/>
<line x1="60" y1="132.07328454274497" x2="64.5" y2="132.07328454274497" stroke="#505050"/>
<line x1="547" y1="132.07328454274497" x2="542.5" y2="132.07328454274497" stroke="#505050"/>
<line x1="60" y1="119.00979993666218" x2="64.5" y2="119.00979993666218" stroke="#505050"/>
<line x1="547" y1="119.00979993666218" x2="542.5" y2="119.00979993666218" stroke="#505050"/>
<line x1="60" y1="112.37644220803466" x2="64.5" y2="112.37644220803466" stroke="#505050"/>
<line x1="547" y1="112.37644220803466" x2="542.5" y2="112.37644220803466" stroke="#505050"/>
<line x1="60" y1="107.67" x2="64.5" y2="107.67" stroke="#505050"/>
<line x1="547" y1="107.67" x2="542.5" y2="107.67" stroke="#505050"/>
<line x1="60" y1="104.01939980998651" x2="64.5" y2="104.01939980998651" stroke="#505050"/>
<line x1="547" y1="104.01939980998651" x2="542.5" y2="104.01939980998651" stroke="#505050"/>
<line x1="60" y1="101.0366422713725" x2="64.5" y2="101.0366422713725" stroke="#505050"/>
<line x1="547" y1="101.0366422713725" x2="542.5" y2="101.0366422713725" stroke="#505050"/>
<line x1="60" y1="98.5147567059873" x2="64.5" y2="98.5147567059873" stroke="#505050"/>
<line x1="547" y1="98.5147567059873" x2="542.5" y2="98.5147567059873" stroke="#505050"/>
<line x1="60" y1="96.33020006333783" x2="64.5" y2="96.33020006333783" stroke="#505050"/>
<line x1="547" y1="96.33020006333783" x2="542.5" y2="96.33020006333783" stroke="#505050"/>
<line x1="60" y1="94.40328454274498" x2="64.5" y2="94.40328454274498" stroke="#505050"/>
<line x1="547" y1="94.40328454274498" x2="542.5" y2="94.40328454274498" stroke="#505050"/>
<line x1="60" y1="81.33979993666217" x2="64.5" y2="81.33979993666217" stroke="#505050"/>
<line x1="547" y1="81.33979993666217" x2="542.5" y2="81.33979993666217" stroke="#505050"/>
<line x1="60" y1="74.70644220803467" x2="64.5" y2="74.70644220803467" stroke="#505050"/>
<line x1="547" y1="74.70644220803467" x2="542.5" y2="74.70644220803467" stroke="#505050"/>
<line x1="60" y1="70.0" x2="64.5" y2="70.0" stroke="#505050"/>
<line x1="547" y1="70.0" x2="542.5" y2="70.0" stroke="#505050"/>
<line x1="60" y1="130.34959987332434" x2="66" y2="130.34959987332434" stroke="#505050"/>
<line x1="547" y1="130.34959987332434" x2="541" y2="130.34959987332434" stroke="#505050"/>
<line x1="60" y1="92.67959987332435" x2="66" y2="92.67959987332435" stroke="#505050"/>
<line x1="547" y1="92.67959987332435" x2="541" y2="92.67959987332435" stroke="#505050"/>
<line x1="60" y1="198.9949310571028" x2="64.5" y2="198.9949310571028" stroke="#505050"/>
<line x1="547" y1="198.9949310571028" x2="542.5" y2="198.9949310571028" stroke="#505050"/>
<line x1="60" y1="195.87396141662748" x2="64.5" y2="195.87396141662748" stroke="#505050"/>
<line x1="547" y1="195.87396141662748" x2="542.5" y2="195.87396141662748" stroke="#505050"/>
<line x1="60" y1="193.45314929168626" x2="64.5" y2="193.45314929168626" stroke="#505050"/>
<line x1="547" y1="193.45314929168626" x2="542.5" y2="193.45314929168626" stroke="#505050"/>
<line x1="60" y1="191.47520176541656" x2="64.5" y2="191.47520176541656" stroke="#505050"/>
<line x1="547" y1="191.47520176541656" x2="542.5" y2="191.47520176541656" stroke="#505050"/>
<line x1="60" y1="189.80287096044384" x2="64.5" y2="189.80287096044384" stroke="#505050"/>
<line x1="547" y1="189.80287096044384" x2="542.5" y2="189.80287096044384" stroke="#505050"/>
<line x1="60" y1="188.35423212494123" x2="64.5" y2="188.35423212494123" stroke="#505050"/>
<line x1="547" y1="188.35423212494123" x2="542.5" y2="188.35423212494123" stroke="#505050"/>
<line x1="60" y1="187.07644211420566" x2="64.5" y2="187.07644211420566" stroke="#505050"/>
<line x1="547" y1="187.07644211420566" x2="542.5" y2="187.07644211420566" stroke="#505050"/>
<line x1="60" y1="178.41369070831374" x2="64.5" y2="178.41369070831374" stroke="#505050"/>
<line x1="547" y1="178.41369070831374" x2="542.5" y2="178.41369070831374" stroke="#505050"/>
<line x1="60" y1="174.0149310571028" x2="64.5" y2="174.0149310571028" stroke="#505050"/>
<line x1="547" y1="174.0149310571028" x2="542.5" y2="174.0149310571028" stroke="#505050"/>
<line x1="60" y1="170.8939614166275" x2="64.5" y2="170.8939614166275" stroke="#505050"/>
<line x1="547" y1="170.8939614166275" x2="542.5" y2="170.8939614166275" stroke="#505050"/>
<line x1="60" y1="168.47314929168624" x2="64.5" y2="168.47314929168624" stroke="#505050"/>
<line x1="547" y1="168.47314929168624" x2="542.5" y2="168.47314929168624" stroke="#505050"/>
<line x1="60" y1="166.49520176541657" x2="64.5" y2="166.49520176541657" stroke="#505050"/>
<line x1="547" y1="166.49520176541657" x2="542.5" y2="166.49520176541657" stroke="#505050"/>
<line x1="60" y1="164.82287096044385" x2="64.5" y2="164.82287096044385" stroke="#505050"/>
<line x1="547" y1="164.82287096044385" x2="542.5" y2="164.82287096044385" stroke="#505050"/>
<line x1="60" y1="163.37423212494124" x2="64.5" y2="163.37423212494124" stroke="#505050"/>
<line x1="547" y1="163.37423212494124" x2="542.5" y2="163.37423212494124" stroke="#505050"/>
<line x1="60" y1="162.09644211420564" x2="64.5" y2="162.09644211420564" stroke="#505050"/>
<line x1="547" y1="162.09644211420564" x2="542.5" y2="162.09644211420564" stroke="#505050"/>
<line x1="60" y1="153.43369070831375" x2="64.5" y2="153.43369070831375" stroke="#505050"/>
<line x1="547" y1="153.43369070831375" x2="542.5" y2="153.43369070831375" stroke="#505050"/>
<line x1="60" y1="149.03493105710282" x2="64.5" y2="149.03493105710282" stroke="#505050"/>
<line x1="547" y1="149.03493105710282" x2="542.5" y2="149.03493105710282" stroke="#505050"/>
<line x1="60" y1="145.9139614166275" x2="64.5" y2="145.9139614166275" stroke="#505050"/>
<line x1="547" y1="145.9139614166275" x2="542.5" y2="145.9139614166275" stroke="#505050"/>
<line x1="60" y1="143.49314929168625" x2="64.5" y2="143.49314929168625" stroke="#505050"/>
<line x1="547" y1="143.49314929168625" x2="542.5" y2="143.49314929168625" stroke="#505050"/>
<line x1="60" y1="141.51520176541658" x2="64.5" y2="141.51520176541658" stroke="#505050"/>
<line x1="547" y1="141.51520176541658" x2="542.5" y2="141.51520176541658" stroke="#505050"/>
<line x1="60" y1="139.84287096044386" x2="64.5" y2="139.84287096044386" stroke="#505050"/>
<line x1="547" y1="139.84287096044386" x2="542.5" y2="139.84287096044386" stroke="#505050"/>
<line x1="60" y1="138.39423212494123" x2="64.5" y2="138.39423212494123" stroke="#505050"/>
<line x1="547" y1="138.39423212494123" x2="542.5" y2="138.39423212494123" stroke="#505050"/>
<line x1="60" y1="137.11644211420565" x2="64.5" y2="137.11644211420565" stroke="#505050"/>
<line x1="547" y1="137.11644211420565" x2="542.5" y2="137.11644211420565" stroke="#505050"/>
<line x1="60" y1="185.93341999999998" x2="66" y2="185.93341999999998" stroke="#505050"/>
<line x1="547" y1="185.93341999999998" x2="541" y2="185.93341999999998" stroke="#505050"/>
<line x1="60" y1="160.95342" x2="66" y2="160.95342" stroke="#505050"/>
<line x1="547" y1="160.95342" x2="541" y2="160.95342" stroke="#505050"/>
<line x1="60" y1="135.97342" x2="66" y2="135.97342" stroke="#505050"/>
<line x1="547" y1="135.97342" x2="541" y2="135.97342" stroke="#505050"/>
<line x1="60" y1="261.7692307692308" x2="65" y2="261.7692307692308" stroke="#505050"/>
<line x1="547" y1="261.7692307692308" x2="542" y2="261.7692307692308" stroke="#505050"/>
<line x1="60" y1="251.9230769230769" x2="65" y2="251.9230769230769" stroke="#505050"/>
<line x1="547" y1="251.9230769230769" x2="542" y2="251.9230769230769" stroke="#505050"/>
<line x1="60" y1="242.0769230769231" x2="65" y2="242.0769230769231" stroke="#505050"/>
<line x1="547" y1="242.0769230769231" x2="542" y2="242.0769230769231" stroke="#505050"/>
<line x1="60" y1="232.23076923076923" x2="65" y2="232.23076923076923" stroke="#505050"/>
<line x1="547" y1="232.23076923076923" x2="542" y2="232.23076923076923" stroke="#505050"/>
<line x1="60" y1="222.3846153846154" x2="65" y2="222.3846153846154" stroke="#505050"/>
<line x1="547" y1="222.3846153846154" x2="542" y2="222.3846153846154" stroke="#505050"/>
<line x1="60" y1="212.53846153846155" x2="65" y2="212.53846153846155" stroke="#505050"/>
<line x1="547" y1="212.53846153846155" x2="542" y2="212.53846153846155" stroke="#505050"/>
<line x1="60" y1="202.69230769230768" x2="65" y2="202.69230769230768" stroke="#505050"/>
<line x1="547" y1="202.69230769230768" x2="542" y2="202.69230769230768" stroke="#505050"/>
<line x1="60" y1="323.9375" x2="65" y2="323.9375" stroke="#505050"/>
<line x1="547" y1="323.9375" x2="542" y2="323.9375" stroke="#505050"/>
<line x1="60" y1="315.8125" x2="65" y2="315.8125" stroke="#505050"/>
<line x1="547" y1="315.8125" x2="542" y2="315.8125" stroke="#505050"/>
<line x1="60" y1="307.6875" x2="65" y2="307.6875" stroke="#505050"/>
<line x1="547" y1="307.6875" x2="542" y2="307.6875" stroke="#505050"/>
<line x1="60" y1="299.5625" x2="65" y2="299.5625" stroke="#505050"/>
<line x1="547" y1="299.5625" x2="542" y2="299.5625" stroke="#505050"/>
<line x1="60" y1="291.4375" x2="65" y2="291.4375" stroke="#505050"/>
<line x1="547" y1="291.4375" x2="542" y2="291.4375" stroke="#505050"/>
<line x1="60" y1="283.3125" x2="65" y2="283.3125" stroke="#505050"/>
<line x1="547" y1="283.3125" x2="542" y2="283.3125" stroke="#505050"/>
<line x1="60" y1="275.1875" x2="65" y2="275.1875" stroke="#505050"/>
<line x1="547" y1="275.1875" x2="542" y2="275.1875" stroke="#505050"/>
<line x1="60" y1="267.0625" x2="65" y2="267.0625" stroke="#505050"/>
<line x1="547" y1="267.0625" x2="542" y2="267.0625" stroke="#505050"/>
<line x1="60" y1="386.6666666666667" x2="65" y2="386.6666666666667" stroke="#505050"/>
<line x1="547" y1="386.6666666666667" x2="542" y2="386.6666666666667" stroke="#505050"/>
<line x1="60" y1="376.0" x2="65" y2="376.0" stroke="#505050"/>
<line x1="547" y1="376.0" x2="542" y2="376.0" stroke="#505050"/>
<line x1="60" y1="365.3333333333333" x2="65" y2="365.3333333333333" stroke="#505050"/>
<line x1="547" y1="365.3333333333333" x2="542" y2="365.3333333333333" stroke="#505050"/>
<line x1="60" y1="354.6666666666667" x2="65" y2="354.6666666666667" stroke="#505050"/>
<line x1="547" y1="354.6666666666667" x2="542" y2="354.6666666666667" stroke="#505050"/>
<line x1="60" y1="344.0" x2="65" y2="344.0" stroke="#505050"/>
<line x1="547" y1="344.0" x2="542" y2="344.0" stroke="#505050"/>
<line x1="60" y1="333.3333333333333" x2="65" y2="333.3333333333333" stroke="#505050"/>
<line x1="547" y1="333.3333333333333" x2="542" y2="333.3333333333333" stroke="#505050"/>
<line x1="60" y1="410.8" x2="65" y2="410.8" stroke="#505050"/>
<line x1="547" y1="410.8" x2="542" y2="410.8" stroke="#505050"/>
<line x1="60" y1="429" x2="65" y2="429" stroke="#505050"/>
<line x1="547" y1="429" x2="542" y2="429" stroke="#505050"/>
<line x1="60" y1="447.3" x2="65" y2="447.3" stroke="#505050"/>
<line x1="547" y1="447.3" x2="542" y2="447.3" stroke="#505050"/>
<rect x="22.3" y="199.7" width="18" height="65.3" fill="url(#jetg)" stroke="#333" stroke-width="0.8"/>
<rect x="569.7" y="264.8" width="17" height="64" fill="url(#jetg)" stroke="#333" stroke-width="0.8"/>
<rect x="22.3" y="329.2" width="18" height="64.3" fill="url(#jetg)" stroke="#333" stroke-width="0.8"/>
<text x="56.5" y="10.4" font-family="Liberation Sans, sans-serif" font-size="12.5" text-anchor="end" font-weight="normal" fill="#000" stroke="#000" stroke-width="0.35">600</text>
<text x="56.5" y="36.0" font-family="Liberation Sans, sans-serif" font-size="12.5" text-anchor="end" font-weight="normal" fill="#000" stroke="#000" stroke-width="0.35">500</text>
<text x="56.5" y="61.6" font-family="Liberation Sans, sans-serif" font-size="12.5" text-anchor="end" font-weight="normal" fill="#000" stroke="#000" stroke-width="0.35">400</text>
<text x="549.8" y="96.7" font-family="Liberation Sans, sans-serif" font-size="12.5" text-anchor="start" font-weight="normal" fill="#000" stroke="#000" stroke-width="0.35">10</text>
<text x="550.5" y="135.3" font-family="Liberation Sans, sans-serif" font-size="12.5" text-anchor="start" font-weight="normal" fill="#000" stroke="#000" stroke-width="0.35">1</text>
<text x="52.3" y="140.8" font-family="Liberation Sans, sans-serif" font-size="12.5" text-anchor="end" stroke="#000" stroke-width="0.35">10</text>
<text x="53.0" y="132.4" font-family="Liberation Sans, sans-serif" font-size="9" text-anchor="start" stroke="#000" stroke-width="0.35">6</text>
<text x="52.3" y="165.20000000000002" font-family="Liberation Sans, sans-serif" font-size="12.5" text-anchor="end" stroke="#000" stroke-width="0.35">10</text>
<text x="53.0" y="156.8" font-family="Liberation Sans, sans-serif" font-size="9" text-anchor="start" stroke="#000" stroke-width="0.35">5</text>
<text x="52.3" y="190.3" font-family="Liberation Sans, sans-serif" font-size="12.5" text-anchor="end" stroke="#000" stroke-width="0.35">10</text>
<text x="53.0" y="181.9" font-family="Liberation Sans, sans-serif" font-size="9" text-anchor="start" stroke="#000" stroke-width="0.35">4</text>
<text x="549.8" y="206.70000000000002" font-family="Liberation Sans, sans-serif" font-size="12.5" text-anchor="start" font-weight="normal" fill="#000" stroke="#000" stroke-width="0.35">25</text>
<text x="549.8" y="227.1" font-family="Liberation Sans, sans-serif" font-size="12.5" text-anchor="start" font-weight="normal" fill="#000" stroke="#000" stroke-width="0.35">17</text>
<text x="549.8" y="246.70000000000002" font-family="Liberation Sans, sans-serif" font-size="12.5" text-anchor="start" font-weight="normal" fill="#000" stroke="#000" stroke-width="0.35">9</text>
<text x="549.8" y="267.09999999999997" font-family="Liberation Sans, sans-serif" font-size="12.5" text-anchor="start" font-weight="normal" fill="#000" stroke="#000" stroke-width="0.35">1</text>
<text x="56.5" y="272.4" font-family="Liberation Sans, sans-serif" font-size="12.5" text-anchor="end" font-weight="normal" fill="#000" stroke="#000" stroke-width="0.35">8</text>
<text x="56.5" y="288.0" font-family="Liberation Sans, sans-serif" font-size="12.5" text-anchor="end" font-weight="normal" fill="#000" stroke="#000" stroke-width="0.35">6</text>
<text x="56.5" y="304.4" font-family="Liberation Sans, sans-serif" font-size="12.5" text-anchor="end" font-weight="normal" fill="#000" stroke="#000" stroke-width="0.35">4</text>
<text x="56.5" y="319.9" font-family="Liberation Sans, sans-serif" font-size="12.5" text-anchor="end" font-weight="normal" fill="#000" stroke="#000" stroke-width="0.35">2</text>
<text x="549.8" y="338.0" font-family="Liberation Sans, sans-serif" font-size="12.5" text-anchor="start" font-weight="normal" fill="#000" stroke="#000" stroke-width="0.35">6</text>
<text x="549.8" y="360.29999999999995" font-family="Liberation Sans, sans-serif" font-size="12.5" text-anchor="start" font-weight="normal" fill="#000" stroke="#000" stroke-width="0.35">4</text>
<text x="549.8" y="381.09999999999997" font-family="Liberation Sans, sans-serif" font-size="12.5" text-anchor="start" font-weight="normal" fill="#000" stroke="#000" stroke-width="0.35">2</text>
<text x="57" y="415.0" font-family="Liberation Sans, sans-serif" font-size="12.5" text-anchor="end" font-weight="normal" fill="#000" stroke="#000" stroke-width="0.35">10</text>
<text x="60.0" y="471.0" font-family="Liberation Sans, sans-serif" font-size="12.8" text-anchor="middle" font-weight="normal" fill="#000" stroke="#000" stroke-width="0.35">251</text>
<text x="199.3" y="471.0" font-family="Liberation Sans, sans-serif" font-size="12.8" text-anchor="middle" font-weight="normal" fill="#000" stroke="#000" stroke-width="0.35">252</text>
<text x="338.6" y="471.0" font-family="Liberation Sans, sans-serif" font-size="12.8" text-anchor="middle" font-weight="normal" fill="#000" stroke="#000" stroke-width="0.35">253</text>
<text x="477.90000000000003" y="471.0" font-family="Liberation Sans, sans-serif" font-size="12.8" text-anchor="middle" font-weight="normal" fill="#000" stroke="#000" stroke-width="0.35">254</text>
<text x="303.5" y="486.8" font-family="Liberation Sans, sans-serif" font-size="12.3" text-anchor="middle" font-weight="bold" fill="#000" >Day of Year 2002</text>
<text x="19.3" y="204.3" font-family="Liberation Sans, sans-serif" font-size="12.5" text-anchor="end" font-weight="normal" fill="#000" stroke="#000" stroke-width="0.35">-5</text>
<text x="19.3" y="269.79999999999995" font-family="Liberation Sans, sans-serif" font-size="12.5" text-anchor="end" font-weight="normal" fill="#000" stroke="#000" stroke-width="0.35">-10</text>
<text x="19.3" y="334.7" font-family="Liberation Sans, sans-serif" font-size="12.5" text-anchor="end" font-weight="normal" fill="#000" stroke="#000" stroke-width="0.35">-4</text>
<text x="19.3" y="359.09999999999997" font-family="Liberation Sans, sans-serif" font-size="12.5" text-anchor="end" font-weight="normal" fill="#000" stroke="#000" stroke-width="0.35">-6</text>
<text x="19.3" y="385.09999999999997" font-family="Liberation Sans, sans-serif" font-size="12.5" text-anchor="end" font-weight="normal" fill="#000" stroke="#000" stroke-width="0.35">-8</text>
<text x="588.5" y="269.79999999999995" font-family="Liberation Sans, sans-serif" font-size="12.5" text-anchor="start" font-weight="normal" fill="#000" stroke="#000" stroke-width="0.35">-4</text>
<text x="588.5" y="294.4" font-family="Liberation Sans, sans-serif" font-size="12.5" text-anchor="start" font-weight="normal" fill="#000" stroke="#000" stroke-width="0.35">-6</text>
<text x="588.5" y="321.7" font-family="Liberation Sans, sans-serif" font-size="12.5" text-anchor="start" font-weight="normal" fill="#000" stroke="#000" stroke-width="0.35">-8</text>
<text transform="translate(21.0,64.8) rotate(-90)" font-family="Liberation Sans, sans-serif" font-size="12.8" font-weight="bold" >v</text>
<text transform="translate(26.3,57.2) rotate(-90)" font-family="Liberation Sans, sans-serif" font-size="9" font-weight="bold" >p</text>
<text transform="translate(20.8,48.6) rotate(-90)" font-family="Liberation Sans, sans-serif" font-size="12.3" font-weight="bold" >(km/s)</text>
<text transform="translate(583.2,131.9) rotate(-90)" font-family="Liberation Sans, sans-serif" font-size="12.8" font-weight="bold" >n</text>
<text transform="translate(589.0,123.2) rotate(-90)" font-family="Liberation Sans, sans-serif" font-size="9" font-weight="bold" >p</text>
<text transform="translate(583.4,112.0) rotate(-90)" font-family="Liberation Sans, sans-serif" font-size="12.4" font-weight="bold" >(cm</text>
<text transform="translate(575.3,86.9) rotate(-90)" font-family="Liberation Sans, sans-serif" font-size="10.5" font-weight="bold" >3</text>
<text transform="translate(583.4,77.6) rotate(-90)" font-family="Liberation Sans, sans-serif" font-size="12.4" font-weight="bold" >)</text>
<text transform="translate(23.7,185.3) rotate(-90)" font-family="Liberation Sans, sans-serif" font-size="12.8" font-weight="bold" >T</text>
<text transform="translate(30.0,176.6) rotate(-90)" font-family="Liberation Sans, sans-serif" font-size="9" font-weight="bold" >p</text>
<text transform="translate(23.9,167.0) rotate(-90)" font-family="Liberation Sans, sans-serif" font-size="13.2" font-weight="bold" >(K)</text>
<text transform="translate(578.3,243.3) rotate(-90)" font-family="Liberation Sans, sans-serif" font-size="13.3" font-weight="bold" >Q</text>
<text transform="translate(586.4,232.3) rotate(-90)" font-family="Liberation Sans, sans-serif" font-size="10" font-weight="bold" >Fe</text>
<text transform="translate(34.4,304.4) rotate(-90)" font-family="Liberation Sans, sans-serif" font-size="12" font-weight="normal" >Q</text>
<text transform="translate(41.4,294.6) rotate(-90)" font-family="Liberation Sans, sans-serif" font-size="9" font-weight="normal" >O</text>
<text transform="translate(571.2,369.6) rotate(-90)" font-family="Liberation Sans, sans-serif" font-size="13.3" font-weight="bold" >Q</text>
<text transform="translate(579.2,358.9) rotate(-90)" font-family="Liberation Sans, sans-serif" font-size="10.5" font-weight="bold" >C</text>
<text transform="translate(34.6,446.0) rotate(-90)" font-family="Liberation Sans, sans-serif" font-size="12" font-weight="bold" >|B| (nT)</text>
<rect x="384.5" y="11.5" width="159" height="16.5" fill="#fff" stroke="#333" stroke-width="1"/>
<circle cx="404" cy="19" r="1.3" fill="#1010d0"/>
<circle cx="474.3" cy="19" r="1.3" fill="#d01010"/>
<text x="420.4" y="23.6" font-family="Liberation Sans, sans-serif" font-size="11.5" text-anchor="start" font-weight="normal" fill="#444" textLength="34.7" lengthAdjust="spacingAndGlyphs">SWICS</text>
<text x="491.3" y="23.6" font-family="Liberation Sans, sans-serif" font-size="11.5" text-anchor="start" font-weight="normal" fill="#444" textLength="48.7" lengthAdjust="spacingAndGlyphs">SWEPAM</text>
<rect x="327" y="5.5" width="97.5" height="194.0" fill="#ff0000" fill-opacity="0.188"/>
<rect x="327" y="391.5" width="97.5" height="65.5" fill="#ff0000" fill-opacity="0.188"/></svg></body></html>
